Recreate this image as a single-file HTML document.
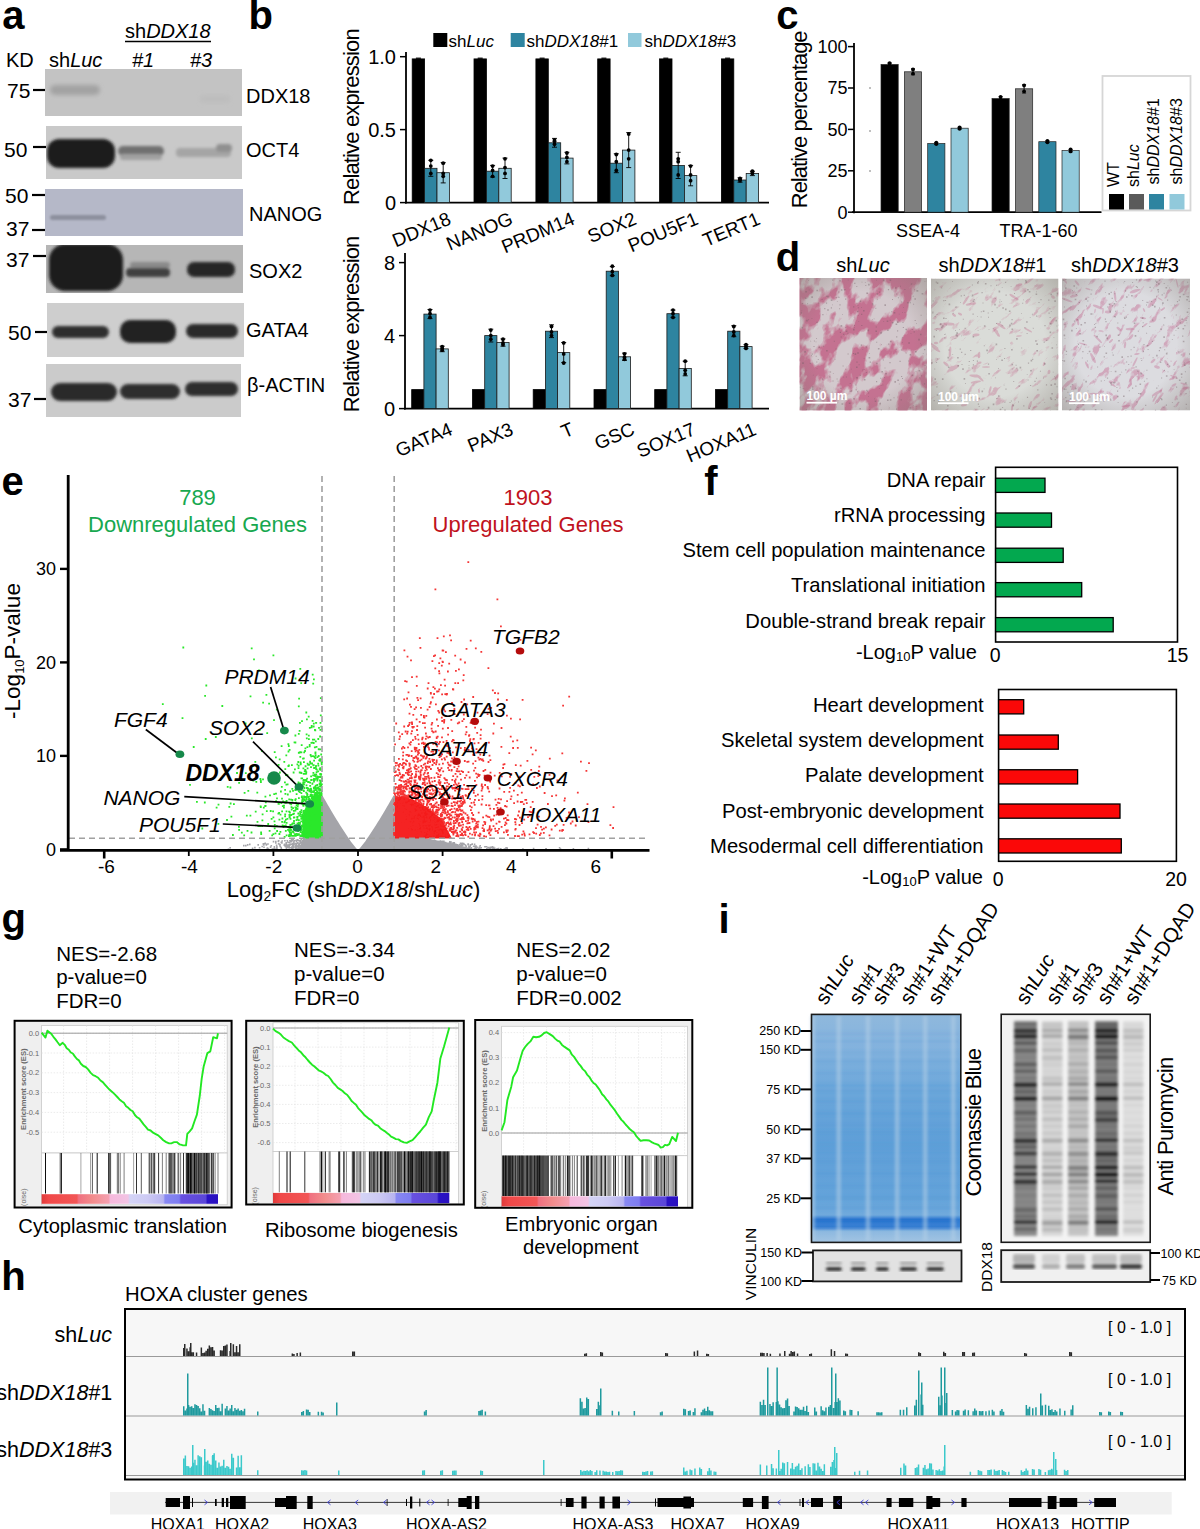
<!DOCTYPE html>
<html><head><meta charset="utf-8"><title>Figure</title>
<style>
html,body{margin:0;padding:0;background:#fff;}
body{width:1200px;height:1529px;overflow:hidden;}
svg{display:block;font-family:"Liberation Sans", sans-serif;}
</style></head><body>
<svg width="1200" height="1529" viewBox="0 0 1200 1529">
<defs>
<clipPath id="clip_a1"><rect x="45" y="69" width="197" height="47"/></clipPath>
<filter id="blura1" x="-20%" y="-50%" width="140%" height="200%"><feGaussianBlur stdDeviation="2.2"/></filter>
<clipPath id="clip_a2"><rect x="46" y="126" width="196" height="53"/></clipPath>
<filter id="blura2" x="-20%" y="-50%" width="140%" height="200%"><feGaussianBlur stdDeviation="1.8"/></filter>
<clipPath id="clip_a3"><rect x="45" y="189" width="198" height="47"/></clipPath>
<filter id="blura3" x="-20%" y="-50%" width="140%" height="200%"><feGaussianBlur stdDeviation="1.2"/></filter>
<clipPath id="clip_a4"><rect x="46" y="245" width="197" height="48"/></clipPath>
<filter id="blura4" x="-20%" y="-50%" width="140%" height="200%"><feGaussianBlur stdDeviation="1.6"/></filter>
<clipPath id="clip_a5"><rect x="47" y="303" width="197" height="54"/></clipPath>
<filter id="blura5" x="-20%" y="-50%" width="140%" height="200%"><feGaussianBlur stdDeviation="1.5"/></filter>
<clipPath id="clip_a6"><rect x="46" y="364" width="195" height="53"/></clipPath>
<filter id="blura6" x="-20%" y="-50%" width="140%" height="200%"><feGaussianBlur stdDeviation="1.5"/></filter>
<radialGradient id="vig" cx="0.5" cy="0.5" r="0.72"><stop offset="0.55" stop-color="#807870" stop-opacity="0"/><stop offset="1" stop-color="#807870" stop-opacity="0.45"/></radialGradient>
<clipPath id="mcd1"><rect x="799.5" y="278" width="127.5" height="132.5"/></clipPath>
<filter id="tbd1" x="0" y="0" width="1" height="1" color-interpolation-filters="sRGB"><feTurbulence type="fractalNoise" baseFrequency="0.04 0.065" numOctaves="4" seed="11"/><feColorMatrix type="matrix" values="0 0 0 0 0.753  0 0 0 0 0.353  0 0 0 0 0.502  1 0 0 0 0"/><feComponentTransfer><feFuncA type="linear" slope="7" intercept="-3.080"/></feComponentTransfer></filter>
<clipPath id="mcd2"><rect x="931" y="278.5" width="127.5" height="132"/></clipPath>
<filter id="tbd2" x="0" y="0" width="1" height="1" color-interpolation-filters="sRGB"><feTurbulence type="fractalNoise" baseFrequency="0.07 0.18" numOctaves="4" seed="22"/><feColorMatrix type="matrix" values="0 0 0 0 0.761  0 0 0 0 0.400  0 0 0 0 0.541  1 0 0 0 0"/><feComponentTransfer><feFuncA type="linear" slope="7" intercept="-4.200"/></feComponentTransfer></filter>
<clipPath id="mcd3"><rect x="1062" y="278.5" width="128" height="132"/></clipPath>
<filter id="tbd3" x="0" y="0" width="1" height="1" color-interpolation-filters="sRGB"><feTurbulence type="fractalNoise" baseFrequency="0.07 0.18" numOctaves="4" seed="33"/><feColorMatrix type="matrix" values="0 0 0 0 0.753  0 0 0 0 0.376  0 0 0 0 0.541  1 0 0 0 0"/><feComponentTransfer><feFuncA type="linear" slope="7" intercept="-4.060"/></feComponentTransfer></filter>
<linearGradient id="cbg1" x1="0" x2="1" y1="0" y2="0"><stop offset="0" stop-color="#e03a3a"/><stop offset="0.04" stop-color="#f04848"/><stop offset="0.2" stop-color="#f25656"/><stop offset="0.21" stop-color="#f07080"/><stop offset="0.29" stop-color="#f28c8c"/><stop offset="0.38" stop-color="#f4a0b0"/><stop offset="0.39" stop-color="#f6b8dc"/><stop offset="0.49" stop-color="#f2c4e4"/><stop offset="0.5" stop-color="#d4d4f6"/><stop offset="0.6" stop-color="#cdcaf4"/><stop offset="0.69" stop-color="#b8b4f0"/><stop offset="0.7" stop-color="#8888f2"/><stop offset="0.78" stop-color="#7d7cf0"/><stop offset="0.79" stop-color="#6850e0"/><stop offset="0.93" stop-color="#5a46d8"/><stop offset="0.94" stop-color="#2a12c4"/><stop offset="1" stop-color="#2a10c0"/></linearGradient>
<linearGradient id="cbg2" x1="0" x2="1" y1="0" y2="0"><stop offset="0" stop-color="#e03a3a"/><stop offset="0.04" stop-color="#f04848"/><stop offset="0.2" stop-color="#f25656"/><stop offset="0.21" stop-color="#f07080"/><stop offset="0.29" stop-color="#f28c8c"/><stop offset="0.38" stop-color="#f4a0b0"/><stop offset="0.39" stop-color="#f6b8dc"/><stop offset="0.49" stop-color="#f2c4e4"/><stop offset="0.5" stop-color="#d4d4f6"/><stop offset="0.6" stop-color="#cdcaf4"/><stop offset="0.69" stop-color="#b8b4f0"/><stop offset="0.7" stop-color="#8888f2"/><stop offset="0.78" stop-color="#7d7cf0"/><stop offset="0.79" stop-color="#6850e0"/><stop offset="0.93" stop-color="#5a46d8"/><stop offset="0.94" stop-color="#2a12c4"/><stop offset="1" stop-color="#2a10c0"/></linearGradient>
<linearGradient id="cbg3" x1="0" x2="1" y1="0" y2="0"><stop offset="0" stop-color="#e03a3a"/><stop offset="0.04" stop-color="#f04848"/><stop offset="0.2" stop-color="#f25656"/><stop offset="0.21" stop-color="#f07080"/><stop offset="0.29" stop-color="#f28c8c"/><stop offset="0.38" stop-color="#f4a0b0"/><stop offset="0.39" stop-color="#f6b8dc"/><stop offset="0.49" stop-color="#f2c4e4"/><stop offset="0.5" stop-color="#d4d4f6"/><stop offset="0.6" stop-color="#cdcaf4"/><stop offset="0.69" stop-color="#b8b4f0"/><stop offset="0.7" stop-color="#8888f2"/><stop offset="0.78" stop-color="#7d7cf0"/><stop offset="0.79" stop-color="#6850e0"/><stop offset="0.93" stop-color="#5a46d8"/><stop offset="0.94" stop-color="#2a12c4"/><stop offset="1" stop-color="#2a10c0"/></linearGradient>
<linearGradient id="cg" x1="0" x2="0" y1="0" y2="1"><stop offset="0" stop-color="#8fb8dc"/><stop offset="0.12" stop-color="#86b4de"/><stop offset="0.35" stop-color="#6aa6da"/><stop offset="0.55" stop-color="#5f9fd8"/><stop offset="0.8" stop-color="#64a3da"/><stop offset="0.88" stop-color="#70aadc"/><stop offset="0.9" stop-color="#2f7ad2"/><stop offset="0.93" stop-color="#3c84d6"/><stop offset="0.95" stop-color="#8cb8e0"/><stop offset="1" stop-color="#a2c4e2"/></linearGradient>
<filter id="gblur" x="-10%" y="-10%" width="120%" height="120%"><feGaussianBlur stdDeviation="1.6"/></filter>
<filter id="pblur" x="-10%" y="-5%" width="120%" height="110%"><feGaussianBlur stdDeviation="1.4"/></filter>
</defs>
<text x="2.3" y="28.6" font-size="40" font-weight="bold">a</text>
<text x="248.6" y="28.6" font-size="40" font-weight="bold">b</text>
<text x="776.2" y="28.6" font-size="40" font-weight="bold">c</text>
<text x="775.8" y="271.4" font-size="40" font-weight="bold">d</text>
<text x="1.4" y="495.3" font-size="40" font-weight="bold">e</text>
<text x="704.3" y="495.1" font-size="40" font-weight="bold">f</text>
<text x="1.4" y="932.3" font-size="40" font-weight="bold">g</text>
<text x="1.2" y="1290.0" font-size="40" font-weight="bold">h</text>
<text x="718.4" y="932.8" font-size="40" font-weight="bold">i</text>
<text x="125.0" y="38.0" font-size="20">sh<tspan font-style="italic">DDX18</tspan></text>
<line x1="125.0" y1="41.5" x2="211.0" y2="41.5" stroke="#000" stroke-width="1.6"/>
<text x="6.0" y="67.0" font-size="20">KD</text>
<text x="49.0" y="67.0" font-size="20">sh<tspan font-style="italic">Luc</tspan></text>
<text x="132.0" y="67.0" font-size="20" font-style="italic">#1</text>
<text x="190.0" y="67.0" font-size="20" font-style="italic">#3</text>
<g><rect x="45" y="69" width="197" height="47" fill="#c3c3c3"/>
<g clip-path="url(#clip_a1)"><g filter="url(#blura1)">
<rect x="50" y="85" width="50" height="10" rx="5" fill="#9a9a9a" opacity="0.8"/>
<rect x="200" y="95" width="30" height="8" rx="4" fill="#b8b8b8" opacity="0.5"/>
</g></g></g>
<g><rect x="46" y="126" width="196" height="53" fill="#c9c9c9"/>
<g clip-path="url(#clip_a2)"><g filter="url(#blura2)">
<rect x="47" y="139" width="68" height="29" rx="12" fill="#1e1e1e" opacity="1"/>
<rect x="118" y="146" width="46" height="10" rx="5" fill="#707070" opacity="1"/>
<rect x="120" y="154" width="42" height="6" rx="3" fill="#a0a0a0" opacity="1"/>
<rect x="176" y="148" width="55" height="9" rx="4" fill="#a5a5a5" opacity="1"/>
<rect x="216" y="144" width="16" height="8" rx="4" fill="#909090" opacity="1"/>
</g></g></g>
<g><rect x="45" y="189" width="198" height="47" fill="#b5b8c8"/>
<g clip-path="url(#clip_a3)"><g filter="url(#blura3)">
<rect x="50" y="215" width="56" height="5" rx="2.5" fill="#8d909e" opacity="1"/>
</g></g></g>
<g><rect x="46" y="245" width="197" height="48" fill="#b6b6b6"/>
<g clip-path="url(#clip_a4)"><g filter="url(#blura4)">
<rect x="49" y="244" width="74" height="47" rx="16" fill="#1c1c1c" opacity="1"/>
<rect x="126" y="268" width="44" height="9" rx="4" fill="#404040" opacity="1"/>
<rect x="130" y="262" width="40" height="6" rx="3" fill="#8a8a8a" opacity="1"/>
<rect x="187" y="262" width="48" height="15" rx="7" fill="#262626" opacity="1"/>
</g></g></g>
<g><rect x="47" y="303" width="197" height="54" fill="#cecece"/>
<g clip-path="url(#clip_a5)"><g filter="url(#blura5)">
<rect x="52" y="326" width="57" height="12" rx="6" fill="#2e2e2e" opacity="1"/>
<rect x="120" y="320" width="56" height="23" rx="10" fill="#222222" opacity="1"/>
<rect x="186" y="324" width="52" height="14" rx="7" fill="#2a2a2a" opacity="1"/>
</g></g></g>
<g><rect x="46" y="364" width="195" height="53" fill="#cbcbcb"/>
<g clip-path="url(#clip_a6)"><g filter="url(#blura6)">
<rect x="51" y="383" width="66" height="18" rx="9" fill="#2c2c2c" opacity="1"/>
<rect x="120" y="384" width="60" height="15" rx="8" fill="#2e2e2e" opacity="1"/>
<rect x="185" y="382" width="53" height="14" rx="7" fill="#2e2e2e" opacity="1"/>
</g></g></g>
<text x="7.0" y="98.0" font-size="21">75</text>
<line x1="33.0" y1="90.0" x2="45.0" y2="90.0" stroke="#000" stroke-width="2.2"/>
<text x="4.0" y="157.0" font-size="21">50</text>
<line x1="33.0" y1="147.0" x2="46.0" y2="147.0" stroke="#000" stroke-width="2.2"/>
<text x="5.0" y="203.0" font-size="21">50</text>
<line x1="32.0" y1="195.0" x2="45.0" y2="195.0" stroke="#000" stroke-width="2.2"/>
<text x="6.0" y="236.0" font-size="21">37</text>
<line x1="32.0" y1="230.0" x2="45.0" y2="230.0" stroke="#000" stroke-width="2.2"/>
<text x="6.0" y="267.0" font-size="21">37</text>
<line x1="33.0" y1="256.0" x2="46.0" y2="256.0" stroke="#000" stroke-width="2.2"/>
<text x="8.0" y="340.0" font-size="21">50</text>
<line x1="35.0" y1="332.0" x2="47.0" y2="332.0" stroke="#000" stroke-width="2.2"/>
<text x="8.0" y="407.0" font-size="21">37</text>
<line x1="34.0" y1="399.0" x2="46.0" y2="399.0" stroke="#000" stroke-width="2.2"/>
<text x="246.0" y="103.0" font-size="20">DDX18</text>
<text x="246.0" y="157.0" font-size="20">OCT4</text>
<text x="249.0" y="220.5" font-size="20">NANOG</text>
<text x="249.0" y="278.0" font-size="20">SOX2</text>
<text x="246.0" y="337.0" font-size="20">GATA4</text>
<text x="247.0" y="392.0" font-size="20">&#946;-ACTIN</text>
<rect x="433.3" y="33.0" width="14.0" height="14.0" fill="#000"/>
<text x="448.5" y="46.8" font-size="17">sh<tspan font-style="italic">Luc</tspan></text>
<rect x="510.7" y="33.0" width="14.0" height="14.0" fill="#2e84a0"/>
<text x="526.5" y="46.8" font-size="17">sh<tspan font-style="italic">DDX18</tspan>#1</text>
<rect x="628.0" y="33.0" width="13.5" height="14.0" fill="#91c9db"/>
<text x="644.5" y="46.8" font-size="17">sh<tspan font-style="italic">DDX18</tspan>#3</text>
<text x="358.9" y="117.1" font-size="22" text-anchor="middle" transform="rotate(-90 358.9 117.1)" letter-spacing="-0.85">Relative expression</text>
<line x1="406.0" y1="52.0" x2="406.0" y2="203.4" stroke="#000" stroke-width="1.8"/>
<line x1="405.0" y1="202.6" x2="769.0" y2="202.6" stroke="#000" stroke-width="1.8"/>
<line x1="400.0" y1="56.7" x2="406.0" y2="56.7" stroke="#000" stroke-width="1.5"/>
<text x="396.0" y="63.7" font-size="20" text-anchor="end">1.0</text>
<line x1="400.0" y1="129.6" x2="406.0" y2="129.6" stroke="#000" stroke-width="1.5"/>
<text x="396.0" y="136.6" font-size="20" text-anchor="end">0.5</text>
<line x1="400.0" y1="202.6" x2="406.0" y2="202.6" stroke="#000" stroke-width="1.5"/>
<text x="396.0" y="209.6" font-size="20" text-anchor="end">0</text>
<rect x="412.2" y="58.9" width="12.4" height="143.7" fill="#000" stroke="#000" stroke-width="0.8"/>
<line x1="415.9" y1="58.2" x2="420.9" y2="58.2" stroke="#000" stroke-width="1.2"/>
<rect x="424.6" y="168.3" width="12.4" height="34.3" fill="#2e84a0" stroke="#1a1a1a" stroke-width="0.8"/>
<rect x="437.0" y="172.7" width="12.4" height="29.9" fill="#91c9db" stroke="#1a1a1a" stroke-width="0.8"/>
<path d="M430.8 160.3V176.3M428.3 160.3h5.0M428.3 176.3h5.0" stroke="#000" stroke-width="0.9" fill="none"/>
<circle cx="430.8" cy="173.4" r="1.9" fill="#000"/>
<circle cx="430.8" cy="166.1" r="1.9" fill="#000"/>
<circle cx="430.8" cy="160.3" r="1.9" fill="#000"/>
<path d="M443.2 162.5V182.9M440.7 162.5h5.0M440.7 182.9h5.0" stroke="#000" stroke-width="0.9" fill="none"/>
<circle cx="443.2" cy="176.3" r="1.9" fill="#000"/>
<circle cx="443.2" cy="173.4" r="1.9" fill="#000"/>
<circle cx="443.2" cy="163.2" r="1.9" fill="#000"/>
<text x="452.2" y="223.5" font-size="19" text-anchor="end" transform="rotate(-23 452.2 223.5)">DDX18</text>
<rect x="474.0" y="58.9" width="12.4" height="143.7" fill="#000" stroke="#000" stroke-width="0.8"/>
<line x1="477.7" y1="58.2" x2="482.7" y2="58.2" stroke="#000" stroke-width="1.2"/>
<rect x="486.4" y="171.2" width="12.4" height="31.4" fill="#2e84a0" stroke="#1a1a1a" stroke-width="0.8"/>
<rect x="498.8" y="168.3" width="12.4" height="34.3" fill="#91c9db" stroke="#1a1a1a" stroke-width="0.8"/>
<path d="M492.6 165.4V177.1M490.1 165.4h5.0M490.1 177.1h5.0" stroke="#000" stroke-width="0.9" fill="none"/>
<circle cx="492.6" cy="176.3" r="1.9" fill="#000"/>
<circle cx="492.6" cy="170.5" r="1.9" fill="#000"/>
<circle cx="492.6" cy="166.1" r="1.9" fill="#000"/>
<path d="M505.0 158.1V178.5M502.5 158.1h5.0M502.5 178.5h5.0" stroke="#000" stroke-width="0.9" fill="none"/>
<circle cx="505.0" cy="173.4" r="1.9" fill="#000"/>
<circle cx="505.0" cy="167.6" r="1.9" fill="#000"/>
<circle cx="505.0" cy="158.8" r="1.9" fill="#000"/>
<text x="514.0" y="223.5" font-size="19" text-anchor="end" transform="rotate(-23 514.0 223.5)">NANOG</text>
<rect x="535.9" y="58.9" width="12.4" height="143.7" fill="#000" stroke="#000" stroke-width="0.8"/>
<line x1="539.6" y1="58.2" x2="544.6" y2="58.2" stroke="#000" stroke-width="1.2"/>
<rect x="548.3" y="142.8" width="12.4" height="59.8" fill="#2e84a0" stroke="#1a1a1a" stroke-width="0.8"/>
<rect x="560.7" y="158.1" width="12.4" height="44.5" fill="#91c9db" stroke="#1a1a1a" stroke-width="0.8"/>
<path d="M554.5 138.4V147.2M552.0 138.4h5.0M552.0 147.2h5.0" stroke="#000" stroke-width="0.9" fill="none"/>
<circle cx="554.5" cy="144.2" r="1.9" fill="#000"/>
<circle cx="554.5" cy="141.3" r="1.9" fill="#000"/>
<circle cx="554.5" cy="139.9" r="1.9" fill="#000"/>
<path d="M566.9 152.3V163.9M564.4 152.3h5.0M564.4 163.9h5.0" stroke="#000" stroke-width="0.9" fill="none"/>
<circle cx="566.9" cy="161.7" r="1.9" fill="#000"/>
<circle cx="566.9" cy="157.4" r="1.9" fill="#000"/>
<circle cx="566.9" cy="153.0" r="1.9" fill="#000"/>
<text x="575.9" y="223.5" font-size="19" text-anchor="end" transform="rotate(-23 575.9 223.5)">PRDM14</text>
<rect x="597.7" y="58.9" width="12.4" height="143.7" fill="#000" stroke="#000" stroke-width="0.8"/>
<line x1="601.4" y1="58.2" x2="606.4" y2="58.2" stroke="#000" stroke-width="1.2"/>
<rect x="610.1" y="163.2" width="12.4" height="39.4" fill="#2e84a0" stroke="#1a1a1a" stroke-width="0.8"/>
<rect x="622.5" y="150.1" width="12.4" height="52.5" fill="#91c9db" stroke="#1a1a1a" stroke-width="0.8"/>
<path d="M616.3 153.7V172.7M613.8 153.7h5.0M613.8 172.7h5.0" stroke="#000" stroke-width="0.9" fill="none"/>
<circle cx="616.3" cy="170.5" r="1.9" fill="#000"/>
<circle cx="616.3" cy="161.7" r="1.9" fill="#000"/>
<circle cx="616.3" cy="154.5" r="1.9" fill="#000"/>
<path d="M628.7 132.6V167.6M626.2 132.6h5.0M626.2 167.6h5.0" stroke="#000" stroke-width="0.9" fill="none"/>
<circle cx="628.7" cy="158.8" r="1.9" fill="#000"/>
<circle cx="628.7" cy="150.1" r="1.9" fill="#000"/>
<circle cx="628.7" cy="134.0" r="1.9" fill="#000"/>
<text x="637.7" y="223.5" font-size="19" text-anchor="end" transform="rotate(-23 637.7 223.5)">SOX2</text>
<rect x="659.6" y="58.9" width="12.4" height="143.7" fill="#000" stroke="#000" stroke-width="0.8"/>
<line x1="663.3" y1="58.2" x2="668.3" y2="58.2" stroke="#000" stroke-width="1.2"/>
<rect x="672.0" y="165.4" width="12.4" height="37.2" fill="#2e84a0" stroke="#1a1a1a" stroke-width="0.8"/>
<rect x="684.4" y="175.6" width="12.4" height="27.0" fill="#91c9db" stroke="#1a1a1a" stroke-width="0.8"/>
<path d="M678.2 152.3V178.5M675.7 152.3h5.0M675.7 178.5h5.0" stroke="#000" stroke-width="0.9" fill="none"/>
<circle cx="678.2" cy="174.9" r="1.9" fill="#000"/>
<circle cx="678.2" cy="161.7" r="1.9" fill="#000"/>
<circle cx="678.2" cy="158.8" r="1.9" fill="#000"/>
<path d="M690.6 165.4V185.8M688.1 165.4h5.0M688.1 185.8h5.0" stroke="#000" stroke-width="0.9" fill="none"/>
<circle cx="690.6" cy="180.7" r="1.9" fill="#000"/>
<circle cx="690.6" cy="174.9" r="1.9" fill="#000"/>
<circle cx="690.6" cy="166.1" r="1.9" fill="#000"/>
<text x="699.6" y="223.5" font-size="19" text-anchor="end" transform="rotate(-23 699.6 223.5)">POU5F1</text>
<rect x="721.4" y="58.9" width="12.4" height="143.7" fill="#000" stroke="#000" stroke-width="0.8"/>
<line x1="725.1" y1="58.2" x2="730.1" y2="58.2" stroke="#000" stroke-width="1.2"/>
<rect x="733.8" y="180.0" width="12.4" height="22.6" fill="#2e84a0" stroke="#1a1a1a" stroke-width="0.8"/>
<rect x="746.2" y="173.4" width="12.4" height="29.2" fill="#91c9db" stroke="#1a1a1a" stroke-width="0.8"/>
<path d="M740.0 177.8V182.2M737.5 177.8h5.0M737.5 182.2h5.0" stroke="#000" stroke-width="0.9" fill="none"/>
<circle cx="740.0" cy="180.7" r="1.9" fill="#000"/>
<circle cx="740.0" cy="179.3" r="1.9" fill="#000"/>
<circle cx="740.0" cy="178.5" r="1.9" fill="#000"/>
<path d="M752.4 171.2V175.6M749.9 171.2h5.0M749.9 175.6h5.0" stroke="#000" stroke-width="0.9" fill="none"/>
<circle cx="752.4" cy="173.4" r="1.9" fill="#000"/>
<circle cx="752.4" cy="172.0" r="1.9" fill="#000"/>
<circle cx="752.4" cy="171.2" r="1.9" fill="#000"/>
<text x="761.4" y="223.5" font-size="19" text-anchor="end" transform="rotate(-23 761.4 223.5)">TERT1</text>
<text x="359.2" y="324.4" font-size="22" text-anchor="middle" transform="rotate(-90 359.2 324.4)" letter-spacing="-0.85">Relative expression</text>
<line x1="405.0" y1="253.0" x2="405.0" y2="409.4" stroke="#000" stroke-width="1.8"/>
<line x1="404.0" y1="408.6" x2="769.0" y2="408.6" stroke="#000" stroke-width="1.8"/>
<line x1="399.0" y1="262.6" x2="405.0" y2="262.6" stroke="#000" stroke-width="1.5"/>
<text x="395.0" y="269.6" font-size="20" text-anchor="end">8</text>
<line x1="399.0" y1="335.6" x2="405.0" y2="335.6" stroke="#000" stroke-width="1.5"/>
<text x="395.0" y="342.6" font-size="20" text-anchor="end">4</text>
<line x1="399.0" y1="408.6" x2="405.0" y2="408.6" stroke="#000" stroke-width="1.5"/>
<text x="395.0" y="415.6" font-size="20" text-anchor="end">0</text>
<rect x="411.7" y="389.6" width="12.2" height="19.0" fill="#000" stroke="#000" stroke-width="0.8"/>
<rect x="423.9" y="314.1" width="12.2" height="94.5" fill="#2e84a0" stroke="#1a1a1a" stroke-width="0.8"/>
<rect x="436.1" y="348.9" width="12.2" height="59.7" fill="#91c9db" stroke="#1a1a1a" stroke-width="0.8"/>
<path d="M430.0 309.5V318.6M427.5 309.5h5.0M427.5 318.6h5.0" stroke="#000" stroke-width="0.9" fill="none"/>
<circle cx="430.0" cy="317.4" r="1.9" fill="#000"/>
<circle cx="430.0" cy="313.7" r="1.9" fill="#000"/>
<circle cx="430.0" cy="310.1" r="1.9" fill="#000"/>
<path d="M442.2 346.2V351.7M439.7 346.2h5.0M439.7 351.7h5.0" stroke="#000" stroke-width="0.9" fill="none"/>
<circle cx="442.2" cy="350.2" r="1.9" fill="#000"/>
<circle cx="442.2" cy="348.4" r="1.9" fill="#000"/>
<circle cx="442.2" cy="346.6" r="1.9" fill="#000"/>
<text x="453.7" y="434.0" font-size="19" text-anchor="end" transform="rotate(-23 453.7 434.0)">GATA4</text>
<rect x="472.5" y="389.6" width="12.2" height="19.0" fill="#000" stroke="#000" stroke-width="0.8"/>
<rect x="484.7" y="335.6" width="12.2" height="73.0" fill="#2e84a0" stroke="#1a1a1a" stroke-width="0.8"/>
<rect x="496.9" y="342.5" width="12.2" height="66.1" fill="#91c9db" stroke="#1a1a1a" stroke-width="0.8"/>
<path d="M490.8 329.2V342.0M488.3 329.2h5.0M488.3 342.0h5.0" stroke="#000" stroke-width="0.9" fill="none"/>
<circle cx="490.8" cy="339.2" r="1.9" fill="#000"/>
<circle cx="490.8" cy="335.6" r="1.9" fill="#000"/>
<circle cx="490.8" cy="330.1" r="1.9" fill="#000"/>
<path d="M503.0 338.9V346.2M500.5 338.9h5.0M500.5 346.2h5.0" stroke="#000" stroke-width="0.9" fill="none"/>
<circle cx="503.0" cy="344.7" r="1.9" fill="#000"/>
<circle cx="503.0" cy="342.9" r="1.9" fill="#000"/>
<circle cx="503.0" cy="339.2" r="1.9" fill="#000"/>
<text x="514.5" y="434.0" font-size="19" text-anchor="end" transform="rotate(-23 514.5 434.0)">PAX3</text>
<rect x="533.2" y="389.6" width="12.2" height="19.0" fill="#000" stroke="#000" stroke-width="0.8"/>
<rect x="545.4" y="331.2" width="12.2" height="77.4" fill="#2e84a0" stroke="#1a1a1a" stroke-width="0.8"/>
<rect x="557.6" y="352.6" width="12.2" height="56.0" fill="#91c9db" stroke="#1a1a1a" stroke-width="0.8"/>
<path d="M551.5 324.8V337.6M549.0 324.8h5.0M549.0 337.6h5.0" stroke="#000" stroke-width="0.9" fill="none"/>
<circle cx="551.5" cy="335.6" r="1.9" fill="#000"/>
<circle cx="551.5" cy="332.0" r="1.9" fill="#000"/>
<circle cx="551.5" cy="326.5" r="1.9" fill="#000"/>
<path d="M563.7 342.5V362.6M561.2 342.5h5.0M561.2 362.6h5.0" stroke="#000" stroke-width="0.9" fill="none"/>
<circle cx="563.7" cy="363.0" r="1.9" fill="#000"/>
<circle cx="563.7" cy="353.9" r="1.9" fill="#000"/>
<circle cx="563.7" cy="342.9" r="1.9" fill="#000"/>
<text x="575.2" y="434.0" font-size="19" text-anchor="end" transform="rotate(-23 575.2 434.0)">T</text>
<rect x="594.0" y="389.6" width="12.2" height="19.0" fill="#000" stroke="#000" stroke-width="0.8"/>
<rect x="606.2" y="271.2" width="12.2" height="137.4" fill="#2e84a0" stroke="#1a1a1a" stroke-width="0.8"/>
<rect x="618.4" y="356.8" width="12.2" height="51.8" fill="#91c9db" stroke="#1a1a1a" stroke-width="0.8"/>
<path d="M612.3 266.6V275.7M609.8 266.6h5.0M609.8 275.7h5.0" stroke="#000" stroke-width="0.9" fill="none"/>
<circle cx="612.3" cy="275.4" r="1.9" fill="#000"/>
<circle cx="612.3" cy="271.7" r="1.9" fill="#000"/>
<circle cx="612.3" cy="266.2" r="1.9" fill="#000"/>
<path d="M624.5 353.1V360.4M622.0 353.1h5.0M622.0 360.4h5.0" stroke="#000" stroke-width="0.9" fill="none"/>
<circle cx="624.5" cy="359.3" r="1.9" fill="#000"/>
<circle cx="624.5" cy="357.5" r="1.9" fill="#000"/>
<circle cx="624.5" cy="353.9" r="1.9" fill="#000"/>
<text x="636.0" y="434.0" font-size="19" text-anchor="end" transform="rotate(-23 636.0 434.0)">GSC</text>
<rect x="654.7" y="389.6" width="12.2" height="19.0" fill="#000" stroke="#000" stroke-width="0.8"/>
<rect x="666.9" y="313.7" width="12.2" height="94.9" fill="#2e84a0" stroke="#1a1a1a" stroke-width="0.8"/>
<rect x="679.1" y="368.5" width="12.2" height="40.2" fill="#91c9db" stroke="#1a1a1a" stroke-width="0.8"/>
<path d="M673.0 310.1V317.4M670.5 310.1h5.0M670.5 317.4h5.0" stroke="#000" stroke-width="0.9" fill="none"/>
<circle cx="673.0" cy="317.4" r="1.9" fill="#000"/>
<circle cx="673.0" cy="313.7" r="1.9" fill="#000"/>
<circle cx="673.0" cy="310.1" r="1.9" fill="#000"/>
<path d="M685.2 361.2V375.8M682.7 361.2h5.0M682.7 375.8h5.0" stroke="#000" stroke-width="0.9" fill="none"/>
<circle cx="685.2" cy="373.9" r="1.9" fill="#000"/>
<circle cx="685.2" cy="370.3" r="1.9" fill="#000"/>
<circle cx="685.2" cy="361.2" r="1.9" fill="#000"/>
<text x="696.7" y="434.0" font-size="19" text-anchor="end" transform="rotate(-23 696.7 434.0)">SOX17</text>
<rect x="715.5" y="389.6" width="12.2" height="19.0" fill="#000" stroke="#000" stroke-width="0.8"/>
<rect x="727.7" y="331.2" width="12.2" height="77.4" fill="#2e84a0" stroke="#1a1a1a" stroke-width="0.8"/>
<rect x="739.9" y="346.6" width="12.2" height="62.0" fill="#91c9db" stroke="#1a1a1a" stroke-width="0.8"/>
<path d="M733.8 325.7V336.7M731.3 325.7h5.0M731.3 336.7h5.0" stroke="#000" stroke-width="0.9" fill="none"/>
<circle cx="733.8" cy="335.6" r="1.9" fill="#000"/>
<circle cx="733.8" cy="332.0" r="1.9" fill="#000"/>
<circle cx="733.8" cy="326.5" r="1.9" fill="#000"/>
<path d="M746.0 344.7V348.4M743.5 344.7h5.0M743.5 348.4h5.0" stroke="#000" stroke-width="0.9" fill="none"/>
<circle cx="746.0" cy="348.4" r="1.9" fill="#000"/>
<circle cx="746.0" cy="346.6" r="1.9" fill="#000"/>
<circle cx="746.0" cy="344.7" r="1.9" fill="#000"/>
<text x="757.5" y="434.0" font-size="19" text-anchor="end" transform="rotate(-23 757.5 434.0)">HOXA11</text>
<text x="807.2" y="119.8" font-size="21.8" text-anchor="middle" transform="rotate(-90 807.2 119.8)" letter-spacing="-0.9">Relative percentage</text>
<line x1="854.0" y1="43.0" x2="854.0" y2="213.2" stroke="#000" stroke-width="1.8"/>
<line x1="852.0" y1="212.2" x2="1101.5" y2="212.2" stroke="#000" stroke-width="1.8"/>
<line x1="848.0" y1="46.6" x2="854.0" y2="46.6" stroke="#000" stroke-width="1.5"/>
<text x="847.5" y="52.9" font-size="18" text-anchor="end">100</text>
<line x1="848.0" y1="88.0" x2="854.0" y2="88.0" stroke="#000" stroke-width="1.5"/>
<text x="847.5" y="94.3" font-size="18" text-anchor="end">75</text>
<line x1="848.0" y1="129.4" x2="854.0" y2="129.4" stroke="#000" stroke-width="1.5"/>
<text x="847.5" y="135.7" font-size="18" text-anchor="end">50</text>
<line x1="848.0" y1="170.8" x2="854.0" y2="170.8" stroke="#000" stroke-width="1.5"/>
<text x="847.5" y="177.1" font-size="18" text-anchor="end">25</text>
<line x1="848.0" y1="212.2" x2="854.0" y2="212.2" stroke="#000" stroke-width="1.5"/>
<text x="847.5" y="218.5" font-size="18" text-anchor="end">0</text>
<rect x="869.0" y="87.2" width="2.0" height="1.6" fill="#b0b0b0"/>
<rect x="869.0" y="130.2" width="2.0" height="1.6" fill="#b0b0b0"/>
<rect x="869.0" y="170.2" width="2.0" height="1.6" fill="#b0b0b0"/>
<rect x="881" y="64.5" width="17.2" height="147.7" fill="#000" stroke="#222" stroke-width="0.7"/>
<path d="M889.6 62.8V66.1M887.6 62.8h4M887.6 66.1h4" stroke="#000" stroke-width="0.9" fill="none"/>
<circle cx="889.6" cy="65.5" r="1.9" fill="#000"/>
<circle cx="889.6" cy="63.2" r="1.9" fill="#000"/>
<rect x="904.4" y="71.8" width="17.2" height="140.4" fill="#7f7f7f" stroke="#222" stroke-width="0.7"/>
<path d="M913.0 68.8V74.8M911.0 68.8h4M911.0 74.8h4" stroke="#000" stroke-width="0.9" fill="none"/>
<circle cx="913.0" cy="73.6" r="1.9" fill="#000"/>
<circle cx="913.0" cy="69.4" r="1.9" fill="#000"/>
<rect x="927.7" y="143.5" width="17.2" height="68.7" fill="#2e84a0" stroke="#222" stroke-width="0.7"/>
<path d="M936.3 142.5V144.5M934.3 142.5h4M934.3 144.5h4" stroke="#000" stroke-width="0.9" fill="none"/>
<circle cx="936.3" cy="144.1" r="1.9" fill="#000"/>
<circle cx="936.3" cy="142.7" r="1.9" fill="#000"/>
<rect x="951" y="128.2" width="17.2" height="84.0" fill="#91c9db" stroke="#222" stroke-width="0.7"/>
<path d="M959.6 127.2V129.2M957.6 127.2h4M957.6 129.2h4" stroke="#000" stroke-width="0.9" fill="none"/>
<circle cx="959.6" cy="128.8" r="1.9" fill="#000"/>
<circle cx="959.6" cy="127.4" r="1.9" fill="#000"/>
<rect x="992" y="98.6" width="17.2" height="113.6" fill="#000" stroke="#222" stroke-width="0.7"/>
<path d="M1000.6 96.6V100.6M998.6 96.6h4M998.6 100.6h4" stroke="#000" stroke-width="0.9" fill="none"/>
<circle cx="1000.6" cy="99.8" r="1.9" fill="#000"/>
<circle cx="1000.6" cy="97.0" r="1.9" fill="#000"/>
<rect x="1015.5" y="88.8" width="17.2" height="123.4" fill="#7f7f7f" stroke="#222" stroke-width="0.7"/>
<path d="M1024.1 84.7V93.0M1022.1 84.7h4M1022.1 93.0h4" stroke="#000" stroke-width="0.9" fill="none"/>
<circle cx="1024.1" cy="91.3" r="1.9" fill="#000"/>
<circle cx="1024.1" cy="85.5" r="1.9" fill="#000"/>
<rect x="1038.8" y="141.7" width="17.2" height="70.5" fill="#2e84a0" stroke="#222" stroke-width="0.7"/>
<path d="M1047.4 140.7V142.6M1045.4 140.7h4M1045.4 142.6h4" stroke="#000" stroke-width="0.9" fill="none"/>
<circle cx="1047.4" cy="142.3" r="1.9" fill="#000"/>
<circle cx="1047.4" cy="140.9" r="1.9" fill="#000"/>
<rect x="1062" y="150.6" width="17.2" height="61.6" fill="#91c9db" stroke="#222" stroke-width="0.7"/>
<path d="M1070.6 149.3V151.9M1068.6 149.3h4M1068.6 151.9h4" stroke="#000" stroke-width="0.9" fill="none"/>
<circle cx="1070.6" cy="151.4" r="1.9" fill="#000"/>
<circle cx="1070.6" cy="149.5" r="1.9" fill="#000"/>
<text x="928.0" y="236.5" font-size="18" text-anchor="middle">SSEA-4</text>
<text x="1038.5" y="236.5" font-size="18" text-anchor="middle">TRA-1-60</text>
<rect x="1102.5" y="76" width="88" height="134.5" fill="#fff" stroke="#d6d6d6" stroke-width="1.8"/>
<rect x="1109.0" y="194.0" width="15.0" height="15.5" fill="#000"/>
<rect x="1129.0" y="194.0" width="15.0" height="15.5" fill="#5a5a5a"/>
<rect x="1149.0" y="194.0" width="15.0" height="15.5" fill="#2e84a0"/>
<rect x="1169.5" y="194.0" width="15.0" height="15.5" fill="#91c9db"/>
<text x="1118.5" y="187.0" font-size="16" transform="rotate(-90 1118.5 187.0)">WT</text>
<text x="1138.5" y="187.0" font-size="16" transform="rotate(-90 1138.5 187.0)">sh<tspan font-style="italic">Luc</tspan></text>
<text x="1159.0" y="184.5" font-size="16" transform="rotate(-90 1159.0 184.5)">sh<tspan font-style="italic">DDX18</tspan>#1</text>
<text x="1181.5" y="184.5" font-size="16" transform="rotate(-90 1181.5 184.5)">sh<tspan font-style="italic">DDX18</tspan>#3</text>
<text x="863.0" y="271.5" font-size="20" text-anchor="middle">sh<tspan font-style="italic">Luc</tspan></text>
<text x="992.5" y="271.5" font-size="20" text-anchor="middle">sh<tspan font-style="italic">DDX18</tspan>#1</text>
<text x="1125.0" y="271.5" font-size="20" text-anchor="middle">sh<tspan font-style="italic">DDX18</tspan>#3</text>
<g clip-path="url(#mcd1)"><rect x="799.5" y="278" width="127.5" height="132.5" fill="#d3c9cd"/>
<g transform="rotate(-65 863.2 344.2)" opacity="0.78"><rect x="753.2" y="234.2" width="220" height="220" filter="url(#tbd1)"/></g>
<path d="M857.2 352.2h1.6v1.6h-1.6zM857.1 391.3h1.0v1.0h-1.0zM823.0 345.8h1.0v1.0h-1.0zM811.5 318.2h0.8v0.8h-0.8zM868.2 396.0h0.8v0.8h-0.8zM875.4 330.5h1.6v1.6h-1.6zM882.9 359.6h1.0v1.0h-1.0zM878.9 388.2h0.8v0.8h-0.8zM807.1 303.2h1.0v1.0h-1.0zM876.0 381.1h1.2v1.2h-1.2zM855.7 389.6h1.0v1.0h-1.0zM881.1 344.2h0.8v0.8h-0.8zM857.8 314.9h0.8v0.8h-0.8zM889.7 319.8h1.0v1.0h-1.0zM864.9 281.9h0.8v0.8h-0.8zM850.6 390.2h1.6v1.6h-1.6zM808.0 280.2h0.8v0.8h-0.8zM826.7 400.8h0.8v0.8h-0.8zM859.4 407.9h1.6v1.6h-1.6zM853.0 353.0h1.0v1.0h-1.0zM898.8 313.7h0.8v0.8h-0.8zM839.2 280.0h1.6v1.6h-1.6zM896.2 293.6h1.0v1.0h-1.0zM889.6 279.5h1.6v1.6h-1.6zM901.1 301.5h1.0v1.0h-1.0zM856.5 303.3h1.0v1.0h-1.0zM853.0 328.8h1.6v1.6h-1.6zM853.1 306.2h1.2v1.2h-1.2zM909.7 407.2h1.2v1.2h-1.2zM926.7 280.6h1.0v1.0h-1.0zM849.8 391.2h0.8v0.8h-0.8zM804.9 297.4h1.6v1.6h-1.6zM832.4 380.4h1.2v1.2h-1.2zM905.4 329.2h0.8v0.8h-0.8zM811.0 355.2h1.0v1.0h-1.0zM801.5 326.8h1.6v1.6h-1.6zM815.7 355.8h1.0v1.0h-1.0zM910.0 302.2h1.0v1.0h-1.0zM839.1 308.3h1.0v1.0h-1.0zM892.0 299.0h1.0v1.0h-1.0zM887.1 329.4h1.6v1.6h-1.6zM876.5 333.8h0.8v0.8h-0.8zM813.4 345.9h1.2v1.2h-1.2zM829.9 371.4h1.2v1.2h-1.2zM853.2 397.9h1.6v1.6h-1.6zM836.9 301.2h0.8v0.8h-0.8zM815.6 341.5h0.8v0.8h-0.8zM835.2 399.6h1.0v1.0h-1.0zM895.0 287.2h1.6v1.6h-1.6zM856.3 286.0h1.0v1.0h-1.0zM835.5 348.4h1.0v1.0h-1.0zM811.3 296.3h1.6v1.6h-1.6zM924.5 365.0h1.0v1.0h-1.0zM874.7 400.4h1.6v1.6h-1.6zM915.6 370.9h0.8v0.8h-0.8zM802.2 362.3h1.6v1.6h-1.6zM808.1 319.2h1.0v1.0h-1.0zM926.9 288.0h1.2v1.2h-1.2zM893.5 397.3h1.0v1.0h-1.0zM900.6 399.2h1.2v1.2h-1.2zM810.3 340.7h0.8v0.8h-0.8zM910.6 333.3h0.8v0.8h-0.8zM909.6 353.9h1.6v1.6h-1.6zM847.8 279.6h0.8v0.8h-0.8zM809.7 362.7h1.2v1.2h-1.2zM911.7 374.5h1.6v1.6h-1.6zM918.6 370.0h1.6v1.6h-1.6zM855.7 389.1h0.8v0.8h-0.8zM865.6 346.2h1.2v1.2h-1.2zM876.2 341.7h1.0v1.0h-1.0zM921.6 293.0h1.6v1.6h-1.6zM832.1 279.5h1.2v1.2h-1.2zM817.8 359.1h1.0v1.0h-1.0zM895.6 323.4h1.6v1.6h-1.6zM863.0 310.0h1.6v1.6h-1.6zM884.4 304.3h1.6v1.6h-1.6zM902.0 378.0h1.0v1.0h-1.0zM911.7 328.9h1.2v1.2h-1.2zM826.3 295.8h1.2v1.2h-1.2zM906.2 390.5h0.8v0.8h-0.8zM920.6 314.7h1.0v1.0h-1.0zM813.9 340.5h1.0v1.0h-1.0zM905.4 328.7h1.6v1.6h-1.6zM885.2 372.9h1.6v1.6h-1.6zM840.3 387.8h1.2v1.2h-1.2zM910.8 283.5h1.2v1.2h-1.2zM872.2 318.9h0.8v0.8h-0.8zM881.2 331.7h1.0v1.0h-1.0zM802.7 387.9h1.0v1.0h-1.0zM898.9 383.6h0.8v0.8h-0.8zM856.4 361.5h1.2v1.2h-1.2zM921.7 368.7h1.0v1.0h-1.0zM904.5 311.9h0.8v0.8h-0.8zM895.8 348.9h0.8v0.8h-0.8zM822.3 314.1h1.2v1.2h-1.2zM868.3 403.5h1.0v1.0h-1.0zM849.7 382.9h1.0v1.0h-1.0zM810.6 401.6h1.6v1.6h-1.6zM816.1 338.1h0.8v0.8h-0.8zM847.5 353.4h1.2v1.2h-1.2zM858.6 364.3h1.0v1.0h-1.0zM812.1 392.8h0.8v0.8h-0.8zM826.7 397.2h0.8v0.8h-0.8zM924.1 349.1h1.2v1.2h-1.2zM832.9 373.2h0.8v0.8h-0.8zM843.9 289.0h1.6v1.6h-1.6zM843.1 333.8h1.2v1.2h-1.2zM861.6 281.8h0.8v0.8h-0.8zM854.2 282.7h1.2v1.2h-1.2zM887.0 399.4h1.6v1.6h-1.6zM818.5 346.4h1.6v1.6h-1.6zM920.1 343.3h0.8v0.8h-0.8zM896.1 336.2h1.2v1.2h-1.2zM905.5 352.4h1.0v1.0h-1.0zM866.2 389.8h1.2v1.2h-1.2zM839.2 328.5h1.0v1.0h-1.0zM838.3 296.7h1.2v1.2h-1.2zM872.6 304.6h0.8v0.8h-0.8zM863.7 358.2h0.8v0.8h-0.8zM868.1 283.8h1.6v1.6h-1.6zM868.9 409.1h0.8v0.8h-0.8zM862.1 369.6h0.8v0.8h-0.8zM918.2 338.8h1.6v1.6h-1.6zM833.8 340.7h1.0v1.0h-1.0zM842.8 397.4h1.6v1.6h-1.6zM866.4 292.4h1.6v1.6h-1.6zM878.3 400.6h1.0v1.0h-1.0zM889.0 407.5h0.8v0.8h-0.8zM824.2 308.1h1.2v1.2h-1.2zM840.6 325.1h1.6v1.6h-1.6zM812.9 374.8h0.8v0.8h-0.8zM908.1 360.6h1.0v1.0h-1.0zM888.9 394.4h0.8v0.8h-0.8zM847.4 332.8h1.0v1.0h-1.0zM868.1 392.5h1.0v1.0h-1.0zM867.0 390.8h1.0v1.0h-1.0zM829.2 376.2h1.2v1.2h-1.2zM914.6 319.9h1.2v1.2h-1.2zM913.1 303.8h1.0v1.0h-1.0zM912.7 295.7h1.0v1.0h-1.0zM816.4 289.7h1.6v1.6h-1.6zM811.9 388.3h1.6v1.6h-1.6zM868.8 371.4h1.0v1.0h-1.0zM850.9 368.8h0.8v0.8h-0.8zM811.7 353.5h1.2v1.2h-1.2zM915.7 406.3h0.8v0.8h-0.8zM889.4 362.1h1.2v1.2h-1.2zM863.6 368.9h1.0v1.0h-1.0zM901.9 341.9h0.8v0.8h-0.8zM804.3 351.1h1.6v1.6h-1.6zM818.2 302.5h1.0v1.0h-1.0zM821.5 298.9h1.2v1.2h-1.2zM917.7 290.6h0.8v0.8h-0.8zM816.6 368.2h0.8v0.8h-0.8zM897.0 321.3h1.6v1.6h-1.6zM853.9 325.0h1.0v1.0h-1.0zM876.1 279.8h0.8v0.8h-0.8zM907.1 302.0h1.6v1.6h-1.6zM845.3 327.1h1.0v1.0h-1.0zM876.6 290.6h0.8v0.8h-0.8zM840.8 289.2h1.6v1.6h-1.6zM872.1 303.3h1.2v1.2h-1.2zM902.1 312.2h0.8v0.8h-0.8zM894.4 381.1h1.6v1.6h-1.6zM816.5 321.7h1.2v1.2h-1.2zM897.3 379.4h1.6v1.6h-1.6zM825.9 302.5h1.2v1.2h-1.2zM838.0 291.4h1.2v1.2h-1.2zM925.8 397.6h0.8v0.8h-0.8zM829.1 403.2h1.2v1.2h-1.2zM842.6 365.4h1.0v1.0h-1.0zM867.5 329.6h1.6v1.6h-1.6zM881.4 370.9h1.6v1.6h-1.6zM924.5 281.0h0.8v0.8h-0.8zM893.7 312.0h1.6v1.6h-1.6zM863.9 378.9h1.6v1.6h-1.6zM800.9 312.3h1.2v1.2h-1.2zM915.0 350.9h1.6v1.6h-1.6zM922.8 353.3h0.8v0.8h-0.8zM880.8 385.3h0.8v0.8h-0.8zM869.6 366.6h0.8v0.8h-0.8zM848.8 402.4h1.6v1.6h-1.6zM859.6 300.4h1.6v1.6h-1.6zM868.6 357.0h1.6v1.6h-1.6zM920.0 333.7h1.6v1.6h-1.6zM875.7 326.4h1.2v1.2h-1.2zM861.1 313.7h1.2v1.2h-1.2zM884.1 377.1h0.8v0.8h-0.8zM801.3 310.5h0.8v0.8h-0.8zM880.2 332.2h1.6v1.6h-1.6zM806.2 319.8h1.6v1.6h-1.6zM805.9 409.0h1.2v1.2h-1.2zM808.9 398.0h1.6v1.6h-1.6zM891.2 311.2h1.0v1.0h-1.0zM805.3 291.0h1.6v1.6h-1.6zM817.9 405.2h1.0v1.0h-1.0zM876.5 293.2h1.6v1.6h-1.6zM857.6 305.0h0.8v0.8h-0.8zM845.0 298.5h1.2v1.2h-1.2zM856.0 366.5h1.6v1.6h-1.6zM876.1 362.7h1.6v1.6h-1.6zM845.9 376.6h1.0v1.0h-1.0zM921.0 375.3h1.0v1.0h-1.0zM860.8 344.6h1.2v1.2h-1.2zM899.5 360.8h1.2v1.2h-1.2zM834.5 358.8h1.0v1.0h-1.0zM880.2 377.8h1.0v1.0h-1.0zM920.9 344.5h1.0v1.0h-1.0zM911.5 283.2h0.8v0.8h-0.8zM800.7 312.4h0.8v0.8h-0.8zM879.0 291.6h1.2v1.2h-1.2zM808.7 289.5h1.0v1.0h-1.0zM869.7 361.6h1.2v1.2h-1.2zM861.2 324.9h1.2v1.2h-1.2zM843.3 376.7h0.8v0.8h-0.8zM901.8 337.3h1.0v1.0h-1.0zM856.2 377.0h1.6v1.6h-1.6zM902.8 326.9h1.2v1.2h-1.2zM836.6 378.6h1.0v1.0h-1.0zM854.0 326.9h0.8v0.8h-0.8zM858.4 321.0h0.8v0.8h-0.8zM854.6 353.3h1.6v1.6h-1.6zM837.6 380.8h0.8v0.8h-0.8zM839.0 398.7h0.8v0.8h-0.8zM888.1 343.6h1.2v1.2h-1.2zM835.6 296.9h1.2v1.2h-1.2zM883.3 321.3h0.8v0.8h-0.8zM840.6 336.4h1.2v1.2h-1.2zM855.3 384.4h1.2v1.2h-1.2zM857.9 307.3h1.0v1.0h-1.0zM810.2 387.8h0.8v0.8h-0.8zM845.8 330.4h1.6v1.6h-1.6zM901.0 375.9h1.2v1.2h-1.2zM901.1 349.6h1.0v1.0h-1.0zM822.0 378.6h1.2v1.2h-1.2zM903.0 307.3h0.8v0.8h-0.8zM868.9 353.2h0.8v0.8h-0.8zM882.5 384.6h0.8v0.8h-0.8zM873.7 318.5h0.8v0.8h-0.8zM842.2 314.3h0.8v0.8h-0.8zM914.1 289.2h1.0v1.0h-1.0zM811.9 386.2h1.6v1.6h-1.6zM830.8 307.2h1.2v1.2h-1.2zM897.0 330.3h1.2v1.2h-1.2zM902.4 322.1h1.0v1.0h-1.0zM862.4 349.2h0.8v0.8h-0.8zM889.8 399.2h1.6v1.6h-1.6zM896.0 408.6h1.2v1.2h-1.2zM908.3 384.8h0.8v0.8h-0.8zM912.8 404.9h0.8v0.8h-0.8zM866.3 372.1h0.8v0.8h-0.8zM853.3 333.7h1.0v1.0h-1.0zM830.8 299.5h1.6v1.6h-1.6zM886.7 320.5h1.6v1.6h-1.6zM853.7 316.7h0.8v0.8h-0.8zM859.6 374.8h1.2v1.2h-1.2zM882.1 380.8h1.0v1.0h-1.0zM915.8 377.8h0.8v0.8h-0.8zM874.0 398.5h0.8v0.8h-0.8zM839.4 304.2h1.2v1.2h-1.2zM827.2 309.2h1.6v1.6h-1.6zM875.3 307.7h1.0v1.0h-1.0zM913.6 331.3h1.2v1.2h-1.2zM879.4 402.8h1.6v1.6h-1.6zM908.3 342.2h1.6v1.6h-1.6zM916.1 323.3h0.8v0.8h-0.8zM861.0 307.3h0.8v0.8h-0.8zM827.2 295.8h1.6v1.6h-1.6zM923.9 383.3h1.2v1.2h-1.2zM899.9 285.7h1.0v1.0h-1.0zM913.3 393.8h1.2v1.2h-1.2zM856.9 310.7h1.6v1.6h-1.6zM876.8 298.8h1.0v1.0h-1.0zM897.9 297.2h1.0v1.0h-1.0zM880.7 409.6h1.2v1.2h-1.2zM865.3 285.0h1.0v1.0h-1.0zM799.7 386.8h1.0v1.0h-1.0zM904.3 288.9h1.2v1.2h-1.2zM877.9 348.0h1.6v1.6h-1.6zM887.9 289.0h1.2v1.2h-1.2zM801.9 302.9h1.0v1.0h-1.0zM916.4 290.1h1.6v1.6h-1.6zM826.1 350.0h1.6v1.6h-1.6zM819.6 388.2h1.2v1.2h-1.2zM839.8 331.7h1.2v1.2h-1.2zM926.7 366.4h0.8v0.8h-0.8zM845.4 369.0h0.8v0.8h-0.8zM884.6 367.6h0.8v0.8h-0.8zM882.9 279.6h1.6v1.6h-1.6zM890.2 341.0h1.2v1.2h-1.2zM871.4 338.7h0.8v0.8h-0.8zM908.6 389.9h1.0v1.0h-1.0zM914.4 298.2h1.6v1.6h-1.6zM919.0 377.3h1.2v1.2h-1.2zM895.8 351.6h0.8v0.8h-0.8zM832.2 304.5h0.8v0.8h-0.8zM841.5 403.2h1.6v1.6h-1.6zM891.8 321.9h1.6v1.6h-1.6zM811.3 296.7h0.8v0.8h-0.8zM816.3 361.5h1.0v1.0h-1.0z" fill="#6f5a62" opacity="0.4"/>
<rect x="799.5" y="278" width="127.5" height="132.5" fill="url(#vig)"/>
</g>
<text x="806.5" y="400.3" font-size="12" font-weight="bold" fill="#fff">100 &#181;m</text>
<rect x="806.5" y="401.8" width="30.5" height="1.8" fill="#fff"/>
<g clip-path="url(#mcd2)"><rect x="931" y="278.5" width="127.5" height="132" fill="#dadcd8"/>
<g transform="rotate(-40 994.8 344.5)" opacity="0.36"><rect x="884.8" y="234.5" width="220" height="220" filter="url(#tbd2)"/></g>
<g fill="#c2668a" opacity="0.35"><ellipse cx="1053" cy="297" rx="2.1" ry="1.5" transform="rotate(33 1053 297)"/><ellipse cx="946" cy="364" rx="3.4" ry="1.4" transform="rotate(42 946 364)"/><ellipse cx="1053" cy="321" rx="4.4" ry="1.4" transform="rotate(123 1053 321)"/><ellipse cx="1049" cy="372" rx="2.2" ry="1.4" transform="rotate(106 1049 372)"/><ellipse cx="971" cy="304" rx="5.4" ry="1.2" transform="rotate(169 971 304)"/><ellipse cx="1030" cy="405" rx="4.3" ry="1.3" transform="rotate(110 1030 405)"/><ellipse cx="964" cy="405" rx="3.2" ry="1.3" transform="rotate(172 964 405)"/><ellipse cx="1014" cy="297" rx="5.3" ry="1.2" transform="rotate(33 1014 297)"/><ellipse cx="937" cy="349" rx="2.1" ry="1.4" transform="rotate(91 937 349)"/><ellipse cx="997" cy="333" rx="4.6" ry="1.4" transform="rotate(55 997 333)"/><ellipse cx="979" cy="355" rx="3.2" ry="1.2" transform="rotate(98 979 355)"/><ellipse cx="986" cy="367" rx="4.1" ry="0.8" transform="rotate(179 986 367)"/><ellipse cx="976" cy="335" rx="3.6" ry="1.4" transform="rotate(171 976 335)"/><ellipse cx="996" cy="331" rx="2.4" ry="1.4" transform="rotate(31 996 331)"/><ellipse cx="1001" cy="325" rx="3.3" ry="1.0" transform="rotate(34 1001 325)"/><ellipse cx="936" cy="349" rx="5.2" ry="1.2" transform="rotate(36 936 349)"/><ellipse cx="1019" cy="285" rx="3.6" ry="1.4" transform="rotate(166 1019 285)"/><ellipse cx="990" cy="390" rx="4.0" ry="1.1" transform="rotate(105 990 390)"/><ellipse cx="1057" cy="377" rx="3.9" ry="1.3" transform="rotate(116 1057 377)"/><ellipse cx="976" cy="382" rx="5.3" ry="1.2" transform="rotate(170 976 382)"/><ellipse cx="933" cy="345" rx="4.5" ry="1.0" transform="rotate(31 933 345)"/><ellipse cx="1019" cy="336" rx="3.1" ry="0.7" transform="rotate(174 1019 336)"/><ellipse cx="976" cy="294" rx="2.9" ry="0.9" transform="rotate(156 976 294)"/><ellipse cx="954" cy="315" rx="2.4" ry="1.1" transform="rotate(37 954 315)"/><ellipse cx="975" cy="376" rx="5.7" ry="1.4" transform="rotate(7 975 376)"/><ellipse cx="979" cy="391" rx="2.1" ry="0.9" transform="rotate(88 979 391)"/><ellipse cx="980" cy="378" rx="4.9" ry="1.1" transform="rotate(45 980 378)"/><ellipse cx="960" cy="314" rx="2.3" ry="1.2" transform="rotate(28 960 314)"/><ellipse cx="1044" cy="364" rx="2.2" ry="1.1" transform="rotate(109 1044 364)"/><ellipse cx="936" cy="343" rx="2.1" ry="1.3" transform="rotate(1 936 343)"/><ellipse cx="1012" cy="409" rx="5.4" ry="0.9" transform="rotate(96 1012 409)"/><ellipse cx="949" cy="324" rx="5.5" ry="1.4" transform="rotate(2 949 324)"/><ellipse cx="979" cy="363" rx="2.7" ry="1.3" transform="rotate(161 979 363)"/><ellipse cx="1001" cy="326" rx="5.4" ry="1.1" transform="rotate(34 1001 326)"/><ellipse cx="966" cy="300" rx="5.4" ry="1.1" transform="rotate(125 966 300)"/><ellipse cx="1035" cy="407" rx="2.8" ry="1.0" transform="rotate(157 1035 407)"/><ellipse cx="1028" cy="330" rx="4.6" ry="0.9" transform="rotate(29 1028 330)"/><ellipse cx="937" cy="329" rx="2.9" ry="1.1" transform="rotate(175 937 329)"/><ellipse cx="950" cy="352" rx="5.5" ry="1.2" transform="rotate(95 950 352)"/><ellipse cx="1029" cy="281" rx="5.8" ry="1.2" transform="rotate(145 1029 281)"/></g>
<path d="M1036.2 291.5h0.8v0.8h-0.8zM1048.5 312.5h1.2v1.2h-1.2zM1050.6 398.5h1.6v1.6h-1.6zM1004.3 347.9h1.2v1.2h-1.2zM972.1 367.7h0.8v0.8h-0.8zM1045.9 384.2h1.2v1.2h-1.2zM1017.6 278.9h1.0v1.0h-1.0zM938.3 400.7h1.2v1.2h-1.2zM1044.3 402.2h0.8v0.8h-0.8zM944.2 337.3h1.2v1.2h-1.2zM1048.2 299.6h1.2v1.2h-1.2zM983.9 325.2h1.6v1.6h-1.6zM970.1 349.9h1.2v1.2h-1.2zM1046.2 339.8h1.2v1.2h-1.2zM996.6 307.2h1.0v1.0h-1.0zM1035.9 377.7h1.0v1.0h-1.0zM987.7 312.4h1.0v1.0h-1.0zM1035.6 293.5h1.6v1.6h-1.6zM972.6 300.5h1.6v1.6h-1.6zM939.8 323.3h1.6v1.6h-1.6zM947.9 366.5h1.6v1.6h-1.6zM986.3 349.6h1.6v1.6h-1.6zM1018.5 385.2h1.6v1.6h-1.6zM977.0 316.2h0.8v0.8h-0.8zM1050.4 293.7h1.6v1.6h-1.6zM1027.1 289.0h1.6v1.6h-1.6zM1031.9 313.8h1.0v1.0h-1.0zM933.6 400.0h1.2v1.2h-1.2zM999.5 355.9h1.0v1.0h-1.0zM1049.9 323.0h1.6v1.6h-1.6zM988.3 373.0h1.6v1.6h-1.6zM1016.1 338.1h1.6v1.6h-1.6zM964.4 393.2h1.0v1.0h-1.0zM959.7 348.5h1.2v1.2h-1.2zM1004.0 358.0h1.0v1.0h-1.0zM1008.9 310.4h1.6v1.6h-1.6zM1032.7 327.7h0.8v0.8h-0.8zM1005.0 308.6h1.6v1.6h-1.6zM978.7 405.9h1.0v1.0h-1.0zM936.9 358.4h1.2v1.2h-1.2zM1014.0 292.9h1.0v1.0h-1.0zM981.5 292.0h1.2v1.2h-1.2zM932.6 300.4h1.2v1.2h-1.2zM951.1 402.7h1.0v1.0h-1.0zM1021.0 313.0h0.8v0.8h-0.8zM991.7 301.7h0.8v0.8h-0.8zM1019.6 366.8h1.6v1.6h-1.6zM999.6 321.5h1.2v1.2h-1.2zM960.1 302.2h0.8v0.8h-0.8zM1009.3 326.4h0.8v0.8h-0.8zM1036.4 349.9h1.6v1.6h-1.6zM1010.8 322.8h1.6v1.6h-1.6zM1028.8 291.0h1.6v1.6h-1.6zM964.6 353.7h1.2v1.2h-1.2zM949.7 398.0h1.6v1.6h-1.6zM996.2 397.9h1.2v1.2h-1.2zM999.6 299.4h0.8v0.8h-0.8zM988.6 329.3h0.8v0.8h-0.8zM977.0 282.1h1.6v1.6h-1.6zM980.6 316.6h1.0v1.0h-1.0zM1050.1 410.4h0.8v0.8h-0.8zM936.3 386.3h1.2v1.2h-1.2zM982.5 302.5h1.0v1.0h-1.0zM952.1 281.1h0.8v0.8h-0.8zM955.6 334.2h1.6v1.6h-1.6zM1011.5 319.0h1.2v1.2h-1.2zM1024.4 327.0h0.8v0.8h-0.8zM1002.1 407.1h1.0v1.0h-1.0zM955.1 330.1h0.8v0.8h-0.8zM1034.4 380.7h1.2v1.2h-1.2zM1025.0 279.9h1.6v1.6h-1.6zM998.0 395.2h1.6v1.6h-1.6zM955.2 306.5h1.2v1.2h-1.2zM936.7 282.3h1.6v1.6h-1.6zM946.0 324.7h0.8v0.8h-0.8zM1012.4 404.6h1.6v1.6h-1.6zM952.7 312.7h1.0v1.0h-1.0zM1030.6 359.8h1.6v1.6h-1.6zM945.7 392.9h1.0v1.0h-1.0zM963.7 294.7h1.2v1.2h-1.2zM1054.7 399.1h1.2v1.2h-1.2zM975.4 409.6h0.8v0.8h-0.8zM1016.3 367.7h1.0v1.0h-1.0zM956.4 306.4h1.0v1.0h-1.0zM971.7 296.0h0.8v0.8h-0.8zM1049.8 308.5h0.8v0.8h-0.8zM1005.4 388.6h1.2v1.2h-1.2zM945.2 333.7h0.8v0.8h-0.8zM1025.5 281.3h1.6v1.6h-1.6zM1026.6 332.9h1.0v1.0h-1.0zM1027.6 379.5h1.0v1.0h-1.0zM971.9 284.4h1.0v1.0h-1.0zM941.9 378.3h1.6v1.6h-1.6zM961.1 351.8h1.2v1.2h-1.2zM960.7 295.3h1.2v1.2h-1.2zM1017.3 369.6h0.8v0.8h-0.8zM1005.0 281.7h1.2v1.2h-1.2zM1051.5 347.2h1.6v1.6h-1.6zM944.3 334.1h0.8v0.8h-0.8zM977.8 403.6h1.2v1.2h-1.2zM980.8 311.2h1.0v1.0h-1.0zM943.0 317.5h1.6v1.6h-1.6zM972.5 313.6h1.2v1.2h-1.2zM1023.2 405.2h1.2v1.2h-1.2zM1028.7 407.7h1.2v1.2h-1.2zM1036.1 315.6h1.2v1.2h-1.2zM1054.2 383.3h1.6v1.6h-1.6zM1001.1 301.2h0.8v0.8h-0.8zM993.8 410.4h1.0v1.0h-1.0zM961.0 335.4h0.8v0.8h-0.8zM1035.1 340.2h1.6v1.6h-1.6zM987.8 406.8h1.6v1.6h-1.6zM942.1 325.2h1.6v1.6h-1.6zM945.4 317.9h1.2v1.2h-1.2zM1050.5 384.3h1.6v1.6h-1.6zM999.7 408.7h1.6v1.6h-1.6zM982.8 310.5h1.6v1.6h-1.6zM978.5 397.8h1.6v1.6h-1.6zM1052.8 371.8h0.8v0.8h-0.8zM977.8 280.9h1.2v1.2h-1.2zM1026.8 374.0h0.8v0.8h-0.8zM992.7 403.6h1.6v1.6h-1.6zM932.3 311.4h1.2v1.2h-1.2zM990.5 285.2h1.0v1.0h-1.0zM1056.5 325.6h0.8v0.8h-0.8zM997.6 284.8h0.8v0.8h-0.8zM934.4 378.3h1.6v1.6h-1.6zM1054.7 377.5h1.0v1.0h-1.0zM1003.7 384.7h0.8v0.8h-0.8zM1005.5 294.5h1.2v1.2h-1.2zM935.9 330.1h1.0v1.0h-1.0zM1054.2 376.0h0.8v0.8h-0.8zM1056.5 386.3h1.0v1.0h-1.0zM999.3 301.5h1.0v1.0h-1.0zM943.2 300.1h1.2v1.2h-1.2zM954.5 337.9h0.8v0.8h-0.8zM1001.6 325.3h1.0v1.0h-1.0zM968.7 360.9h1.2v1.2h-1.2zM962.8 400.5h0.8v0.8h-0.8zM968.5 367.4h1.0v1.0h-1.0zM1010.9 400.5h1.0v1.0h-1.0zM1058.5 324.5h1.2v1.2h-1.2zM998.6 290.8h1.6v1.6h-1.6zM947.0 404.9h1.6v1.6h-1.6zM1049.6 317.1h1.0v1.0h-1.0zM995.1 377.5h0.8v0.8h-0.8zM1004.4 401.7h1.0v1.0h-1.0zM963.6 378.1h1.6v1.6h-1.6zM969.9 396.9h1.6v1.6h-1.6zM944.9 299.9h1.2v1.2h-1.2zM987.1 352.7h0.8v0.8h-0.8zM973.6 299.1h1.2v1.2h-1.2zM1011.5 328.4h1.6v1.6h-1.6zM936.7 394.2h1.6v1.6h-1.6zM1024.6 290.5h1.2v1.2h-1.2zM1027.9 362.6h1.2v1.2h-1.2zM1022.2 302.7h1.0v1.0h-1.0zM1013.2 380.9h1.0v1.0h-1.0zM1049.9 397.2h1.6v1.6h-1.6zM1056.7 292.6h1.6v1.6h-1.6zM1039.9 370.7h1.0v1.0h-1.0zM971.8 294.6h1.6v1.6h-1.6zM1049.6 331.6h1.6v1.6h-1.6zM962.8 318.8h1.0v1.0h-1.0zM1054.3 300.3h1.6v1.6h-1.6zM1030.2 369.9h1.6v1.6h-1.6zM981.5 390.6h1.6v1.6h-1.6zM1032.1 358.7h1.2v1.2h-1.2zM983.7 388.4h0.8v0.8h-0.8zM961.5 363.9h1.0v1.0h-1.0zM972.6 335.9h1.6v1.6h-1.6zM949.9 390.8h1.6v1.6h-1.6zM1037.2 389.3h1.2v1.2h-1.2zM988.0 316.8h1.0v1.0h-1.0zM1043.6 341.6h1.2v1.2h-1.2zM936.1 362.1h1.0v1.0h-1.0zM936.6 328.3h0.8v0.8h-0.8zM998.6 290.4h1.2v1.2h-1.2zM933.4 335.8h1.6v1.6h-1.6zM977.7 330.3h0.8v0.8h-0.8zM983.8 345.2h1.0v1.0h-1.0zM1038.4 301.9h1.2v1.2h-1.2zM1026.9 396.8h1.2v1.2h-1.2zM1011.5 363.7h1.6v1.6h-1.6zM1056.7 409.4h0.8v0.8h-0.8zM987.9 363.5h1.2v1.2h-1.2zM994.2 303.8h1.6v1.6h-1.6zM996.0 284.8h1.0v1.0h-1.0zM952.3 354.3h0.8v0.8h-0.8zM964.6 327.8h1.2v1.2h-1.2zM934.4 368.6h0.8v0.8h-0.8zM962.2 368.3h1.6v1.6h-1.6zM957.1 357.0h1.6v1.6h-1.6zM1040.4 299.0h1.2v1.2h-1.2zM1029.8 317.0h0.8v0.8h-0.8zM1018.0 401.6h0.8v0.8h-0.8zM961.3 400.1h0.8v0.8h-0.8zM1015.6 364.7h1.0v1.0h-1.0zM1009.5 402.1h1.0v1.0h-1.0zM1026.1 321.2h1.6v1.6h-1.6zM1043.1 377.6h0.8v0.8h-0.8zM999.2 279.6h0.8v0.8h-0.8zM994.7 298.1h1.0v1.0h-1.0zM965.0 383.1h0.8v0.8h-0.8zM976.8 360.6h1.2v1.2h-1.2zM968.2 393.3h1.6v1.6h-1.6zM1057.2 354.5h0.8v0.8h-0.8zM956.4 335.2h1.6v1.6h-1.6zM1009.2 324.6h1.6v1.6h-1.6zM1011.7 368.5h1.0v1.0h-1.0zM1027.3 396.9h0.8v0.8h-0.8zM1056.4 397.4h1.0v1.0h-1.0zM1051.3 393.0h1.6v1.6h-1.6zM1044.0 363.1h1.6v1.6h-1.6zM996.0 323.1h1.0v1.0h-1.0zM959.0 329.2h0.8v0.8h-0.8zM936.6 314.0h1.0v1.0h-1.0zM948.6 303.6h1.6v1.6h-1.6zM996.2 358.9h0.8v0.8h-0.8zM992.8 328.2h0.8v0.8h-0.8zM1030.0 384.9h1.2v1.2h-1.2zM932.2 312.4h1.2v1.2h-1.2zM1053.5 336.9h0.8v0.8h-0.8zM1029.9 405.7h0.8v0.8h-0.8zM972.8 364.2h1.2v1.2h-1.2zM1050.8 311.1h0.8v0.8h-0.8zM1023.0 299.4h0.8v0.8h-0.8zM1044.4 325.0h1.2v1.2h-1.2zM972.9 360.1h1.0v1.0h-1.0zM1021.3 347.6h0.8v0.8h-0.8zM935.7 281.5h1.2v1.2h-1.2zM998.1 368.1h0.8v0.8h-0.8zM941.3 287.6h0.8v0.8h-0.8zM995.6 343.6h1.6v1.6h-1.6zM948.3 349.4h1.2v1.2h-1.2zM991.7 311.0h1.0v1.0h-1.0zM1036.3 343.3h1.6v1.6h-1.6zM1033.0 327.9h0.8v0.8h-0.8zM1029.4 298.9h0.8v0.8h-0.8zM968.6 365.0h0.8v0.8h-0.8zM957.5 410.4h1.0v1.0h-1.0zM1055.4 319.8h1.6v1.6h-1.6zM1056.0 344.4h0.8v0.8h-0.8zM984.9 282.9h1.6v1.6h-1.6zM931.0 362.1h1.6v1.6h-1.6zM1025.4 327.4h0.8v0.8h-0.8zM1004.2 409.6h1.6v1.6h-1.6zM1002.3 307.2h1.6v1.6h-1.6zM1010.7 285.9h0.8v0.8h-0.8zM934.6 315.9h1.0v1.0h-1.0zM1001.8 286.9h0.8v0.8h-0.8zM956.3 332.3h1.6v1.6h-1.6zM1001.3 359.5h1.6v1.6h-1.6zM1049.2 308.3h1.0v1.0h-1.0zM941.1 326.6h1.6v1.6h-1.6zM1011.1 348.9h1.6v1.6h-1.6zM957.4 365.0h1.6v1.6h-1.6zM1051.0 294.1h0.8v0.8h-0.8zM947.4 356.8h1.6v1.6h-1.6zM955.7 403.3h1.0v1.0h-1.0z" fill="#6f5a62" opacity="0.4"/>
<rect x="931" y="278.5" width="127.5" height="132" fill="url(#vig)"/>
</g>
<text x="938.0" y="400.8" font-size="12" font-weight="bold" fill="#fff">100 &#181;m</text>
<rect x="938.0" y="402.3" width="30.5" height="1.8" fill="#fff"/>
<g clip-path="url(#mcd3)"><rect x="1062" y="278.5" width="128" height="132" fill="#dcdce0"/>
<g transform="rotate(-55 1126.0 344.5)" opacity="0.42"><rect x="1016.0" y="234.5" width="220" height="220" filter="url(#tbd3)"/></g>
<g fill="#c0608a" opacity="0.35"><ellipse cx="1135" cy="362" rx="5.3" ry="0.9" transform="rotate(117 1135 362)"/><ellipse cx="1176" cy="398" rx="2.7" ry="1.2" transform="rotate(111 1176 398)"/><ellipse cx="1126" cy="406" rx="4.1" ry="1.1" transform="rotate(170 1126 406)"/><ellipse cx="1143" cy="318" rx="3.2" ry="1.1" transform="rotate(9 1143 318)"/><ellipse cx="1140" cy="376" rx="3.7" ry="1.4" transform="rotate(167 1140 376)"/><ellipse cx="1133" cy="368" rx="2.5" ry="0.7" transform="rotate(176 1133 368)"/><ellipse cx="1098" cy="307" rx="5.6" ry="1.3" transform="rotate(22 1098 307)"/><ellipse cx="1103" cy="311" rx="3.1" ry="0.7" transform="rotate(94 1103 311)"/><ellipse cx="1101" cy="331" rx="2.7" ry="0.8" transform="rotate(6 1101 331)"/><ellipse cx="1174" cy="377" rx="4.2" ry="0.8" transform="rotate(27 1174 377)"/><ellipse cx="1077" cy="320" rx="2.2" ry="0.9" transform="rotate(37 1077 320)"/><ellipse cx="1087" cy="365" rx="3.8" ry="1.1" transform="rotate(64 1087 365)"/><ellipse cx="1131" cy="382" rx="3.2" ry="0.8" transform="rotate(87 1131 382)"/><ellipse cx="1111" cy="382" rx="2.4" ry="1.4" transform="rotate(3 1111 382)"/><ellipse cx="1131" cy="337" rx="3.3" ry="1.4" transform="rotate(126 1131 337)"/><ellipse cx="1083" cy="344" rx="4.4" ry="0.7" transform="rotate(16 1083 344)"/><ellipse cx="1139" cy="375" rx="3.9" ry="1.0" transform="rotate(91 1139 375)"/><ellipse cx="1095" cy="394" rx="5.8" ry="1.1" transform="rotate(4 1095 394)"/><ellipse cx="1113" cy="385" rx="3.3" ry="0.8" transform="rotate(33 1113 385)"/><ellipse cx="1153" cy="361" rx="3.1" ry="1.2" transform="rotate(137 1153 361)"/><ellipse cx="1186" cy="388" rx="3.7" ry="1.3" transform="rotate(167 1186 388)"/><ellipse cx="1173" cy="378" rx="4.3" ry="1.1" transform="rotate(153 1173 378)"/><ellipse cx="1142" cy="374" rx="2.9" ry="0.8" transform="rotate(49 1142 374)"/><ellipse cx="1137" cy="354" rx="2.8" ry="0.9" transform="rotate(171 1137 354)"/><ellipse cx="1071" cy="401" rx="5.1" ry="1.2" transform="rotate(179 1071 401)"/><ellipse cx="1149" cy="279" rx="5.8" ry="1.0" transform="rotate(165 1149 279)"/><ellipse cx="1166" cy="297" rx="2.2" ry="0.7" transform="rotate(141 1166 297)"/><ellipse cx="1163" cy="309" rx="2.5" ry="1.0" transform="rotate(144 1163 309)"/><ellipse cx="1157" cy="393" rx="5.9" ry="1.3" transform="rotate(150 1157 393)"/><ellipse cx="1064" cy="279" rx="5.4" ry="1.2" transform="rotate(59 1064 279)"/><ellipse cx="1078" cy="322" rx="3.4" ry="1.1" transform="rotate(81 1078 322)"/><ellipse cx="1088" cy="289" rx="2.8" ry="0.8" transform="rotate(18 1088 289)"/><ellipse cx="1115" cy="296" rx="5.2" ry="1.1" transform="rotate(83 1115 296)"/><ellipse cx="1144" cy="310" rx="2.1" ry="0.8" transform="rotate(61 1144 310)"/><ellipse cx="1108" cy="312" rx="3.2" ry="1.4" transform="rotate(2 1108 312)"/><ellipse cx="1119" cy="329" rx="3.1" ry="1.3" transform="rotate(40 1119 329)"/><ellipse cx="1067" cy="300" rx="5.9" ry="1.0" transform="rotate(21 1067 300)"/><ellipse cx="1186" cy="364" rx="5.8" ry="1.0" transform="rotate(146 1186 364)"/><ellipse cx="1067" cy="310" rx="5.2" ry="1.1" transform="rotate(142 1067 310)"/><ellipse cx="1111" cy="394" rx="2.3" ry="1.2" transform="rotate(34 1111 394)"/><ellipse cx="1088" cy="395" rx="3.7" ry="1.4" transform="rotate(51 1088 395)"/><ellipse cx="1155" cy="398" rx="4.5" ry="0.9" transform="rotate(120 1155 398)"/><ellipse cx="1184" cy="384" rx="3.8" ry="1.0" transform="rotate(18 1184 384)"/><ellipse cx="1160" cy="299" rx="2.9" ry="0.7" transform="rotate(30 1160 299)"/><ellipse cx="1111" cy="341" rx="2.7" ry="1.0" transform="rotate(136 1111 341)"/><ellipse cx="1074" cy="296" rx="4.1" ry="1.4" transform="rotate(165 1074 296)"/><ellipse cx="1135" cy="291" rx="5.5" ry="1.5" transform="rotate(162 1135 291)"/><ellipse cx="1130" cy="329" rx="4.3" ry="1.3" transform="rotate(179 1130 329)"/><ellipse cx="1125" cy="345" rx="3.2" ry="1.1" transform="rotate(98 1125 345)"/><ellipse cx="1098" cy="339" rx="5.7" ry="0.9" transform="rotate(46 1098 339)"/><ellipse cx="1101" cy="392" rx="3.2" ry="1.4" transform="rotate(167 1101 392)"/><ellipse cx="1174" cy="385" rx="2.8" ry="1.1" transform="rotate(148 1174 385)"/><ellipse cx="1093" cy="358" rx="5.5" ry="1.4" transform="rotate(63 1093 358)"/><ellipse cx="1077" cy="283" rx="3.3" ry="1.1" transform="rotate(50 1077 283)"/><ellipse cx="1167" cy="364" rx="4.5" ry="1.4" transform="rotate(59 1167 364)"/><ellipse cx="1145" cy="325" rx="3.2" ry="0.8" transform="rotate(142 1145 325)"/><ellipse cx="1177" cy="283" rx="4.9" ry="0.7" transform="rotate(75 1177 283)"/><ellipse cx="1103" cy="398" rx="3.7" ry="1.1" transform="rotate(64 1103 398)"/><ellipse cx="1095" cy="311" rx="2.2" ry="0.7" transform="rotate(99 1095 311)"/><ellipse cx="1157" cy="367" rx="3.0" ry="1.5" transform="rotate(14 1157 367)"/></g>
<path d="M1117.3 322.5h1.0v1.0h-1.0zM1111.6 297.7h1.2v1.2h-1.2zM1078.8 301.9h1.2v1.2h-1.2zM1106.9 377.5h1.2v1.2h-1.2zM1103.7 356.2h1.2v1.2h-1.2zM1082.3 403.4h1.6v1.6h-1.6zM1130.5 355.6h1.2v1.2h-1.2zM1085.4 298.3h1.6v1.6h-1.6zM1146.1 332.8h1.0v1.0h-1.0zM1185.6 393.1h1.0v1.0h-1.0zM1117.0 395.7h1.6v1.6h-1.6zM1159.2 280.0h1.0v1.0h-1.0zM1082.3 351.0h1.2v1.2h-1.2zM1185.6 319.9h1.2v1.2h-1.2zM1084.0 314.8h0.8v0.8h-0.8zM1076.4 287.6h0.8v0.8h-0.8zM1178.9 379.5h1.6v1.6h-1.6zM1131.1 294.9h1.6v1.6h-1.6zM1140.2 372.8h1.6v1.6h-1.6zM1110.7 384.4h1.2v1.2h-1.2zM1064.6 337.9h0.8v0.8h-0.8zM1176.8 398.6h1.0v1.0h-1.0zM1125.8 316.6h1.2v1.2h-1.2zM1176.3 325.8h1.0v1.0h-1.0zM1128.2 364.1h1.0v1.0h-1.0zM1088.4 296.9h0.8v0.8h-0.8zM1103.2 400.4h1.0v1.0h-1.0zM1186.3 296.0h0.8v0.8h-0.8zM1088.8 350.7h1.6v1.6h-1.6zM1125.2 369.3h1.2v1.2h-1.2zM1095.4 323.1h0.8v0.8h-0.8zM1070.1 386.3h1.0v1.0h-1.0zM1146.0 304.5h1.0v1.0h-1.0zM1075.8 294.1h1.2v1.2h-1.2zM1114.6 381.9h0.8v0.8h-0.8zM1166.6 352.3h0.8v0.8h-0.8zM1065.9 350.9h1.2v1.2h-1.2zM1094.8 326.7h1.2v1.2h-1.2zM1090.5 293.5h1.2v1.2h-1.2zM1110.6 291.8h1.2v1.2h-1.2zM1132.1 282.0h1.0v1.0h-1.0zM1134.7 335.1h1.6v1.6h-1.6zM1112.9 381.8h1.6v1.6h-1.6zM1151.9 304.5h1.6v1.6h-1.6zM1110.7 371.2h0.8v0.8h-0.8zM1180.3 393.4h1.2v1.2h-1.2zM1105.4 321.1h1.2v1.2h-1.2zM1077.3 319.2h1.2v1.2h-1.2zM1160.5 397.9h1.2v1.2h-1.2zM1137.8 330.8h1.0v1.0h-1.0zM1090.6 368.9h0.8v0.8h-0.8zM1158.8 350.0h1.2v1.2h-1.2zM1146.4 378.2h1.0v1.0h-1.0zM1163.4 406.9h0.8v0.8h-0.8zM1167.0 363.7h1.2v1.2h-1.2zM1113.6 303.0h1.6v1.6h-1.6zM1176.0 386.6h1.2v1.2h-1.2zM1062.8 279.5h1.6v1.6h-1.6zM1180.8 354.5h1.0v1.0h-1.0zM1169.1 287.6h1.0v1.0h-1.0zM1146.5 301.7h1.2v1.2h-1.2zM1063.5 360.2h1.6v1.6h-1.6zM1179.7 322.3h1.2v1.2h-1.2zM1175.7 314.4h1.2v1.2h-1.2zM1187.3 296.0h1.6v1.6h-1.6zM1173.7 369.3h0.8v0.8h-0.8zM1161.0 377.4h1.2v1.2h-1.2zM1152.2 396.5h1.0v1.0h-1.0zM1163.6 324.7h0.8v0.8h-0.8zM1123.4 282.4h0.8v0.8h-0.8zM1157.3 289.0h1.6v1.6h-1.6zM1157.8 291.2h1.2v1.2h-1.2zM1084.2 322.0h1.6v1.6h-1.6zM1081.9 357.6h0.8v0.8h-0.8zM1062.2 360.1h1.0v1.0h-1.0zM1165.9 375.2h1.6v1.6h-1.6zM1178.4 401.8h1.0v1.0h-1.0zM1141.8 317.3h1.6v1.6h-1.6zM1082.5 339.9h1.6v1.6h-1.6zM1185.1 382.2h1.6v1.6h-1.6zM1173.7 406.0h0.8v0.8h-0.8zM1156.0 295.8h1.0v1.0h-1.0zM1177.5 327.5h1.6v1.6h-1.6zM1087.2 300.4h1.2v1.2h-1.2zM1065.2 397.0h1.2v1.2h-1.2zM1138.9 279.5h1.2v1.2h-1.2zM1074.7 298.7h1.6v1.6h-1.6zM1110.2 399.5h1.2v1.2h-1.2zM1162.2 304.4h0.8v0.8h-0.8zM1171.9 402.1h0.8v0.8h-0.8zM1108.7 303.4h1.6v1.6h-1.6zM1105.2 292.3h0.8v0.8h-0.8zM1108.4 293.1h1.6v1.6h-1.6zM1188.6 300.8h1.2v1.2h-1.2zM1138.1 392.9h1.2v1.2h-1.2zM1179.3 295.9h1.6v1.6h-1.6zM1161.1 328.7h0.8v0.8h-0.8zM1186.3 298.9h1.6v1.6h-1.6zM1156.1 284.2h1.0v1.0h-1.0zM1184.3 325.0h1.2v1.2h-1.2zM1182.1 335.5h1.2v1.2h-1.2zM1147.8 302.4h0.8v0.8h-0.8zM1114.8 370.7h1.6v1.6h-1.6zM1109.9 398.6h1.0v1.0h-1.0zM1147.6 348.9h1.0v1.0h-1.0zM1113.8 315.9h1.2v1.2h-1.2zM1095.1 378.8h0.8v0.8h-0.8zM1115.0 310.7h1.0v1.0h-1.0zM1090.4 313.2h1.6v1.6h-1.6zM1073.8 404.3h0.8v0.8h-0.8zM1085.3 380.8h1.6v1.6h-1.6zM1077.4 406.9h1.0v1.0h-1.0zM1176.1 377.2h1.2v1.2h-1.2zM1071.8 384.1h1.0v1.0h-1.0zM1152.1 319.5h1.2v1.2h-1.2zM1071.1 329.8h1.6v1.6h-1.6zM1153.4 287.6h0.8v0.8h-0.8zM1083.9 401.2h1.0v1.0h-1.0zM1135.7 285.9h1.2v1.2h-1.2zM1184.2 362.6h0.8v0.8h-0.8zM1171.9 339.1h0.8v0.8h-0.8zM1067.4 391.8h1.0v1.0h-1.0zM1116.4 387.0h1.0v1.0h-1.0zM1118.2 339.9h1.6v1.6h-1.6zM1077.9 310.1h1.2v1.2h-1.2zM1178.7 299.6h1.2v1.2h-1.2zM1086.0 305.6h1.0v1.0h-1.0zM1171.2 290.0h0.8v0.8h-0.8zM1124.2 281.1h1.0v1.0h-1.0zM1188.4 308.1h1.0v1.0h-1.0zM1063.6 298.7h1.0v1.0h-1.0zM1125.2 410.2h1.2v1.2h-1.2zM1158.1 283.1h1.6v1.6h-1.6zM1180.8 373.3h1.6v1.6h-1.6zM1184.9 371.3h1.0v1.0h-1.0zM1100.7 380.4h1.2v1.2h-1.2zM1073.9 320.5h1.2v1.2h-1.2zM1119.5 374.1h1.2v1.2h-1.2zM1157.9 385.4h0.8v0.8h-0.8zM1156.2 387.5h1.2v1.2h-1.2zM1160.3 328.4h1.6v1.6h-1.6zM1065.8 354.1h0.8v0.8h-0.8zM1084.0 397.5h1.2v1.2h-1.2zM1130.6 349.3h1.0v1.0h-1.0zM1069.3 394.2h1.2v1.2h-1.2zM1146.4 369.8h1.0v1.0h-1.0zM1074.9 387.6h1.6v1.6h-1.6zM1139.5 383.4h1.6v1.6h-1.6zM1163.6 292.8h1.0v1.0h-1.0zM1160.9 398.7h1.6v1.6h-1.6zM1142.0 326.1h1.2v1.2h-1.2zM1121.4 356.3h1.6v1.6h-1.6zM1111.9 352.4h0.8v0.8h-0.8zM1178.2 351.3h1.2v1.2h-1.2zM1083.7 344.0h1.2v1.2h-1.2zM1125.0 290.2h1.2v1.2h-1.2zM1062.7 318.6h1.6v1.6h-1.6zM1161.8 359.7h0.8v0.8h-0.8zM1094.8 400.5h1.6v1.6h-1.6zM1065.6 388.7h1.0v1.0h-1.0zM1124.0 317.3h1.6v1.6h-1.6zM1176.9 301.1h1.2v1.2h-1.2zM1181.6 318.5h1.6v1.6h-1.6zM1121.3 371.8h0.8v0.8h-0.8zM1078.0 344.0h1.0v1.0h-1.0zM1165.8 404.6h1.2v1.2h-1.2zM1135.9 279.3h1.2v1.2h-1.2zM1164.2 349.2h1.0v1.0h-1.0zM1187.9 316.3h0.8v0.8h-0.8zM1065.3 278.8h1.2v1.2h-1.2zM1063.6 334.6h1.6v1.6h-1.6zM1163.9 370.1h1.0v1.0h-1.0zM1154.0 305.8h1.6v1.6h-1.6zM1165.9 352.9h1.6v1.6h-1.6zM1169.1 365.6h1.2v1.2h-1.2zM1154.9 409.8h1.2v1.2h-1.2zM1086.9 360.6h1.0v1.0h-1.0zM1185.7 403.8h1.2v1.2h-1.2zM1064.4 324.1h1.2v1.2h-1.2zM1072.0 290.3h1.0v1.0h-1.0zM1091.3 289.5h1.0v1.0h-1.0zM1123.0 395.4h1.6v1.6h-1.6zM1104.8 318.6h1.2v1.2h-1.2zM1149.3 325.9h1.0v1.0h-1.0zM1087.4 353.3h0.8v0.8h-0.8zM1070.1 408.8h1.2v1.2h-1.2zM1068.9 409.4h1.6v1.6h-1.6zM1133.5 346.8h1.2v1.2h-1.2zM1112.6 354.6h1.2v1.2h-1.2zM1185.8 407.7h0.8v0.8h-0.8zM1092.3 313.6h1.0v1.0h-1.0zM1141.2 359.9h1.0v1.0h-1.0zM1127.4 356.0h1.2v1.2h-1.2zM1109.4 309.8h1.2v1.2h-1.2zM1154.8 298.8h1.0v1.0h-1.0zM1098.6 396.8h1.2v1.2h-1.2zM1149.5 286.8h1.2v1.2h-1.2zM1126.0 361.4h1.2v1.2h-1.2zM1140.7 358.1h0.8v0.8h-0.8zM1159.0 307.5h1.0v1.0h-1.0zM1172.2 323.5h1.0v1.0h-1.0zM1132.0 387.5h1.2v1.2h-1.2zM1159.6 346.9h1.6v1.6h-1.6zM1114.3 293.3h1.0v1.0h-1.0zM1101.2 409.3h1.2v1.2h-1.2zM1085.4 346.8h0.8v0.8h-0.8zM1167.0 299.5h1.2v1.2h-1.2zM1063.7 388.3h1.6v1.6h-1.6zM1065.6 350.0h0.8v0.8h-0.8zM1187.1 281.7h1.0v1.0h-1.0zM1084.2 403.3h0.8v0.8h-0.8zM1082.7 402.1h0.8v0.8h-0.8zM1162.1 302.3h1.6v1.6h-1.6zM1078.0 392.3h0.8v0.8h-0.8zM1108.9 322.7h0.8v0.8h-0.8zM1075.9 328.1h0.8v0.8h-0.8zM1137.2 370.6h1.2v1.2h-1.2zM1097.1 366.6h1.0v1.0h-1.0zM1184.0 364.4h1.6v1.6h-1.6zM1128.4 294.6h0.8v0.8h-0.8zM1063.9 306.5h1.0v1.0h-1.0zM1128.8 390.2h1.0v1.0h-1.0zM1182.5 328.0h1.6v1.6h-1.6zM1117.0 390.6h1.2v1.2h-1.2zM1099.4 346.5h1.2v1.2h-1.2zM1080.9 396.6h1.6v1.6h-1.6zM1077.7 343.2h0.8v0.8h-0.8zM1065.7 401.6h0.8v0.8h-0.8zM1152.6 357.3h1.0v1.0h-1.0zM1109.4 310.9h1.6v1.6h-1.6zM1106.5 337.6h1.6v1.6h-1.6zM1155.1 280.6h1.0v1.0h-1.0zM1117.7 402.1h0.8v0.8h-0.8zM1145.1 404.8h1.2v1.2h-1.2zM1073.4 285.2h1.6v1.6h-1.6zM1142.8 350.7h1.2v1.2h-1.2zM1151.9 340.9h1.0v1.0h-1.0zM1104.2 346.3h0.8v0.8h-0.8zM1083.4 379.5h1.0v1.0h-1.0zM1173.8 280.5h0.8v0.8h-0.8zM1165.5 287.0h1.6v1.6h-1.6zM1065.0 287.3h1.6v1.6h-1.6zM1139.7 393.0h1.6v1.6h-1.6zM1078.1 347.0h0.8v0.8h-0.8zM1174.2 304.5h1.2v1.2h-1.2zM1143.9 380.7h1.0v1.0h-1.0zM1161.6 294.2h1.2v1.2h-1.2zM1135.5 366.3h1.2v1.2h-1.2zM1070.6 306.3h1.0v1.0h-1.0zM1115.7 300.9h1.0v1.0h-1.0zM1097.1 395.5h1.6v1.6h-1.6zM1117.7 334.5h1.6v1.6h-1.6zM1163.8 316.9h1.6v1.6h-1.6zM1105.4 334.6h1.6v1.6h-1.6zM1186.5 322.4h0.8v0.8h-0.8zM1096.3 335.7h1.6v1.6h-1.6zM1096.2 400.8h0.8v0.8h-0.8zM1143.4 344.1h1.2v1.2h-1.2zM1156.1 354.8h1.6v1.6h-1.6zM1163.7 282.9h1.0v1.0h-1.0zM1160.1 361.8h1.2v1.2h-1.2zM1167.5 285.5h0.8v0.8h-0.8zM1065.8 400.6h1.2v1.2h-1.2zM1146.8 344.9h1.6v1.6h-1.6zM1110.2 382.1h1.6v1.6h-1.6zM1189.0 353.2h1.6v1.6h-1.6zM1094.8 409.0h1.6v1.6h-1.6zM1104.4 280.5h1.2v1.2h-1.2zM1080.5 324.0h1.6v1.6h-1.6zM1142.7 322.2h1.0v1.0h-1.0zM1167.6 371.4h0.8v0.8h-0.8zM1079.3 333.0h1.6v1.6h-1.6zM1135.3 385.6h1.2v1.2h-1.2zM1181.2 376.7h1.0v1.0h-1.0zM1069.8 398.3h1.6v1.6h-1.6zM1094.1 323.9h1.0v1.0h-1.0zM1124.9 304.6h1.2v1.2h-1.2zM1105.5 352.5h1.6v1.6h-1.6zM1186.7 311.5h1.6v1.6h-1.6zM1182.8 293.7h1.6v1.6h-1.6zM1136.3 401.2h1.2v1.2h-1.2zM1114.6 316.2h1.2v1.2h-1.2zM1175.5 329.9h0.8v0.8h-0.8zM1142.2 299.9h1.0v1.0h-1.0zM1156.0 281.3h1.6v1.6h-1.6zM1104.1 380.3h0.8v0.8h-0.8zM1122.9 306.9h0.8v0.8h-0.8zM1064.3 377.7h1.6v1.6h-1.6zM1136.7 286.7h1.2v1.2h-1.2zM1110.7 365.7h0.8v0.8h-0.8zM1150.9 300.9h1.2v1.2h-1.2zM1173.6 334.7h1.0v1.0h-1.0zM1087.6 390.5h0.8v0.8h-0.8zM1163.3 336.3h1.6v1.6h-1.6zM1107.1 306.6h1.0v1.0h-1.0zM1133.8 322.4h1.6v1.6h-1.6zM1182.8 340.7h1.6v1.6h-1.6zM1126.0 296.2h1.6v1.6h-1.6zM1112.0 305.3h1.2v1.2h-1.2zM1163.0 324.4h1.0v1.0h-1.0z" fill="#6f5a62" opacity="0.4"/>
<rect x="1062" y="278.5" width="128" height="132" fill="url(#vig)"/>
</g>
<text x="1069.0" y="400.8" font-size="12" font-weight="bold" fill="#fff">100 &#181;m</text>
<rect x="1069.0" y="402.3" width="30.5" height="1.8" fill="#fff"/>
<polygon points="322,850 322.2,795.0 324.0,798.2 325.8,801.3 327.6,804.4 329.4,807.4 331.1,810.5 332.9,813.5 334.7,816.5 336.5,819.4 338.3,822.3 340.1,825.2 341.9,828.0 343.7,830.8 345.5,833.6 347.3,836.2 349.1,838.8 350.8,841.4 352.6,843.8 354.4,846.1 356.2,848.2 358.0,850.0 359.8,848.2 361.6,846.1 363.4,843.8 365.2,841.4 366.9,838.8 368.7,836.2 370.5,833.6 372.3,830.8 374.1,828.0 375.9,825.2 377.7,822.3 379.5,819.4 381.3,816.5 383.1,813.5 384.9,810.5 386.6,807.4 388.4,804.4 390.2,801.3 392.0,798.2 393.8,795.0 394,850" fill="#a4a4a9"/>
<path d="M420.0 840.6h1.6v1.6h-1.6zM319.0 838.0h1.6v1.6h-1.6zM280.5 841.5h1.6v1.6h-1.6zM407.7 845.3h1.6v1.6h-1.6zM306.1 842.9h1.6v1.6h-1.6zM473.8 843.5h1.6v1.6h-1.6zM316.9 841.2h1.6v1.6h-1.6zM321.2 842.2h1.6v1.6h-1.6zM449.7 843.7h1.6v1.6h-1.6zM423.9 846.0h1.6v1.6h-1.6zM317.7 840.2h1.6v1.6h-1.6zM301.4 848.4h1.6v1.6h-1.6zM400.3 845.3h1.6v1.6h-1.6zM429.6 840.6h1.6v1.6h-1.6zM450.9 847.7h1.6v1.6h-1.6zM400.0 838.2h1.6v1.6h-1.6zM320.2 847.7h1.6v1.6h-1.6zM321.0 846.6h1.6v1.6h-1.6zM441.5 840.4h1.6v1.6h-1.6zM427.1 842.4h1.6v1.6h-1.6zM397.6 843.2h1.6v1.6h-1.6zM309.1 847.3h1.6v1.6h-1.6zM420.9 841.7h1.6v1.6h-1.6zM301.9 841.4h1.6v1.6h-1.6zM316.8 837.3h1.6v1.6h-1.6zM413.0 846.9h1.6v1.6h-1.6zM291.7 843.0h1.6v1.6h-1.6zM302.4 841.6h1.6v1.6h-1.6zM415.3 844.1h1.6v1.6h-1.6zM321.8 837.8h1.6v1.6h-1.6zM446.5 845.9h1.6v1.6h-1.6zM394.3 843.9h1.6v1.6h-1.6zM319.3 836.9h1.6v1.6h-1.6zM411.2 842.7h1.6v1.6h-1.6zM406.1 841.8h1.6v1.6h-1.6zM402.6 842.4h1.6v1.6h-1.6zM423.1 846.9h1.6v1.6h-1.6zM394.1 839.3h1.6v1.6h-1.6zM401.2 843.5h1.6v1.6h-1.6zM394.4 840.8h1.6v1.6h-1.6zM423.1 841.3h1.6v1.6h-1.6zM319.2 844.1h1.6v1.6h-1.6zM313.9 837.5h1.6v1.6h-1.6zM409.1 845.4h1.6v1.6h-1.6zM407.8 837.6h1.6v1.6h-1.6zM425.6 839.8h1.6v1.6h-1.6zM400.3 843.4h1.6v1.6h-1.6zM411.1 838.4h1.6v1.6h-1.6zM313.9 842.4h1.6v1.6h-1.6zM406.1 839.4h1.6v1.6h-1.6zM461.9 844.5h1.6v1.6h-1.6zM424.8 844.6h1.6v1.6h-1.6zM318.2 845.9h1.6v1.6h-1.6zM410.1 847.2h1.6v1.6h-1.6zM407.9 841.8h1.6v1.6h-1.6zM399.7 837.1h1.6v1.6h-1.6zM404.4 841.2h1.6v1.6h-1.6zM321.9 843.4h1.6v1.6h-1.6zM426.7 841.5h1.6v1.6h-1.6zM289.4 840.8h1.6v1.6h-1.6zM405.9 838.1h1.6v1.6h-1.6zM321.4 848.2h1.6v1.6h-1.6zM315.5 846.2h1.6v1.6h-1.6zM394.8 841.3h1.6v1.6h-1.6zM309.6 848.2h1.6v1.6h-1.6zM279.3 843.8h1.6v1.6h-1.6zM434.5 843.0h1.6v1.6h-1.6zM296.3 848.0h1.6v1.6h-1.6zM444.7 841.7h1.6v1.6h-1.6zM292.6 845.3h1.6v1.6h-1.6zM301.7 840.0h1.6v1.6h-1.6zM246.9 844.1h1.6v1.6h-1.6zM312.6 838.3h1.6v1.6h-1.6zM299.7 841.8h1.6v1.6h-1.6zM396.1 840.5h1.6v1.6h-1.6zM412.4 840.7h1.6v1.6h-1.6zM418.4 846.8h1.6v1.6h-1.6zM318.0 845.9h1.6v1.6h-1.6zM403.6 844.1h1.6v1.6h-1.6zM304.7 841.3h1.6v1.6h-1.6zM308.1 846.9h1.6v1.6h-1.6zM434.7 845.1h1.6v1.6h-1.6zM301.6 846.1h1.6v1.6h-1.6zM315.3 843.1h1.6v1.6h-1.6zM308.5 842.0h1.6v1.6h-1.6zM321.5 839.2h1.6v1.6h-1.6zM320.8 846.8h1.6v1.6h-1.6zM315.0 845.3h1.6v1.6h-1.6zM301.0 841.9h1.6v1.6h-1.6zM311.5 838.4h1.6v1.6h-1.6zM313.2 847.3h1.6v1.6h-1.6zM505.6 847.2h1.6v1.6h-1.6zM459.3 848.0h1.6v1.6h-1.6zM451.6 847.0h1.6v1.6h-1.6zM293.1 841.1h1.6v1.6h-1.6zM396.0 846.2h1.6v1.6h-1.6zM436.6 842.2h1.6v1.6h-1.6zM422.0 840.1h1.6v1.6h-1.6zM395.0 840.7h1.6v1.6h-1.6zM311.7 839.8h1.6v1.6h-1.6zM413.7 844.4h1.6v1.6h-1.6zM394.7 838.2h1.6v1.6h-1.6zM403.5 842.1h1.6v1.6h-1.6zM407.7 839.2h1.6v1.6h-1.6zM409.8 846.9h1.6v1.6h-1.6zM431.8 842.0h1.6v1.6h-1.6zM522.1 848.2h1.6v1.6h-1.6zM276.2 847.4h1.6v1.6h-1.6zM289.1 844.2h1.6v1.6h-1.6zM406.0 838.2h1.6v1.6h-1.6zM294.6 847.7h1.6v1.6h-1.6zM394.8 844.6h1.6v1.6h-1.6zM288.6 844.1h1.6v1.6h-1.6zM296.2 845.9h1.6v1.6h-1.6zM314.8 847.0h1.6v1.6h-1.6zM299.1 847.1h1.6v1.6h-1.6zM304.5 843.2h1.6v1.6h-1.6zM294.7 845.8h1.6v1.6h-1.6zM401.4 842.4h1.6v1.6h-1.6zM431.1 844.8h1.6v1.6h-1.6zM420.2 846.6h1.6v1.6h-1.6zM319.5 836.7h1.6v1.6h-1.6zM408.1 837.7h1.6v1.6h-1.6zM309.7 842.8h1.6v1.6h-1.6zM394.8 844.6h1.6v1.6h-1.6zM398.5 845.6h1.6v1.6h-1.6zM425.2 841.1h1.6v1.6h-1.6zM450.9 843.2h1.6v1.6h-1.6zM403.2 840.0h1.6v1.6h-1.6zM321.1 839.3h1.6v1.6h-1.6zM313.1 841.6h1.6v1.6h-1.6zM295.8 846.8h1.6v1.6h-1.6zM398.2 837.0h1.6v1.6h-1.6zM448.8 846.3h1.6v1.6h-1.6zM428.0 842.4h1.6v1.6h-1.6zM421.5 844.3h1.6v1.6h-1.6zM428.8 845.3h1.6v1.6h-1.6zM404.4 842.1h1.6v1.6h-1.6zM403.0 840.1h1.6v1.6h-1.6zM293.2 843.8h1.6v1.6h-1.6zM410.1 842.7h1.6v1.6h-1.6zM404.6 842.0h1.6v1.6h-1.6zM455.1 848.1h1.6v1.6h-1.6zM415.8 842.7h1.6v1.6h-1.6zM316.8 845.8h1.6v1.6h-1.6zM290.9 846.5h1.6v1.6h-1.6zM452.1 843.3h1.6v1.6h-1.6zM460.0 845.4h1.6v1.6h-1.6zM442.3 842.9h1.6v1.6h-1.6zM421.5 842.9h1.6v1.6h-1.6zM303.4 844.3h1.6v1.6h-1.6zM443.5 844.4h1.6v1.6h-1.6zM304.2 844.3h1.6v1.6h-1.6zM418.7 843.9h1.6v1.6h-1.6zM395.1 843.7h1.6v1.6h-1.6zM407.3 842.2h1.6v1.6h-1.6zM409.7 842.0h1.6v1.6h-1.6zM397.6 844.9h1.6v1.6h-1.6zM315.6 836.8h1.6v1.6h-1.6zM305.3 844.4h1.6v1.6h-1.6zM425.4 839.9h1.6v1.6h-1.6zM315.0 838.1h1.6v1.6h-1.6zM489.4 848.2h1.6v1.6h-1.6zM401.2 842.7h1.6v1.6h-1.6zM314.5 838.8h1.6v1.6h-1.6zM403.8 839.7h1.6v1.6h-1.6zM459.7 844.9h1.6v1.6h-1.6zM312.8 840.3h1.6v1.6h-1.6zM397.8 839.7h1.6v1.6h-1.6zM414.9 847.7h1.6v1.6h-1.6zM409.6 841.4h1.6v1.6h-1.6zM309.4 845.5h1.6v1.6h-1.6zM442.0 843.3h1.6v1.6h-1.6zM292.6 845.6h1.6v1.6h-1.6zM316.7 847.6h1.6v1.6h-1.6zM464.6 844.2h1.6v1.6h-1.6zM320.7 844.5h1.6v1.6h-1.6zM440.2 840.7h1.6v1.6h-1.6zM403.5 839.6h1.6v1.6h-1.6zM407.3 845.5h1.6v1.6h-1.6zM439.8 847.2h1.6v1.6h-1.6zM396.2 846.8h1.6v1.6h-1.6zM318.5 845.0h1.6v1.6h-1.6zM395.5 846.2h1.6v1.6h-1.6zM305.5 848.2h1.6v1.6h-1.6zM406.3 845.4h1.6v1.6h-1.6zM398.8 841.1h1.6v1.6h-1.6zM422.9 840.4h1.6v1.6h-1.6zM289.1 839.9h1.6v1.6h-1.6zM394.2 840.4h1.6v1.6h-1.6zM419.1 846.2h1.6v1.6h-1.6zM406.5 847.1h1.6v1.6h-1.6zM321.8 838.3h1.6v1.6h-1.6zM408.2 840.9h1.6v1.6h-1.6zM434.3 843.0h1.6v1.6h-1.6zM305.3 848.2h1.6v1.6h-1.6zM406.5 843.7h1.6v1.6h-1.6zM418.0 845.0h1.6v1.6h-1.6zM319.4 846.2h1.6v1.6h-1.6zM319.0 837.3h1.6v1.6h-1.6zM306.3 841.0h1.6v1.6h-1.6zM399.7 848.4h1.6v1.6h-1.6zM424.1 847.0h1.6v1.6h-1.6zM478.1 847.5h1.6v1.6h-1.6zM306.0 845.5h1.6v1.6h-1.6zM400.9 838.9h1.6v1.6h-1.6zM317.0 848.0h1.6v1.6h-1.6zM405.2 847.4h1.6v1.6h-1.6zM315.7 841.3h1.6v1.6h-1.6zM283.5 844.3h1.6v1.6h-1.6zM409.7 840.1h1.6v1.6h-1.6zM450.8 845.6h1.6v1.6h-1.6zM476.3 846.6h1.6v1.6h-1.6zM281.1 842.1h1.6v1.6h-1.6zM279.6 846.0h1.6v1.6h-1.6zM411.6 843.6h1.6v1.6h-1.6zM320.9 847.5h1.6v1.6h-1.6zM312.7 846.4h1.6v1.6h-1.6zM294.3 846.3h1.6v1.6h-1.6zM468.7 846.9h1.6v1.6h-1.6zM407.8 847.6h1.6v1.6h-1.6zM275.8 844.5h1.6v1.6h-1.6zM400.3 841.5h1.6v1.6h-1.6zM420.8 848.3h1.6v1.6h-1.6zM404.6 839.8h1.6v1.6h-1.6zM311.0 839.2h1.6v1.6h-1.6zM404.5 837.4h1.6v1.6h-1.6zM318.5 843.7h1.6v1.6h-1.6zM319.9 841.6h1.6v1.6h-1.6zM415.2 841.6h1.6v1.6h-1.6zM305.3 840.3h1.6v1.6h-1.6zM407.0 842.3h1.6v1.6h-1.6zM314.2 842.7h1.6v1.6h-1.6zM303.1 839.7h1.6v1.6h-1.6zM312.4 840.0h1.6v1.6h-1.6zM405.0 844.2h1.6v1.6h-1.6zM445.7 844.0h1.6v1.6h-1.6zM296.7 839.1h1.6v1.6h-1.6zM316.2 846.4h1.6v1.6h-1.6zM424.4 848.0h1.6v1.6h-1.6zM315.9 842.9h1.6v1.6h-1.6zM398.1 846.4h1.6v1.6h-1.6zM404.9 840.0h1.6v1.6h-1.6zM398.2 844.2h1.6v1.6h-1.6zM559.7 848.2h1.6v1.6h-1.6zM414.5 840.2h1.6v1.6h-1.6zM289.5 846.9h1.6v1.6h-1.6zM411.0 842.9h1.6v1.6h-1.6zM320.8 845.0h1.6v1.6h-1.6zM303.2 847.0h1.6v1.6h-1.6zM412.4 842.1h1.6v1.6h-1.6zM320.7 844.4h1.6v1.6h-1.6zM398.9 843.6h1.6v1.6h-1.6zM409.6 838.7h1.6v1.6h-1.6zM398.9 839.7h1.6v1.6h-1.6zM316.8 843.3h1.6v1.6h-1.6zM455.3 847.4h1.6v1.6h-1.6zM405.4 846.9h1.6v1.6h-1.6zM433.8 847.3h1.6v1.6h-1.6zM395.1 847.3h1.6v1.6h-1.6zM267.6 848.2h1.6v1.6h-1.6zM423.1 847.7h1.6v1.6h-1.6zM409.0 842.2h1.6v1.6h-1.6zM421.2 838.5h1.6v1.6h-1.6zM229.4 847.0h1.6v1.6h-1.6zM471.4 843.3h1.6v1.6h-1.6zM311.2 837.7h1.6v1.6h-1.6zM432.6 840.0h1.6v1.6h-1.6zM438.1 842.0h1.6v1.6h-1.6zM414.3 844.3h1.6v1.6h-1.6zM400.1 847.7h1.6v1.6h-1.6zM411.9 841.2h1.6v1.6h-1.6zM409.8 845.9h1.6v1.6h-1.6zM305.6 840.1h1.6v1.6h-1.6zM316.0 841.0h1.6v1.6h-1.6zM320.7 840.0h1.6v1.6h-1.6zM405.6 841.3h1.6v1.6h-1.6zM309.9 841.9h1.6v1.6h-1.6zM320.5 841.1h1.6v1.6h-1.6zM397.3 840.0h1.6v1.6h-1.6zM258.8 847.0h1.6v1.6h-1.6zM319.7 836.5h1.6v1.6h-1.6zM313.9 837.0h1.6v1.6h-1.6zM396.8 842.2h1.6v1.6h-1.6zM405.2 844.6h1.6v1.6h-1.6zM322.0 848.0h1.6v1.6h-1.6zM395.2 846.0h1.6v1.6h-1.6zM319.9 848.0h1.6v1.6h-1.6zM436.7 846.6h1.6v1.6h-1.6zM395.2 845.4h1.6v1.6h-1.6zM415.1 841.7h1.6v1.6h-1.6zM316.3 848.1h1.6v1.6h-1.6zM321.8 846.9h1.6v1.6h-1.6zM395.0 846.5h1.6v1.6h-1.6zM414.3 844.9h1.6v1.6h-1.6zM316.0 840.5h1.6v1.6h-1.6zM445.0 847.6h1.6v1.6h-1.6zM313.7 837.5h1.6v1.6h-1.6zM450.2 844.6h1.6v1.6h-1.6zM303.9 847.7h1.6v1.6h-1.6zM290.2 840.6h1.6v1.6h-1.6zM396.6 846.3h1.6v1.6h-1.6zM312.9 837.2h1.6v1.6h-1.6zM279.1 844.9h1.6v1.6h-1.6zM306.5 848.3h1.6v1.6h-1.6zM406.9 840.5h1.6v1.6h-1.6zM461.2 842.8h1.6v1.6h-1.6zM314.7 837.5h1.6v1.6h-1.6zM394.2 847.8h1.6v1.6h-1.6zM438.0 847.9h1.6v1.6h-1.6zM400.3 843.3h1.6v1.6h-1.6zM427.6 847.2h1.6v1.6h-1.6zM309.1 839.1h1.6v1.6h-1.6zM449.5 844.1h1.6v1.6h-1.6zM280.6 848.3h1.6v1.6h-1.6zM404.5 843.1h1.6v1.6h-1.6zM451.5 848.0h1.6v1.6h-1.6zM420.9 847.8h1.6v1.6h-1.6zM320.0 841.9h1.6v1.6h-1.6zM320.5 844.8h1.6v1.6h-1.6zM409.5 838.5h1.6v1.6h-1.6zM416.6 843.6h1.6v1.6h-1.6zM413.3 839.9h1.6v1.6h-1.6zM285.2 845.3h1.6v1.6h-1.6zM454.7 848.0h1.6v1.6h-1.6zM421.8 844.6h1.6v1.6h-1.6zM321.8 845.3h1.6v1.6h-1.6zM411.1 841.2h1.6v1.6h-1.6zM419.7 839.4h1.6v1.6h-1.6zM406.5 837.6h1.6v1.6h-1.6zM291.0 839.9h1.6v1.6h-1.6zM422.9 846.4h1.6v1.6h-1.6zM409.4 847.0h1.6v1.6h-1.6zM286.5 839.9h1.6v1.6h-1.6zM320.9 845.2h1.6v1.6h-1.6zM308.5 841.9h1.6v1.6h-1.6zM425.0 846.4h1.6v1.6h-1.6zM415.4 844.2h1.6v1.6h-1.6zM437.1 846.3h1.6v1.6h-1.6zM405.3 838.3h1.6v1.6h-1.6zM308.1 838.7h1.6v1.6h-1.6zM408.7 846.9h1.6v1.6h-1.6zM396.2 844.8h1.6v1.6h-1.6zM394.3 846.4h1.6v1.6h-1.6zM320.0 842.7h1.6v1.6h-1.6zM406.3 847.2h1.6v1.6h-1.6zM456.2 844.6h1.6v1.6h-1.6zM311.2 841.3h1.6v1.6h-1.6zM437.0 845.1h1.6v1.6h-1.6zM405.3 842.1h1.6v1.6h-1.6zM426.4 846.0h1.6v1.6h-1.6zM423.8 844.3h1.6v1.6h-1.6zM409.1 846.5h1.6v1.6h-1.6zM439.0 844.1h1.6v1.6h-1.6zM416.1 843.6h1.6v1.6h-1.6zM303.2 845.0h1.6v1.6h-1.6zM403.4 837.7h1.6v1.6h-1.6zM395.8 836.5h1.6v1.6h-1.6zM396.6 842.5h1.6v1.6h-1.6zM315.6 846.2h1.6v1.6h-1.6zM306.3 841.8h1.6v1.6h-1.6zM423.4 845.2h1.6v1.6h-1.6zM394.2 843.9h1.6v1.6h-1.6zM396.7 838.0h1.6v1.6h-1.6zM409.9 839.9h1.6v1.6h-1.6zM266.4 847.8h1.6v1.6h-1.6zM270.5 844.9h1.6v1.6h-1.6zM296.8 845.4h1.6v1.6h-1.6zM426.4 840.2h1.6v1.6h-1.6zM291.1 838.9h1.6v1.6h-1.6zM417.1 847.4h1.6v1.6h-1.6zM416.5 839.2h1.6v1.6h-1.6zM474.5 848.1h1.6v1.6h-1.6zM403.0 845.4h1.6v1.6h-1.6zM315.0 841.1h1.6v1.6h-1.6zM394.7 846.1h1.6v1.6h-1.6zM309.9 842.2h1.6v1.6h-1.6zM439.8 842.9h1.6v1.6h-1.6zM319.0 842.9h1.6v1.6h-1.6zM452.0 848.0h1.6v1.6h-1.6zM426.4 842.9h1.6v1.6h-1.6zM494.0 847.6h1.6v1.6h-1.6zM407.7 838.6h1.6v1.6h-1.6zM414.5 839.8h1.6v1.6h-1.6zM424.6 845.7h1.6v1.6h-1.6zM276.1 845.9h1.6v1.6h-1.6zM399.7 842.4h1.6v1.6h-1.6zM316.1 847.6h1.6v1.6h-1.6zM406.9 845.0h1.6v1.6h-1.6zM308.5 843.1h1.6v1.6h-1.6zM316.4 845.5h1.6v1.6h-1.6zM417.2 839.0h1.6v1.6h-1.6zM397.3 842.7h1.6v1.6h-1.6zM449.4 847.8h1.6v1.6h-1.6zM572.6 848.0h1.6v1.6h-1.6zM399.5 837.5h1.6v1.6h-1.6zM307.3 847.5h1.6v1.6h-1.6zM398.9 837.8h1.6v1.6h-1.6zM451.3 846.5h1.6v1.6h-1.6zM314.4 837.3h1.6v1.6h-1.6zM395.2 839.9h1.6v1.6h-1.6zM436.2 842.2h1.6v1.6h-1.6zM416.5 844.7h1.6v1.6h-1.6zM288.3 847.1h1.6v1.6h-1.6zM319.9 837.0h1.6v1.6h-1.6zM317.5 844.5h1.6v1.6h-1.6zM304.8 846.4h1.6v1.6h-1.6zM263.0 844.2h1.6v1.6h-1.6zM405.0 847.9h1.6v1.6h-1.6zM313.5 847.8h1.6v1.6h-1.6zM439.0 842.9h1.6v1.6h-1.6zM395.1 845.5h1.6v1.6h-1.6zM408.0 842.5h1.6v1.6h-1.6zM313.4 846.4h1.6v1.6h-1.6zM407.6 840.4h1.6v1.6h-1.6zM428.1 845.1h1.6v1.6h-1.6zM292.5 838.9h1.6v1.6h-1.6zM309.1 846.4h1.6v1.6h-1.6zM405.3 841.5h1.6v1.6h-1.6zM445.8 845.3h1.6v1.6h-1.6zM429.8 844.6h1.6v1.6h-1.6zM312.4 845.2h1.6v1.6h-1.6zM319.8 843.1h1.6v1.6h-1.6zM303.6 839.3h1.6v1.6h-1.6zM315.4 837.9h1.6v1.6h-1.6zM302.4 843.7h1.6v1.6h-1.6zM428.8 847.1h1.6v1.6h-1.6zM479.4 845.0h1.6v1.6h-1.6zM422.1 845.2h1.6v1.6h-1.6zM418.1 843.2h1.6v1.6h-1.6zM409.4 847.7h1.6v1.6h-1.6zM408.8 841.1h1.6v1.6h-1.6zM310.1 847.5h1.6v1.6h-1.6zM440.2 843.3h1.6v1.6h-1.6zM398.7 839.8h1.6v1.6h-1.6zM415.6 844.6h1.6v1.6h-1.6zM296.6 842.1h1.6v1.6h-1.6zM443.7 847.9h1.6v1.6h-1.6zM401.8 840.4h1.6v1.6h-1.6zM319.3 842.6h1.6v1.6h-1.6zM474.3 845.3h1.6v1.6h-1.6zM430.4 842.2h1.6v1.6h-1.6zM295.5 843.8h1.6v1.6h-1.6zM394.1 842.3h1.6v1.6h-1.6zM314.8 847.5h1.6v1.6h-1.6zM437.5 845.4h1.6v1.6h-1.6zM292.4 847.2h1.6v1.6h-1.6zM396.4 844.1h1.6v1.6h-1.6zM402.2 844.7h1.6v1.6h-1.6zM306.8 837.6h1.6v1.6h-1.6zM306.6 846.9h1.6v1.6h-1.6zM424.7 845.6h1.6v1.6h-1.6zM473.6 847.7h1.6v1.6h-1.6zM290.7 838.9h1.6v1.6h-1.6zM449.0 841.0h1.6v1.6h-1.6zM411.1 846.0h1.6v1.6h-1.6zM281.4 840.2h1.6v1.6h-1.6zM317.8 848.1h1.6v1.6h-1.6zM417.9 840.2h1.6v1.6h-1.6zM319.2 840.4h1.6v1.6h-1.6zM398.0 843.6h1.6v1.6h-1.6zM400.7 847.4h1.6v1.6h-1.6zM409.0 839.6h1.6v1.6h-1.6zM409.9 839.3h1.6v1.6h-1.6zM402.8 839.0h1.6v1.6h-1.6zM433.1 842.2h1.6v1.6h-1.6zM420.9 841.7h1.6v1.6h-1.6zM406.8 844.8h1.6v1.6h-1.6zM310.1 844.3h1.6v1.6h-1.6zM437.7 842.6h1.6v1.6h-1.6zM474.5 847.3h1.6v1.6h-1.6zM397.5 843.7h1.6v1.6h-1.6zM399.6 839.5h1.6v1.6h-1.6zM469.9 844.1h1.6v1.6h-1.6zM410.8 842.9h1.6v1.6h-1.6zM311.1 845.0h1.6v1.6h-1.6zM407.0 845.9h1.6v1.6h-1.6zM404.0 837.4h1.6v1.6h-1.6zM423.7 844.2h1.6v1.6h-1.6zM315.2 847.2h1.6v1.6h-1.6zM302.6 838.6h1.6v1.6h-1.6zM399.7 841.9h1.6v1.6h-1.6zM321.9 836.9h1.6v1.6h-1.6zM316.0 847.2h1.6v1.6h-1.6zM456.3 848.3h1.6v1.6h-1.6zM397.0 839.1h1.6v1.6h-1.6zM416.3 843.7h1.6v1.6h-1.6zM423.5 840.6h1.6v1.6h-1.6zM308.4 845.8h1.6v1.6h-1.6zM320.0 845.4h1.6v1.6h-1.6zM453.2 842.4h1.6v1.6h-1.6zM410.9 844.2h1.6v1.6h-1.6zM412.6 843.9h1.6v1.6h-1.6zM394.9 845.1h1.6v1.6h-1.6zM475.2 845.3h1.6v1.6h-1.6zM405.7 846.4h1.6v1.6h-1.6zM317.0 839.5h1.6v1.6h-1.6zM417.0 848.1h1.6v1.6h-1.6zM284.1 840.0h1.6v1.6h-1.6zM400.0 844.3h1.6v1.6h-1.6zM399.5 844.4h1.6v1.6h-1.6zM321.9 846.7h1.6v1.6h-1.6zM419.1 838.4h1.6v1.6h-1.6zM318.4 839.0h1.6v1.6h-1.6zM399.0 843.7h1.6v1.6h-1.6zM439.4 844.6h1.6v1.6h-1.6zM292.7 843.8h1.6v1.6h-1.6zM402.7 847.5h1.6v1.6h-1.6zM321.2 846.1h1.6v1.6h-1.6zM310.8 844.8h1.6v1.6h-1.6zM272.7 848.2h1.6v1.6h-1.6zM304.5 842.7h1.6v1.6h-1.6zM413.3 842.6h1.6v1.6h-1.6zM315.3 838.8h1.6v1.6h-1.6zM320.3 837.7h1.6v1.6h-1.6zM303.5 839.2h1.6v1.6h-1.6zM406.7 842.9h1.6v1.6h-1.6zM425.7 845.9h1.6v1.6h-1.6zM400.9 839.5h1.6v1.6h-1.6zM410.0 846.6h1.6v1.6h-1.6zM317.8 837.1h1.6v1.6h-1.6zM413.6 845.5h1.6v1.6h-1.6zM322.0 838.3h1.6v1.6h-1.6zM319.6 844.6h1.6v1.6h-1.6zM317.1 848.3h1.6v1.6h-1.6zM315.8 838.4h1.6v1.6h-1.6zM443.5 846.6h1.6v1.6h-1.6zM404.3 846.0h1.6v1.6h-1.6zM304.7 847.7h1.6v1.6h-1.6zM427.5 845.7h1.6v1.6h-1.6zM318.7 843.9h1.6v1.6h-1.6zM403.2 846.1h1.6v1.6h-1.6zM401.6 843.1h1.6v1.6h-1.6zM428.3 840.5h1.6v1.6h-1.6zM431.7 841.9h1.6v1.6h-1.6zM297.6 845.8h1.6v1.6h-1.6zM317.5 843.7h1.6v1.6h-1.6zM275.0 842.2h1.6v1.6h-1.6zM398.6 840.8h1.6v1.6h-1.6zM397.0 846.1h1.6v1.6h-1.6zM318.8 846.4h1.6v1.6h-1.6zM403.6 840.9h1.6v1.6h-1.6zM545.4 848.0h1.6v1.6h-1.6zM406.4 840.3h1.6v1.6h-1.6zM311.2 841.9h1.6v1.6h-1.6zM312.1 842.5h1.6v1.6h-1.6zM417.5 845.7h1.6v1.6h-1.6zM309.6 843.5h1.6v1.6h-1.6zM306.3 846.2h1.6v1.6h-1.6zM307.2 845.2h1.6v1.6h-1.6zM403.7 847.8h1.6v1.6h-1.6zM431.6 846.7h1.6v1.6h-1.6zM398.9 846.4h1.6v1.6h-1.6zM506.4 847.3h1.6v1.6h-1.6zM394.1 845.6h1.6v1.6h-1.6zM403.5 844.0h1.6v1.6h-1.6zM504.5 848.4h1.6v1.6h-1.6zM316.3 836.8h1.6v1.6h-1.6zM319.3 843.4h1.6v1.6h-1.6zM402.5 838.8h1.6v1.6h-1.6zM314.2 846.5h1.6v1.6h-1.6zM400.6 839.9h1.6v1.6h-1.6zM398.8 847.3h1.6v1.6h-1.6zM408.2 843.1h1.6v1.6h-1.6zM414.8 843.2h1.6v1.6h-1.6zM455.4 845.6h1.6v1.6h-1.6zM315.7 845.3h1.6v1.6h-1.6zM299.3 847.2h1.6v1.6h-1.6zM315.4 844.8h1.6v1.6h-1.6zM318.4 842.4h1.6v1.6h-1.6zM410.6 843.5h1.6v1.6h-1.6zM409.5 838.0h1.6v1.6h-1.6zM309.7 841.0h1.6v1.6h-1.6zM407.2 838.0h1.6v1.6h-1.6zM441.0 847.7h1.6v1.6h-1.6zM395.1 843.6h1.6v1.6h-1.6zM505.3 847.1h1.6v1.6h-1.6zM402.6 848.0h1.6v1.6h-1.6zM394.9 844.5h1.6v1.6h-1.6zM321.8 842.3h1.6v1.6h-1.6zM309.5 840.7h1.6v1.6h-1.6zM319.7 838.9h1.6v1.6h-1.6zM313.3 837.7h1.6v1.6h-1.6zM406.1 838.3h1.6v1.6h-1.6zM400.3 847.4h1.6v1.6h-1.6zM489.6 847.7h1.6v1.6h-1.6zM420.7 839.2h1.6v1.6h-1.6zM315.2 847.9h1.6v1.6h-1.6zM287.2 846.4h1.6v1.6h-1.6zM445.3 848.3h1.6v1.6h-1.6zM285.6 847.5h1.6v1.6h-1.6zM496.3 848.1h1.6v1.6h-1.6zM450.0 843.3h1.6v1.6h-1.6zM303.5 845.8h1.6v1.6h-1.6zM319.9 837.6h1.6v1.6h-1.6zM403.7 840.5h1.6v1.6h-1.6zM416.3 844.8h1.6v1.6h-1.6zM419.9 842.6h1.6v1.6h-1.6zM403.4 839.2h1.6v1.6h-1.6zM290.6 840.7h1.6v1.6h-1.6zM454.1 843.4h1.6v1.6h-1.6zM399.5 842.3h1.6v1.6h-1.6zM320.8 843.1h1.6v1.6h-1.6zM405.5 848.2h1.6v1.6h-1.6zM396.9 844.9h1.6v1.6h-1.6zM435.1 842.0h1.6v1.6h-1.6zM309.4 839.1h1.6v1.6h-1.6zM312.4 839.5h1.6v1.6h-1.6zM420.7 844.6h1.6v1.6h-1.6zM408.3 844.7h1.6v1.6h-1.6zM404.0 842.3h1.6v1.6h-1.6zM321.6 837.0h1.6v1.6h-1.6zM395.7 838.5h1.6v1.6h-1.6zM410.8 839.4h1.6v1.6h-1.6zM396.7 838.6h1.6v1.6h-1.6zM470.6 847.0h1.6v1.6h-1.6zM488.5 847.3h1.6v1.6h-1.6zM400.4 848.3h1.6v1.6h-1.6zM316.5 847.1h1.6v1.6h-1.6zM422.4 842.8h1.6v1.6h-1.6zM316.4 839.6h1.6v1.6h-1.6zM420.8 844.2h1.6v1.6h-1.6zM440.0 846.2h1.6v1.6h-1.6zM402.4 847.4h1.6v1.6h-1.6zM428.0 846.1h1.6v1.6h-1.6zM460.7 844.4h1.6v1.6h-1.6zM398.7 842.2h1.6v1.6h-1.6zM430.8 842.5h1.6v1.6h-1.6zM413.4 842.3h1.6v1.6h-1.6zM463.4 843.4h1.6v1.6h-1.6zM451.4 847.9h1.6v1.6h-1.6zM411.1 840.3h1.6v1.6h-1.6zM310.6 839.1h1.6v1.6h-1.6zM318.9 842.6h1.6v1.6h-1.6zM407.0 839.2h1.6v1.6h-1.6zM315.7 841.9h1.6v1.6h-1.6zM411.3 838.9h1.6v1.6h-1.6zM310.5 841.3h1.6v1.6h-1.6zM295.5 839.4h1.6v1.6h-1.6zM428.0 847.2h1.6v1.6h-1.6zM296.9 845.3h1.6v1.6h-1.6zM431.4 847.1h1.6v1.6h-1.6zM458.3 847.4h1.6v1.6h-1.6zM310.4 838.1h1.6v1.6h-1.6zM423.1 844.8h1.6v1.6h-1.6zM408.0 842.9h1.6v1.6h-1.6zM320.4 843.8h1.6v1.6h-1.6zM300.2 841.2h1.6v1.6h-1.6zM431.4 840.4h1.6v1.6h-1.6zM450.6 845.1h1.6v1.6h-1.6zM444.1 844.2h1.6v1.6h-1.6zM487.3 846.8h1.6v1.6h-1.6zM395.6 838.4h1.6v1.6h-1.6zM308.0 846.4h1.6v1.6h-1.6zM303.9 848.1h1.6v1.6h-1.6zM299.7 841.1h1.6v1.6h-1.6zM402.7 845.9h1.6v1.6h-1.6zM400.9 847.6h1.6v1.6h-1.6zM319.3 837.1h1.6v1.6h-1.6zM404.1 842.5h1.6v1.6h-1.6zM402.8 844.5h1.6v1.6h-1.6zM318.7 839.1h1.6v1.6h-1.6zM417.1 847.9h1.6v1.6h-1.6zM410.5 838.4h1.6v1.6h-1.6zM399.9 838.8h1.6v1.6h-1.6zM427.1 846.9h1.6v1.6h-1.6zM411.1 847.6h1.6v1.6h-1.6zM305.3 845.6h1.6v1.6h-1.6zM395.7 848.2h1.6v1.6h-1.6zM412.3 842.9h1.6v1.6h-1.6zM317.7 843.6h1.6v1.6h-1.6zM395.2 838.3h1.6v1.6h-1.6zM403.7 844.3h1.6v1.6h-1.6zM309.5 844.8h1.6v1.6h-1.6zM394.2 838.9h1.6v1.6h-1.6zM394.1 847.6h1.6v1.6h-1.6zM429.5 845.5h1.6v1.6h-1.6zM417.9 844.0h1.6v1.6h-1.6zM291.5 847.6h1.6v1.6h-1.6zM305.5 843.0h1.6v1.6h-1.6zM422.1 842.4h1.6v1.6h-1.6zM305.9 847.1h1.6v1.6h-1.6zM317.5 847.0h1.6v1.6h-1.6zM321.0 843.9h1.6v1.6h-1.6zM317.8 842.2h1.6v1.6h-1.6zM412.6 848.0h1.6v1.6h-1.6zM485.7 845.9h1.6v1.6h-1.6zM403.2 845.1h1.6v1.6h-1.6zM486.1 848.0h1.6v1.6h-1.6zM394.8 838.2h1.6v1.6h-1.6zM394.4 839.4h1.6v1.6h-1.6zM394.2 840.0h1.6v1.6h-1.6zM307.4 837.7h1.6v1.6h-1.6zM417.0 847.7h1.6v1.6h-1.6zM262.4 843.2h1.6v1.6h-1.6zM412.3 842.2h1.6v1.6h-1.6zM436.7 845.6h1.6v1.6h-1.6zM402.4 840.8h1.6v1.6h-1.6zM321.9 847.3h1.6v1.6h-1.6zM303.6 843.7h1.6v1.6h-1.6zM317.5 838.2h1.6v1.6h-1.6zM497.8 847.8h1.6v1.6h-1.6zM309.4 843.0h1.6v1.6h-1.6zM316.9 840.2h1.6v1.6h-1.6zM310.9 845.5h1.6v1.6h-1.6zM404.5 843.0h1.6v1.6h-1.6zM414.6 840.7h1.6v1.6h-1.6zM285.1 844.9h1.6v1.6h-1.6zM489.5 846.5h1.6v1.6h-1.6zM417.5 840.9h1.6v1.6h-1.6zM266.7 847.3h1.6v1.6h-1.6zM306.6 840.1h1.6v1.6h-1.6zM294.9 845.0h1.6v1.6h-1.6zM402.9 842.8h1.6v1.6h-1.6zM319.1 847.4h1.6v1.6h-1.6zM439.2 840.8h1.6v1.6h-1.6zM273.6 846.0h1.6v1.6h-1.6zM545.0 848.2h1.6v1.6h-1.6zM445.2 842.9h1.6v1.6h-1.6zM455.0 844.9h1.6v1.6h-1.6zM303.6 838.8h1.6v1.6h-1.6zM307.4 845.4h1.6v1.6h-1.6zM313.9 841.8h1.6v1.6h-1.6zM320.4 847.2h1.6v1.6h-1.6zM273.9 848.2h1.6v1.6h-1.6zM407.5 847.8h1.6v1.6h-1.6zM277.9 840.0h1.6v1.6h-1.6zM398.2 839.4h1.6v1.6h-1.6zM400.8 842.8h1.6v1.6h-1.6zM587.6 847.8h1.6v1.6h-1.6zM291.5 838.9h1.6v1.6h-1.6zM397.0 841.9h1.6v1.6h-1.6zM412.9 844.6h1.6v1.6h-1.6zM313.4 847.8h1.6v1.6h-1.6zM267.4 848.3h1.6v1.6h-1.6zM445.3 845.2h1.6v1.6h-1.6zM410.1 841.1h1.6v1.6h-1.6zM408.4 843.0h1.6v1.6h-1.6zM439.7 843.6h1.6v1.6h-1.6zM414.5 838.5h1.6v1.6h-1.6zM492.4 847.7h1.6v1.6h-1.6zM396.3 842.1h1.6v1.6h-1.6zM315.8 839.5h1.6v1.6h-1.6zM310.4 846.2h1.6v1.6h-1.6zM397.4 844.4h1.6v1.6h-1.6zM402.4 840.3h1.6v1.6h-1.6zM395.2 840.4h1.6v1.6h-1.6zM428.9 841.8h1.6v1.6h-1.6zM319.2 839.2h1.6v1.6h-1.6zM423.8 848.3h1.6v1.6h-1.6zM402.8 839.8h1.6v1.6h-1.6zM291.1 847.5h1.6v1.6h-1.6zM397.2 839.1h1.6v1.6h-1.6zM397.6 837.0h1.6v1.6h-1.6zM422.6 840.0h1.6v1.6h-1.6zM318.2 836.7h1.6v1.6h-1.6zM318.5 844.9h1.6v1.6h-1.6zM398.1 847.9h1.6v1.6h-1.6zM318.2 839.6h1.6v1.6h-1.6zM313.2 844.6h1.6v1.6h-1.6zM291.3 843.5h1.6v1.6h-1.6zM421.0 840.2h1.6v1.6h-1.6zM317.8 842.9h1.6v1.6h-1.6zM321.8 837.2h1.6v1.6h-1.6zM417.0 847.0h1.6v1.6h-1.6zM416.0 846.6h1.6v1.6h-1.6zM462.7 842.7h1.6v1.6h-1.6zM413.9 845.2h1.6v1.6h-1.6zM400.0 841.2h1.6v1.6h-1.6zM322.0 839.7h1.6v1.6h-1.6zM289.4 841.0h1.6v1.6h-1.6zM452.3 842.3h1.6v1.6h-1.6zM452.5 842.0h1.6v1.6h-1.6zM320.8 843.7h1.6v1.6h-1.6zM316.0 838.2h1.6v1.6h-1.6zM317.5 839.4h1.6v1.6h-1.6zM314.0 837.2h1.6v1.6h-1.6zM401.0 846.8h1.6v1.6h-1.6zM290.9 840.8h1.6v1.6h-1.6zM317.4 844.0h1.6v1.6h-1.6zM410.0 847.0h1.6v1.6h-1.6zM320.7 838.0h1.6v1.6h-1.6zM407.0 840.1h1.6v1.6h-1.6zM315.2 837.9h1.6v1.6h-1.6zM407.4 839.8h1.6v1.6h-1.6zM450.7 845.5h1.6v1.6h-1.6zM403.8 845.2h1.6v1.6h-1.6zM267.2 843.2h1.6v1.6h-1.6zM410.8 845.8h1.6v1.6h-1.6zM406.7 843.1h1.6v1.6h-1.6zM310.3 837.6h1.6v1.6h-1.6zM429.5 844.6h1.6v1.6h-1.6zM309.0 839.6h1.6v1.6h-1.6zM425.1 845.6h1.6v1.6h-1.6zM304.2 838.5h1.6v1.6h-1.6zM297.5 844.5h1.6v1.6h-1.6zM409.6 846.0h1.6v1.6h-1.6zM318.8 845.3h1.6v1.6h-1.6zM400.9 839.3h1.6v1.6h-1.6zM315.8 840.9h1.6v1.6h-1.6zM294.4 842.8h1.6v1.6h-1.6zM439.4 841.8h1.6v1.6h-1.6zM285.4 843.4h1.6v1.6h-1.6zM398.5 842.8h1.6v1.6h-1.6zM422.9 840.5h1.6v1.6h-1.6zM300.2 842.5h1.6v1.6h-1.6zM422.2 844.4h1.6v1.6h-1.6zM441.5 841.8h1.6v1.6h-1.6zM280.4 846.9h1.6v1.6h-1.6zM406.9 846.6h1.6v1.6h-1.6zM444.1 848.1h1.6v1.6h-1.6zM419.4 845.7h1.6v1.6h-1.6zM309.2 844.6h1.6v1.6h-1.6zM414.4 842.0h1.6v1.6h-1.6zM265.5 843.5h1.6v1.6h-1.6zM396.0 847.6h1.6v1.6h-1.6zM558.8 847.0h1.6v1.6h-1.6zM436.7 844.8h1.6v1.6h-1.6zM320.2 845.7h1.6v1.6h-1.6zM404.8 848.0h1.6v1.6h-1.6zM321.0 840.7h1.6v1.6h-1.6zM407.9 841.1h1.6v1.6h-1.6zM396.1 843.9h1.6v1.6h-1.6zM419.3 846.6h1.6v1.6h-1.6zM314.3 838.5h1.6v1.6h-1.6zM418.5 842.3h1.6v1.6h-1.6zM400.2 843.2h1.6v1.6h-1.6zM406.2 840.4h1.6v1.6h-1.6zM264.4 842.6h1.6v1.6h-1.6zM426.5 842.4h1.6v1.6h-1.6zM395.7 847.0h1.6v1.6h-1.6zM409.9 841.6h1.6v1.6h-1.6zM395.8 837.7h1.6v1.6h-1.6zM532.8 847.8h1.6v1.6h-1.6zM399.8 840.6h1.6v1.6h-1.6zM398.8 845.3h1.6v1.6h-1.6zM319.1 838.5h1.6v1.6h-1.6zM321.9 845.4h1.6v1.6h-1.6zM411.3 838.9h1.6v1.6h-1.6zM404.9 838.4h1.6v1.6h-1.6zM396.7 837.0h1.6v1.6h-1.6zM297.1 845.7h1.6v1.6h-1.6zM399.1 843.5h1.6v1.6h-1.6zM304.3 841.7h1.6v1.6h-1.6zM411.1 846.5h1.6v1.6h-1.6zM418.9 840.9h1.6v1.6h-1.6zM423.1 846.7h1.6v1.6h-1.6zM416.0 843.1h1.6v1.6h-1.6zM408.6 838.3h1.6v1.6h-1.6zM419.2 840.1h1.6v1.6h-1.6zM491.0 846.9h1.6v1.6h-1.6zM451.9 847.6h1.6v1.6h-1.6zM313.7 844.0h1.6v1.6h-1.6zM410.1 846.3h1.6v1.6h-1.6zM320.1 840.3h1.6v1.6h-1.6zM319.3 837.2h1.6v1.6h-1.6zM448.4 842.7h1.6v1.6h-1.6zM395.8 843.8h1.6v1.6h-1.6zM406.5 837.8h1.6v1.6h-1.6zM320.9 837.6h1.6v1.6h-1.6zM409.1 838.1h1.6v1.6h-1.6zM291.8 844.6h1.6v1.6h-1.6zM318.1 842.3h1.6v1.6h-1.6zM407.6 847.8h1.6v1.6h-1.6zM321.3 841.1h1.6v1.6h-1.6zM422.5 842.4h1.6v1.6h-1.6zM394.4 845.4h1.6v1.6h-1.6zM396.5 837.1h1.6v1.6h-1.6zM400.8 848.4h1.6v1.6h-1.6zM315.3 843.3h1.6v1.6h-1.6zM433.3 844.2h1.6v1.6h-1.6zM316.4 837.1h1.6v1.6h-1.6zM315.6 842.9h1.6v1.6h-1.6zM423.4 844.8h1.6v1.6h-1.6zM440.6 845.7h1.6v1.6h-1.6zM321.3 837.7h1.6v1.6h-1.6zM319.7 841.3h1.6v1.6h-1.6zM421.9 846.9h1.6v1.6h-1.6zM397.9 848.2h1.6v1.6h-1.6zM422.7 847.1h1.6v1.6h-1.6zM411.7 845.7h1.6v1.6h-1.6zM296.5 842.5h1.6v1.6h-1.6zM410.0 842.0h1.6v1.6h-1.6zM313.4 847.6h1.6v1.6h-1.6zM319.0 844.8h1.6v1.6h-1.6zM298.0 847.6h1.6v1.6h-1.6zM311.7 840.8h1.6v1.6h-1.6zM456.5 843.9h1.6v1.6h-1.6zM406.9 847.5h1.6v1.6h-1.6zM317.8 846.1h1.6v1.6h-1.6zM407.0 843.6h1.6v1.6h-1.6zM402.9 843.3h1.6v1.6h-1.6zM315.7 840.7h1.6v1.6h-1.6zM484.1 845.9h1.6v1.6h-1.6zM407.4 838.4h1.6v1.6h-1.6zM413.6 839.5h1.6v1.6h-1.6zM302.9 842.0h1.6v1.6h-1.6zM317.0 840.0h1.6v1.6h-1.6zM413.8 843.4h1.6v1.6h-1.6zM399.7 838.6h1.6v1.6h-1.6zM414.2 845.5h1.6v1.6h-1.6zM312.8 846.6h1.6v1.6h-1.6zM431.7 847.5h1.6v1.6h-1.6zM321.9 837.1h1.6v1.6h-1.6zM284.4 845.6h1.6v1.6h-1.6zM320.1 840.1h1.6v1.6h-1.6zM292.7 842.8h1.6v1.6h-1.6zM319.9 840.6h1.6v1.6h-1.6zM411.6 844.8h1.6v1.6h-1.6zM417.4 842.9h1.6v1.6h-1.6zM428.1 843.1h1.6v1.6h-1.6zM465.5 845.5h1.6v1.6h-1.6zM395.5 844.5h1.6v1.6h-1.6zM396.1 838.3h1.6v1.6h-1.6zM422.8 847.4h1.6v1.6h-1.6zM424.1 845.6h1.6v1.6h-1.6zM399.6 847.7h1.6v1.6h-1.6zM308.2 841.7h1.6v1.6h-1.6zM394.2 848.1h1.6v1.6h-1.6zM419.8 843.9h1.6v1.6h-1.6zM450.2 841.3h1.6v1.6h-1.6zM394.2 846.6h1.6v1.6h-1.6zM431.2 847.7h1.6v1.6h-1.6zM398.9 843.6h1.6v1.6h-1.6zM310.1 845.7h1.6v1.6h-1.6zM289.0 844.2h1.6v1.6h-1.6zM408.5 837.9h1.6v1.6h-1.6zM261.4 845.7h1.6v1.6h-1.6zM430.2 844.8h1.6v1.6h-1.6zM396.2 847.1h1.6v1.6h-1.6zM396.7 845.7h1.6v1.6h-1.6zM427.9 839.0h1.6v1.6h-1.6zM316.9 842.3h1.6v1.6h-1.6zM411.8 840.1h1.6v1.6h-1.6zM427.3 842.5h1.6v1.6h-1.6zM401.1 837.6h1.6v1.6h-1.6zM467.2 843.5h1.6v1.6h-1.6zM305.2 839.9h1.6v1.6h-1.6zM308.2 847.8h1.6v1.6h-1.6zM312.5 847.6h1.6v1.6h-1.6zM404.4 838.6h1.6v1.6h-1.6zM298.7 840.2h1.6v1.6h-1.6zM400.2 845.9h1.6v1.6h-1.6zM398.2 845.5h1.6v1.6h-1.6zM443.2 846.2h1.6v1.6h-1.6zM419.2 848.0h1.6v1.6h-1.6zM314.9 838.2h1.6v1.6h-1.6zM319.0 846.1h1.6v1.6h-1.6zM503.6 848.3h1.6v1.6h-1.6zM434.4 846.5h1.6v1.6h-1.6zM410.9 839.9h1.6v1.6h-1.6zM316.5 842.5h1.6v1.6h-1.6zM402.5 842.1h1.6v1.6h-1.6zM321.6 836.3h1.6v1.6h-1.6zM407.2 844.3h1.6v1.6h-1.6zM398.2 838.7h1.6v1.6h-1.6zM441.1 842.6h1.6v1.6h-1.6zM320.4 843.4h1.6v1.6h-1.6zM318.6 843.2h1.6v1.6h-1.6zM438.9 844.2h1.6v1.6h-1.6zM459.8 842.6h1.6v1.6h-1.6zM429.2 843.0h1.6v1.6h-1.6zM431.0 845.1h1.6v1.6h-1.6zM319.7 844.0h1.6v1.6h-1.6zM417.7 846.7h1.6v1.6h-1.6zM395.0 837.2h1.6v1.6h-1.6zM420.7 844.3h1.6v1.6h-1.6zM394.2 848.2h1.6v1.6h-1.6zM401.7 843.8h1.6v1.6h-1.6zM395.3 836.6h1.6v1.6h-1.6zM398.9 839.7h1.6v1.6h-1.6zM399.9 839.8h1.6v1.6h-1.6zM398.9 836.7h1.6v1.6h-1.6zM399.6 844.0h1.6v1.6h-1.6zM303.1 842.8h1.6v1.6h-1.6zM303.3 843.1h1.6v1.6h-1.6zM395.4 838.0h1.6v1.6h-1.6zM394.4 842.6h1.6v1.6h-1.6zM313.4 847.4h1.6v1.6h-1.6zM397.7 840.5h1.6v1.6h-1.6zM399.7 845.9h1.6v1.6h-1.6zM394.5 845.3h1.6v1.6h-1.6zM316.6 844.1h1.6v1.6h-1.6zM320.2 839.7h1.6v1.6h-1.6zM398.2 844.8h1.6v1.6h-1.6zM313.3 841.2h1.6v1.6h-1.6zM438.7 846.7h1.6v1.6h-1.6zM415.4 839.0h1.6v1.6h-1.6zM411.8 838.5h1.6v1.6h-1.6zM461.6 842.5h1.6v1.6h-1.6zM406.3 847.6h1.6v1.6h-1.6zM394.8 843.7h1.6v1.6h-1.6zM243.0 844.8h1.6v1.6h-1.6zM314.3 838.3h1.6v1.6h-1.6zM297.8 844.0h1.6v1.6h-1.6zM286.7 844.3h1.6v1.6h-1.6zM422.7 841.5h1.6v1.6h-1.6zM313.3 843.4h1.6v1.6h-1.6zM305.3 843.0h1.6v1.6h-1.6zM396.1 843.6h1.6v1.6h-1.6zM449.6 842.2h1.6v1.6h-1.6zM395.8 843.8h1.6v1.6h-1.6zM408.4 841.0h1.6v1.6h-1.6zM416.7 842.8h1.6v1.6h-1.6zM409.3 848.3h1.6v1.6h-1.6zM277.5 840.4h1.6v1.6h-1.6zM409.2 837.5h1.6v1.6h-1.6zM409.8 842.4h1.6v1.6h-1.6zM319.1 839.9h1.6v1.6h-1.6zM447.2 847.4h1.6v1.6h-1.6zM432.5 846.1h1.6v1.6h-1.6zM446.5 846.0h1.6v1.6h-1.6zM251.8 847.4h1.6v1.6h-1.6zM434.5 840.4h1.6v1.6h-1.6zM401.4 837.1h1.6v1.6h-1.6zM291.4 846.1h1.6v1.6h-1.6zM423.5 840.3h1.6v1.6h-1.6zM418.8 842.0h1.6v1.6h-1.6zM396.1 848.2h1.6v1.6h-1.6zM313.0 848.3h1.6v1.6h-1.6zM318.9 837.8h1.6v1.6h-1.6zM313.0 840.3h1.6v1.6h-1.6zM478.7 846.4h1.6v1.6h-1.6zM395.9 848.4h1.6v1.6h-1.6zM396.1 845.1h1.6v1.6h-1.6zM398.7 847.2h1.6v1.6h-1.6zM408.8 847.8h1.6v1.6h-1.6zM317.1 845.1h1.6v1.6h-1.6zM415.8 843.2h1.6v1.6h-1.6zM395.8 845.7h1.6v1.6h-1.6zM400.4 846.4h1.6v1.6h-1.6zM397.9 841.3h1.6v1.6h-1.6zM321.1 843.5h1.6v1.6h-1.6zM321.1 840.6h1.6v1.6h-1.6zM394.7 837.8h1.6v1.6h-1.6zM312.9 841.4h1.6v1.6h-1.6zM413.5 841.3h1.6v1.6h-1.6zM318.5 838.0h1.6v1.6h-1.6zM303.3 840.5h1.6v1.6h-1.6zM315.5 837.8h1.6v1.6h-1.6zM297.3 839.4h1.6v1.6h-1.6zM313.4 838.3h1.6v1.6h-1.6zM320.3 845.8h1.6v1.6h-1.6zM412.5 846.0h1.6v1.6h-1.6zM315.9 846.8h1.6v1.6h-1.6zM398.1 841.0h1.6v1.6h-1.6zM315.5 847.0h1.6v1.6h-1.6zM320.1 837.2h1.6v1.6h-1.6zM316.7 840.6h1.6v1.6h-1.6zM461.5 844.4h1.6v1.6h-1.6zM317.7 844.8h1.6v1.6h-1.6zM414.2 843.2h1.6v1.6h-1.6zM455.1 843.7h1.6v1.6h-1.6zM316.8 845.7h1.6v1.6h-1.6zM397.3 837.7h1.6v1.6h-1.6zM419.1 844.0h1.6v1.6h-1.6zM397.0 840.6h1.6v1.6h-1.6zM306.8 838.8h1.6v1.6h-1.6zM304.0 839.6h1.6v1.6h-1.6zM306.5 843.8h1.6v1.6h-1.6zM454.9 843.4h1.6v1.6h-1.6zM311.9 842.0h1.6v1.6h-1.6zM315.4 844.2h1.6v1.6h-1.6zM321.2 840.2h1.6v1.6h-1.6zM409.0 841.3h1.6v1.6h-1.6zM436.1 842.7h1.6v1.6h-1.6zM307.2 846.6h1.6v1.6h-1.6zM309.6 841.8h1.6v1.6h-1.6zM406.0 837.8h1.6v1.6h-1.6zM405.1 843.0h1.6v1.6h-1.6zM321.9 840.6h1.6v1.6h-1.6zM407.0 844.8h1.6v1.6h-1.6zM297.0 845.8h1.6v1.6h-1.6zM404.8 837.5h1.6v1.6h-1.6zM395.6 839.1h1.6v1.6h-1.6zM409.1 839.5h1.6v1.6h-1.6zM395.0 837.5h1.6v1.6h-1.6zM321.7 842.5h1.6v1.6h-1.6zM304.5 843.2h1.6v1.6h-1.6zM467.5 843.3h1.6v1.6h-1.6zM308.6 841.1h1.6v1.6h-1.6zM313.1 840.2h1.6v1.6h-1.6zM287.2 841.6h1.6v1.6h-1.6zM313.4 842.2h1.6v1.6h-1.6zM265.6 844.1h1.6v1.6h-1.6zM302.5 842.0h1.6v1.6h-1.6zM305.0 843.1h1.6v1.6h-1.6zM401.7 843.2h1.6v1.6h-1.6zM411.2 839.5h1.6v1.6h-1.6zM316.3 846.2h1.6v1.6h-1.6zM397.5 845.8h1.6v1.6h-1.6zM317.0 847.3h1.6v1.6h-1.6zM405.2 844.9h1.6v1.6h-1.6zM311.8 846.5h1.6v1.6h-1.6zM396.5 839.5h1.6v1.6h-1.6zM295.8 840.7h1.6v1.6h-1.6zM272.7 840.8h1.6v1.6h-1.6zM500.0 847.9h1.6v1.6h-1.6zM317.9 838.7h1.6v1.6h-1.6zM319.8 844.2h1.6v1.6h-1.6zM397.8 837.0h1.6v1.6h-1.6zM451.8 844.1h1.6v1.6h-1.6zM404.0 848.0h1.6v1.6h-1.6zM398.2 839.0h1.6v1.6h-1.6zM302.1 844.9h1.6v1.6h-1.6zM438.8 840.7h1.6v1.6h-1.6zM408.1 840.8h1.6v1.6h-1.6zM321.2 839.8h1.6v1.6h-1.6zM469.3 845.6h1.6v1.6h-1.6zM464.8 845.0h1.6v1.6h-1.6zM313.2 844.2h1.6v1.6h-1.6zM410.6 839.8h1.6v1.6h-1.6zM443.1 840.5h1.6v1.6h-1.6zM413.3 840.6h1.6v1.6h-1.6zM479.1 848.3h1.6v1.6h-1.6zM314.6 839.3h1.6v1.6h-1.6zM441.0 844.1h1.6v1.6h-1.6zM396.5 848.4h1.6v1.6h-1.6zM424.1 840.0h1.6v1.6h-1.6zM269.8 846.3h1.6v1.6h-1.6zM475.8 847.7h1.6v1.6h-1.6zM394.1 840.6h1.6v1.6h-1.6zM420.0 846.4h1.6v1.6h-1.6zM254.1 846.8h1.6v1.6h-1.6zM316.1 840.9h1.6v1.6h-1.6zM459.6 843.2h1.6v1.6h-1.6zM317.3 838.0h1.6v1.6h-1.6zM405.1 844.1h1.6v1.6h-1.6zM298.6 844.1h1.6v1.6h-1.6zM414.4 841.2h1.6v1.6h-1.6zM456.9 845.0h1.6v1.6h-1.6zM420.1 845.8h1.6v1.6h-1.6zM436.4 842.2h1.6v1.6h-1.6zM321.9 837.2h1.6v1.6h-1.6zM397.7 840.9h1.6v1.6h-1.6zM321.1 839.9h1.6v1.6h-1.6zM312.8 838.0h1.6v1.6h-1.6zM287.9 844.9h1.6v1.6h-1.6zM310.4 843.0h1.6v1.6h-1.6zM401.5 848.3h1.6v1.6h-1.6zM314.8 844.3h1.6v1.6h-1.6zM406.5 841.8h1.6v1.6h-1.6zM302.1 846.1h1.6v1.6h-1.6zM303.1 839.5h1.6v1.6h-1.6zM317.0 846.6h1.6v1.6h-1.6zM411.1 847.0h1.6v1.6h-1.6zM418.1 847.3h1.6v1.6h-1.6zM413.8 846.3h1.6v1.6h-1.6zM401.6 844.4h1.6v1.6h-1.6zM407.3 848.2h1.6v1.6h-1.6zM403.9 843.7h1.6v1.6h-1.6zM430.0 840.0h1.6v1.6h-1.6zM430.2 840.6h1.6v1.6h-1.6zM296.0 847.4h1.6v1.6h-1.6zM403.8 846.0h1.6v1.6h-1.6zM275.8 847.3h1.6v1.6h-1.6zM400.0 844.6h1.6v1.6h-1.6zM298.5 847.4h1.6v1.6h-1.6zM404.3 837.6h1.6v1.6h-1.6zM403.1 842.6h1.6v1.6h-1.6zM308.4 848.1h1.6v1.6h-1.6zM414.6 845.5h1.6v1.6h-1.6zM273.5 847.4h1.6v1.6h-1.6zM321.6 843.8h1.6v1.6h-1.6zM435.3 845.6h1.6v1.6h-1.6zM263.2 846.4h1.6v1.6h-1.6zM314.1 845.2h1.6v1.6h-1.6zM395.2 844.5h1.6v1.6h-1.6zM409.3 839.2h1.6v1.6h-1.6zM311.2 843.1h1.6v1.6h-1.6zM402.4 838.9h1.6v1.6h-1.6zM397.9 846.4h1.6v1.6h-1.6zM425.9 846.2h1.6v1.6h-1.6zM275.0 840.7h1.6v1.6h-1.6zM409.9 843.6h1.6v1.6h-1.6zM411.7 838.1h1.6v1.6h-1.6zM410.9 840.8h1.6v1.6h-1.6zM320.0 847.6h1.6v1.6h-1.6zM399.7 846.9h1.6v1.6h-1.6zM407.5 846.2h1.6v1.6h-1.6zM318.2 839.0h1.6v1.6h-1.6zM312.2 845.0h1.6v1.6h-1.6zM468.1 846.1h1.6v1.6h-1.6zM403.4 844.9h1.6v1.6h-1.6zM491.4 846.1h1.6v1.6h-1.6zM319.7 842.9h1.6v1.6h-1.6zM397.9 841.0h1.6v1.6h-1.6zM286.4 846.7h1.6v1.6h-1.6zM448.7 842.3h1.6v1.6h-1.6zM403.7 845.3h1.6v1.6h-1.6zM407.3 845.3h1.6v1.6h-1.6zM249.0 843.6h1.6v1.6h-1.6zM427.3 842.2h1.6v1.6h-1.6zM414.3 840.1h1.6v1.6h-1.6zM417.6 843.4h1.6v1.6h-1.6zM304.8 839.4h1.6v1.6h-1.6zM411.0 847.2h1.6v1.6h-1.6zM405.2 847.5h1.6v1.6h-1.6zM433.7 839.5h1.6v1.6h-1.6zM321.4 838.9h1.6v1.6h-1.6zM319.0 846.8h1.6v1.6h-1.6zM320.2 845.3h1.6v1.6h-1.6zM415.9 841.5h1.6v1.6h-1.6zM404.4 848.1h1.6v1.6h-1.6zM403.6 844.5h1.6v1.6h-1.6zM402.5 844.5h1.6v1.6h-1.6zM405.3 843.2h1.6v1.6h-1.6zM318.9 843.8h1.6v1.6h-1.6zM307.2 842.8h1.6v1.6h-1.6zM417.7 840.1h1.6v1.6h-1.6zM402.8 837.7h1.6v1.6h-1.6zM287.5 844.5h1.6v1.6h-1.6zM257.4 844.1h1.6v1.6h-1.6zM492.1 848.1h1.6v1.6h-1.6zM397.2 847.4h1.6v1.6h-1.6zM449.1 847.5h1.6v1.6h-1.6zM313.9 845.1h1.6v1.6h-1.6zM407.8 842.7h1.6v1.6h-1.6zM395.4 847.6h1.6v1.6h-1.6zM401.1 837.4h1.6v1.6h-1.6zM307.8 841.1h1.6v1.6h-1.6zM316.1 843.2h1.6v1.6h-1.6zM320.7 846.0h1.6v1.6h-1.6zM295.6 845.3h1.6v1.6h-1.6zM314.7 840.5h1.6v1.6h-1.6zM271.6 848.3h1.6v1.6h-1.6zM320.9 837.4h1.6v1.6h-1.6zM403.8 840.5h1.6v1.6h-1.6zM311.9 844.6h1.6v1.6h-1.6zM415.8 847.5h1.6v1.6h-1.6zM434.1 845.2h1.6v1.6h-1.6zM404.0 840.3h1.6v1.6h-1.6zM412.7 846.4h1.6v1.6h-1.6zM278.4 843.5h1.6v1.6h-1.6zM438.3 840.7h1.6v1.6h-1.6zM312.6 841.4h1.6v1.6h-1.6zM316.4 842.6h1.6v1.6h-1.6zM401.3 840.1h1.6v1.6h-1.6zM397.4 845.6h1.6v1.6h-1.6zM414.9 845.1h1.6v1.6h-1.6zM449.4 841.6h1.6v1.6h-1.6zM443.4 845.6h1.6v1.6h-1.6zM413.4 846.5h1.6v1.6h-1.6zM400.5 840.5h1.6v1.6h-1.6zM458.5 844.0h1.6v1.6h-1.6zM396.8 848.0h1.6v1.6h-1.6zM310.2 843.6h1.6v1.6h-1.6zM320.5 841.4h1.6v1.6h-1.6zM403.1 843.1h1.6v1.6h-1.6zM419.8 843.4h1.6v1.6h-1.6zM317.4 845.0h1.6v1.6h-1.6zM320.5 846.2h1.6v1.6h-1.6zM398.3 838.1h1.6v1.6h-1.6zM401.4 844.6h1.6v1.6h-1.6zM310.4 843.0h1.6v1.6h-1.6zM320.9 839.9h1.6v1.6h-1.6zM487.5 846.9h1.6v1.6h-1.6zM426.6 844.4h1.6v1.6h-1.6zM441.6 841.7h1.6v1.6h-1.6zM313.5 844.4h1.6v1.6h-1.6zM407.0 842.1h1.6v1.6h-1.6zM313.8 838.9h1.6v1.6h-1.6zM305.4 840.7h1.6v1.6h-1.6zM315.6 841.3h1.6v1.6h-1.6zM306.4 842.5h1.6v1.6h-1.6zM403.6 847.6h1.6v1.6h-1.6zM414.6 847.9h1.6v1.6h-1.6zM394.2 841.7h1.6v1.6h-1.6zM305.5 844.5h1.6v1.6h-1.6zM398.2 847.5h1.6v1.6h-1.6zM312.8 846.5h1.6v1.6h-1.6zM288.7 844.3h1.6v1.6h-1.6zM405.3 838.8h1.6v1.6h-1.6zM396.4 842.9h1.6v1.6h-1.6zM295.0 847.8h1.6v1.6h-1.6zM399.1 838.3h1.6v1.6h-1.6zM318.1 840.1h1.6v1.6h-1.6zM307.6 844.8h1.6v1.6h-1.6zM317.6 848.2h1.6v1.6h-1.6zM394.3 846.0h1.6v1.6h-1.6zM295.0 843.1h1.6v1.6h-1.6zM399.0 838.9h1.6v1.6h-1.6zM433.7 845.6h1.6v1.6h-1.6zM452.2 844.3h1.6v1.6h-1.6zM468.8 848.1h1.6v1.6h-1.6zM291.8 839.3h1.6v1.6h-1.6zM321.7 848.3h1.6v1.6h-1.6zM405.4 842.1h1.6v1.6h-1.6zM397.4 838.1h1.6v1.6h-1.6zM305.0 844.6h1.6v1.6h-1.6zM314.4 848.4h1.6v1.6h-1.6zM403.6 844.3h1.6v1.6h-1.6zM320.4 840.0h1.6v1.6h-1.6zM417.6 839.5h1.6v1.6h-1.6zM394.8 848.2h1.6v1.6h-1.6zM400.4 847.2h1.6v1.6h-1.6zM453.5 842.1h1.6v1.6h-1.6zM401.8 844.7h1.6v1.6h-1.6zM300.4 838.6h1.6v1.6h-1.6zM313.9 844.3h1.6v1.6h-1.6zM320.2 836.6h1.6v1.6h-1.6zM308.1 838.4h1.6v1.6h-1.6zM263.1 843.1h1.6v1.6h-1.6zM417.3 845.5h1.6v1.6h-1.6zM299.7 840.0h1.6v1.6h-1.6zM309.8 846.0h1.6v1.6h-1.6zM402.6 837.5h1.6v1.6h-1.6zM397.7 844.0h1.6v1.6h-1.6zM480.4 846.9h1.6v1.6h-1.6zM321.1 845.4h1.6v1.6h-1.6zM314.8 845.5h1.6v1.6h-1.6zM417.9 838.6h1.6v1.6h-1.6zM308.5 840.9h1.6v1.6h-1.6zM312.4 846.1h1.6v1.6h-1.6zM316.2 838.9h1.6v1.6h-1.6zM298.5 842.4h1.6v1.6h-1.6zM315.2 844.5h1.6v1.6h-1.6zM307.6 843.0h1.6v1.6h-1.6zM415.2 846.9h1.6v1.6h-1.6zM425.7 840.2h1.6v1.6h-1.6zM318.4 838.1h1.6v1.6h-1.6zM320.6 845.7h1.6v1.6h-1.6zM397.2 841.8h1.6v1.6h-1.6zM418.9 840.8h1.6v1.6h-1.6zM399.0 838.1h1.6v1.6h-1.6zM397.7 846.8h1.6v1.6h-1.6zM319.6 839.2h1.6v1.6h-1.6zM397.1 837.9h1.6v1.6h-1.6zM397.6 846.7h1.6v1.6h-1.6zM405.8 841.8h1.6v1.6h-1.6zM433.8 843.5h1.6v1.6h-1.6zM406.3 846.7h1.6v1.6h-1.6zM298.0 848.4h1.6v1.6h-1.6zM289.7 843.6h1.6v1.6h-1.6zM412.5 847.2h1.6v1.6h-1.6zM311.4 845.1h1.6v1.6h-1.6zM419.3 845.1h1.6v1.6h-1.6zM395.6 841.8h1.6v1.6h-1.6zM430.1 843.1h1.6v1.6h-1.6zM402.5 845.0h1.6v1.6h-1.6zM405.4 839.2h1.6v1.6h-1.6zM394.4 839.9h1.6v1.6h-1.6zM285.5 846.5h1.6v1.6h-1.6zM319.7 844.8h1.6v1.6h-1.6zM408.8 847.9h1.6v1.6h-1.6zM468.1 847.8h1.6v1.6h-1.6zM398.2 848.2h1.6v1.6h-1.6zM311.3 838.5h1.6v1.6h-1.6zM308.7 840.3h1.6v1.6h-1.6zM428.7 846.1h1.6v1.6h-1.6zM320.8 837.5h1.6v1.6h-1.6zM321.1 839.7h1.6v1.6h-1.6zM406.2 845.1h1.6v1.6h-1.6zM298.1 847.1h1.6v1.6h-1.6zM313.9 845.0h1.6v1.6h-1.6zM400.2 842.2h1.6v1.6h-1.6zM416.3 840.4h1.6v1.6h-1.6zM314.3 839.3h1.6v1.6h-1.6zM310.3 843.5h1.6v1.6h-1.6zM398.6 841.0h1.6v1.6h-1.6zM425.8 842.1h1.6v1.6h-1.6zM409.1 845.5h1.6v1.6h-1.6zM316.5 845.3h1.6v1.6h-1.6zM288.8 841.9h1.6v1.6h-1.6zM405.3 843.2h1.6v1.6h-1.6zM312.4 848.2h1.6v1.6h-1.6zM313.9 846.3h1.6v1.6h-1.6zM430.5 845.0h1.6v1.6h-1.6zM316.1 841.5h1.6v1.6h-1.6zM320.3 841.4h1.6v1.6h-1.6zM285.4 842.1h1.6v1.6h-1.6zM440.3 841.7h1.6v1.6h-1.6zM310.4 845.5h1.6v1.6h-1.6zM319.3 847.1h1.6v1.6h-1.6zM318.8 840.4h1.6v1.6h-1.6zM316.7 843.5h1.6v1.6h-1.6zM291.5 846.3h1.6v1.6h-1.6zM401.8 842.8h1.6v1.6h-1.6zM443.8 844.2h1.6v1.6h-1.6zM399.1 848.2h1.6v1.6h-1.6zM422.9 841.7h1.6v1.6h-1.6zM430.6 846.6h1.6v1.6h-1.6zM432.9 841.3h1.6v1.6h-1.6zM319.7 842.7h1.6v1.6h-1.6zM394.6 841.8h1.6v1.6h-1.6zM435.0 846.4h1.6v1.6h-1.6zM420.4 844.5h1.6v1.6h-1.6zM313.9 848.2h1.6v1.6h-1.6zM394.9 847.5h1.6v1.6h-1.6zM317.6 838.3h1.6v1.6h-1.6zM421.8 844.5h1.6v1.6h-1.6zM312.1 838.2h1.6v1.6h-1.6zM227.7 848.4h1.6v1.6h-1.6zM397.6 837.6h1.6v1.6h-1.6zM396.3 842.4h1.6v1.6h-1.6zM308.0 847.7h1.6v1.6h-1.6zM295.4 848.4h1.6v1.6h-1.6zM420.9 847.8h1.6v1.6h-1.6zM430.2 846.5h1.6v1.6h-1.6zM452.0 845.3h1.6v1.6h-1.6zM311.9 846.9h1.6v1.6h-1.6zM315.7 847.7h1.6v1.6h-1.6zM436.4 843.2h1.6v1.6h-1.6zM432.3 845.9h1.6v1.6h-1.6zM397.2 844.8h1.6v1.6h-1.6zM310.3 840.1h1.6v1.6h-1.6zM279.7 846.0h1.6v1.6h-1.6zM318.7 844.0h1.6v1.6h-1.6zM401.3 845.5h1.6v1.6h-1.6zM403.2 843.8h1.6v1.6h-1.6zM309.2 844.2h1.6v1.6h-1.6zM395.7 840.0h1.6v1.6h-1.6zM313.2 840.7h1.6v1.6h-1.6zM310.3 839.0h1.6v1.6h-1.6zM315.2 846.3h1.6v1.6h-1.6zM288.4 844.1h1.6v1.6h-1.6zM416.5 841.1h1.6v1.6h-1.6zM277.8 842.7h1.6v1.6h-1.6zM444.6 844.4h1.6v1.6h-1.6zM286.6 845.8h1.6v1.6h-1.6zM404.2 846.0h1.6v1.6h-1.6zM405.0 847.4h1.6v1.6h-1.6zM442.6 845.2h1.6v1.6h-1.6zM417.9 840.1h1.6v1.6h-1.6zM318.4 846.9h1.6v1.6h-1.6zM427.9 842.2h1.6v1.6h-1.6zM303.0 837.8h1.6v1.6h-1.6zM313.4 838.4h1.6v1.6h-1.6zM426.1 846.2h1.6v1.6h-1.6zM397.3 843.3h1.6v1.6h-1.6zM397.7 843.4h1.6v1.6h-1.6zM319.3 847.6h1.6v1.6h-1.6zM394.1 836.4h1.6v1.6h-1.6zM394.0 847.0h1.6v1.6h-1.6zM308.5 847.7h1.6v1.6h-1.6zM467.7 844.1h1.6v1.6h-1.6zM298.3 840.0h1.6v1.6h-1.6zM314.0 846.8h1.6v1.6h-1.6zM470.2 848.0h1.6v1.6h-1.6zM416.9 839.2h1.6v1.6h-1.6zM303.3 845.0h1.6v1.6h-1.6zM492.8 846.4h1.6v1.6h-1.6zM399.6 845.2h1.6v1.6h-1.6zM315.0 847.0h1.6v1.6h-1.6zM395.7 846.1h1.6v1.6h-1.6zM439.6 840.3h1.6v1.6h-1.6zM321.3 838.6h1.6v1.6h-1.6zM304.6 848.2h1.6v1.6h-1.6zM245.0 844.8h1.6v1.6h-1.6zM414.2 842.1h1.6v1.6h-1.6zM318.6 844.2h1.6v1.6h-1.6zM404.5 846.4h1.6v1.6h-1.6zM409.3 845.5h1.6v1.6h-1.6zM409.6 847.9h1.6v1.6h-1.6zM405.4 844.6h1.6v1.6h-1.6zM320.3 848.0h1.6v1.6h-1.6zM312.5 847.5h1.6v1.6h-1.6zM420.6 845.7h1.6v1.6h-1.6zM406.4 843.2h1.6v1.6h-1.6zM320.3 847.4h1.6v1.6h-1.6zM407.4 843.7h1.6v1.6h-1.6zM437.6 845.7h1.6v1.6h-1.6zM472.8 845.5h1.6v1.6h-1.6zM298.8 844.5h1.6v1.6h-1.6zM407.0 847.5h1.6v1.6h-1.6zM414.4 838.3h1.6v1.6h-1.6zM317.7 846.8h1.6v1.6h-1.6zM314.6 846.3h1.6v1.6h-1.6zM293.8 839.9h1.6v1.6h-1.6zM425.2 847.9h1.6v1.6h-1.6zM311.7 847.8h1.6v1.6h-1.6zM311.2 845.1h1.6v1.6h-1.6zM297.0 842.2h1.6v1.6h-1.6zM315.7 843.1h1.6v1.6h-1.6zM401.0 845.7h1.6v1.6h-1.6zM394.0 836.6h1.6v1.6h-1.6zM314.8 845.5h1.6v1.6h-1.6zM398.4 848.3h1.6v1.6h-1.6zM318.9 847.9h1.6v1.6h-1.6zM431.7 843.3h1.6v1.6h-1.6zM405.5 838.4h1.6v1.6h-1.6zM408.6 845.3h1.6v1.6h-1.6zM316.4 844.3h1.6v1.6h-1.6zM288.5 846.0h1.6v1.6h-1.6zM397.0 841.8h1.6v1.6h-1.6zM399.0 836.9h1.6v1.6h-1.6zM319.4 839.6h1.6v1.6h-1.6zM310.0 845.7h1.6v1.6h-1.6zM318.6 838.2h1.6v1.6h-1.6zM415.9 842.9h1.6v1.6h-1.6zM416.6 846.0h1.6v1.6h-1.6zM404.7 846.4h1.6v1.6h-1.6zM315.7 837.6h1.6v1.6h-1.6zM412.7 838.5h1.6v1.6h-1.6zM313.4 845.0h1.6v1.6h-1.6zM320.2 840.1h1.6v1.6h-1.6zM283.7 843.6h1.6v1.6h-1.6zM405.3 841.8h1.6v1.6h-1.6zM407.0 842.9h1.6v1.6h-1.6zM474.6 846.7h1.6v1.6h-1.6z" fill="#a4a4a9"/>
<polygon points="306,838 322,838 322,850 296,850" fill="#a4a4a9"/>
<polygon points="394,838 425,838 450,843 470,848 478,850 394,850" fill="#a4a4a9"/>
<polygon points="303,838.5 302,818 306,806 312,800 318,796 322,794 322,838.5" fill="#2ae82a"/>
<path d="M320.8 808.7h1.8v1.8h-1.8zM295.1 806.7h1.8v1.8h-1.8zM311.9 799.8h1.8v1.8h-1.8zM301.8 797.2h1.8v1.8h-1.8zM319.8 813.0h1.8v1.8h-1.8zM314.8 812.1h1.8v1.8h-1.8zM301.2 815.7h1.8v1.8h-1.8zM315.7 808.6h1.8v1.8h-1.8zM305.7 833.9h1.8v1.8h-1.8zM316.1 831.0h1.8v1.8h-1.8zM313.5 815.6h1.8v1.8h-1.8zM306.7 767.4h1.8v1.8h-1.8zM306.0 803.5h1.8v1.8h-1.8zM316.9 829.3h1.8v1.8h-1.8zM317.3 814.2h1.8v1.8h-1.8zM315.6 746.0h1.8v1.8h-1.8zM311.4 819.5h1.8v1.8h-1.8zM318.9 797.3h1.8v1.8h-1.8zM293.0 809.9h1.8v1.8h-1.8zM315.1 815.0h1.8v1.8h-1.8zM310.9 794.1h1.8v1.8h-1.8zM308.6 800.8h1.8v1.8h-1.8zM302.9 830.9h1.8v1.8h-1.8zM308.3 831.1h1.8v1.8h-1.8zM321.0 761.1h1.8v1.8h-1.8zM321.1 777.8h1.8v1.8h-1.8zM314.2 830.5h1.8v1.8h-1.8zM316.1 831.6h1.8v1.8h-1.8zM302.8 810.1h1.8v1.8h-1.8zM319.4 827.6h1.8v1.8h-1.8zM316.9 777.8h1.8v1.8h-1.8zM312.4 829.1h1.8v1.8h-1.8zM297.7 764.9h1.8v1.8h-1.8zM314.5 775.3h1.8v1.8h-1.8zM301.4 814.3h1.8v1.8h-1.8zM320.4 825.5h1.8v1.8h-1.8zM310.4 827.6h1.8v1.8h-1.8zM315.3 809.8h1.8v1.8h-1.8zM317.5 816.9h1.8v1.8h-1.8zM314.0 831.8h1.8v1.8h-1.8zM311.5 832.8h1.8v1.8h-1.8zM319.3 815.7h1.8v1.8h-1.8zM316.8 795.8h1.8v1.8h-1.8zM285.6 810.4h1.8v1.8h-1.8zM312.8 834.4h1.8v1.8h-1.8zM320.5 789.6h1.8v1.8h-1.8zM316.4 822.5h1.8v1.8h-1.8zM295.7 793.2h1.8v1.8h-1.8zM306.1 826.1h1.8v1.8h-1.8zM320.0 773.4h1.8v1.8h-1.8zM303.8 834.2h1.8v1.8h-1.8zM317.4 829.2h1.8v1.8h-1.8zM312.4 819.7h1.8v1.8h-1.8zM318.5 831.6h1.8v1.8h-1.8zM318.0 829.5h1.8v1.8h-1.8zM296.3 834.2h1.8v1.8h-1.8zM304.8 817.9h1.8v1.8h-1.8zM300.5 777.4h1.8v1.8h-1.8zM315.5 829.3h1.8v1.8h-1.8zM320.6 829.4h1.8v1.8h-1.8zM320.7 809.5h1.8v1.8h-1.8zM318.0 814.2h1.8v1.8h-1.8zM317.4 818.8h1.8v1.8h-1.8zM315.5 833.1h1.8v1.8h-1.8zM316.3 828.5h1.8v1.8h-1.8zM309.4 813.4h1.8v1.8h-1.8zM309.5 828.5h1.8v1.8h-1.8zM319.1 821.0h1.8v1.8h-1.8zM315.2 799.8h1.8v1.8h-1.8zM319.9 805.5h1.8v1.8h-1.8zM318.1 828.5h1.8v1.8h-1.8zM318.9 795.7h1.8v1.8h-1.8zM315.0 806.5h1.8v1.8h-1.8zM306.0 814.9h1.8v1.8h-1.8zM311.3 801.0h1.8v1.8h-1.8zM319.3 796.3h1.8v1.8h-1.8zM319.5 729.0h1.8v1.8h-1.8zM312.7 816.4h1.8v1.8h-1.8zM309.7 820.9h1.8v1.8h-1.8zM318.8 785.8h1.8v1.8h-1.8zM320.7 832.5h1.8v1.8h-1.8zM320.8 827.3h1.8v1.8h-1.8zM315.8 832.2h1.8v1.8h-1.8zM319.2 831.4h1.8v1.8h-1.8zM316.4 822.4h1.8v1.8h-1.8zM319.8 804.4h1.8v1.8h-1.8zM312.7 834.6h1.8v1.8h-1.8zM315.9 824.7h1.8v1.8h-1.8zM320.2 827.4h1.8v1.8h-1.8zM317.4 820.3h1.8v1.8h-1.8zM317.1 786.5h1.8v1.8h-1.8zM309.9 795.1h1.8v1.8h-1.8zM314.8 824.2h1.8v1.8h-1.8zM316.9 830.7h1.8v1.8h-1.8zM316.5 811.0h1.8v1.8h-1.8zM320.7 833.2h1.8v1.8h-1.8zM312.6 827.4h1.8v1.8h-1.8zM316.2 830.7h1.8v1.8h-1.8zM315.9 835.6h1.8v1.8h-1.8zM318.3 823.9h1.8v1.8h-1.8zM313.6 816.2h1.8v1.8h-1.8zM284.4 802.0h1.8v1.8h-1.8zM320.3 753.6h1.8v1.8h-1.8zM316.5 815.8h1.8v1.8h-1.8zM320.2 811.8h1.8v1.8h-1.8zM316.8 819.6h1.8v1.8h-1.8zM303.2 818.3h1.8v1.8h-1.8zM315.2 777.3h1.8v1.8h-1.8zM320.7 831.0h1.8v1.8h-1.8zM310.8 826.3h1.8v1.8h-1.8zM320.0 810.6h1.8v1.8h-1.8zM314.2 815.3h1.8v1.8h-1.8zM306.4 803.0h1.8v1.8h-1.8zM313.5 817.8h1.8v1.8h-1.8zM314.5 792.1h1.8v1.8h-1.8zM308.8 828.2h1.8v1.8h-1.8zM314.1 819.0h1.8v1.8h-1.8zM318.2 804.9h1.8v1.8h-1.8zM318.9 830.4h1.8v1.8h-1.8zM318.6 797.5h1.8v1.8h-1.8zM297.9 705.5h1.8v1.8h-1.8zM314.5 827.9h1.8v1.8h-1.8zM319.4 793.8h1.8v1.8h-1.8zM311.1 796.0h1.8v1.8h-1.8zM299.4 667.9h1.8v1.8h-1.8zM313.8 802.5h1.8v1.8h-1.8zM311.8 797.9h1.8v1.8h-1.8zM316.6 793.6h1.8v1.8h-1.8zM313.7 812.1h1.8v1.8h-1.8zM316.3 791.1h1.8v1.8h-1.8zM317.5 764.7h1.8v1.8h-1.8zM318.6 822.7h1.8v1.8h-1.8zM315.0 831.3h1.8v1.8h-1.8zM309.2 831.3h1.8v1.8h-1.8zM318.0 807.4h1.8v1.8h-1.8zM315.6 826.8h1.8v1.8h-1.8zM320.7 835.8h1.8v1.8h-1.8zM283.0 806.8h1.8v1.8h-1.8zM315.3 822.3h1.8v1.8h-1.8zM320.1 819.5h1.8v1.8h-1.8zM297.4 812.6h1.8v1.8h-1.8zM311.2 804.5h1.8v1.8h-1.8zM316.5 827.7h1.8v1.8h-1.8zM317.9 825.7h1.8v1.8h-1.8zM299.2 811.0h1.8v1.8h-1.8zM318.0 817.9h1.8v1.8h-1.8zM312.7 823.0h1.8v1.8h-1.8zM315.6 807.6h1.8v1.8h-1.8zM308.8 801.1h1.8v1.8h-1.8zM314.3 824.3h1.8v1.8h-1.8zM319.1 832.8h1.8v1.8h-1.8zM314.5 834.8h1.8v1.8h-1.8zM309.8 831.4h1.8v1.8h-1.8zM318.9 823.2h1.8v1.8h-1.8zM319.6 721.9h1.8v1.8h-1.8zM297.4 830.3h1.8v1.8h-1.8zM315.9 831.9h1.8v1.8h-1.8zM311.0 816.4h1.8v1.8h-1.8zM311.5 828.7h1.8v1.8h-1.8zM307.9 830.7h1.8v1.8h-1.8zM304.8 796.0h1.8v1.8h-1.8zM315.7 822.3h1.8v1.8h-1.8zM314.0 832.1h1.8v1.8h-1.8zM319.9 802.5h1.8v1.8h-1.8zM321.0 820.2h1.8v1.8h-1.8zM320.0 803.3h1.8v1.8h-1.8zM320.7 806.9h1.8v1.8h-1.8zM318.9 834.5h1.8v1.8h-1.8zM314.6 823.6h1.8v1.8h-1.8zM320.2 820.2h1.8v1.8h-1.8zM314.5 757.2h1.8v1.8h-1.8zM319.7 824.2h1.8v1.8h-1.8zM320.9 835.4h1.8v1.8h-1.8zM304.4 825.0h1.8v1.8h-1.8zM319.3 830.3h1.8v1.8h-1.8zM318.7 805.0h1.8v1.8h-1.8zM300.8 828.2h1.8v1.8h-1.8zM318.5 815.6h1.8v1.8h-1.8zM311.2 815.0h1.8v1.8h-1.8zM313.9 779.0h1.8v1.8h-1.8zM315.1 825.0h1.8v1.8h-1.8zM317.4 831.7h1.8v1.8h-1.8zM312.9 786.8h1.8v1.8h-1.8zM317.7 823.5h1.8v1.8h-1.8zM319.9 697.2h1.8v1.8h-1.8zM316.8 829.8h1.8v1.8h-1.8zM294.7 677.6h1.8v1.8h-1.8zM309.6 824.0h1.8v1.8h-1.8zM318.3 816.3h1.8v1.8h-1.8zM315.2 793.1h1.8v1.8h-1.8zM312.9 832.2h1.8v1.8h-1.8zM318.7 832.1h1.8v1.8h-1.8zM320.6 831.4h1.8v1.8h-1.8zM300.9 802.6h1.8v1.8h-1.8zM314.6 754.6h1.8v1.8h-1.8zM317.4 824.3h1.8v1.8h-1.8zM312.0 835.1h1.8v1.8h-1.8zM315.0 835.7h1.8v1.8h-1.8zM319.5 834.8h1.8v1.8h-1.8zM321.1 821.1h1.8v1.8h-1.8zM315.3 768.2h1.8v1.8h-1.8zM311.5 828.8h1.8v1.8h-1.8zM311.1 794.2h1.8v1.8h-1.8zM317.7 805.4h1.8v1.8h-1.8zM299.4 826.1h1.8v1.8h-1.8zM290.0 831.4h1.8v1.8h-1.8zM301.7 817.0h1.8v1.8h-1.8zM319.4 799.4h1.8v1.8h-1.8zM315.9 789.7h1.8v1.8h-1.8zM319.7 816.5h1.8v1.8h-1.8zM318.2 827.2h1.8v1.8h-1.8zM313.1 778.0h1.8v1.8h-1.8zM318.3 825.9h1.8v1.8h-1.8zM300.1 815.7h1.8v1.8h-1.8zM317.1 821.8h1.8v1.8h-1.8zM308.2 829.7h1.8v1.8h-1.8zM317.0 824.0h1.8v1.8h-1.8zM317.5 818.3h1.8v1.8h-1.8zM305.5 823.4h1.8v1.8h-1.8zM318.4 831.8h1.8v1.8h-1.8zM313.3 833.0h1.8v1.8h-1.8zM318.1 829.5h1.8v1.8h-1.8zM315.5 807.6h1.8v1.8h-1.8zM315.1 832.9h1.8v1.8h-1.8zM313.0 819.0h1.8v1.8h-1.8zM312.5 816.0h1.8v1.8h-1.8zM318.7 805.0h1.8v1.8h-1.8zM313.5 830.9h1.8v1.8h-1.8zM305.9 796.1h1.8v1.8h-1.8zM310.6 834.9h1.8v1.8h-1.8zM313.7 810.2h1.8v1.8h-1.8zM312.0 800.0h1.8v1.8h-1.8zM319.9 830.0h1.8v1.8h-1.8zM314.2 832.1h1.8v1.8h-1.8zM315.5 834.4h1.8v1.8h-1.8zM304.0 799.5h1.8v1.8h-1.8zM321.1 834.3h1.8v1.8h-1.8zM310.4 810.6h1.8v1.8h-1.8zM315.1 800.3h1.8v1.8h-1.8zM320.1 828.3h1.8v1.8h-1.8zM303.7 834.7h1.8v1.8h-1.8zM314.1 825.9h1.8v1.8h-1.8zM303.8 779.2h1.8v1.8h-1.8zM311.5 782.5h1.8v1.8h-1.8zM301.0 825.1h1.8v1.8h-1.8zM315.1 803.9h1.8v1.8h-1.8zM314.8 784.8h1.8v1.8h-1.8zM310.1 805.6h1.8v1.8h-1.8zM308.8 809.9h1.8v1.8h-1.8zM307.3 787.8h1.8v1.8h-1.8zM316.2 798.1h1.8v1.8h-1.8zM310.6 812.6h1.8v1.8h-1.8zM285.7 800.1h1.8v1.8h-1.8zM313.9 827.4h1.8v1.8h-1.8zM312.8 832.9h1.8v1.8h-1.8zM312.9 823.6h1.8v1.8h-1.8zM318.0 834.3h1.8v1.8h-1.8zM314.5 794.6h1.8v1.8h-1.8zM318.4 814.7h1.8v1.8h-1.8zM316.3 787.0h1.8v1.8h-1.8zM304.0 820.7h1.8v1.8h-1.8zM316.0 831.7h1.8v1.8h-1.8zM302.3 782.1h1.8v1.8h-1.8zM320.6 790.9h1.8v1.8h-1.8zM320.7 793.0h1.8v1.8h-1.8zM320.4 793.5h1.8v1.8h-1.8zM316.5 779.6h1.8v1.8h-1.8zM318.1 807.5h1.8v1.8h-1.8zM312.5 809.9h1.8v1.8h-1.8zM320.6 802.5h1.8v1.8h-1.8zM309.9 830.4h1.8v1.8h-1.8zM294.4 789.1h1.8v1.8h-1.8zM317.3 802.7h1.8v1.8h-1.8zM312.6 813.2h1.8v1.8h-1.8zM312.3 814.5h1.8v1.8h-1.8zM317.9 809.8h1.8v1.8h-1.8zM301.3 777.5h1.8v1.8h-1.8zM318.4 791.5h1.8v1.8h-1.8zM319.6 820.7h1.8v1.8h-1.8zM315.2 806.6h1.8v1.8h-1.8zM309.2 834.5h1.8v1.8h-1.8zM319.9 828.6h1.8v1.8h-1.8zM315.8 829.6h1.8v1.8h-1.8zM310.2 822.6h1.8v1.8h-1.8zM320.6 806.7h1.8v1.8h-1.8zM310.2 775.4h1.8v1.8h-1.8zM315.3 827.2h1.8v1.8h-1.8zM314.3 822.0h1.8v1.8h-1.8zM297.7 788.2h1.8v1.8h-1.8zM312.1 833.8h1.8v1.8h-1.8zM320.8 829.6h1.8v1.8h-1.8zM306.2 815.3h1.8v1.8h-1.8zM309.5 828.8h1.8v1.8h-1.8zM319.0 810.7h1.8v1.8h-1.8zM317.8 748.2h1.8v1.8h-1.8zM305.3 828.7h1.8v1.8h-1.8zM320.9 835.5h1.8v1.8h-1.8zM311.1 832.8h1.8v1.8h-1.8zM318.5 826.7h1.8v1.8h-1.8zM311.1 796.7h1.8v1.8h-1.8zM311.4 835.0h1.8v1.8h-1.8zM320.0 830.6h1.8v1.8h-1.8zM315.9 821.4h1.8v1.8h-1.8zM315.7 771.2h1.8v1.8h-1.8zM316.8 787.8h1.8v1.8h-1.8zM313.9 831.6h1.8v1.8h-1.8zM307.0 830.3h1.8v1.8h-1.8zM310.9 817.9h1.8v1.8h-1.8zM302.9 779.0h1.8v1.8h-1.8zM321.1 814.1h1.8v1.8h-1.8zM314.5 752.1h1.8v1.8h-1.8zM319.5 768.9h1.8v1.8h-1.8zM318.5 823.6h1.8v1.8h-1.8zM318.0 806.9h1.8v1.8h-1.8zM321.0 801.0h1.8v1.8h-1.8zM317.2 798.0h1.8v1.8h-1.8zM315.6 792.8h1.8v1.8h-1.8zM307.9 734.8h1.8v1.8h-1.8zM315.8 830.5h1.8v1.8h-1.8zM319.4 818.7h1.8v1.8h-1.8zM311.2 831.2h1.8v1.8h-1.8zM311.9 825.4h1.8v1.8h-1.8zM319.2 806.4h1.8v1.8h-1.8zM317.4 826.6h1.8v1.8h-1.8zM312.3 798.8h1.8v1.8h-1.8zM308.7 832.7h1.8v1.8h-1.8zM320.5 804.6h1.8v1.8h-1.8zM320.5 834.9h1.8v1.8h-1.8zM298.5 786.4h1.8v1.8h-1.8zM312.6 816.9h1.8v1.8h-1.8zM315.1 822.6h1.8v1.8h-1.8zM318.5 833.8h1.8v1.8h-1.8zM320.1 792.3h1.8v1.8h-1.8zM283.1 804.7h1.8v1.8h-1.8zM320.4 830.1h1.8v1.8h-1.8zM309.4 823.2h1.8v1.8h-1.8zM316.8 826.3h1.8v1.8h-1.8zM317.5 828.2h1.8v1.8h-1.8zM318.7 820.3h1.8v1.8h-1.8zM315.4 787.8h1.8v1.8h-1.8zM306.3 794.4h1.8v1.8h-1.8zM316.6 833.4h1.8v1.8h-1.8zM315.7 810.8h1.8v1.8h-1.8zM318.3 813.5h1.8v1.8h-1.8zM318.8 822.5h1.8v1.8h-1.8zM311.3 826.3h1.8v1.8h-1.8zM295.5 826.8h1.8v1.8h-1.8zM321.1 835.2h1.8v1.8h-1.8zM314.6 826.3h1.8v1.8h-1.8zM320.0 827.6h1.8v1.8h-1.8zM312.8 826.1h1.8v1.8h-1.8zM318.9 805.3h1.8v1.8h-1.8zM320.8 829.1h1.8v1.8h-1.8zM315.2 833.5h1.8v1.8h-1.8zM318.6 826.8h1.8v1.8h-1.8zM306.4 834.6h1.8v1.8h-1.8zM319.4 776.3h1.8v1.8h-1.8zM296.6 825.8h1.8v1.8h-1.8zM309.3 830.8h1.8v1.8h-1.8zM320.4 830.6h1.8v1.8h-1.8zM316.4 815.1h1.8v1.8h-1.8zM315.0 825.6h1.8v1.8h-1.8zM318.9 829.1h1.8v1.8h-1.8zM317.5 829.8h1.8v1.8h-1.8zM314.6 825.5h1.8v1.8h-1.8zM295.2 808.1h1.8v1.8h-1.8zM314.5 818.0h1.8v1.8h-1.8zM299.8 834.4h1.8v1.8h-1.8zM316.7 802.4h1.8v1.8h-1.8zM320.1 832.2h1.8v1.8h-1.8zM316.4 798.2h1.8v1.8h-1.8zM313.8 828.0h1.8v1.8h-1.8zM278.8 758.5h1.8v1.8h-1.8zM312.1 834.4h1.8v1.8h-1.8zM310.9 804.3h1.8v1.8h-1.8zM312.3 682.7h1.8v1.8h-1.8zM318.9 834.4h1.8v1.8h-1.8zM317.3 833.3h1.8v1.8h-1.8zM319.1 834.9h1.8v1.8h-1.8zM313.1 821.3h1.8v1.8h-1.8zM298.0 833.3h1.8v1.8h-1.8zM312.5 772.0h1.8v1.8h-1.8zM318.4 826.8h1.8v1.8h-1.8zM302.7 779.6h1.8v1.8h-1.8zM309.1 799.1h1.8v1.8h-1.8zM288.3 798.5h1.8v1.8h-1.8zM314.7 827.1h1.8v1.8h-1.8zM311.7 800.6h1.8v1.8h-1.8zM317.9 834.7h1.8v1.8h-1.8zM314.1 778.6h1.8v1.8h-1.8zM320.2 811.4h1.8v1.8h-1.8zM319.4 825.4h1.8v1.8h-1.8zM320.5 825.1h1.8v1.8h-1.8zM321.1 829.1h1.8v1.8h-1.8zM320.7 827.6h1.8v1.8h-1.8zM313.4 831.9h1.8v1.8h-1.8zM317.8 813.4h1.8v1.8h-1.8zM316.0 830.9h1.8v1.8h-1.8zM318.9 810.9h1.8v1.8h-1.8zM313.7 832.3h1.8v1.8h-1.8zM307.4 801.8h1.8v1.8h-1.8zM315.8 830.4h1.8v1.8h-1.8zM320.2 796.8h1.8v1.8h-1.8zM312.2 774.5h1.8v1.8h-1.8zM313.0 790.8h1.8v1.8h-1.8zM319.4 833.0h1.8v1.8h-1.8zM305.3 772.7h1.8v1.8h-1.8zM304.5 747.5h1.8v1.8h-1.8zM319.6 816.3h1.8v1.8h-1.8zM295.9 825.9h1.8v1.8h-1.8zM319.1 810.9h1.8v1.8h-1.8zM313.8 807.5h1.8v1.8h-1.8zM311.6 809.1h1.8v1.8h-1.8zM304.9 830.5h1.8v1.8h-1.8zM320.0 818.6h1.8v1.8h-1.8zM316.8 831.5h1.8v1.8h-1.8zM310.5 831.6h1.8v1.8h-1.8zM311.7 828.8h1.8v1.8h-1.8zM315.9 768.7h1.8v1.8h-1.8zM317.1 822.1h1.8v1.8h-1.8zM318.3 831.8h1.8v1.8h-1.8zM319.9 826.3h1.8v1.8h-1.8zM320.7 827.0h1.8v1.8h-1.8zM310.1 766.2h1.8v1.8h-1.8zM313.3 833.5h1.8v1.8h-1.8zM311.7 826.4h1.8v1.8h-1.8zM305.8 823.4h1.8v1.8h-1.8zM319.5 815.6h1.8v1.8h-1.8zM319.0 827.3h1.8v1.8h-1.8zM313.5 815.9h1.8v1.8h-1.8zM316.4 816.8h1.8v1.8h-1.8zM311.3 799.9h1.8v1.8h-1.8zM320.2 785.8h1.8v1.8h-1.8zM317.7 812.2h1.8v1.8h-1.8zM319.2 758.2h1.8v1.8h-1.8zM320.2 823.6h1.8v1.8h-1.8zM312.1 817.4h1.8v1.8h-1.8zM320.1 814.4h1.8v1.8h-1.8zM313.9 820.6h1.8v1.8h-1.8zM305.7 780.3h1.8v1.8h-1.8zM297.8 823.2h1.8v1.8h-1.8zM316.6 834.4h1.8v1.8h-1.8zM312.0 816.1h1.8v1.8h-1.8zM310.6 816.1h1.8v1.8h-1.8zM320.2 799.3h1.8v1.8h-1.8zM318.3 828.7h1.8v1.8h-1.8zM318.8 806.6h1.8v1.8h-1.8zM297.7 826.6h1.8v1.8h-1.8zM317.4 830.9h1.8v1.8h-1.8zM320.8 820.4h1.8v1.8h-1.8zM313.3 790.0h1.8v1.8h-1.8zM302.5 805.0h1.8v1.8h-1.8zM250.8 647.5h1.8v1.8h-1.8zM288.7 749.0h1.8v1.8h-1.8zM300.2 811.3h1.8v1.8h-1.8zM307.7 823.8h1.8v1.8h-1.8zM310.3 779.1h1.8v1.8h-1.8zM313.2 759.7h1.8v1.8h-1.8zM318.8 830.7h1.8v1.8h-1.8zM319.0 776.1h1.8v1.8h-1.8zM320.2 811.8h1.8v1.8h-1.8zM308.5 826.4h1.8v1.8h-1.8zM296.4 784.6h1.8v1.8h-1.8zM318.1 828.8h1.8v1.8h-1.8zM316.8 833.9h1.8v1.8h-1.8zM310.2 814.7h1.8v1.8h-1.8zM320.5 830.6h1.8v1.8h-1.8zM317.8 832.3h1.8v1.8h-1.8zM314.4 729.5h1.8v1.8h-1.8zM297.8 782.5h1.8v1.8h-1.8zM321.0 780.1h1.8v1.8h-1.8zM318.9 783.2h1.8v1.8h-1.8zM319.8 833.9h1.8v1.8h-1.8zM306.4 807.2h1.8v1.8h-1.8zM309.9 807.8h1.8v1.8h-1.8zM305.4 711.6h1.8v1.8h-1.8zM309.3 788.3h1.8v1.8h-1.8zM307.8 826.0h1.8v1.8h-1.8zM304.6 812.9h1.8v1.8h-1.8zM320.1 833.6h1.8v1.8h-1.8zM317.5 833.3h1.8v1.8h-1.8zM294.0 768.5h1.8v1.8h-1.8zM320.2 835.8h1.8v1.8h-1.8zM312.3 830.9h1.8v1.8h-1.8zM320.0 829.9h1.8v1.8h-1.8zM319.5 805.4h1.8v1.8h-1.8zM317.4 814.8h1.8v1.8h-1.8zM308.6 819.5h1.8v1.8h-1.8zM307.2 810.6h1.8v1.8h-1.8zM317.7 794.7h1.8v1.8h-1.8zM301.5 813.7h1.8v1.8h-1.8zM308.0 831.9h1.8v1.8h-1.8zM297.9 751.9h1.8v1.8h-1.8zM307.6 823.8h1.8v1.8h-1.8zM316.4 784.1h1.8v1.8h-1.8zM298.1 822.3h1.8v1.8h-1.8zM315.9 834.4h1.8v1.8h-1.8zM306.8 819.4h1.8v1.8h-1.8zM313.6 801.0h1.8v1.8h-1.8zM304.6 817.1h1.8v1.8h-1.8zM315.3 835.0h1.8v1.8h-1.8zM320.4 793.1h1.8v1.8h-1.8zM296.8 805.8h1.8v1.8h-1.8zM311.3 809.0h1.8v1.8h-1.8zM314.4 830.2h1.8v1.8h-1.8zM320.9 832.1h1.8v1.8h-1.8zM287.9 828.4h1.8v1.8h-1.8zM310.1 827.9h1.8v1.8h-1.8zM298.0 822.9h1.8v1.8h-1.8zM318.8 808.6h1.8v1.8h-1.8zM301.1 795.6h1.8v1.8h-1.8zM307.8 835.3h1.8v1.8h-1.8zM291.7 830.9h1.8v1.8h-1.8zM320.1 825.1h1.8v1.8h-1.8zM310.3 817.8h1.8v1.8h-1.8zM298.1 827.6h1.8v1.8h-1.8zM314.3 814.3h1.8v1.8h-1.8zM307.8 781.1h1.8v1.8h-1.8zM319.4 824.9h1.8v1.8h-1.8zM321.1 827.4h1.8v1.8h-1.8zM318.3 828.1h1.8v1.8h-1.8zM319.9 809.6h1.8v1.8h-1.8zM316.0 830.1h1.8v1.8h-1.8zM305.9 824.0h1.8v1.8h-1.8zM303.1 821.8h1.8v1.8h-1.8zM318.0 805.4h1.8v1.8h-1.8zM314.4 809.3h1.8v1.8h-1.8zM320.4 813.4h1.8v1.8h-1.8zM303.3 826.4h1.8v1.8h-1.8zM293.6 827.9h1.8v1.8h-1.8zM315.5 816.1h1.8v1.8h-1.8zM303.2 829.8h1.8v1.8h-1.8zM321.0 804.1h1.8v1.8h-1.8zM292.7 771.6h1.8v1.8h-1.8zM318.5 823.3h1.8v1.8h-1.8zM311.5 803.2h1.8v1.8h-1.8zM305.7 826.2h1.8v1.8h-1.8zM319.7 819.0h1.8v1.8h-1.8zM311.5 805.2h1.8v1.8h-1.8zM318.0 830.7h1.8v1.8h-1.8zM320.7 832.4h1.8v1.8h-1.8zM311.8 834.4h1.8v1.8h-1.8zM310.4 799.7h1.8v1.8h-1.8zM317.0 815.7h1.8v1.8h-1.8zM316.9 816.4h1.8v1.8h-1.8zM318.3 759.4h1.8v1.8h-1.8zM320.7 795.2h1.8v1.8h-1.8zM312.2 791.1h1.8v1.8h-1.8zM317.0 820.3h1.8v1.8h-1.8zM321.1 813.4h1.8v1.8h-1.8zM316.9 835.2h1.8v1.8h-1.8zM320.5 819.4h1.8v1.8h-1.8zM313.9 833.0h1.8v1.8h-1.8zM317.5 833.4h1.8v1.8h-1.8zM314.0 786.2h1.8v1.8h-1.8zM317.7 821.7h1.8v1.8h-1.8zM318.2 788.0h1.8v1.8h-1.8zM321.0 829.7h1.8v1.8h-1.8zM317.4 813.0h1.8v1.8h-1.8zM313.0 678.4h1.8v1.8h-1.8zM320.9 827.9h1.8v1.8h-1.8zM313.2 811.9h1.8v1.8h-1.8zM308.4 798.1h1.8v1.8h-1.8zM315.5 812.0h1.8v1.8h-1.8zM316.3 832.6h1.8v1.8h-1.8zM316.0 813.7h1.8v1.8h-1.8zM311.8 819.8h1.8v1.8h-1.8zM311.4 822.1h1.8v1.8h-1.8zM312.3 801.7h1.8v1.8h-1.8zM307.3 764.0h1.8v1.8h-1.8zM318.6 815.5h1.8v1.8h-1.8zM316.4 809.0h1.8v1.8h-1.8zM314.9 766.6h1.8v1.8h-1.8zM302.9 830.0h1.8v1.8h-1.8zM318.4 830.3h1.8v1.8h-1.8zM306.6 793.8h1.8v1.8h-1.8zM320.8 834.3h1.8v1.8h-1.8zM319.2 735.6h1.8v1.8h-1.8zM301.0 835.1h1.8v1.8h-1.8zM300.3 682.3h1.8v1.8h-1.8zM320.3 773.3h1.8v1.8h-1.8zM312.9 795.6h1.8v1.8h-1.8zM310.7 821.8h1.8v1.8h-1.8zM320.0 758.7h1.8v1.8h-1.8zM319.5 806.2h1.8v1.8h-1.8zM310.7 789.8h1.8v1.8h-1.8zM320.4 725.8h1.8v1.8h-1.8zM313.3 816.9h1.8v1.8h-1.8zM321.0 826.0h1.8v1.8h-1.8zM315.1 821.1h1.8v1.8h-1.8zM317.7 811.8h1.8v1.8h-1.8zM320.7 829.4h1.8v1.8h-1.8zM289.6 818.0h1.8v1.8h-1.8zM315.3 721.9h1.8v1.8h-1.8zM313.8 822.8h1.8v1.8h-1.8zM317.7 835.4h1.8v1.8h-1.8zM308.8 745.4h1.8v1.8h-1.8zM308.8 743.9h1.8v1.8h-1.8zM311.9 818.4h1.8v1.8h-1.8zM309.6 812.1h1.8v1.8h-1.8zM318.4 807.3h1.8v1.8h-1.8zM321.1 818.9h1.8v1.8h-1.8zM307.8 801.5h1.8v1.8h-1.8zM304.7 800.5h1.8v1.8h-1.8zM307.5 825.0h1.8v1.8h-1.8zM311.1 816.5h1.8v1.8h-1.8zM319.8 817.5h1.8v1.8h-1.8zM312.1 755.2h1.8v1.8h-1.8zM317.5 831.5h1.8v1.8h-1.8zM320.7 824.4h1.8v1.8h-1.8zM320.8 834.5h1.8v1.8h-1.8zM312.0 738.8h1.8v1.8h-1.8zM313.8 830.9h1.8v1.8h-1.8zM317.6 831.5h1.8v1.8h-1.8zM311.5 741.8h1.8v1.8h-1.8zM305.4 830.4h1.8v1.8h-1.8zM308.0 826.7h1.8v1.8h-1.8zM318.7 834.0h1.8v1.8h-1.8zM304.5 833.3h1.8v1.8h-1.8zM312.4 812.1h1.8v1.8h-1.8zM310.8 823.0h1.8v1.8h-1.8zM320.4 803.2h1.8v1.8h-1.8zM317.5 834.8h1.8v1.8h-1.8zM318.5 805.8h1.8v1.8h-1.8zM315.9 826.3h1.8v1.8h-1.8zM307.6 829.1h1.8v1.8h-1.8zM312.3 826.3h1.8v1.8h-1.8zM288.7 830.2h1.8v1.8h-1.8zM279.5 831.0h1.8v1.8h-1.8zM312.0 832.4h1.8v1.8h-1.8zM315.2 817.5h1.8v1.8h-1.8zM311.4 820.8h1.8v1.8h-1.8zM289.7 831.5h1.8v1.8h-1.8zM318.1 788.8h1.8v1.8h-1.8zM318.9 828.6h1.8v1.8h-1.8zM316.4 808.9h1.8v1.8h-1.8zM294.2 833.3h1.8v1.8h-1.8zM309.0 800.7h1.8v1.8h-1.8zM306.3 814.2h1.8v1.8h-1.8zM319.9 781.4h1.8v1.8h-1.8zM311.8 828.8h1.8v1.8h-1.8zM320.4 825.0h1.8v1.8h-1.8zM302.4 811.1h1.8v1.8h-1.8zM320.6 816.0h1.8v1.8h-1.8zM301.1 720.3h1.8v1.8h-1.8zM320.6 812.1h1.8v1.8h-1.8zM321.1 825.2h1.8v1.8h-1.8zM311.3 798.0h1.8v1.8h-1.8zM320.6 804.0h1.8v1.8h-1.8zM309.2 781.8h1.8v1.8h-1.8zM321.0 813.7h1.8v1.8h-1.8zM304.7 830.3h1.8v1.8h-1.8zM315.1 826.6h1.8v1.8h-1.8zM312.2 827.2h1.8v1.8h-1.8zM321.1 825.8h1.8v1.8h-1.8zM320.6 819.2h1.8v1.8h-1.8zM319.9 782.1h1.8v1.8h-1.8zM317.6 830.0h1.8v1.8h-1.8zM316.3 799.8h1.8v1.8h-1.8zM284.5 793.0h1.8v1.8h-1.8zM310.9 831.2h1.8v1.8h-1.8zM307.8 826.7h1.8v1.8h-1.8zM315.4 811.0h1.8v1.8h-1.8zM318.4 821.5h1.8v1.8h-1.8zM299.4 782.4h1.8v1.8h-1.8zM302.1 757.7h1.8v1.8h-1.8zM315.6 826.8h1.8v1.8h-1.8zM313.6 774.8h1.8v1.8h-1.8zM296.6 818.7h1.8v1.8h-1.8zM318.6 811.0h1.8v1.8h-1.8zM319.8 829.8h1.8v1.8h-1.8zM299.7 828.2h1.8v1.8h-1.8zM319.0 779.6h1.8v1.8h-1.8zM320.1 824.3h1.8v1.8h-1.8zM319.0 829.3h1.8v1.8h-1.8zM319.5 784.9h1.8v1.8h-1.8zM306.9 821.9h1.8v1.8h-1.8zM316.8 827.6h1.8v1.8h-1.8zM315.7 809.0h1.8v1.8h-1.8zM318.2 832.2h1.8v1.8h-1.8zM275.1 792.7h1.8v1.8h-1.8zM315.6 796.1h1.8v1.8h-1.8zM291.0 823.6h1.8v1.8h-1.8zM313.4 830.4h1.8v1.8h-1.8zM310.0 817.4h1.8v1.8h-1.8zM320.1 828.9h1.8v1.8h-1.8zM320.5 806.7h1.8v1.8h-1.8zM317.2 835.5h1.8v1.8h-1.8zM300.0 771.7h1.8v1.8h-1.8zM316.3 835.8h1.8v1.8h-1.8zM307.9 830.1h1.8v1.8h-1.8zM320.0 818.3h1.8v1.8h-1.8zM320.6 821.3h1.8v1.8h-1.8zM318.0 835.8h1.8v1.8h-1.8zM309.2 832.6h1.8v1.8h-1.8zM318.5 816.9h1.8v1.8h-1.8zM312.3 823.0h1.8v1.8h-1.8zM320.0 832.4h1.8v1.8h-1.8zM302.2 800.2h1.8v1.8h-1.8zM309.4 804.9h1.8v1.8h-1.8zM304.7 833.2h1.8v1.8h-1.8zM319.6 783.6h1.8v1.8h-1.8zM312.8 815.4h1.8v1.8h-1.8zM306.3 821.5h1.8v1.8h-1.8zM318.4 823.7h1.8v1.8h-1.8zM317.6 809.0h1.8v1.8h-1.8zM304.5 812.0h1.8v1.8h-1.8zM319.8 824.9h1.8v1.8h-1.8zM318.6 811.6h1.8v1.8h-1.8zM309.5 795.0h1.8v1.8h-1.8zM314.7 785.4h1.8v1.8h-1.8zM311.5 822.4h1.8v1.8h-1.8zM317.3 762.7h1.8v1.8h-1.8zM314.8 825.8h1.8v1.8h-1.8zM318.3 831.7h1.8v1.8h-1.8zM319.0 820.8h1.8v1.8h-1.8zM312.8 826.3h1.8v1.8h-1.8zM317.9 824.1h1.8v1.8h-1.8zM319.7 825.3h1.8v1.8h-1.8zM315.6 796.6h1.8v1.8h-1.8zM317.3 835.5h1.8v1.8h-1.8zM318.8 830.6h1.8v1.8h-1.8zM320.3 831.1h1.8v1.8h-1.8zM310.7 797.3h1.8v1.8h-1.8zM294.4 799.1h1.8v1.8h-1.8zM293.0 816.6h1.8v1.8h-1.8zM320.2 835.5h1.8v1.8h-1.8zM312.7 827.2h1.8v1.8h-1.8zM298.7 730.0h1.8v1.8h-1.8zM310.5 820.7h1.8v1.8h-1.8zM312.9 818.6h1.8v1.8h-1.8zM318.1 726.9h1.8v1.8h-1.8zM318.4 830.8h1.8v1.8h-1.8zM314.2 792.1h1.8v1.8h-1.8zM316.8 822.1h1.8v1.8h-1.8zM302.5 780.0h1.8v1.8h-1.8zM318.6 822.5h1.8v1.8h-1.8zM313.6 822.6h1.8v1.8h-1.8zM313.4 793.8h1.8v1.8h-1.8zM309.9 790.5h1.8v1.8h-1.8zM313.2 818.3h1.8v1.8h-1.8zM313.8 826.9h1.8v1.8h-1.8zM303.7 796.2h1.8v1.8h-1.8zM312.5 813.4h1.8v1.8h-1.8zM316.6 756.3h1.8v1.8h-1.8zM306.5 815.1h1.8v1.8h-1.8zM299.4 756.0h1.8v1.8h-1.8zM317.6 826.8h1.8v1.8h-1.8zM316.0 818.4h1.8v1.8h-1.8zM316.6 814.3h1.8v1.8h-1.8zM281.7 824.6h1.8v1.8h-1.8zM311.0 835.5h1.8v1.8h-1.8zM308.1 764.0h1.8v1.8h-1.8zM314.7 811.9h1.8v1.8h-1.8zM316.9 830.6h1.8v1.8h-1.8zM310.0 787.7h1.8v1.8h-1.8zM314.1 827.9h1.8v1.8h-1.8zM313.4 831.8h1.8v1.8h-1.8zM309.5 809.8h1.8v1.8h-1.8zM309.0 820.4h1.8v1.8h-1.8zM313.8 773.7h1.8v1.8h-1.8zM303.0 790.3h1.8v1.8h-1.8zM312.4 834.3h1.8v1.8h-1.8zM320.0 810.4h1.8v1.8h-1.8zM309.1 835.3h1.8v1.8h-1.8zM296.5 763.4h1.8v1.8h-1.8zM317.3 814.2h1.8v1.8h-1.8zM304.1 803.4h1.8v1.8h-1.8zM317.9 808.8h1.8v1.8h-1.8zM315.9 819.6h1.8v1.8h-1.8zM319.5 803.9h1.8v1.8h-1.8zM321.1 813.0h1.8v1.8h-1.8zM319.0 832.5h1.8v1.8h-1.8zM309.6 762.8h1.8v1.8h-1.8zM297.2 786.2h1.8v1.8h-1.8zM313.4 833.1h1.8v1.8h-1.8zM308.2 805.6h1.8v1.8h-1.8zM316.1 806.4h1.8v1.8h-1.8zM316.5 818.3h1.8v1.8h-1.8zM312.8 742.1h1.8v1.8h-1.8zM318.6 829.7h1.8v1.8h-1.8zM302.5 812.7h1.8v1.8h-1.8zM321.0 806.4h1.8v1.8h-1.8zM314.7 835.0h1.8v1.8h-1.8zM313.2 834.3h1.8v1.8h-1.8zM314.0 835.6h1.8v1.8h-1.8zM317.6 804.3h1.8v1.8h-1.8zM315.6 818.7h1.8v1.8h-1.8zM306.2 792.7h1.8v1.8h-1.8zM314.2 827.6h1.8v1.8h-1.8zM305.5 803.7h1.8v1.8h-1.8zM290.3 803.4h1.8v1.8h-1.8zM291.5 799.7h1.8v1.8h-1.8zM313.4 738.8h1.8v1.8h-1.8zM319.5 832.4h1.8v1.8h-1.8zM309.3 829.2h1.8v1.8h-1.8zM317.3 827.6h1.8v1.8h-1.8zM313.9 816.1h1.8v1.8h-1.8zM314.0 729.0h1.8v1.8h-1.8zM319.9 714.5h1.8v1.8h-1.8zM302.5 767.4h1.8v1.8h-1.8zM320.9 822.7h1.8v1.8h-1.8zM316.1 825.3h1.8v1.8h-1.8zM316.3 795.1h1.8v1.8h-1.8zM321.0 811.5h1.8v1.8h-1.8zM318.8 832.7h1.8v1.8h-1.8zM304.2 830.4h1.8v1.8h-1.8zM310.3 832.0h1.8v1.8h-1.8zM321.0 803.7h1.8v1.8h-1.8zM316.0 821.3h1.8v1.8h-1.8zM312.4 779.0h1.8v1.8h-1.8zM318.8 822.3h1.8v1.8h-1.8zM317.8 796.1h1.8v1.8h-1.8zM320.0 813.6h1.8v1.8h-1.8zM319.2 829.4h1.8v1.8h-1.8zM307.7 829.0h1.8v1.8h-1.8zM315.2 829.2h1.8v1.8h-1.8zM315.7 822.4h1.8v1.8h-1.8zM318.9 782.4h1.8v1.8h-1.8zM314.6 751.6h1.8v1.8h-1.8zM319.7 835.1h1.8v1.8h-1.8zM316.6 816.7h1.8v1.8h-1.8zM307.8 796.1h1.8v1.8h-1.8zM319.5 830.6h1.8v1.8h-1.8zM314.5 811.0h1.8v1.8h-1.8zM321.0 804.9h1.8v1.8h-1.8zM309.7 754.1h1.8v1.8h-1.8zM317.4 809.5h1.8v1.8h-1.8zM310.4 822.7h1.8v1.8h-1.8zM319.9 832.0h1.8v1.8h-1.8zM320.4 825.2h1.8v1.8h-1.8zM291.4 834.9h1.8v1.8h-1.8zM305.4 771.3h1.8v1.8h-1.8zM317.6 833.5h1.8v1.8h-1.8zM313.8 786.3h1.8v1.8h-1.8zM319.2 828.4h1.8v1.8h-1.8zM315.3 773.5h1.8v1.8h-1.8zM308.0 805.6h1.8v1.8h-1.8zM312.9 814.7h1.8v1.8h-1.8zM314.1 801.5h1.8v1.8h-1.8zM296.6 815.9h1.8v1.8h-1.8zM316.9 816.7h1.8v1.8h-1.8zM319.3 812.6h1.8v1.8h-1.8zM320.6 800.0h1.8v1.8h-1.8zM312.3 814.2h1.8v1.8h-1.8zM317.2 833.5h1.8v1.8h-1.8zM306.1 817.9h1.8v1.8h-1.8zM320.0 823.9h1.8v1.8h-1.8zM297.6 767.3h1.8v1.8h-1.8zM317.0 835.6h1.8v1.8h-1.8zM306.5 812.1h1.8v1.8h-1.8zM319.9 818.6h1.8v1.8h-1.8zM318.1 791.9h1.8v1.8h-1.8zM319.4 829.7h1.8v1.8h-1.8zM314.3 787.1h1.8v1.8h-1.8zM309.6 821.8h1.8v1.8h-1.8zM318.3 814.3h1.8v1.8h-1.8zM314.9 833.1h1.8v1.8h-1.8zM319.5 803.4h1.8v1.8h-1.8zM304.4 825.5h1.8v1.8h-1.8zM317.5 799.4h1.8v1.8h-1.8zM315.0 811.5h1.8v1.8h-1.8zM318.8 826.6h1.8v1.8h-1.8zM315.6 817.1h1.8v1.8h-1.8zM311.4 814.0h1.8v1.8h-1.8zM316.7 835.7h1.8v1.8h-1.8zM306.6 786.9h1.8v1.8h-1.8zM316.8 817.3h1.8v1.8h-1.8zM317.8 755.1h1.8v1.8h-1.8zM313.0 810.2h1.8v1.8h-1.8zM299.5 835.3h1.8v1.8h-1.8zM309.1 807.6h1.8v1.8h-1.8zM302.1 783.8h1.8v1.8h-1.8zM316.9 829.5h1.8v1.8h-1.8zM313.6 834.7h1.8v1.8h-1.8zM316.3 819.3h1.8v1.8h-1.8zM278.0 802.9h1.8v1.8h-1.8zM294.0 827.7h1.8v1.8h-1.8zM316.9 835.0h1.8v1.8h-1.8zM312.4 825.0h1.8v1.8h-1.8zM313.9 803.2h1.8v1.8h-1.8zM317.4 819.6h1.8v1.8h-1.8zM319.8 815.1h1.8v1.8h-1.8zM309.7 816.8h1.8v1.8h-1.8zM321.0 812.9h1.8v1.8h-1.8zM298.2 697.8h1.8v1.8h-1.8zM319.9 835.0h1.8v1.8h-1.8zM311.5 829.7h1.8v1.8h-1.8zM320.8 821.8h1.8v1.8h-1.8zM307.8 820.4h1.8v1.8h-1.8zM300.4 818.0h1.8v1.8h-1.8zM318.5 812.4h1.8v1.8h-1.8zM306.5 826.7h1.8v1.8h-1.8zM317.7 835.1h1.8v1.8h-1.8zM318.4 819.7h1.8v1.8h-1.8zM303.3 818.3h1.8v1.8h-1.8zM319.9 828.5h1.8v1.8h-1.8zM301.2 800.8h1.8v1.8h-1.8zM317.0 824.4h1.8v1.8h-1.8zM306.2 777.7h1.8v1.8h-1.8zM314.1 818.8h1.8v1.8h-1.8zM319.7 819.4h1.8v1.8h-1.8zM318.7 830.1h1.8v1.8h-1.8zM319.3 801.4h1.8v1.8h-1.8zM311.7 720.0h1.8v1.8h-1.8zM302.5 785.7h1.8v1.8h-1.8zM319.5 779.9h1.8v1.8h-1.8zM320.7 800.5h1.8v1.8h-1.8zM318.2 830.2h1.8v1.8h-1.8zM320.9 826.1h1.8v1.8h-1.8zM312.4 820.9h1.8v1.8h-1.8zM319.5 827.4h1.8v1.8h-1.8zM307.8 715.8h1.8v1.8h-1.8zM318.0 826.9h1.8v1.8h-1.8zM310.8 725.1h1.8v1.8h-1.8zM314.3 826.8h1.8v1.8h-1.8zM306.4 828.1h1.8v1.8h-1.8zM288.7 815.1h1.8v1.8h-1.8zM305.5 797.6h1.8v1.8h-1.8zM311.7 808.3h1.8v1.8h-1.8zM318.1 788.0h1.8v1.8h-1.8zM304.9 804.5h1.8v1.8h-1.8zM317.0 820.9h1.8v1.8h-1.8zM312.3 832.5h1.8v1.8h-1.8zM317.0 816.2h1.8v1.8h-1.8zM287.5 765.1h1.8v1.8h-1.8zM315.0 797.9h1.8v1.8h-1.8zM308.0 832.1h1.8v1.8h-1.8zM320.7 793.1h1.8v1.8h-1.8zM320.2 830.6h1.8v1.8h-1.8zM297.8 834.0h1.8v1.8h-1.8zM316.7 823.5h1.8v1.8h-1.8zM320.0 820.4h1.8v1.8h-1.8zM321.0 808.8h1.8v1.8h-1.8zM319.3 767.3h1.8v1.8h-1.8zM320.6 832.2h1.8v1.8h-1.8zM320.7 829.1h1.8v1.8h-1.8zM316.1 812.3h1.8v1.8h-1.8zM316.1 819.9h1.8v1.8h-1.8zM320.8 833.5h1.8v1.8h-1.8zM318.0 819.4h1.8v1.8h-1.8zM320.6 821.4h1.8v1.8h-1.8zM317.5 832.7h1.8v1.8h-1.8zM307.8 826.2h1.8v1.8h-1.8zM309.3 785.0h1.8v1.8h-1.8zM318.8 768.2h1.8v1.8h-1.8zM313.0 831.1h1.8v1.8h-1.8zM311.8 816.2h1.8v1.8h-1.8zM319.2 760.0h1.8v1.8h-1.8zM320.4 818.5h1.8v1.8h-1.8zM278.5 833.1h1.8v1.8h-1.8zM311.2 762.6h1.8v1.8h-1.8zM284.0 801.3h1.8v1.8h-1.8zM318.6 811.9h1.8v1.8h-1.8zM298.4 814.7h1.8v1.8h-1.8zM299.5 751.3h1.8v1.8h-1.8zM319.0 823.2h1.8v1.8h-1.8zM314.1 833.7h1.8v1.8h-1.8zM305.3 814.3h1.8v1.8h-1.8zM309.5 822.6h1.8v1.8h-1.8zM310.9 827.8h1.8v1.8h-1.8zM318.4 828.5h1.8v1.8h-1.8zM314.0 786.5h1.8v1.8h-1.8zM317.9 827.5h1.8v1.8h-1.8zM318.8 814.6h1.8v1.8h-1.8zM320.8 728.4h1.8v1.8h-1.8zM319.7 798.2h1.8v1.8h-1.8zM320.5 821.2h1.8v1.8h-1.8zM320.0 830.6h1.8v1.8h-1.8zM311.0 834.3h1.8v1.8h-1.8zM316.5 821.3h1.8v1.8h-1.8zM313.3 823.2h1.8v1.8h-1.8zM319.8 825.1h1.8v1.8h-1.8zM280.9 786.0h1.8v1.8h-1.8zM320.5 833.8h1.8v1.8h-1.8zM299.7 763.5h1.8v1.8h-1.8zM314.6 835.5h1.8v1.8h-1.8zM317.9 819.9h1.8v1.8h-1.8zM312.5 825.7h1.8v1.8h-1.8zM317.9 835.2h1.8v1.8h-1.8zM317.6 835.2h1.8v1.8h-1.8zM314.8 828.6h1.8v1.8h-1.8zM318.0 823.9h1.8v1.8h-1.8zM318.8 831.5h1.8v1.8h-1.8zM318.2 748.4h1.8v1.8h-1.8zM316.8 804.8h1.8v1.8h-1.8zM319.6 832.4h1.8v1.8h-1.8zM318.3 835.2h1.8v1.8h-1.8zM306.0 718.5h1.8v1.8h-1.8zM318.0 831.6h1.8v1.8h-1.8zM316.5 817.5h1.8v1.8h-1.8zM316.2 778.5h1.8v1.8h-1.8zM314.5 804.8h1.8v1.8h-1.8zM315.0 830.2h1.8v1.8h-1.8zM319.5 814.4h1.8v1.8h-1.8zM316.4 834.9h1.8v1.8h-1.8zM310.9 813.1h1.8v1.8h-1.8zM304.0 819.1h1.8v1.8h-1.8zM320.0 826.4h1.8v1.8h-1.8zM321.0 821.4h1.8v1.8h-1.8zM311.9 814.9h1.8v1.8h-1.8zM317.3 770.4h1.8v1.8h-1.8zM320.3 832.0h1.8v1.8h-1.8zM276.0 825.2h1.8v1.8h-1.8zM318.5 824.6h1.8v1.8h-1.8zM313.6 801.7h1.8v1.8h-1.8zM303.4 827.7h1.8v1.8h-1.8zM298.0 821.8h1.8v1.8h-1.8zM320.4 829.4h1.8v1.8h-1.8zM318.9 821.6h1.8v1.8h-1.8zM318.2 825.7h1.8v1.8h-1.8zM319.4 810.0h1.8v1.8h-1.8zM300.2 829.5h1.8v1.8h-1.8zM314.0 803.6h1.8v1.8h-1.8zM319.2 792.2h1.8v1.8h-1.8zM318.0 835.3h1.8v1.8h-1.8zM312.9 722.7h1.8v1.8h-1.8zM309.7 794.0h1.8v1.8h-1.8zM321.1 833.8h1.8v1.8h-1.8zM299.9 828.6h1.8v1.8h-1.8zM319.3 834.8h1.8v1.8h-1.8zM318.1 813.6h1.8v1.8h-1.8zM319.6 818.9h1.8v1.8h-1.8zM311.2 814.1h1.8v1.8h-1.8zM311.9 833.6h1.8v1.8h-1.8zM315.6 831.2h1.8v1.8h-1.8zM317.7 831.9h1.8v1.8h-1.8zM304.7 765.3h1.8v1.8h-1.8zM272.5 654.4h1.8v1.8h-1.8zM314.3 810.4h1.8v1.8h-1.8zM317.1 776.1h1.8v1.8h-1.8zM316.1 800.4h1.8v1.8h-1.8zM318.1 812.4h1.8v1.8h-1.8zM316.8 829.3h1.8v1.8h-1.8zM319.5 832.5h1.8v1.8h-1.8zM315.2 811.6h1.8v1.8h-1.8zM305.9 787.1h1.8v1.8h-1.8zM307.0 824.4h1.8v1.8h-1.8zM319.2 815.7h1.8v1.8h-1.8zM307.5 820.1h1.8v1.8h-1.8zM321.0 811.3h1.8v1.8h-1.8zM313.6 821.1h1.8v1.8h-1.8zM320.8 835.7h1.8v1.8h-1.8zM320.4 834.1h1.8v1.8h-1.8zM317.6 831.2h1.8v1.8h-1.8zM307.7 834.4h1.8v1.8h-1.8zM315.8 794.7h1.8v1.8h-1.8zM318.7 814.5h1.8v1.8h-1.8zM312.6 831.5h1.8v1.8h-1.8zM319.0 834.0h1.8v1.8h-1.8zM319.0 821.6h1.8v1.8h-1.8zM318.8 775.8h1.8v1.8h-1.8zM316.1 832.5h1.8v1.8h-1.8zM304.2 824.5h1.8v1.8h-1.8zM317.7 808.7h1.8v1.8h-1.8zM317.2 803.1h1.8v1.8h-1.8zM321.0 823.3h1.8v1.8h-1.8zM306.6 824.6h1.8v1.8h-1.8zM320.3 835.2h1.8v1.8h-1.8zM314.7 834.2h1.8v1.8h-1.8zM305.5 798.8h1.8v1.8h-1.8zM319.1 823.3h1.8v1.8h-1.8zM306.4 819.8h1.8v1.8h-1.8zM314.4 789.1h1.8v1.8h-1.8zM321.1 830.2h1.8v1.8h-1.8zM319.3 832.6h1.8v1.8h-1.8zM309.2 828.3h1.8v1.8h-1.8zM320.2 828.4h1.8v1.8h-1.8zM320.2 798.0h1.8v1.8h-1.8zM318.8 759.5h1.8v1.8h-1.8zM281.2 810.4h1.8v1.8h-1.8zM317.3 786.8h1.8v1.8h-1.8zM317.4 828.6h1.8v1.8h-1.8zM310.2 817.7h1.8v1.8h-1.8zM313.9 834.5h1.8v1.8h-1.8zM313.2 767.1h1.8v1.8h-1.8zM319.3 773.1h1.8v1.8h-1.8zM309.9 810.4h1.8v1.8h-1.8zM302.7 789.5h1.8v1.8h-1.8zM315.5 818.4h1.8v1.8h-1.8zM313.9 807.6h1.8v1.8h-1.8zM311.1 834.0h1.8v1.8h-1.8zM315.1 765.1h1.8v1.8h-1.8zM321.1 818.4h1.8v1.8h-1.8zM319.6 832.9h1.8v1.8h-1.8zM300.5 751.5h1.8v1.8h-1.8zM309.7 833.6h1.8v1.8h-1.8zM303.5 816.6h1.8v1.8h-1.8zM303.7 824.3h1.8v1.8h-1.8zM312.8 725.6h1.8v1.8h-1.8zM301.9 798.9h1.8v1.8h-1.8zM318.2 832.5h1.8v1.8h-1.8zM314.8 832.1h1.8v1.8h-1.8zM315.0 835.2h1.8v1.8h-1.8zM311.6 831.2h1.8v1.8h-1.8zM309.7 817.0h1.8v1.8h-1.8zM320.2 824.2h1.8v1.8h-1.8zM311.7 810.2h1.8v1.8h-1.8zM295.7 804.2h1.8v1.8h-1.8zM305.6 784.5h1.8v1.8h-1.8zM316.1 816.5h1.8v1.8h-1.8zM303.5 787.1h1.8v1.8h-1.8zM317.4 835.8h1.8v1.8h-1.8zM313.7 815.1h1.8v1.8h-1.8zM318.1 792.7h1.8v1.8h-1.8zM297.5 827.1h1.8v1.8h-1.8zM315.7 817.7h1.8v1.8h-1.8zM314.2 834.4h1.8v1.8h-1.8zM315.9 811.4h1.8v1.8h-1.8zM314.2 822.9h1.8v1.8h-1.8zM304.5 828.3h1.8v1.8h-1.8zM309.6 822.3h1.8v1.8h-1.8zM308.3 818.8h1.8v1.8h-1.8zM301.3 799.2h1.8v1.8h-1.8zM309.1 819.6h1.8v1.8h-1.8zM305.9 737.5h1.8v1.8h-1.8zM315.7 812.9h1.8v1.8h-1.8zM319.3 793.4h1.8v1.8h-1.8zM319.1 821.0h1.8v1.8h-1.8zM300.5 772.1h1.8v1.8h-1.8zM318.2 835.2h1.8v1.8h-1.8zM313.6 819.7h1.8v1.8h-1.8zM319.2 808.0h1.8v1.8h-1.8zM303.4 832.9h1.8v1.8h-1.8zM297.3 803.6h1.8v1.8h-1.8zM306.7 762.7h1.8v1.8h-1.8zM320.4 826.8h1.8v1.8h-1.8zM315.6 827.4h1.8v1.8h-1.8zM316.1 834.9h1.8v1.8h-1.8zM313.7 756.1h1.8v1.8h-1.8zM318.8 833.4h1.8v1.8h-1.8zM316.8 816.4h1.8v1.8h-1.8zM309.8 829.0h1.8v1.8h-1.8zM290.4 814.1h1.8v1.8h-1.8zM310.3 755.4h1.8v1.8h-1.8zM316.7 803.0h1.8v1.8h-1.8zM313.7 829.1h1.8v1.8h-1.8zM299.0 721.9h1.8v1.8h-1.8zM321.0 831.2h1.8v1.8h-1.8zM319.1 823.5h1.8v1.8h-1.8zM321.1 808.2h1.8v1.8h-1.8zM320.3 811.3h1.8v1.8h-1.8zM320.3 792.9h1.8v1.8h-1.8zM318.6 825.7h1.8v1.8h-1.8zM317.4 738.1h1.8v1.8h-1.8zM315.0 788.4h1.8v1.8h-1.8zM314.7 754.3h1.8v1.8h-1.8zM311.7 834.5h1.8v1.8h-1.8zM296.6 808.1h1.8v1.8h-1.8zM315.6 833.6h1.8v1.8h-1.8zM307.0 808.5h1.8v1.8h-1.8zM321.0 834.7h1.8v1.8h-1.8zM294.5 741.6h1.8v1.8h-1.8zM312.8 764.2h1.8v1.8h-1.8zM302.9 757.4h1.8v1.8h-1.8zM319.4 834.2h1.8v1.8h-1.8zM289.3 802.2h1.8v1.8h-1.8zM317.8 827.7h1.8v1.8h-1.8zM320.0 823.2h1.8v1.8h-1.8zM315.7 835.3h1.8v1.8h-1.8zM315.0 829.4h1.8v1.8h-1.8zM319.2 832.2h1.8v1.8h-1.8zM308.0 835.4h1.8v1.8h-1.8zM318.0 797.1h1.8v1.8h-1.8zM316.8 824.8h1.8v1.8h-1.8zM320.5 821.2h1.8v1.8h-1.8zM318.9 793.2h1.8v1.8h-1.8zM296.6 822.4h1.8v1.8h-1.8zM315.1 811.1h1.8v1.8h-1.8zM314.5 798.2h1.8v1.8h-1.8zM309.6 807.0h1.8v1.8h-1.8zM317.7 826.4h1.8v1.8h-1.8zM321.1 835.4h1.8v1.8h-1.8zM319.9 831.6h1.8v1.8h-1.8zM319.7 802.1h1.8v1.8h-1.8zM314.8 834.5h1.8v1.8h-1.8zM318.7 789.3h1.8v1.8h-1.8zM315.9 808.6h1.8v1.8h-1.8zM320.9 802.9h1.8v1.8h-1.8zM318.9 824.0h1.8v1.8h-1.8zM320.3 827.2h1.8v1.8h-1.8zM312.4 764.5h1.8v1.8h-1.8zM312.7 810.9h1.8v1.8h-1.8zM307.2 781.3h1.8v1.8h-1.8zM320.6 833.9h1.8v1.8h-1.8zM309.0 828.8h1.8v1.8h-1.8zM308.5 799.2h1.8v1.8h-1.8zM290.6 778.4h1.8v1.8h-1.8zM319.3 811.2h1.8v1.8h-1.8zM315.5 827.4h1.8v1.8h-1.8zM319.4 809.5h1.8v1.8h-1.8zM310.5 742.0h1.8v1.8h-1.8zM314.9 740.5h1.8v1.8h-1.8zM317.5 819.3h1.8v1.8h-1.8zM306.8 789.4h1.8v1.8h-1.8zM320.0 818.5h1.8v1.8h-1.8zM319.6 785.7h1.8v1.8h-1.8zM318.0 826.7h1.8v1.8h-1.8zM309.9 808.0h1.8v1.8h-1.8zM318.6 811.4h1.8v1.8h-1.8zM318.3 789.4h1.8v1.8h-1.8zM319.0 814.3h1.8v1.8h-1.8zM320.2 814.6h1.8v1.8h-1.8zM312.7 825.5h1.8v1.8h-1.8zM321.0 835.3h1.8v1.8h-1.8zM319.8 821.1h1.8v1.8h-1.8zM317.9 775.9h1.8v1.8h-1.8zM312.0 827.4h1.8v1.8h-1.8zM316.3 803.0h1.8v1.8h-1.8zM318.5 833.1h1.8v1.8h-1.8zM317.3 804.9h1.8v1.8h-1.8zM294.8 798.2h1.8v1.8h-1.8zM310.6 789.7h1.8v1.8h-1.8zM299.4 813.1h1.8v1.8h-1.8zM320.0 832.4h1.8v1.8h-1.8zM316.5 801.0h1.8v1.8h-1.8zM316.8 810.9h1.8v1.8h-1.8zM314.3 806.8h1.8v1.8h-1.8zM313.2 804.7h1.8v1.8h-1.8zM306.5 746.2h1.8v1.8h-1.8zM311.5 820.7h1.8v1.8h-1.8zM298.6 751.6h1.8v1.8h-1.8zM319.9 799.3h1.8v1.8h-1.8zM304.9 831.0h1.8v1.8h-1.8zM299.5 825.7h1.8v1.8h-1.8zM319.0 793.9h1.8v1.8h-1.8zM319.3 788.3h1.8v1.8h-1.8zM313.8 829.4h1.8v1.8h-1.8zM320.8 819.9h1.8v1.8h-1.8zM305.5 780.3h1.8v1.8h-1.8zM319.4 825.2h1.8v1.8h-1.8zM314.2 817.5h1.8v1.8h-1.8zM318.3 796.6h1.8v1.8h-1.8zM305.6 821.0h1.8v1.8h-1.8zM302.8 772.9h1.8v1.8h-1.8zM313.2 797.2h1.8v1.8h-1.8zM318.3 825.1h1.8v1.8h-1.8zM315.5 813.8h1.8v1.8h-1.8zM312.1 821.9h1.8v1.8h-1.8zM288.5 814.0h1.8v1.8h-1.8zM313.0 826.8h1.8v1.8h-1.8zM306.0 833.8h1.8v1.8h-1.8zM311.8 673.8h1.8v1.8h-1.8zM303.3 751.5h1.8v1.8h-1.8zM321.0 783.4h1.8v1.8h-1.8zM316.7 835.2h1.8v1.8h-1.8zM309.3 833.1h1.8v1.8h-1.8zM320.2 834.2h1.8v1.8h-1.8zM320.1 784.9h1.8v1.8h-1.8zM299.6 831.3h1.8v1.8h-1.8zM303.3 829.3h1.8v1.8h-1.8zM317.8 814.8h1.8v1.8h-1.8zM318.8 801.1h1.8v1.8h-1.8zM308.9 726.9h1.8v1.8h-1.8zM314.0 796.3h1.8v1.8h-1.8zM316.1 818.9h1.8v1.8h-1.8zM300.7 826.9h1.8v1.8h-1.8zM315.3 793.6h1.8v1.8h-1.8zM298.0 819.3h1.8v1.8h-1.8zM287.5 743.3h1.8v1.8h-1.8zM313.1 819.0h1.8v1.8h-1.8zM318.7 782.7h1.8v1.8h-1.8zM309.5 806.8h1.8v1.8h-1.8zM320.9 825.4h1.8v1.8h-1.8zM320.7 761.9h1.8v1.8h-1.8zM318.9 826.5h1.8v1.8h-1.8zM303.1 795.5h1.8v1.8h-1.8zM296.0 827.7h1.8v1.8h-1.8zM317.5 835.2h1.8v1.8h-1.8zM318.6 807.6h1.8v1.8h-1.8zM307.8 834.3h1.8v1.8h-1.8zM315.0 812.3h1.8v1.8h-1.8zM311.8 796.7h1.8v1.8h-1.8zM313.0 787.8h1.8v1.8h-1.8zM314.0 773.8h1.8v1.8h-1.8zM316.0 830.4h1.8v1.8h-1.8zM320.3 775.6h1.8v1.8h-1.8zM320.3 794.6h1.8v1.8h-1.8zM315.8 808.9h1.8v1.8h-1.8zM316.4 792.7h1.8v1.8h-1.8zM312.1 821.0h1.8v1.8h-1.8zM311.6 831.1h1.8v1.8h-1.8zM315.9 831.9h1.8v1.8h-1.8zM313.0 820.5h1.8v1.8h-1.8zM319.0 822.6h1.8v1.8h-1.8zM319.2 830.8h1.8v1.8h-1.8zM319.7 789.3h1.8v1.8h-1.8zM317.7 831.4h1.8v1.8h-1.8zM315.5 818.8h1.8v1.8h-1.8zM314.4 835.3h1.8v1.8h-1.8zM317.5 822.9h1.8v1.8h-1.8zM306.7 825.4h1.8v1.8h-1.8zM304.6 773.0h1.8v1.8h-1.8zM310.3 816.5h1.8v1.8h-1.8zM313.5 816.2h1.8v1.8h-1.8zM311.6 826.1h1.8v1.8h-1.8zM318.5 831.7h1.8v1.8h-1.8zM311.9 797.9h1.8v1.8h-1.8zM318.4 824.0h1.8v1.8h-1.8zM287.2 826.0h1.8v1.8h-1.8zM308.6 790.5h1.8v1.8h-1.8zM318.8 835.4h1.8v1.8h-1.8zM320.2 785.2h1.8v1.8h-1.8zM319.8 829.0h1.8v1.8h-1.8zM238.2 781.9h1.8v1.8h-1.8zM264.7 804.9h1.8v1.8h-1.8zM277.6 802.9h1.8v1.8h-1.8zM281.1 797.7h1.8v1.8h-1.8zM316.9 819.8h1.8v1.8h-1.8zM181.6 717.3h1.8v1.8h-1.8zM297.1 829.8h1.8v1.8h-1.8zM292.8 822.3h1.8v1.8h-1.8zM305.3 791.7h1.8v1.8h-1.8zM317.6 821.0h1.8v1.8h-1.8zM288.2 810.7h1.8v1.8h-1.8zM259.2 825.1h1.8v1.8h-1.8zM281.9 805.2h1.8v1.8h-1.8zM316.9 776.1h1.8v1.8h-1.8zM228.4 805.9h1.8v1.8h-1.8zM255.4 780.9h1.8v1.8h-1.8zM317.3 832.6h1.8v1.8h-1.8zM304.9 804.8h1.8v1.8h-1.8zM205.4 684.6h1.8v1.8h-1.8zM304.1 750.1h1.8v1.8h-1.8zM303.9 817.3h1.8v1.8h-1.8zM293.6 741.4h1.8v1.8h-1.8zM284.9 829.9h1.8v1.8h-1.8zM298.8 771.6h1.8v1.8h-1.8zM264.9 801.4h1.8v1.8h-1.8zM302.3 821.5h1.8v1.8h-1.8zM308.0 738.2h1.8v1.8h-1.8zM319.5 834.2h1.8v1.8h-1.8zM288.8 835.3h1.8v1.8h-1.8zM196.0 801.0h1.8v1.8h-1.8zM279.0 771.6h1.8v1.8h-1.8zM288.0 835.3h1.8v1.8h-1.8zM320.4 825.2h1.8v1.8h-1.8zM307.5 827.8h1.8v1.8h-1.8zM302.7 820.1h1.8v1.8h-1.8zM272.2 810.4h1.8v1.8h-1.8zM301.2 816.2h1.8v1.8h-1.8zM319.0 835.8h1.8v1.8h-1.8zM303.0 823.7h1.8v1.8h-1.8zM294.3 825.4h1.8v1.8h-1.8zM192.8 746.1h1.8v1.8h-1.8zM315.9 817.9h1.8v1.8h-1.8zM309.1 826.9h1.8v1.8h-1.8zM308.3 832.2h1.8v1.8h-1.8zM226.1 819.1h1.8v1.8h-1.8zM303.4 798.3h1.8v1.8h-1.8zM300.9 796.4h1.8v1.8h-1.8zM281.5 817.6h1.8v1.8h-1.8zM286.5 774.2h1.8v1.8h-1.8zM304.1 819.3h1.8v1.8h-1.8zM277.5 812.8h1.8v1.8h-1.8zM319.5 835.7h1.8v1.8h-1.8zM258.1 669.6h1.8v1.8h-1.8zM272.5 833.3h1.8v1.8h-1.8zM161.9 703.3h1.8v1.8h-1.8zM297.6 833.6h1.8v1.8h-1.8zM244.9 772.2h1.8v1.8h-1.8zM265.5 694.0h1.8v1.8h-1.8zM297.4 761.1h1.8v1.8h-1.8zM319.9 831.0h1.8v1.8h-1.8zM264.3 805.1h1.8v1.8h-1.8zM295.9 833.0h1.8v1.8h-1.8zM230.5 815.7h1.8v1.8h-1.8zM294.5 734.6h1.8v1.8h-1.8zM318.0 814.9h1.8v1.8h-1.8zM293.7 834.4h1.8v1.8h-1.8zM293.5 816.5h1.8v1.8h-1.8zM282.6 826.1h1.8v1.8h-1.8zM274.6 832.4h1.8v1.8h-1.8zM296.3 816.3h1.8v1.8h-1.8zM316.4 775.4h1.8v1.8h-1.8zM295.1 801.8h1.8v1.8h-1.8zM294.5 809.6h1.8v1.8h-1.8zM256.6 820.9h1.8v1.8h-1.8zM292.2 813.3h1.8v1.8h-1.8zM259.9 779.7h1.8v1.8h-1.8zM288.9 831.6h1.8v1.8h-1.8zM304.4 809.6h1.8v1.8h-1.8zM215.7 806.7h1.8v1.8h-1.8zM297.6 781.4h1.8v1.8h-1.8zM298.0 797.3h1.8v1.8h-1.8zM291.0 764.3h1.8v1.8h-1.8zM261.7 813.4h1.8v1.8h-1.8zM301.9 835.1h1.8v1.8h-1.8zM289.3 833.7h1.8v1.8h-1.8zM308.5 827.5h1.8v1.8h-1.8zM282.7 825.2h1.8v1.8h-1.8zM309.3 761.9h1.8v1.8h-1.8zM307.0 832.8h1.8v1.8h-1.8zM300.5 792.3h1.8v1.8h-1.8zM305.3 778.9h1.8v1.8h-1.8zM261.5 819.4h1.8v1.8h-1.8zM272.5 816.5h1.8v1.8h-1.8zM313.4 824.7h1.8v1.8h-1.8zM289.4 824.1h1.8v1.8h-1.8zM238.0 825.9h1.8v1.8h-1.8zM308.1 830.3h1.8v1.8h-1.8zM303.1 783.5h1.8v1.8h-1.8zM279.6 813.7h1.8v1.8h-1.8zM317.2 809.0h1.8v1.8h-1.8zM297.9 733.0h1.8v1.8h-1.8zM246.6 830.0h1.8v1.8h-1.8zM217.5 823.0h1.8v1.8h-1.8zM312.7 832.0h1.8v1.8h-1.8zM250.6 831.6h1.8v1.8h-1.8zM315.4 833.9h1.8v1.8h-1.8zM201.4 827.6h1.8v1.8h-1.8zM277.7 763.9h1.8v1.8h-1.8zM297.9 828.3h1.8v1.8h-1.8zM302.4 835.6h1.8v1.8h-1.8zM276.1 797.5h1.8v1.8h-1.8zM229.5 786.6h1.8v1.8h-1.8zM273.5 776.6h1.8v1.8h-1.8zM249.5 814.8h1.8v1.8h-1.8zM256.4 791.8h1.8v1.8h-1.8zM260.3 833.3h1.8v1.8h-1.8zM189.1 783.9h1.8v1.8h-1.8zM249.6 695.4h1.8v1.8h-1.8zM289.9 829.1h1.8v1.8h-1.8zM281.2 821.0h1.8v1.8h-1.8zM316.8 834.9h1.8v1.8h-1.8zM318.1 814.2h1.8v1.8h-1.8zM301.3 832.1h1.8v1.8h-1.8zM292.7 831.7h1.8v1.8h-1.8zM301.4 833.1h1.8v1.8h-1.8zM297.9 786.3h1.8v1.8h-1.8zM252.4 779.6h1.8v1.8h-1.8zM283.9 820.6h1.8v1.8h-1.8zM318.8 831.4h1.8v1.8h-1.8zM265.9 810.3h1.8v1.8h-1.8zM267.3 823.1h1.8v1.8h-1.8zM292.1 822.4h1.8v1.8h-1.8zM285.7 821.9h1.8v1.8h-1.8zM305.2 834.5h1.8v1.8h-1.8zM278.2 812.0h1.8v1.8h-1.8zM304.6 765.4h1.8v1.8h-1.8zM295.6 819.2h1.8v1.8h-1.8zM259.9 806.1h1.8v1.8h-1.8zM290.1 834.8h1.8v1.8h-1.8zM291.7 830.6h1.8v1.8h-1.8zM229.7 802.6h1.8v1.8h-1.8zM299.0 791.2h1.8v1.8h-1.8zM252.5 765.2h1.8v1.8h-1.8zM284.4 768.3h1.8v1.8h-1.8zM304.7 769.6h1.8v1.8h-1.8zM303.0 761.2h1.8v1.8h-1.8zM273.6 820.5h1.8v1.8h-1.8zM214.9 736.1h1.8v1.8h-1.8zM310.7 816.2h1.8v1.8h-1.8zM314.2 805.8h1.8v1.8h-1.8zM233.0 803.2h1.8v1.8h-1.8zM262.2 701.7h1.8v1.8h-1.8zM285.7 834.4h1.8v1.8h-1.8zM317.1 812.5h1.8v1.8h-1.8zM250.3 767.4h1.8v1.8h-1.8zM317.3 810.7h1.8v1.8h-1.8zM260.2 831.4h1.8v1.8h-1.8zM298.8 823.4h1.8v1.8h-1.8zM291.4 787.9h1.8v1.8h-1.8zM302.2 803.6h1.8v1.8h-1.8zM310.3 791.7h1.8v1.8h-1.8zM302.6 829.5h1.8v1.8h-1.8zM273.8 751.2h1.8v1.8h-1.8zM320.1 816.2h1.8v1.8h-1.8zM316.7 826.6h1.8v1.8h-1.8zM268.2 702.7h1.8v1.8h-1.8zM284.3 813.5h1.8v1.8h-1.8zM204.8 738.1h1.8v1.8h-1.8zM315.1 721.9h1.8v1.8h-1.8zM312.1 817.9h1.8v1.8h-1.8zM294.9 835.0h1.8v1.8h-1.8zM290.2 798.8h1.8v1.8h-1.8zM285.5 783.8h1.8v1.8h-1.8zM286.5 818.0h1.8v1.8h-1.8zM268.7 829.9h1.8v1.8h-1.8zM319.3 783.5h1.8v1.8h-1.8zM286.9 793.6h1.8v1.8h-1.8zM305.5 823.2h1.8v1.8h-1.8zM307.1 827.5h1.8v1.8h-1.8zM217.6 803.7h1.8v1.8h-1.8zM301.2 802.0h1.8v1.8h-1.8zM244.7 722.6h1.8v1.8h-1.8zM301.4 824.4h1.8v1.8h-1.8zM293.1 812.8h1.8v1.8h-1.8zM295.3 829.3h1.8v1.8h-1.8zM289.2 802.8h1.8v1.8h-1.8zM261.2 825.3h1.8v1.8h-1.8zM289.3 790.6h1.8v1.8h-1.8zM291.8 822.6h1.8v1.8h-1.8zM310.7 818.2h1.8v1.8h-1.8zM282.2 800.6h1.8v1.8h-1.8zM315.2 824.0h1.8v1.8h-1.8zM309.4 822.6h1.8v1.8h-1.8zM290.6 806.3h1.8v1.8h-1.8zM308.9 789.3h1.8v1.8h-1.8zM317.1 825.2h1.8v1.8h-1.8zM296.9 803.8h1.8v1.8h-1.8zM313.0 827.3h1.8v1.8h-1.8zM275.9 708.8h1.8v1.8h-1.8zM288.0 764.6h1.8v1.8h-1.8zM316.1 833.1h1.8v1.8h-1.8zM282.2 728.4h1.8v1.8h-1.8zM270.7 818.0h1.8v1.8h-1.8zM288.4 834.1h1.8v1.8h-1.8zM299.0 784.8h1.8v1.8h-1.8zM303.9 832.6h1.8v1.8h-1.8zM204.2 695.0h1.8v1.8h-1.8zM289.2 827.8h1.8v1.8h-1.8zM292.2 830.7h1.8v1.8h-1.8zM300.8 744.2h1.8v1.8h-1.8zM314.7 829.0h1.8v1.8h-1.8zM305.3 831.7h1.8v1.8h-1.8zM275.0 756.5h1.8v1.8h-1.8zM283.7 835.9h1.8v1.8h-1.8zM284.2 788.9h1.8v1.8h-1.8zM290.1 828.4h1.8v1.8h-1.8zM311.3 827.2h1.8v1.8h-1.8zM292.1 790.0h1.8v1.8h-1.8zM258.8 729.2h1.8v1.8h-1.8zM294.5 806.5h1.8v1.8h-1.8zM320.8 763.4h1.8v1.8h-1.8zM309.8 835.2h1.8v1.8h-1.8zM311.8 824.3h1.8v1.8h-1.8zM182.4 646.6h1.8v1.8h-1.8zM304.0 827.6h1.8v1.8h-1.8zM311.3 834.9h1.8v1.8h-1.8zM318.5 831.1h1.8v1.8h-1.8zM300.3 820.5h1.8v1.8h-1.8zM243.3 834.4h1.8v1.8h-1.8zM311.0 833.4h1.8v1.8h-1.8zM280.7 745.3h1.8v1.8h-1.8zM287.9 745.1h1.8v1.8h-1.8zM307.1 830.7h1.8v1.8h-1.8zM269.8 810.1h1.8v1.8h-1.8zM303.8 781.5h1.8v1.8h-1.8zM309.9 832.6h1.8v1.8h-1.8zM308.6 803.5h1.8v1.8h-1.8zM287.1 829.0h1.8v1.8h-1.8zM203.9 801.6h1.8v1.8h-1.8zM259.5 778.1h1.8v1.8h-1.8zM309.2 760.7h1.8v1.8h-1.8zM293.0 835.0h1.8v1.8h-1.8zM311.1 820.3h1.8v1.8h-1.8zM312.2 824.8h1.8v1.8h-1.8zM319.6 833.4h1.8v1.8h-1.8zM283.5 821.4h1.8v1.8h-1.8zM307.0 818.1h1.8v1.8h-1.8zM299.5 813.8h1.8v1.8h-1.8zM283.4 760.9h1.8v1.8h-1.8zM317.2 818.7h1.8v1.8h-1.8zM315.2 814.6h1.8v1.8h-1.8zM280.4 802.3h1.8v1.8h-1.8zM313.9 746.5h1.8v1.8h-1.8zM313.1 780.7h1.8v1.8h-1.8zM261.1 750.1h1.8v1.8h-1.8zM296.5 818.2h1.8v1.8h-1.8zM236.1 772.1h1.8v1.8h-1.8zM317.4 833.2h1.8v1.8h-1.8zM289.0 811.6h1.8v1.8h-1.8zM262.1 778.4h1.8v1.8h-1.8zM284.0 781.5h1.8v1.8h-1.8zM303.9 835.3h1.8v1.8h-1.8zM314.1 831.3h1.8v1.8h-1.8zM273.1 719.2h1.8v1.8h-1.8zM317.5 833.7h1.8v1.8h-1.8zM318.8 826.9h1.8v1.8h-1.8zM312.4 804.1h1.8v1.8h-1.8zM294.9 789.2h1.8v1.8h-1.8zM243.7 791.9h1.8v1.8h-1.8zM302.2 835.4h1.8v1.8h-1.8zM262.9 806.7h1.8v1.8h-1.8zM313.1 818.4h1.8v1.8h-1.8zM305.7 733.5h1.8v1.8h-1.8zM304.3 769.1h1.8v1.8h-1.8zM309.6 817.3h1.8v1.8h-1.8zM253.1 658.4h1.8v1.8h-1.8zM317.8 800.7h1.8v1.8h-1.8zM254.4 760.9h1.8v1.8h-1.8zM287.8 826.2h1.8v1.8h-1.8zM273.9 824.0h1.8v1.8h-1.8zM310.9 832.5h1.8v1.8h-1.8zM275.2 800.2h1.8v1.8h-1.8zM319.3 748.5h1.8v1.8h-1.8zM299.1 821.9h1.8v1.8h-1.8zM286.7 783.5h1.8v1.8h-1.8zM310.3 815.0h1.8v1.8h-1.8zM317.5 824.8h1.8v1.8h-1.8zM312.4 835.7h1.8v1.8h-1.8zM303.8 770.5h1.8v1.8h-1.8zM306.0 821.0h1.8v1.8h-1.8zM320.4 830.5h1.8v1.8h-1.8zM276.2 830.1h1.8v1.8h-1.8zM316.9 824.1h1.8v1.8h-1.8zM288.9 816.2h1.8v1.8h-1.8zM310.7 726.4h1.8v1.8h-1.8zM319.1 809.7h1.8v1.8h-1.8zM269.1 794.5h1.8v1.8h-1.8zM301.7 830.6h1.8v1.8h-1.8zM285.4 754.4h1.8v1.8h-1.8zM284.2 815.5h1.8v1.8h-1.8zM288.3 829.9h1.8v1.8h-1.8zM311.2 825.1h1.8v1.8h-1.8zM283.5 825.1h1.8v1.8h-1.8zM266.3 732.3h1.8v1.8h-1.8zM310.2 788.5h1.8v1.8h-1.8zM314.9 835.7h1.8v1.8h-1.8zM308.9 830.9h1.8v1.8h-1.8zM259.7 805.5h1.8v1.8h-1.8zM299.0 822.9h1.8v1.8h-1.8zM240.9 831.8h1.8v1.8h-1.8zM305.7 830.6h1.8v1.8h-1.8zM296.2 826.4h1.8v1.8h-1.8zM238.2 828.9h1.8v1.8h-1.8zM226.8 785.9h1.8v1.8h-1.8zM273.8 827.4h1.8v1.8h-1.8zM315.3 830.3h1.8v1.8h-1.8zM296.0 827.6h1.8v1.8h-1.8zM297.9 790.5h1.8v1.8h-1.8zM314.5 830.0h1.8v1.8h-1.8zM250.9 737.4h1.8v1.8h-1.8zM285.0 774.1h1.8v1.8h-1.8zM312.6 824.9h1.8v1.8h-1.8zM315.6 818.2h1.8v1.8h-1.8zM290.8 808.6h1.8v1.8h-1.8zM319.2 830.2h1.8v1.8h-1.8zM264.5 795.7h1.8v1.8h-1.8zM306.4 835.7h1.8v1.8h-1.8zM316.6 829.3h1.8v1.8h-1.8zM280.0 790.6h1.8v1.8h-1.8zM312.5 829.7h1.8v1.8h-1.8zM299.9 762.9h1.8v1.8h-1.8zM292.2 807.3h1.8v1.8h-1.8zM313.6 834.7h1.8v1.8h-1.8zM285.0 818.8h1.8v1.8h-1.8zM247.4 790.0h1.8v1.8h-1.8zM260.0 781.2h1.8v1.8h-1.8zM298.2 823.6h1.8v1.8h-1.8zM271.3 834.4h1.8v1.8h-1.8zM314.9 833.4h1.8v1.8h-1.8zM300.7 789.1h1.8v1.8h-1.8zM257.5 825.1h1.8v1.8h-1.8zM314.5 832.0h1.8v1.8h-1.8zM291.5 799.1h1.8v1.8h-1.8zM269.8 776.2h1.8v1.8h-1.8zM293.3 822.5h1.8v1.8h-1.8zM221.4 705.1h1.8v1.8h-1.8zM305.0 820.6h1.8v1.8h-1.8zM307.6 798.3h1.8v1.8h-1.8zM317.6 830.9h1.8v1.8h-1.8zM290.2 833.1h1.8v1.8h-1.8zM293.1 820.1h1.8v1.8h-1.8zM311.7 813.3h1.8v1.8h-1.8zM285.3 801.7h1.8v1.8h-1.8zM232.0 834.1h1.8v1.8h-1.8zM307.3 833.5h1.8v1.8h-1.8zM245.9 814.7h1.8v1.8h-1.8zM273.3 793.2h1.8v1.8h-1.8zM300.5 809.3h1.8v1.8h-1.8zM320.6 832.1h1.8v1.8h-1.8zM299.7 761.5h1.8v1.8h-1.8zM311.5 783.0h1.8v1.8h-1.8zM287.6 750.6h1.8v1.8h-1.8zM307.7 823.2h1.8v1.8h-1.8zM301.5 825.4h1.8v1.8h-1.8zM310.7 810.2h1.8v1.8h-1.8zM308.2 835.2h1.8v1.8h-1.8zM284.9 824.4h1.8v1.8h-1.8zM319.6 819.8h1.8v1.8h-1.8zM254.8 810.7h1.8v1.8h-1.8zM278.5 818.7h1.8v1.8h-1.8zM288.6 816.4h1.8v1.8h-1.8z" fill="#2ae82a"/>
<polygon points="394.5,838.5 394.5,798 402,796 414,800 428,808 442,820 452,838.5" fill="#f41a1a"/>
<path d="M406.2 821.2h1.8v1.8h-1.8zM454.0 801.6h1.8v1.8h-1.8zM402.1 831.2h1.8v1.8h-1.8zM405.0 803.6h1.8v1.8h-1.8zM397.6 833.8h1.8v1.8h-1.8zM401.6 776.7h1.8v1.8h-1.8zM465.6 731.3h1.8v1.8h-1.8zM416.5 819.7h1.8v1.8h-1.8zM394.5 819.4h1.8v1.8h-1.8zM412.7 834.1h1.8v1.8h-1.8zM425.9 823.3h1.8v1.8h-1.8zM395.1 805.9h1.8v1.8h-1.8zM406.5 825.2h1.8v1.8h-1.8zM415.8 787.1h1.8v1.8h-1.8zM401.7 794.0h1.8v1.8h-1.8zM431.1 818.5h1.8v1.8h-1.8zM418.2 775.8h1.8v1.8h-1.8zM420.9 828.5h1.8v1.8h-1.8zM427.0 834.7h1.8v1.8h-1.8zM402.8 765.8h1.8v1.8h-1.8zM459.9 813.2h1.8v1.8h-1.8zM431.4 816.1h1.8v1.8h-1.8zM400.0 819.3h1.8v1.8h-1.8zM441.8 805.2h1.8v1.8h-1.8zM518.6 824.1h1.8v1.8h-1.8zM449.7 827.0h1.8v1.8h-1.8zM405.6 833.7h1.8v1.8h-1.8zM442.4 820.6h1.8v1.8h-1.8zM408.4 824.8h1.8v1.8h-1.8zM404.9 829.1h1.8v1.8h-1.8zM415.1 819.3h1.8v1.8h-1.8zM408.8 817.1h1.8v1.8h-1.8zM443.6 833.6h1.8v1.8h-1.8zM465.6 648.0h1.8v1.8h-1.8zM411.9 834.6h1.8v1.8h-1.8zM397.4 797.7h1.8v1.8h-1.8zM412.7 805.3h1.8v1.8h-1.8zM426.8 687.6h1.8v1.8h-1.8zM443.0 800.3h1.8v1.8h-1.8zM393.4 818.1h1.8v1.8h-1.8zM399.3 806.6h1.8v1.8h-1.8zM413.3 760.8h1.8v1.8h-1.8zM395.8 828.3h1.8v1.8h-1.8zM407.6 810.4h1.8v1.8h-1.8zM394.1 829.8h1.8v1.8h-1.8zM414.0 806.1h1.8v1.8h-1.8zM396.3 832.7h1.8v1.8h-1.8zM413.3 819.7h1.8v1.8h-1.8zM418.2 835.6h1.8v1.8h-1.8zM442.9 809.5h1.8v1.8h-1.8zM415.0 794.5h1.8v1.8h-1.8zM423.3 807.7h1.8v1.8h-1.8zM397.2 792.3h1.8v1.8h-1.8zM475.4 826.1h1.8v1.8h-1.8zM411.7 810.7h1.8v1.8h-1.8zM395.5 832.7h1.8v1.8h-1.8zM441.3 813.9h1.8v1.8h-1.8zM415.7 829.8h1.8v1.8h-1.8zM420.3 769.3h1.8v1.8h-1.8zM411.2 832.6h1.8v1.8h-1.8zM519.2 718.4h1.8v1.8h-1.8zM407.0 818.2h1.8v1.8h-1.8zM394.7 829.1h1.8v1.8h-1.8zM395.1 824.2h1.8v1.8h-1.8zM408.5 807.1h1.8v1.8h-1.8zM406.2 831.8h1.8v1.8h-1.8zM452.4 688.6h1.8v1.8h-1.8zM455.3 783.5h1.8v1.8h-1.8zM393.5 834.3h1.8v1.8h-1.8zM407.5 832.3h1.8v1.8h-1.8zM396.7 814.8h1.8v1.8h-1.8zM461.2 829.4h1.8v1.8h-1.8zM432.2 819.0h1.8v1.8h-1.8zM406.8 730.8h1.8v1.8h-1.8zM413.1 833.1h1.8v1.8h-1.8zM395.0 795.8h1.8v1.8h-1.8zM397.9 731.4h1.8v1.8h-1.8zM412.1 826.0h1.8v1.8h-1.8zM407.7 768.5h1.8v1.8h-1.8zM438.4 688.5h1.8v1.8h-1.8zM402.6 780.4h1.8v1.8h-1.8zM453.2 797.6h1.8v1.8h-1.8zM394.9 816.9h1.8v1.8h-1.8zM396.5 823.2h1.8v1.8h-1.8zM416.7 823.8h1.8v1.8h-1.8zM397.5 829.7h1.8v1.8h-1.8zM574.8 824.6h1.8v1.8h-1.8zM463.5 799.6h1.8v1.8h-1.8zM401.6 822.7h1.8v1.8h-1.8zM413.1 822.3h1.8v1.8h-1.8zM428.6 822.4h1.8v1.8h-1.8zM455.4 835.2h1.8v1.8h-1.8zM450.7 802.4h1.8v1.8h-1.8zM404.5 829.4h1.8v1.8h-1.8zM417.7 751.5h1.8v1.8h-1.8zM407.9 820.1h1.8v1.8h-1.8zM456.3 820.4h1.8v1.8h-1.8zM428.4 777.7h1.8v1.8h-1.8zM394.8 818.9h1.8v1.8h-1.8zM412.7 835.0h1.8v1.8h-1.8zM413.0 829.7h1.8v1.8h-1.8zM398.8 822.2h1.8v1.8h-1.8zM409.6 783.1h1.8v1.8h-1.8zM424.8 757.7h1.8v1.8h-1.8zM438.8 825.4h1.8v1.8h-1.8zM430.6 817.5h1.8v1.8h-1.8zM445.6 834.5h1.8v1.8h-1.8zM409.5 828.8h1.8v1.8h-1.8zM397.8 786.0h1.8v1.8h-1.8zM410.0 784.2h1.8v1.8h-1.8zM406.9 773.4h1.8v1.8h-1.8zM396.2 815.8h1.8v1.8h-1.8zM402.7 813.0h1.8v1.8h-1.8zM423.8 833.9h1.8v1.8h-1.8zM463.2 698.6h1.8v1.8h-1.8zM457.9 806.4h1.8v1.8h-1.8zM403.1 831.2h1.8v1.8h-1.8zM414.5 764.2h1.8v1.8h-1.8zM402.1 797.7h1.8v1.8h-1.8zM427.8 831.0h1.8v1.8h-1.8zM398.4 788.1h1.8v1.8h-1.8zM415.2 747.0h1.8v1.8h-1.8zM400.0 824.8h1.8v1.8h-1.8zM396.5 831.9h1.8v1.8h-1.8zM424.2 776.0h1.8v1.8h-1.8zM398.6 826.7h1.8v1.8h-1.8zM416.5 811.7h1.8v1.8h-1.8zM403.2 830.5h1.8v1.8h-1.8zM393.1 833.4h1.8v1.8h-1.8zM431.3 721.9h1.8v1.8h-1.8zM462.7 811.6h1.8v1.8h-1.8zM406.8 808.3h1.8v1.8h-1.8zM415.6 749.2h1.8v1.8h-1.8zM425.1 806.3h1.8v1.8h-1.8zM449.2 809.1h1.8v1.8h-1.8zM398.5 834.6h1.8v1.8h-1.8zM441.0 793.2h1.8v1.8h-1.8zM441.2 753.4h1.8v1.8h-1.8zM400.6 807.8h1.8v1.8h-1.8zM406.2 697.6h1.8v1.8h-1.8zM393.2 819.4h1.8v1.8h-1.8zM400.7 815.2h1.8v1.8h-1.8zM403.1 817.8h1.8v1.8h-1.8zM448.4 795.4h1.8v1.8h-1.8zM435.9 801.8h1.8v1.8h-1.8zM399.2 820.4h1.8v1.8h-1.8zM408.8 823.2h1.8v1.8h-1.8zM492.2 818.6h1.8v1.8h-1.8zM409.8 814.7h1.8v1.8h-1.8zM423.0 743.3h1.8v1.8h-1.8zM427.3 736.6h1.8v1.8h-1.8zM400.0 831.6h1.8v1.8h-1.8zM394.3 831.2h1.8v1.8h-1.8zM446.2 813.8h1.8v1.8h-1.8zM400.6 805.5h1.8v1.8h-1.8zM394.1 831.6h1.8v1.8h-1.8zM456.0 801.8h1.8v1.8h-1.8zM394.8 820.6h1.8v1.8h-1.8zM393.4 819.0h1.8v1.8h-1.8zM405.4 834.4h1.8v1.8h-1.8zM441.0 758.4h1.8v1.8h-1.8zM415.9 684.9h1.8v1.8h-1.8zM420.6 817.4h1.8v1.8h-1.8zM395.7 807.4h1.8v1.8h-1.8zM416.3 818.9h1.8v1.8h-1.8zM407.1 746.5h1.8v1.8h-1.8zM402.9 828.0h1.8v1.8h-1.8zM407.0 819.3h1.8v1.8h-1.8zM403.4 795.1h1.8v1.8h-1.8zM396.6 815.6h1.8v1.8h-1.8zM407.0 785.1h1.8v1.8h-1.8zM409.5 796.1h1.8v1.8h-1.8zM417.9 811.8h1.8v1.8h-1.8zM421.8 736.7h1.8v1.8h-1.8zM434.9 797.9h1.8v1.8h-1.8zM411.3 830.8h1.8v1.8h-1.8zM417.5 820.1h1.8v1.8h-1.8zM405.1 829.5h1.8v1.8h-1.8zM412.2 809.3h1.8v1.8h-1.8zM403.5 649.4h1.8v1.8h-1.8zM413.8 833.5h1.8v1.8h-1.8zM463.2 783.9h1.8v1.8h-1.8zM423.8 783.8h1.8v1.8h-1.8zM405.1 804.6h1.8v1.8h-1.8zM428.3 818.8h1.8v1.8h-1.8zM408.2 829.6h1.8v1.8h-1.8zM394.4 794.9h1.8v1.8h-1.8zM400.0 835.3h1.8v1.8h-1.8zM452.0 811.1h1.8v1.8h-1.8zM484.4 769.0h1.8v1.8h-1.8zM465.4 725.9h1.8v1.8h-1.8zM397.7 811.6h1.8v1.8h-1.8zM500.5 745.9h1.8v1.8h-1.8zM396.1 834.1h1.8v1.8h-1.8zM397.3 813.4h1.8v1.8h-1.8zM425.6 735.5h1.8v1.8h-1.8zM397.7 830.4h1.8v1.8h-1.8zM395.8 812.8h1.8v1.8h-1.8zM396.7 808.6h1.8v1.8h-1.8zM397.0 803.5h1.8v1.8h-1.8zM412.3 835.2h1.8v1.8h-1.8zM441.3 720.1h1.8v1.8h-1.8zM415.4 784.2h1.8v1.8h-1.8zM405.0 820.2h1.8v1.8h-1.8zM402.3 792.1h1.8v1.8h-1.8zM401.6 818.3h1.8v1.8h-1.8zM412.7 828.9h1.8v1.8h-1.8zM434.6 834.4h1.8v1.8h-1.8zM405.8 831.9h1.8v1.8h-1.8zM396.5 817.8h1.8v1.8h-1.8zM410.1 806.0h1.8v1.8h-1.8zM393.7 834.4h1.8v1.8h-1.8zM460.0 824.4h1.8v1.8h-1.8zM417.1 821.6h1.8v1.8h-1.8zM415.6 797.0h1.8v1.8h-1.8zM467.4 835.8h1.8v1.8h-1.8zM395.8 819.1h1.8v1.8h-1.8zM407.1 797.5h1.8v1.8h-1.8zM394.8 771.0h1.8v1.8h-1.8zM468.4 734.3h1.8v1.8h-1.8zM396.2 809.1h1.8v1.8h-1.8zM434.5 832.0h1.8v1.8h-1.8zM453.5 708.1h1.8v1.8h-1.8zM431.8 809.1h1.8v1.8h-1.8zM399.5 804.1h1.8v1.8h-1.8zM433.4 762.1h1.8v1.8h-1.8zM464.4 830.9h1.8v1.8h-1.8zM412.6 811.9h1.8v1.8h-1.8zM400.3 814.6h1.8v1.8h-1.8zM407.5 802.6h1.8v1.8h-1.8zM426.3 753.8h1.8v1.8h-1.8zM404.5 834.2h1.8v1.8h-1.8zM404.7 762.8h1.8v1.8h-1.8zM394.0 827.5h1.8v1.8h-1.8zM407.3 833.2h1.8v1.8h-1.8zM399.2 809.4h1.8v1.8h-1.8zM397.0 788.8h1.8v1.8h-1.8zM411.7 835.0h1.8v1.8h-1.8zM474.6 827.9h1.8v1.8h-1.8zM399.8 816.2h1.8v1.8h-1.8zM437.0 767.2h1.8v1.8h-1.8zM398.5 804.5h1.8v1.8h-1.8zM409.2 795.9h1.8v1.8h-1.8zM396.1 827.3h1.8v1.8h-1.8zM413.1 791.6h1.8v1.8h-1.8zM393.5 834.1h1.8v1.8h-1.8zM434.8 818.2h1.8v1.8h-1.8zM405.6 829.1h1.8v1.8h-1.8zM550.7 828.6h1.8v1.8h-1.8zM399.6 804.4h1.8v1.8h-1.8zM449.1 795.6h1.8v1.8h-1.8zM393.5 822.7h1.8v1.8h-1.8zM404.4 796.5h1.8v1.8h-1.8zM398.8 812.0h1.8v1.8h-1.8zM397.3 774.7h1.8v1.8h-1.8zM397.8 821.1h1.8v1.8h-1.8zM422.1 817.6h1.8v1.8h-1.8zM418.5 834.3h1.8v1.8h-1.8zM436.0 830.3h1.8v1.8h-1.8zM420.9 810.8h1.8v1.8h-1.8zM420.4 805.5h1.8v1.8h-1.8zM393.4 818.1h1.8v1.8h-1.8zM414.5 813.5h1.8v1.8h-1.8zM403.5 814.0h1.8v1.8h-1.8zM425.8 822.6h1.8v1.8h-1.8zM414.2 820.1h1.8v1.8h-1.8zM447.8 763.8h1.8v1.8h-1.8zM410.7 755.1h1.8v1.8h-1.8zM393.2 833.1h1.8v1.8h-1.8zM434.5 805.5h1.8v1.8h-1.8zM419.6 776.1h1.8v1.8h-1.8zM416.2 834.5h1.8v1.8h-1.8zM410.7 814.3h1.8v1.8h-1.8zM429.4 826.1h1.8v1.8h-1.8zM404.4 830.8h1.8v1.8h-1.8zM398.5 738.3h1.8v1.8h-1.8zM396.1 795.9h1.8v1.8h-1.8zM429.8 833.1h1.8v1.8h-1.8zM395.3 806.9h1.8v1.8h-1.8zM402.6 809.4h1.8v1.8h-1.8zM418.4 809.8h1.8v1.8h-1.8zM445.9 814.5h1.8v1.8h-1.8zM397.7 827.9h1.8v1.8h-1.8zM393.3 829.2h1.8v1.8h-1.8zM414.8 813.5h1.8v1.8h-1.8zM422.0 786.8h1.8v1.8h-1.8zM426.0 829.2h1.8v1.8h-1.8zM410.8 833.3h1.8v1.8h-1.8zM425.5 757.0h1.8v1.8h-1.8zM412.0 739.2h1.8v1.8h-1.8zM398.8 835.7h1.8v1.8h-1.8zM399.6 788.8h1.8v1.8h-1.8zM450.8 768.9h1.8v1.8h-1.8zM401.9 834.9h1.8v1.8h-1.8zM420.6 813.9h1.8v1.8h-1.8zM402.0 825.8h1.8v1.8h-1.8zM444.4 799.7h1.8v1.8h-1.8zM409.9 831.6h1.8v1.8h-1.8zM452.7 822.2h1.8v1.8h-1.8zM426.1 794.8h1.8v1.8h-1.8zM397.7 807.6h1.8v1.8h-1.8zM395.0 796.0h1.8v1.8h-1.8zM414.3 831.8h1.8v1.8h-1.8zM443.2 827.3h1.8v1.8h-1.8zM400.8 823.7h1.8v1.8h-1.8zM401.7 817.5h1.8v1.8h-1.8zM393.1 828.3h1.8v1.8h-1.8zM418.1 832.6h1.8v1.8h-1.8zM408.7 765.0h1.8v1.8h-1.8zM429.6 813.2h1.8v1.8h-1.8zM430.5 833.2h1.8v1.8h-1.8zM422.5 800.2h1.8v1.8h-1.8zM423.0 828.4h1.8v1.8h-1.8zM428.9 795.9h1.8v1.8h-1.8zM418.5 819.3h1.8v1.8h-1.8zM414.0 801.3h1.8v1.8h-1.8zM399.9 792.6h1.8v1.8h-1.8zM400.1 826.4h1.8v1.8h-1.8zM401.4 806.9h1.8v1.8h-1.8zM445.3 779.1h1.8v1.8h-1.8zM408.9 763.1h1.8v1.8h-1.8zM456.9 800.5h1.8v1.8h-1.8zM405.0 820.5h1.8v1.8h-1.8zM399.5 791.1h1.8v1.8h-1.8zM401.9 766.8h1.8v1.8h-1.8zM407.4 770.2h1.8v1.8h-1.8zM413.6 796.1h1.8v1.8h-1.8zM412.6 814.1h1.8v1.8h-1.8zM395.0 823.8h1.8v1.8h-1.8zM436.2 690.6h1.8v1.8h-1.8zM396.3 797.9h1.8v1.8h-1.8zM404.9 822.5h1.8v1.8h-1.8zM437.3 773.4h1.8v1.8h-1.8zM394.5 830.3h1.8v1.8h-1.8zM403.3 698.5h1.8v1.8h-1.8zM415.6 757.0h1.8v1.8h-1.8zM404.5 811.7h1.8v1.8h-1.8zM428.7 781.5h1.8v1.8h-1.8zM399.1 834.3h1.8v1.8h-1.8zM442.3 770.4h1.8v1.8h-1.8zM448.1 783.2h1.8v1.8h-1.8zM405.0 826.8h1.8v1.8h-1.8zM408.6 833.4h1.8v1.8h-1.8zM443.2 821.2h1.8v1.8h-1.8zM394.9 797.0h1.8v1.8h-1.8zM399.0 788.7h1.8v1.8h-1.8zM425.6 745.0h1.8v1.8h-1.8zM429.3 808.3h1.8v1.8h-1.8zM393.3 822.1h1.8v1.8h-1.8zM417.9 787.0h1.8v1.8h-1.8zM394.3 831.1h1.8v1.8h-1.8zM397.7 825.2h1.8v1.8h-1.8zM402.2 754.8h1.8v1.8h-1.8zM399.6 814.1h1.8v1.8h-1.8zM470.8 817.6h1.8v1.8h-1.8zM402.8 825.8h1.8v1.8h-1.8zM418.9 833.3h1.8v1.8h-1.8zM425.6 789.1h1.8v1.8h-1.8zM412.0 805.6h1.8v1.8h-1.8zM396.1 808.2h1.8v1.8h-1.8zM439.3 782.3h1.8v1.8h-1.8zM445.5 822.0h1.8v1.8h-1.8zM500.0 625.5h1.8v1.8h-1.8zM483.2 835.2h1.8v1.8h-1.8zM395.7 835.3h1.8v1.8h-1.8zM421.4 833.7h1.8v1.8h-1.8zM433.9 780.1h1.8v1.8h-1.8zM393.4 819.3h1.8v1.8h-1.8zM443.7 678.7h1.8v1.8h-1.8zM395.3 827.5h1.8v1.8h-1.8zM408.4 791.8h1.8v1.8h-1.8zM416.7 821.2h1.8v1.8h-1.8zM417.2 792.0h1.8v1.8h-1.8zM403.6 810.4h1.8v1.8h-1.8zM438.3 817.1h1.8v1.8h-1.8zM402.0 785.4h1.8v1.8h-1.8zM401.5 832.7h1.8v1.8h-1.8zM410.2 780.7h1.8v1.8h-1.8zM503.6 763.2h1.8v1.8h-1.8zM430.2 829.6h1.8v1.8h-1.8zM452.8 739.5h1.8v1.8h-1.8zM524.4 799.0h1.8v1.8h-1.8zM428.2 823.0h1.8v1.8h-1.8zM432.0 824.8h1.8v1.8h-1.8zM407.0 818.6h1.8v1.8h-1.8zM427.5 820.6h1.8v1.8h-1.8zM406.2 829.2h1.8v1.8h-1.8zM487.5 667.3h1.8v1.8h-1.8zM399.3 817.5h1.8v1.8h-1.8zM408.3 724.0h1.8v1.8h-1.8zM423.2 825.6h1.8v1.8h-1.8zM405.1 794.8h1.8v1.8h-1.8zM440.0 803.0h1.8v1.8h-1.8zM440.9 664.7h1.8v1.8h-1.8zM464.1 661.6h1.8v1.8h-1.8zM394.7 830.1h1.8v1.8h-1.8zM399.5 835.8h1.8v1.8h-1.8zM393.9 832.8h1.8v1.8h-1.8zM400.5 802.0h1.8v1.8h-1.8zM404.7 730.6h1.8v1.8h-1.8zM448.3 662.7h1.8v1.8h-1.8zM398.3 802.4h1.8v1.8h-1.8zM419.3 834.8h1.8v1.8h-1.8zM424.2 726.8h1.8v1.8h-1.8zM450.5 818.3h1.8v1.8h-1.8zM440.8 822.7h1.8v1.8h-1.8zM432.1 810.4h1.8v1.8h-1.8zM420.6 758.7h1.8v1.8h-1.8zM514.4 821.3h1.8v1.8h-1.8zM411.3 819.9h1.8v1.8h-1.8zM460.9 834.1h1.8v1.8h-1.8zM395.9 815.0h1.8v1.8h-1.8zM419.9 835.8h1.8v1.8h-1.8zM400.7 790.7h1.8v1.8h-1.8zM397.8 835.8h1.8v1.8h-1.8zM450.6 769.6h1.8v1.8h-1.8zM397.5 826.2h1.8v1.8h-1.8zM408.8 825.1h1.8v1.8h-1.8zM399.2 762.9h1.8v1.8h-1.8zM410.7 814.9h1.8v1.8h-1.8zM423.4 810.6h1.8v1.8h-1.8zM404.1 803.5h1.8v1.8h-1.8zM481.7 786.0h1.8v1.8h-1.8zM417.9 788.1h1.8v1.8h-1.8zM445.3 832.6h1.8v1.8h-1.8zM415.8 811.1h1.8v1.8h-1.8zM394.2 818.8h1.8v1.8h-1.8zM421.5 737.3h1.8v1.8h-1.8zM466.8 817.0h1.8v1.8h-1.8zM456.2 832.1h1.8v1.8h-1.8zM535.3 832.7h1.8v1.8h-1.8zM399.8 807.7h1.8v1.8h-1.8zM419.7 817.0h1.8v1.8h-1.8zM405.3 834.8h1.8v1.8h-1.8zM444.9 811.8h1.8v1.8h-1.8zM413.9 748.4h1.8v1.8h-1.8zM397.0 830.4h1.8v1.8h-1.8zM413.1 827.4h1.8v1.8h-1.8zM403.8 814.3h1.8v1.8h-1.8zM439.1 834.0h1.8v1.8h-1.8zM408.6 806.7h1.8v1.8h-1.8zM397.8 788.3h1.8v1.8h-1.8zM419.8 807.8h1.8v1.8h-1.8zM393.7 801.4h1.8v1.8h-1.8zM399.1 835.3h1.8v1.8h-1.8zM425.3 829.1h1.8v1.8h-1.8zM411.5 835.6h1.8v1.8h-1.8zM395.6 801.8h1.8v1.8h-1.8zM404.0 802.8h1.8v1.8h-1.8zM451.0 831.1h1.8v1.8h-1.8zM410.3 819.7h1.8v1.8h-1.8zM411.3 792.6h1.8v1.8h-1.8zM395.3 822.8h1.8v1.8h-1.8zM393.3 824.6h1.8v1.8h-1.8zM398.6 827.1h1.8v1.8h-1.8zM417.4 827.5h1.8v1.8h-1.8zM419.3 812.1h1.8v1.8h-1.8zM411.9 797.4h1.8v1.8h-1.8zM393.8 832.7h1.8v1.8h-1.8zM407.7 778.8h1.8v1.8h-1.8zM417.6 799.6h1.8v1.8h-1.8zM457.7 823.4h1.8v1.8h-1.8zM443.1 830.2h1.8v1.8h-1.8zM399.1 787.0h1.8v1.8h-1.8zM406.5 753.9h1.8v1.8h-1.8zM409.6 833.6h1.8v1.8h-1.8zM396.8 821.2h1.8v1.8h-1.8zM443.1 708.6h1.8v1.8h-1.8zM411.1 676.2h1.8v1.8h-1.8zM455.7 808.8h1.8v1.8h-1.8zM420.7 804.9h1.8v1.8h-1.8zM412.8 810.2h1.8v1.8h-1.8zM395.9 830.7h1.8v1.8h-1.8zM410.0 829.8h1.8v1.8h-1.8zM419.2 759.7h1.8v1.8h-1.8zM404.0 790.7h1.8v1.8h-1.8zM404.6 834.5h1.8v1.8h-1.8zM403.3 725.6h1.8v1.8h-1.8zM424.4 815.9h1.8v1.8h-1.8zM406.9 772.1h1.8v1.8h-1.8zM409.6 822.6h1.8v1.8h-1.8zM415.6 815.9h1.8v1.8h-1.8zM408.1 794.4h1.8v1.8h-1.8zM404.9 826.5h1.8v1.8h-1.8zM422.8 800.8h1.8v1.8h-1.8zM394.6 820.3h1.8v1.8h-1.8zM417.2 751.3h1.8v1.8h-1.8zM402.9 821.3h1.8v1.8h-1.8zM435.0 703.4h1.8v1.8h-1.8zM410.0 812.4h1.8v1.8h-1.8zM396.6 814.1h1.8v1.8h-1.8zM398.3 823.9h1.8v1.8h-1.8zM449.3 752.8h1.8v1.8h-1.8zM438.9 791.6h1.8v1.8h-1.8zM457.0 834.5h1.8v1.8h-1.8zM404.8 780.1h1.8v1.8h-1.8zM409.0 802.4h1.8v1.8h-1.8zM414.7 750.4h1.8v1.8h-1.8zM504.0 824.3h1.8v1.8h-1.8zM430.2 821.4h1.8v1.8h-1.8zM395.7 828.4h1.8v1.8h-1.8zM395.3 816.6h1.8v1.8h-1.8zM397.8 835.5h1.8v1.8h-1.8zM431.4 833.9h1.8v1.8h-1.8zM411.1 800.9h1.8v1.8h-1.8zM430.2 803.0h1.8v1.8h-1.8zM408.3 819.2h1.8v1.8h-1.8zM431.3 810.8h1.8v1.8h-1.8zM399.8 825.1h1.8v1.8h-1.8zM413.7 831.4h1.8v1.8h-1.8zM450.8 811.4h1.8v1.8h-1.8zM406.2 760.2h1.8v1.8h-1.8zM402.6 829.1h1.8v1.8h-1.8zM410.6 796.5h1.8v1.8h-1.8zM398.5 824.9h1.8v1.8h-1.8zM401.3 794.0h1.8v1.8h-1.8zM396.4 797.8h1.8v1.8h-1.8zM415.8 828.5h1.8v1.8h-1.8zM398.3 830.2h1.8v1.8h-1.8zM422.5 833.7h1.8v1.8h-1.8zM407.4 823.0h1.8v1.8h-1.8zM465.1 795.0h1.8v1.8h-1.8zM394.3 806.8h1.8v1.8h-1.8zM400.4 835.3h1.8v1.8h-1.8zM421.2 832.7h1.8v1.8h-1.8zM402.1 789.8h1.8v1.8h-1.8zM440.2 819.0h1.8v1.8h-1.8zM397.8 835.4h1.8v1.8h-1.8zM395.0 800.0h1.8v1.8h-1.8zM404.6 831.8h1.8v1.8h-1.8zM426.5 814.7h1.8v1.8h-1.8zM406.3 821.2h1.8v1.8h-1.8zM408.6 787.6h1.8v1.8h-1.8zM398.7 828.1h1.8v1.8h-1.8zM461.7 795.0h1.8v1.8h-1.8zM431.2 818.3h1.8v1.8h-1.8zM454.8 778.6h1.8v1.8h-1.8zM435.8 825.2h1.8v1.8h-1.8zM399.5 791.9h1.8v1.8h-1.8zM476.1 820.9h1.8v1.8h-1.8zM414.2 819.2h1.8v1.8h-1.8zM394.6 833.4h1.8v1.8h-1.8zM413.5 835.7h1.8v1.8h-1.8zM395.4 831.9h1.8v1.8h-1.8zM430.0 701.2h1.8v1.8h-1.8zM434.8 730.6h1.8v1.8h-1.8zM400.6 832.7h1.8v1.8h-1.8zM393.5 814.9h1.8v1.8h-1.8zM398.0 784.8h1.8v1.8h-1.8zM394.3 801.6h1.8v1.8h-1.8zM406.8 831.9h1.8v1.8h-1.8zM439.0 826.2h1.8v1.8h-1.8zM400.2 784.0h1.8v1.8h-1.8zM443.6 831.9h1.8v1.8h-1.8zM405.2 759.4h1.8v1.8h-1.8zM426.7 708.7h1.8v1.8h-1.8zM426.0 822.3h1.8v1.8h-1.8zM411.2 723.2h1.8v1.8h-1.8zM409.1 790.7h1.8v1.8h-1.8zM428.7 833.3h1.8v1.8h-1.8zM393.3 799.8h1.8v1.8h-1.8zM393.5 820.3h1.8v1.8h-1.8zM474.2 833.5h1.8v1.8h-1.8zM399.5 821.3h1.8v1.8h-1.8zM478.7 773.9h1.8v1.8h-1.8zM409.3 822.8h1.8v1.8h-1.8zM397.2 830.6h1.8v1.8h-1.8zM440.0 819.8h1.8v1.8h-1.8zM434.4 667.5h1.8v1.8h-1.8zM407.9 774.1h1.8v1.8h-1.8zM403.8 834.6h1.8v1.8h-1.8zM409.7 818.6h1.8v1.8h-1.8zM394.2 832.2h1.8v1.8h-1.8zM406.7 822.3h1.8v1.8h-1.8zM442.7 824.4h1.8v1.8h-1.8zM434.8 749.8h1.8v1.8h-1.8zM403.9 821.0h1.8v1.8h-1.8zM395.7 831.8h1.8v1.8h-1.8zM407.4 806.5h1.8v1.8h-1.8zM406.9 827.6h1.8v1.8h-1.8zM531.7 753.4h1.8v1.8h-1.8zM441.6 660.8h1.8v1.8h-1.8zM395.4 815.3h1.8v1.8h-1.8zM415.2 770.7h1.8v1.8h-1.8zM426.0 804.1h1.8v1.8h-1.8zM417.5 770.5h1.8v1.8h-1.8zM448.4 817.5h1.8v1.8h-1.8zM407.5 794.3h1.8v1.8h-1.8zM400.7 827.3h1.8v1.8h-1.8zM419.5 819.2h1.8v1.8h-1.8zM407.7 818.6h1.8v1.8h-1.8zM529.8 806.3h1.8v1.8h-1.8zM424.1 822.4h1.8v1.8h-1.8zM471.4 833.7h1.8v1.8h-1.8zM393.5 823.4h1.8v1.8h-1.8zM398.1 802.3h1.8v1.8h-1.8zM440.9 716.8h1.8v1.8h-1.8zM401.0 824.9h1.8v1.8h-1.8zM403.1 774.5h1.8v1.8h-1.8zM451.6 795.6h1.8v1.8h-1.8zM398.8 805.9h1.8v1.8h-1.8zM411.3 813.4h1.8v1.8h-1.8zM416.9 806.4h1.8v1.8h-1.8zM402.8 806.3h1.8v1.8h-1.8zM397.7 817.2h1.8v1.8h-1.8zM394.2 827.1h1.8v1.8h-1.8zM428.7 706.1h1.8v1.8h-1.8zM401.0 798.8h1.8v1.8h-1.8zM415.4 826.6h1.8v1.8h-1.8zM403.7 833.7h1.8v1.8h-1.8zM461.2 829.3h1.8v1.8h-1.8zM443.1 786.8h1.8v1.8h-1.8zM457.1 713.7h1.8v1.8h-1.8zM439.8 826.7h1.8v1.8h-1.8zM408.7 722.0h1.8v1.8h-1.8zM393.3 798.8h1.8v1.8h-1.8zM519.0 775.7h1.8v1.8h-1.8zM406.8 814.2h1.8v1.8h-1.8zM406.7 805.5h1.8v1.8h-1.8zM439.5 657.5h1.8v1.8h-1.8zM402.0 808.6h1.8v1.8h-1.8zM411.4 726.0h1.8v1.8h-1.8zM398.0 802.1h1.8v1.8h-1.8zM414.7 738.0h1.8v1.8h-1.8zM421.6 828.7h1.8v1.8h-1.8zM397.2 827.2h1.8v1.8h-1.8zM405.0 806.0h1.8v1.8h-1.8zM415.0 831.0h1.8v1.8h-1.8zM420.5 803.3h1.8v1.8h-1.8zM413.3 833.4h1.8v1.8h-1.8zM407.8 769.5h1.8v1.8h-1.8zM398.5 797.0h1.8v1.8h-1.8zM400.1 832.4h1.8v1.8h-1.8zM395.4 829.1h1.8v1.8h-1.8zM432.8 828.8h1.8v1.8h-1.8zM400.3 810.0h1.8v1.8h-1.8zM418.7 811.3h1.8v1.8h-1.8zM413.0 814.2h1.8v1.8h-1.8zM488.6 754.8h1.8v1.8h-1.8zM415.6 747.1h1.8v1.8h-1.8zM399.5 816.2h1.8v1.8h-1.8zM483.2 830.1h1.8v1.8h-1.8zM416.9 833.9h1.8v1.8h-1.8zM462.8 674.2h1.8v1.8h-1.8zM429.7 793.3h1.8v1.8h-1.8zM494.2 827.8h1.8v1.8h-1.8zM436.8 811.3h1.8v1.8h-1.8zM403.3 799.9h1.8v1.8h-1.8zM403.9 809.1h1.8v1.8h-1.8zM405.6 834.4h1.8v1.8h-1.8zM405.3 826.4h1.8v1.8h-1.8zM433.6 776.7h1.8v1.8h-1.8zM396.8 826.1h1.8v1.8h-1.8zM395.3 814.3h1.8v1.8h-1.8zM400.2 829.9h1.8v1.8h-1.8zM401.8 773.9h1.8v1.8h-1.8zM413.4 818.4h1.8v1.8h-1.8zM499.7 807.3h1.8v1.8h-1.8zM440.8 803.6h1.8v1.8h-1.8zM461.2 832.9h1.8v1.8h-1.8zM429.9 834.5h1.8v1.8h-1.8zM414.0 803.9h1.8v1.8h-1.8zM398.5 826.2h1.8v1.8h-1.8zM448.4 818.7h1.8v1.8h-1.8zM399.3 828.6h1.8v1.8h-1.8zM399.8 832.9h1.8v1.8h-1.8zM397.0 807.7h1.8v1.8h-1.8zM407.5 781.6h1.8v1.8h-1.8zM393.4 817.5h1.8v1.8h-1.8zM402.5 825.4h1.8v1.8h-1.8zM405.8 803.6h1.8v1.8h-1.8zM477.0 826.5h1.8v1.8h-1.8zM448.9 749.9h1.8v1.8h-1.8zM408.3 833.1h1.8v1.8h-1.8zM494.1 692.1h1.8v1.8h-1.8zM410.4 794.1h1.8v1.8h-1.8zM407.0 814.7h1.8v1.8h-1.8zM420.0 707.0h1.8v1.8h-1.8zM399.3 824.9h1.8v1.8h-1.8zM441.0 753.2h1.8v1.8h-1.8zM399.1 735.6h1.8v1.8h-1.8zM418.7 821.7h1.8v1.8h-1.8zM461.3 821.1h1.8v1.8h-1.8zM394.7 827.9h1.8v1.8h-1.8zM393.4 821.3h1.8v1.8h-1.8zM417.1 803.1h1.8v1.8h-1.8zM482.6 770.1h1.8v1.8h-1.8zM444.4 778.4h1.8v1.8h-1.8zM427.3 835.8h1.8v1.8h-1.8zM403.9 833.0h1.8v1.8h-1.8zM398.4 819.8h1.8v1.8h-1.8zM396.5 818.7h1.8v1.8h-1.8zM394.6 825.7h1.8v1.8h-1.8zM425.9 756.0h1.8v1.8h-1.8zM401.1 820.2h1.8v1.8h-1.8zM421.0 742.5h1.8v1.8h-1.8zM425.4 715.0h1.8v1.8h-1.8zM403.2 816.1h1.8v1.8h-1.8zM423.8 771.9h1.8v1.8h-1.8zM431.8 796.6h1.8v1.8h-1.8zM396.5 834.7h1.8v1.8h-1.8zM407.8 755.3h1.8v1.8h-1.8zM507.5 819.2h1.8v1.8h-1.8zM494.6 798.8h1.8v1.8h-1.8zM433.8 815.5h1.8v1.8h-1.8zM407.6 832.8h1.8v1.8h-1.8zM433.3 834.0h1.8v1.8h-1.8zM395.6 828.5h1.8v1.8h-1.8zM417.0 753.6h1.8v1.8h-1.8zM451.1 702.1h1.8v1.8h-1.8zM496.5 598.5h1.8v1.8h-1.8zM522.9 803.2h1.8v1.8h-1.8zM400.5 775.7h1.8v1.8h-1.8zM402.3 817.1h1.8v1.8h-1.8zM427.5 827.0h1.8v1.8h-1.8zM417.8 824.5h1.8v1.8h-1.8zM432.3 792.8h1.8v1.8h-1.8zM396.0 831.9h1.8v1.8h-1.8zM447.2 821.4h1.8v1.8h-1.8zM426.7 772.7h1.8v1.8h-1.8zM428.2 779.7h1.8v1.8h-1.8zM433.1 822.0h1.8v1.8h-1.8zM405.1 796.6h1.8v1.8h-1.8zM454.1 789.5h1.8v1.8h-1.8zM437.6 806.7h1.8v1.8h-1.8zM394.3 824.3h1.8v1.8h-1.8zM399.5 805.6h1.8v1.8h-1.8zM422.0 810.5h1.8v1.8h-1.8zM396.4 823.5h1.8v1.8h-1.8zM394.8 833.7h1.8v1.8h-1.8zM459.4 800.5h1.8v1.8h-1.8zM469.8 828.0h1.8v1.8h-1.8zM450.6 805.0h1.8v1.8h-1.8zM394.2 818.3h1.8v1.8h-1.8zM402.5 787.1h1.8v1.8h-1.8zM442.5 797.2h1.8v1.8h-1.8zM432.1 818.1h1.8v1.8h-1.8zM489.3 807.7h1.8v1.8h-1.8zM414.1 827.4h1.8v1.8h-1.8zM417.7 800.8h1.8v1.8h-1.8zM430.4 822.7h1.8v1.8h-1.8zM394.7 804.6h1.8v1.8h-1.8zM413.6 830.5h1.8v1.8h-1.8zM437.7 804.1h1.8v1.8h-1.8zM406.9 834.6h1.8v1.8h-1.8zM444.1 810.3h1.8v1.8h-1.8zM397.5 818.0h1.8v1.8h-1.8zM417.5 795.1h1.8v1.8h-1.8zM395.7 821.2h1.8v1.8h-1.8zM400.6 806.0h1.8v1.8h-1.8zM449.6 764.4h1.8v1.8h-1.8zM413.9 785.9h1.8v1.8h-1.8zM412.9 835.5h1.8v1.8h-1.8zM399.9 833.3h1.8v1.8h-1.8zM405.4 783.3h1.8v1.8h-1.8zM403.3 814.7h1.8v1.8h-1.8zM421.6 826.9h1.8v1.8h-1.8zM402.4 809.8h1.8v1.8h-1.8zM407.7 811.8h1.8v1.8h-1.8zM401.4 830.1h1.8v1.8h-1.8zM411.2 820.2h1.8v1.8h-1.8zM398.8 832.9h1.8v1.8h-1.8zM408.4 821.7h1.8v1.8h-1.8zM394.8 835.1h1.8v1.8h-1.8zM403.6 817.0h1.8v1.8h-1.8zM437.2 724.9h1.8v1.8h-1.8zM428.4 820.2h1.8v1.8h-1.8zM406.6 803.0h1.8v1.8h-1.8zM399.1 822.7h1.8v1.8h-1.8zM418.9 637.3h1.8v1.8h-1.8zM406.7 778.7h1.8v1.8h-1.8zM431.7 696.6h1.8v1.8h-1.8zM410.9 791.3h1.8v1.8h-1.8zM402.4 787.4h1.8v1.8h-1.8zM395.2 829.1h1.8v1.8h-1.8zM456.3 802.4h1.8v1.8h-1.8zM419.7 812.8h1.8v1.8h-1.8zM410.2 824.1h1.8v1.8h-1.8zM401.4 817.7h1.8v1.8h-1.8zM472.9 792.0h1.8v1.8h-1.8zM427.5 774.9h1.8v1.8h-1.8zM421.3 809.7h1.8v1.8h-1.8zM399.0 815.7h1.8v1.8h-1.8zM403.2 801.7h1.8v1.8h-1.8zM407.7 795.0h1.8v1.8h-1.8zM400.7 835.4h1.8v1.8h-1.8zM401.1 820.2h1.8v1.8h-1.8zM408.6 712.7h1.8v1.8h-1.8zM438.3 769.0h1.8v1.8h-1.8zM440.5 815.0h1.8v1.8h-1.8zM430.5 824.0h1.8v1.8h-1.8zM410.9 777.1h1.8v1.8h-1.8zM417.5 738.8h1.8v1.8h-1.8zM403.4 804.0h1.8v1.8h-1.8zM402.0 813.9h1.8v1.8h-1.8zM455.1 746.4h1.8v1.8h-1.8zM461.5 809.6h1.8v1.8h-1.8zM444.4 693.3h1.8v1.8h-1.8zM403.0 762.1h1.8v1.8h-1.8zM406.6 806.7h1.8v1.8h-1.8zM393.2 803.3h1.8v1.8h-1.8zM451.3 730.2h1.8v1.8h-1.8zM398.1 824.3h1.8v1.8h-1.8zM408.5 742.5h1.8v1.8h-1.8zM405.0 786.8h1.8v1.8h-1.8zM394.9 770.6h1.8v1.8h-1.8zM426.7 825.2h1.8v1.8h-1.8zM418.4 821.5h1.8v1.8h-1.8zM393.3 792.2h1.8v1.8h-1.8zM410.0 783.9h1.8v1.8h-1.8zM443.7 830.0h1.8v1.8h-1.8zM407.4 824.3h1.8v1.8h-1.8zM393.8 822.2h1.8v1.8h-1.8zM435.5 794.4h1.8v1.8h-1.8zM424.8 818.9h1.8v1.8h-1.8zM412.1 806.6h1.8v1.8h-1.8zM430.2 803.8h1.8v1.8h-1.8zM467.7 748.9h1.8v1.8h-1.8zM405.7 825.9h1.8v1.8h-1.8zM500.9 775.5h1.8v1.8h-1.8zM431.5 780.7h1.8v1.8h-1.8zM396.7 825.4h1.8v1.8h-1.8zM440.9 788.2h1.8v1.8h-1.8zM440.9 815.4h1.8v1.8h-1.8zM399.7 818.1h1.8v1.8h-1.8zM414.3 831.2h1.8v1.8h-1.8zM400.7 816.5h1.8v1.8h-1.8zM406.1 822.1h1.8v1.8h-1.8zM420.3 754.5h1.8v1.8h-1.8zM409.0 777.2h1.8v1.8h-1.8zM429.9 826.4h1.8v1.8h-1.8zM398.6 826.0h1.8v1.8h-1.8zM395.2 835.1h1.8v1.8h-1.8zM396.0 826.9h1.8v1.8h-1.8zM394.3 810.2h1.8v1.8h-1.8zM413.7 708.3h1.8v1.8h-1.8zM433.2 797.2h1.8v1.8h-1.8zM448.7 829.5h1.8v1.8h-1.8zM424.6 817.9h1.8v1.8h-1.8zM423.6 779.5h1.8v1.8h-1.8zM405.3 825.1h1.8v1.8h-1.8zM427.2 760.4h1.8v1.8h-1.8zM394.9 831.3h1.8v1.8h-1.8zM467.6 788.2h1.8v1.8h-1.8zM427.8 776.6h1.8v1.8h-1.8zM451.2 797.8h1.8v1.8h-1.8zM408.1 830.3h1.8v1.8h-1.8zM406.6 805.3h1.8v1.8h-1.8zM395.6 820.5h1.8v1.8h-1.8zM401.0 747.6h1.8v1.8h-1.8zM403.5 833.1h1.8v1.8h-1.8zM443.9 782.2h1.8v1.8h-1.8zM420.3 714.0h1.8v1.8h-1.8zM394.2 827.7h1.8v1.8h-1.8zM450.2 639.5h1.8v1.8h-1.8zM401.7 833.0h1.8v1.8h-1.8zM394.5 787.5h1.8v1.8h-1.8zM409.8 813.7h1.8v1.8h-1.8zM397.7 817.0h1.8v1.8h-1.8zM397.4 805.2h1.8v1.8h-1.8zM407.2 804.5h1.8v1.8h-1.8zM446.5 751.9h1.8v1.8h-1.8zM405.5 783.1h1.8v1.8h-1.8zM417.6 824.2h1.8v1.8h-1.8zM425.8 798.1h1.8v1.8h-1.8zM406.2 832.7h1.8v1.8h-1.8zM423.6 777.9h1.8v1.8h-1.8zM407.3 834.0h1.8v1.8h-1.8zM396.5 786.8h1.8v1.8h-1.8zM403.8 829.2h1.8v1.8h-1.8zM393.8 767.5h1.8v1.8h-1.8zM422.1 777.8h1.8v1.8h-1.8zM400.7 811.3h1.8v1.8h-1.8zM445.9 785.5h1.8v1.8h-1.8zM446.5 804.4h1.8v1.8h-1.8zM407.0 796.0h1.8v1.8h-1.8zM419.5 801.2h1.8v1.8h-1.8zM441.3 827.5h1.8v1.8h-1.8zM401.1 801.3h1.8v1.8h-1.8zM402.6 808.7h1.8v1.8h-1.8zM402.7 814.3h1.8v1.8h-1.8zM441.8 818.2h1.8v1.8h-1.8zM428.5 765.7h1.8v1.8h-1.8zM428.3 766.5h1.8v1.8h-1.8zM417.9 743.3h1.8v1.8h-1.8zM395.2 824.4h1.8v1.8h-1.8zM401.4 832.4h1.8v1.8h-1.8zM521.4 800.9h1.8v1.8h-1.8zM474.0 780.0h1.8v1.8h-1.8zM412.2 818.4h1.8v1.8h-1.8zM402.1 762.6h1.8v1.8h-1.8zM426.6 800.7h1.8v1.8h-1.8zM394.6 823.1h1.8v1.8h-1.8zM412.2 812.7h1.8v1.8h-1.8zM405.9 829.5h1.8v1.8h-1.8zM395.4 834.3h1.8v1.8h-1.8zM410.4 732.8h1.8v1.8h-1.8zM409.7 767.5h1.8v1.8h-1.8zM415.6 827.0h1.8v1.8h-1.8zM437.6 690.4h1.8v1.8h-1.8zM418.2 792.3h1.8v1.8h-1.8zM438.8 793.7h1.8v1.8h-1.8zM400.7 830.9h1.8v1.8h-1.8zM421.3 826.4h1.8v1.8h-1.8zM395.9 817.1h1.8v1.8h-1.8zM424.2 830.1h1.8v1.8h-1.8zM413.8 746.8h1.8v1.8h-1.8zM399.5 816.6h1.8v1.8h-1.8zM405.0 826.2h1.8v1.8h-1.8zM442.1 809.7h1.8v1.8h-1.8zM413.6 811.4h1.8v1.8h-1.8zM413.2 827.9h1.8v1.8h-1.8zM395.8 832.1h1.8v1.8h-1.8zM417.1 824.0h1.8v1.8h-1.8zM395.4 786.2h1.8v1.8h-1.8zM413.4 789.3h1.8v1.8h-1.8zM401.3 733.2h1.8v1.8h-1.8zM403.1 796.3h1.8v1.8h-1.8zM409.0 806.6h1.8v1.8h-1.8zM419.4 822.0h1.8v1.8h-1.8zM410.8 831.9h1.8v1.8h-1.8zM409.5 743.7h1.8v1.8h-1.8zM435.7 761.5h1.8v1.8h-1.8zM407.4 785.0h1.8v1.8h-1.8zM415.3 775.0h1.8v1.8h-1.8zM408.5 830.2h1.8v1.8h-1.8zM404.7 816.9h1.8v1.8h-1.8zM398.1 810.3h1.8v1.8h-1.8zM413.4 833.9h1.8v1.8h-1.8zM408.4 830.8h1.8v1.8h-1.8zM398.8 811.3h1.8v1.8h-1.8zM396.1 831.9h1.8v1.8h-1.8zM446.5 816.8h1.8v1.8h-1.8zM393.1 832.1h1.8v1.8h-1.8zM434.3 789.5h1.8v1.8h-1.8zM396.7 816.9h1.8v1.8h-1.8zM429.9 692.1h1.8v1.8h-1.8zM427.3 806.3h1.8v1.8h-1.8zM415.3 765.3h1.8v1.8h-1.8zM430.9 796.7h1.8v1.8h-1.8zM458.9 804.6h1.8v1.8h-1.8zM413.9 792.6h1.8v1.8h-1.8zM418.3 809.4h1.8v1.8h-1.8zM406.1 823.5h1.8v1.8h-1.8zM402.2 832.4h1.8v1.8h-1.8zM422.1 831.2h1.8v1.8h-1.8zM400.1 804.6h1.8v1.8h-1.8zM444.5 831.1h1.8v1.8h-1.8zM409.7 824.4h1.8v1.8h-1.8zM468.8 776.6h1.8v1.8h-1.8zM404.3 810.1h1.8v1.8h-1.8zM459.4 808.7h1.8v1.8h-1.8zM406.5 813.5h1.8v1.8h-1.8zM442.4 808.1h1.8v1.8h-1.8zM454.0 831.7h1.8v1.8h-1.8zM393.9 833.6h1.8v1.8h-1.8zM402.9 790.8h1.8v1.8h-1.8zM395.2 812.2h1.8v1.8h-1.8zM419.8 795.3h1.8v1.8h-1.8zM409.6 830.2h1.8v1.8h-1.8zM442.7 811.8h1.8v1.8h-1.8zM472.5 738.4h1.8v1.8h-1.8zM418.2 777.7h1.8v1.8h-1.8zM428.2 814.9h1.8v1.8h-1.8zM401.6 776.1h1.8v1.8h-1.8zM399.7 812.5h1.8v1.8h-1.8zM394.0 787.6h1.8v1.8h-1.8zM445.2 823.2h1.8v1.8h-1.8zM419.3 794.9h1.8v1.8h-1.8zM394.1 775.0h1.8v1.8h-1.8zM445.0 787.5h1.8v1.8h-1.8zM452.6 831.1h1.8v1.8h-1.8zM410.2 774.7h1.8v1.8h-1.8zM414.2 823.1h1.8v1.8h-1.8zM436.9 813.3h1.8v1.8h-1.8zM449.1 747.2h1.8v1.8h-1.8zM415.4 755.5h1.8v1.8h-1.8zM430.5 827.6h1.8v1.8h-1.8zM412.3 796.8h1.8v1.8h-1.8zM418.8 720.9h1.8v1.8h-1.8zM402.0 791.2h1.8v1.8h-1.8zM395.2 816.7h1.8v1.8h-1.8zM412.7 791.5h1.8v1.8h-1.8zM472.2 762.7h1.8v1.8h-1.8zM446.2 831.3h1.8v1.8h-1.8zM404.1 817.1h1.8v1.8h-1.8zM394.7 761.9h1.8v1.8h-1.8zM460.8 809.7h1.8v1.8h-1.8zM399.6 801.7h1.8v1.8h-1.8zM453.0 827.1h1.8v1.8h-1.8zM405.6 833.1h1.8v1.8h-1.8zM394.6 797.9h1.8v1.8h-1.8zM395.1 830.2h1.8v1.8h-1.8zM395.5 821.5h1.8v1.8h-1.8zM423.4 823.3h1.8v1.8h-1.8zM407.2 725.1h1.8v1.8h-1.8zM403.6 834.6h1.8v1.8h-1.8zM431.1 832.7h1.8v1.8h-1.8zM404.4 831.9h1.8v1.8h-1.8zM397.6 829.1h1.8v1.8h-1.8zM431.5 788.2h1.8v1.8h-1.8zM418.0 752.2h1.8v1.8h-1.8zM397.0 794.0h1.8v1.8h-1.8zM405.8 811.0h1.8v1.8h-1.8zM398.1 769.2h1.8v1.8h-1.8zM396.7 786.5h1.8v1.8h-1.8zM396.0 816.9h1.8v1.8h-1.8zM416.1 824.6h1.8v1.8h-1.8zM396.6 823.3h1.8v1.8h-1.8zM468.6 822.1h1.8v1.8h-1.8zM411.2 773.1h1.8v1.8h-1.8zM434.5 588.4h1.8v1.8h-1.8zM459.6 813.0h1.8v1.8h-1.8zM415.1 818.0h1.8v1.8h-1.8zM424.5 832.6h1.8v1.8h-1.8zM434.7 833.5h1.8v1.8h-1.8zM422.1 818.7h1.8v1.8h-1.8zM412.1 816.1h1.8v1.8h-1.8zM404.1 796.8h1.8v1.8h-1.8zM395.8 826.9h1.8v1.8h-1.8zM398.3 801.5h1.8v1.8h-1.8zM402.0 822.0h1.8v1.8h-1.8zM435.5 808.9h1.8v1.8h-1.8zM415.4 774.4h1.8v1.8h-1.8zM397.4 796.8h1.8v1.8h-1.8zM403.8 823.0h1.8v1.8h-1.8zM398.7 810.5h1.8v1.8h-1.8zM398.2 810.2h1.8v1.8h-1.8zM394.0 826.2h1.8v1.8h-1.8zM414.5 806.7h1.8v1.8h-1.8zM398.4 827.2h1.8v1.8h-1.8zM475.5 783.9h1.8v1.8h-1.8zM449.1 634.4h1.8v1.8h-1.8zM440.1 813.1h1.8v1.8h-1.8zM397.6 812.3h1.8v1.8h-1.8zM410.1 813.3h1.8v1.8h-1.8zM408.4 829.3h1.8v1.8h-1.8zM398.3 815.8h1.8v1.8h-1.8zM426.3 825.5h1.8v1.8h-1.8zM423.0 829.8h1.8v1.8h-1.8zM408.5 805.3h1.8v1.8h-1.8zM439.4 830.0h1.8v1.8h-1.8zM404.1 812.1h1.8v1.8h-1.8zM419.5 646.9h1.8v1.8h-1.8zM407.2 823.7h1.8v1.8h-1.8zM393.3 820.3h1.8v1.8h-1.8zM430.7 723.8h1.8v1.8h-1.8zM398.5 786.6h1.8v1.8h-1.8zM461.7 803.2h1.8v1.8h-1.8zM400.3 833.3h1.8v1.8h-1.8zM407.5 810.9h1.8v1.8h-1.8zM401.7 817.4h1.8v1.8h-1.8zM399.8 832.2h1.8v1.8h-1.8zM417.1 757.7h1.8v1.8h-1.8zM417.4 830.1h1.8v1.8h-1.8zM393.1 825.2h1.8v1.8h-1.8zM394.9 764.8h1.8v1.8h-1.8zM518.1 810.6h1.8v1.8h-1.8zM413.3 813.4h1.8v1.8h-1.8zM428.4 800.5h1.8v1.8h-1.8zM399.6 816.8h1.8v1.8h-1.8zM401.5 823.2h1.8v1.8h-1.8zM394.1 835.1h1.8v1.8h-1.8zM426.1 821.5h1.8v1.8h-1.8zM400.7 803.6h1.8v1.8h-1.8zM438.4 763.4h1.8v1.8h-1.8zM405.6 835.5h1.8v1.8h-1.8zM418.0 799.2h1.8v1.8h-1.8zM446.2 745.1h1.8v1.8h-1.8zM397.3 820.7h1.8v1.8h-1.8zM415.5 829.1h1.8v1.8h-1.8zM488.3 790.7h1.8v1.8h-1.8zM424.8 794.4h1.8v1.8h-1.8zM458.6 822.0h1.8v1.8h-1.8zM414.9 795.0h1.8v1.8h-1.8zM403.8 795.2h1.8v1.8h-1.8zM393.6 818.5h1.8v1.8h-1.8zM401.1 775.7h1.8v1.8h-1.8zM411.2 798.7h1.8v1.8h-1.8zM397.4 834.6h1.8v1.8h-1.8zM401.8 828.0h1.8v1.8h-1.8zM409.5 831.9h1.8v1.8h-1.8zM405.3 799.5h1.8v1.8h-1.8zM399.0 811.7h1.8v1.8h-1.8zM398.6 794.6h1.8v1.8h-1.8zM408.3 754.4h1.8v1.8h-1.8zM398.6 805.1h1.8v1.8h-1.8zM394.5 831.6h1.8v1.8h-1.8zM458.2 815.3h1.8v1.8h-1.8zM407.5 832.6h1.8v1.8h-1.8zM410.3 802.0h1.8v1.8h-1.8zM398.0 803.9h1.8v1.8h-1.8zM505.4 829.6h1.8v1.8h-1.8zM419.4 778.0h1.8v1.8h-1.8zM397.5 825.8h1.8v1.8h-1.8zM397.4 808.2h1.8v1.8h-1.8zM425.8 790.7h1.8v1.8h-1.8zM393.5 821.7h1.8v1.8h-1.8zM441.0 785.9h1.8v1.8h-1.8zM446.3 791.6h1.8v1.8h-1.8zM418.9 810.8h1.8v1.8h-1.8zM458.3 770.4h1.8v1.8h-1.8zM400.7 819.1h1.8v1.8h-1.8zM393.2 824.6h1.8v1.8h-1.8zM414.1 834.2h1.8v1.8h-1.8zM415.1 798.8h1.8v1.8h-1.8zM405.7 830.5h1.8v1.8h-1.8zM420.9 804.8h1.8v1.8h-1.8zM422.4 741.7h1.8v1.8h-1.8zM398.9 815.4h1.8v1.8h-1.8zM401.5 830.8h1.8v1.8h-1.8zM393.9 832.7h1.8v1.8h-1.8zM423.1 791.7h1.8v1.8h-1.8zM405.3 821.8h1.8v1.8h-1.8zM405.9 798.7h1.8v1.8h-1.8zM401.1 764.2h1.8v1.8h-1.8zM429.3 760.5h1.8v1.8h-1.8zM395.3 827.3h1.8v1.8h-1.8zM449.8 828.6h1.8v1.8h-1.8zM426.6 798.9h1.8v1.8h-1.8zM403.7 829.4h1.8v1.8h-1.8zM400.2 812.8h1.8v1.8h-1.8zM400.3 829.8h1.8v1.8h-1.8zM395.9 800.0h1.8v1.8h-1.8zM519.8 764.8h1.8v1.8h-1.8zM423.5 716.7h1.8v1.8h-1.8zM489.2 780.7h1.8v1.8h-1.8zM398.8 816.9h1.8v1.8h-1.8zM418.9 831.3h1.8v1.8h-1.8zM410.3 831.8h1.8v1.8h-1.8zM401.3 815.1h1.8v1.8h-1.8zM430.8 784.3h1.8v1.8h-1.8zM431.8 806.1h1.8v1.8h-1.8zM409.2 817.5h1.8v1.8h-1.8zM393.6 818.2h1.8v1.8h-1.8zM473.8 803.9h1.8v1.8h-1.8zM396.2 814.1h1.8v1.8h-1.8zM421.1 826.6h1.8v1.8h-1.8zM408.9 822.7h1.8v1.8h-1.8zM410.0 741.3h1.8v1.8h-1.8zM398.8 819.1h1.8v1.8h-1.8zM407.0 769.3h1.8v1.8h-1.8zM401.2 835.2h1.8v1.8h-1.8zM407.5 797.1h1.8v1.8h-1.8zM421.0 829.8h1.8v1.8h-1.8zM405.4 832.2h1.8v1.8h-1.8zM432.6 821.1h1.8v1.8h-1.8zM405.5 753.9h1.8v1.8h-1.8zM467.6 816.3h1.8v1.8h-1.8zM403.9 806.6h1.8v1.8h-1.8zM419.4 803.8h1.8v1.8h-1.8zM393.9 833.1h1.8v1.8h-1.8zM449.3 823.3h1.8v1.8h-1.8zM394.2 824.3h1.8v1.8h-1.8zM457.6 815.7h1.8v1.8h-1.8zM396.0 834.8h1.8v1.8h-1.8zM435.0 805.6h1.8v1.8h-1.8zM397.0 835.6h1.8v1.8h-1.8zM395.2 804.2h1.8v1.8h-1.8zM420.4 802.5h1.8v1.8h-1.8zM438.4 779.2h1.8v1.8h-1.8zM419.9 823.5h1.8v1.8h-1.8zM411.2 815.7h1.8v1.8h-1.8zM397.6 819.7h1.8v1.8h-1.8zM393.8 833.9h1.8v1.8h-1.8zM440.0 815.7h1.8v1.8h-1.8zM427.9 797.6h1.8v1.8h-1.8zM404.2 680.2h1.8v1.8h-1.8zM401.0 817.9h1.8v1.8h-1.8zM395.4 796.2h1.8v1.8h-1.8zM438.5 823.5h1.8v1.8h-1.8zM403.2 826.2h1.8v1.8h-1.8zM414.9 816.4h1.8v1.8h-1.8zM427.3 801.5h1.8v1.8h-1.8zM407.8 812.5h1.8v1.8h-1.8zM394.4 815.4h1.8v1.8h-1.8zM443.3 718.9h1.8v1.8h-1.8zM397.4 832.5h1.8v1.8h-1.8zM393.6 833.7h1.8v1.8h-1.8zM513.2 802.2h1.8v1.8h-1.8zM403.9 819.0h1.8v1.8h-1.8zM396.2 799.7h1.8v1.8h-1.8zM413.4 789.7h1.8v1.8h-1.8zM397.6 830.7h1.8v1.8h-1.8zM407.4 816.5h1.8v1.8h-1.8zM397.9 792.0h1.8v1.8h-1.8zM410.8 822.3h1.8v1.8h-1.8zM393.8 786.9h1.8v1.8h-1.8zM480.7 789.8h1.8v1.8h-1.8zM413.3 783.7h1.8v1.8h-1.8zM403.6 824.9h1.8v1.8h-1.8zM402.2 828.4h1.8v1.8h-1.8zM397.8 829.2h1.8v1.8h-1.8zM397.9 818.6h1.8v1.8h-1.8zM446.8 831.3h1.8v1.8h-1.8zM402.9 806.6h1.8v1.8h-1.8zM426.3 811.2h1.8v1.8h-1.8zM423.3 832.9h1.8v1.8h-1.8zM400.2 831.3h1.8v1.8h-1.8zM415.8 768.2h1.8v1.8h-1.8zM394.2 831.9h1.8v1.8h-1.8zM467.2 819.7h1.8v1.8h-1.8zM413.8 826.8h1.8v1.8h-1.8zM397.2 768.5h1.8v1.8h-1.8zM408.1 768.3h1.8v1.8h-1.8zM411.3 808.7h1.8v1.8h-1.8zM417.8 791.6h1.8v1.8h-1.8zM443.5 808.6h1.8v1.8h-1.8zM434.0 687.7h1.8v1.8h-1.8zM410.8 826.5h1.8v1.8h-1.8zM413.2 832.4h1.8v1.8h-1.8zM402.5 767.5h1.8v1.8h-1.8zM396.3 815.3h1.8v1.8h-1.8zM420.3 808.0h1.8v1.8h-1.8zM405.4 827.8h1.8v1.8h-1.8zM441.9 727.8h1.8v1.8h-1.8zM406.1 829.2h1.8v1.8h-1.8zM430.8 785.9h1.8v1.8h-1.8zM419.8 773.9h1.8v1.8h-1.8zM488.8 826.9h1.8v1.8h-1.8zM399.1 773.3h1.8v1.8h-1.8zM410.2 813.0h1.8v1.8h-1.8zM412.5 807.7h1.8v1.8h-1.8zM432.3 799.2h1.8v1.8h-1.8zM430.5 777.0h1.8v1.8h-1.8zM444.3 831.3h1.8v1.8h-1.8zM393.5 789.4h1.8v1.8h-1.8zM416.7 829.8h1.8v1.8h-1.8zM411.9 726.7h1.8v1.8h-1.8zM401.2 814.8h1.8v1.8h-1.8zM393.8 828.8h1.8v1.8h-1.8zM424.8 790.8h1.8v1.8h-1.8zM447.0 811.4h1.8v1.8h-1.8zM452.9 801.3h1.8v1.8h-1.8zM396.1 825.5h1.8v1.8h-1.8zM400.4 779.9h1.8v1.8h-1.8zM473.7 818.5h1.8v1.8h-1.8zM452.6 825.7h1.8v1.8h-1.8zM400.1 793.5h1.8v1.8h-1.8zM411.8 790.1h1.8v1.8h-1.8zM419.9 799.0h1.8v1.8h-1.8zM397.8 833.5h1.8v1.8h-1.8zM404.2 834.1h1.8v1.8h-1.8zM422.9 763.8h1.8v1.8h-1.8zM435.8 737.2h1.8v1.8h-1.8zM500.6 727.1h1.8v1.8h-1.8zM415.6 813.3h1.8v1.8h-1.8zM440.0 792.9h1.8v1.8h-1.8zM406.8 833.8h1.8v1.8h-1.8zM401.7 799.2h1.8v1.8h-1.8zM396.1 828.7h1.8v1.8h-1.8zM438.0 831.2h1.8v1.8h-1.8zM403.3 813.1h1.8v1.8h-1.8zM398.8 831.8h1.8v1.8h-1.8zM398.3 817.2h1.8v1.8h-1.8zM398.0 804.9h1.8v1.8h-1.8zM399.0 830.3h1.8v1.8h-1.8zM401.4 823.6h1.8v1.8h-1.8zM441.1 820.0h1.8v1.8h-1.8zM416.6 761.0h1.8v1.8h-1.8zM408.3 833.6h1.8v1.8h-1.8zM393.7 818.8h1.8v1.8h-1.8zM487.6 761.1h1.8v1.8h-1.8zM455.8 817.5h1.8v1.8h-1.8zM462.0 801.1h1.8v1.8h-1.8zM434.4 822.9h1.8v1.8h-1.8zM409.0 806.5h1.8v1.8h-1.8zM395.9 827.1h1.8v1.8h-1.8zM418.8 818.0h1.8v1.8h-1.8zM396.5 823.1h1.8v1.8h-1.8zM408.9 787.3h1.8v1.8h-1.8zM404.8 780.5h1.8v1.8h-1.8zM401.8 796.8h1.8v1.8h-1.8zM397.9 805.9h1.8v1.8h-1.8zM420.6 795.3h1.8v1.8h-1.8zM400.6 806.1h1.8v1.8h-1.8zM393.5 831.7h1.8v1.8h-1.8zM398.1 813.9h1.8v1.8h-1.8zM404.0 834.4h1.8v1.8h-1.8zM414.1 767.8h1.8v1.8h-1.8zM404.2 825.0h1.8v1.8h-1.8zM393.3 808.8h1.8v1.8h-1.8zM421.7 783.3h1.8v1.8h-1.8zM396.7 818.1h1.8v1.8h-1.8zM400.7 826.9h1.8v1.8h-1.8zM405.7 814.1h1.8v1.8h-1.8zM446.0 779.3h1.8v1.8h-1.8zM395.7 830.4h1.8v1.8h-1.8zM395.8 833.7h1.8v1.8h-1.8zM408.4 790.6h1.8v1.8h-1.8zM467.5 829.1h1.8v1.8h-1.8zM397.1 832.6h1.8v1.8h-1.8zM435.0 812.6h1.8v1.8h-1.8zM420.6 818.4h1.8v1.8h-1.8zM397.7 832.4h1.8v1.8h-1.8zM428.8 803.4h1.8v1.8h-1.8zM440.5 831.8h1.8v1.8h-1.8zM403.9 835.4h1.8v1.8h-1.8zM404.4 815.2h1.8v1.8h-1.8zM431.1 810.6h1.8v1.8h-1.8zM493.3 814.8h1.8v1.8h-1.8zM405.1 835.3h1.8v1.8h-1.8zM418.2 829.2h1.8v1.8h-1.8zM410.3 780.2h1.8v1.8h-1.8zM401.5 832.7h1.8v1.8h-1.8zM429.1 789.5h1.8v1.8h-1.8zM414.0 806.8h1.8v1.8h-1.8zM407.5 831.8h1.8v1.8h-1.8zM402.7 824.8h1.8v1.8h-1.8zM428.7 796.7h1.8v1.8h-1.8zM467.6 771.3h1.8v1.8h-1.8zM418.7 805.1h1.8v1.8h-1.8zM424.8 766.0h1.8v1.8h-1.8zM410.1 822.3h1.8v1.8h-1.8zM402.8 816.5h1.8v1.8h-1.8zM412.0 812.4h1.8v1.8h-1.8zM428.9 786.1h1.8v1.8h-1.8zM471.5 818.3h1.8v1.8h-1.8zM430.7 811.6h1.8v1.8h-1.8zM410.2 809.7h1.8v1.8h-1.8zM430.5 750.7h1.8v1.8h-1.8zM458.7 808.5h1.8v1.8h-1.8zM413.3 809.4h1.8v1.8h-1.8zM456.3 826.9h1.8v1.8h-1.8zM430.7 727.8h1.8v1.8h-1.8zM400.1 789.1h1.8v1.8h-1.8zM404.7 833.8h1.8v1.8h-1.8zM435.9 790.5h1.8v1.8h-1.8zM435.8 736.5h1.8v1.8h-1.8zM393.1 832.5h1.8v1.8h-1.8zM395.2 802.3h1.8v1.8h-1.8zM436.3 745.4h1.8v1.8h-1.8zM424.5 806.1h1.8v1.8h-1.8zM452.4 828.6h1.8v1.8h-1.8zM459.0 805.9h1.8v1.8h-1.8zM398.2 812.7h1.8v1.8h-1.8zM401.9 818.1h1.8v1.8h-1.8zM403.0 821.0h1.8v1.8h-1.8zM401.9 758.4h1.8v1.8h-1.8zM401.0 819.9h1.8v1.8h-1.8zM394.1 828.6h1.8v1.8h-1.8zM456.0 815.1h1.8v1.8h-1.8zM426.6 811.7h1.8v1.8h-1.8zM438.6 831.9h1.8v1.8h-1.8zM394.7 820.4h1.8v1.8h-1.8zM416.8 802.3h1.8v1.8h-1.8zM399.5 817.7h1.8v1.8h-1.8zM429.6 702.8h1.8v1.8h-1.8zM446.9 761.7h1.8v1.8h-1.8zM395.7 808.4h1.8v1.8h-1.8zM399.7 800.0h1.8v1.8h-1.8zM453.0 783.9h1.8v1.8h-1.8zM414.8 812.1h1.8v1.8h-1.8zM411.0 797.2h1.8v1.8h-1.8zM440.3 832.0h1.8v1.8h-1.8zM405.2 807.4h1.8v1.8h-1.8zM414.8 776.2h1.8v1.8h-1.8zM413.1 826.8h1.8v1.8h-1.8zM415.1 803.8h1.8v1.8h-1.8zM404.5 824.1h1.8v1.8h-1.8zM398.4 796.1h1.8v1.8h-1.8zM431.4 804.7h1.8v1.8h-1.8zM416.6 829.8h1.8v1.8h-1.8zM397.8 808.0h1.8v1.8h-1.8zM477.6 742.0h1.8v1.8h-1.8zM410.6 810.8h1.8v1.8h-1.8zM442.2 822.4h1.8v1.8h-1.8zM398.0 809.1h1.8v1.8h-1.8zM400.0 804.9h1.8v1.8h-1.8zM414.2 747.4h1.8v1.8h-1.8zM400.6 835.7h1.8v1.8h-1.8zM406.9 819.5h1.8v1.8h-1.8zM410.8 777.4h1.8v1.8h-1.8zM398.0 757.9h1.8v1.8h-1.8zM404.8 797.6h1.8v1.8h-1.8zM412.9 834.1h1.8v1.8h-1.8zM481.4 787.7h1.8v1.8h-1.8zM398.0 829.0h1.8v1.8h-1.8zM465.5 826.1h1.8v1.8h-1.8zM403.7 811.7h1.8v1.8h-1.8zM406.5 806.7h1.8v1.8h-1.8zM412.5 757.0h1.8v1.8h-1.8zM443.6 834.4h1.8v1.8h-1.8zM447.0 670.6h1.8v1.8h-1.8zM414.4 787.9h1.8v1.8h-1.8zM436.6 815.4h1.8v1.8h-1.8zM403.2 810.2h1.8v1.8h-1.8zM400.2 812.6h1.8v1.8h-1.8zM399.2 827.8h1.8v1.8h-1.8zM408.1 812.8h1.8v1.8h-1.8zM468.1 735.0h1.8v1.8h-1.8zM454.4 797.9h1.8v1.8h-1.8zM398.9 826.0h1.8v1.8h-1.8zM444.3 710.5h1.8v1.8h-1.8zM395.7 833.2h1.8v1.8h-1.8zM412.1 831.3h1.8v1.8h-1.8zM430.0 768.1h1.8v1.8h-1.8zM396.9 828.3h1.8v1.8h-1.8zM421.1 814.9h1.8v1.8h-1.8zM415.5 832.2h1.8v1.8h-1.8zM403.3 833.2h1.8v1.8h-1.8zM399.4 831.9h1.8v1.8h-1.8zM394.7 828.7h1.8v1.8h-1.8zM424.3 806.8h1.8v1.8h-1.8zM405.7 832.3h1.8v1.8h-1.8zM446.0 793.3h1.8v1.8h-1.8zM481.4 798.4h1.8v1.8h-1.8zM395.6 826.0h1.8v1.8h-1.8zM477.5 756.7h1.8v1.8h-1.8zM421.0 818.8h1.8v1.8h-1.8zM411.2 825.8h1.8v1.8h-1.8zM406.9 820.5h1.8v1.8h-1.8zM398.0 817.6h1.8v1.8h-1.8zM402.8 803.2h1.8v1.8h-1.8zM427.8 812.9h1.8v1.8h-1.8zM413.8 824.5h1.8v1.8h-1.8zM451.1 740.4h1.8v1.8h-1.8zM398.8 830.0h1.8v1.8h-1.8zM394.0 793.3h1.8v1.8h-1.8zM440.8 833.6h1.8v1.8h-1.8zM393.8 832.2h1.8v1.8h-1.8zM395.6 825.7h1.8v1.8h-1.8zM437.7 781.2h1.8v1.8h-1.8zM420.7 822.3h1.8v1.8h-1.8zM395.4 834.2h1.8v1.8h-1.8zM408.1 832.9h1.8v1.8h-1.8zM395.0 802.2h1.8v1.8h-1.8zM394.4 815.9h1.8v1.8h-1.8zM399.0 784.4h1.8v1.8h-1.8zM438.3 711.6h1.8v1.8h-1.8zM405.9 816.8h1.8v1.8h-1.8zM393.5 821.2h1.8v1.8h-1.8zM403.0 786.1h1.8v1.8h-1.8zM417.1 811.1h1.8v1.8h-1.8zM447.2 733.7h1.8v1.8h-1.8zM401.5 792.8h1.8v1.8h-1.8zM410.1 835.0h1.8v1.8h-1.8zM415.7 718.5h1.8v1.8h-1.8zM477.6 820.7h1.8v1.8h-1.8zM403.8 809.1h1.8v1.8h-1.8zM457.8 822.5h1.8v1.8h-1.8zM435.9 806.4h1.8v1.8h-1.8zM414.2 824.4h1.8v1.8h-1.8zM405.8 810.1h1.8v1.8h-1.8zM464.8 733.5h1.8v1.8h-1.8zM447.8 804.7h1.8v1.8h-1.8zM433.0 655.3h1.8v1.8h-1.8zM412.8 830.1h1.8v1.8h-1.8zM406.6 813.9h1.8v1.8h-1.8zM397.8 817.6h1.8v1.8h-1.8zM456.4 788.1h1.8v1.8h-1.8zM426.3 802.7h1.8v1.8h-1.8zM399.0 814.6h1.8v1.8h-1.8zM401.5 796.3h1.8v1.8h-1.8zM393.6 809.7h1.8v1.8h-1.8zM397.5 805.3h1.8v1.8h-1.8zM474.1 834.4h1.8v1.8h-1.8zM398.6 818.3h1.8v1.8h-1.8zM405.1 824.1h1.8v1.8h-1.8zM407.9 833.5h1.8v1.8h-1.8zM399.2 811.0h1.8v1.8h-1.8zM406.0 799.1h1.8v1.8h-1.8zM405.7 805.7h1.8v1.8h-1.8zM394.4 823.0h1.8v1.8h-1.8zM397.2 808.7h1.8v1.8h-1.8zM409.4 823.6h1.8v1.8h-1.8zM421.3 738.4h1.8v1.8h-1.8zM421.5 829.5h1.8v1.8h-1.8zM460.6 814.0h1.8v1.8h-1.8zM395.9 813.3h1.8v1.8h-1.8zM398.6 771.8h1.8v1.8h-1.8zM462.2 834.4h1.8v1.8h-1.8zM411.6 793.9h1.8v1.8h-1.8zM409.5 805.0h1.8v1.8h-1.8zM425.1 765.4h1.8v1.8h-1.8zM453.4 825.0h1.8v1.8h-1.8zM448.4 823.0h1.8v1.8h-1.8zM414.0 784.2h1.8v1.8h-1.8zM418.7 817.9h1.8v1.8h-1.8zM401.4 800.5h1.8v1.8h-1.8zM427.2 772.0h1.8v1.8h-1.8zM398.5 823.7h1.8v1.8h-1.8zM396.1 830.1h1.8v1.8h-1.8zM395.2 835.3h1.8v1.8h-1.8zM419.7 770.6h1.8v1.8h-1.8zM411.1 721.6h1.8v1.8h-1.8zM398.5 779.3h1.8v1.8h-1.8zM448.7 828.2h1.8v1.8h-1.8zM418.1 835.8h1.8v1.8h-1.8zM394.6 831.8h1.8v1.8h-1.8zM403.0 830.2h1.8v1.8h-1.8zM450.4 827.0h1.8v1.8h-1.8zM483.4 820.9h1.8v1.8h-1.8zM393.8 835.3h1.8v1.8h-1.8zM420.7 795.8h1.8v1.8h-1.8zM451.9 751.5h1.8v1.8h-1.8zM486.7 713.2h1.8v1.8h-1.8zM399.1 822.2h1.8v1.8h-1.8zM395.9 762.1h1.8v1.8h-1.8zM399.5 834.1h1.8v1.8h-1.8zM417.1 831.5h1.8v1.8h-1.8zM409.8 800.1h1.8v1.8h-1.8zM408.1 812.0h1.8v1.8h-1.8zM418.0 776.1h1.8v1.8h-1.8zM394.1 826.0h1.8v1.8h-1.8zM420.3 822.8h1.8v1.8h-1.8zM423.1 829.2h1.8v1.8h-1.8zM407.5 826.3h1.8v1.8h-1.8zM412.9 725.9h1.8v1.8h-1.8zM404.9 785.9h1.8v1.8h-1.8zM393.7 821.3h1.8v1.8h-1.8zM403.7 793.4h1.8v1.8h-1.8zM399.1 827.9h1.8v1.8h-1.8zM412.8 825.8h1.8v1.8h-1.8zM397.3 764.3h1.8v1.8h-1.8zM425.5 777.9h1.8v1.8h-1.8zM443.4 719.1h1.8v1.8h-1.8zM399.1 831.7h1.8v1.8h-1.8zM421.7 767.0h1.8v1.8h-1.8zM426.8 762.1h1.8v1.8h-1.8zM414.2 821.2h1.8v1.8h-1.8zM413.7 834.8h1.8v1.8h-1.8zM417.2 699.2h1.8v1.8h-1.8zM396.7 830.4h1.8v1.8h-1.8zM394.1 834.7h1.8v1.8h-1.8zM419.7 697.5h1.8v1.8h-1.8zM429.8 830.0h1.8v1.8h-1.8zM415.8 814.8h1.8v1.8h-1.8zM427.6 832.0h1.8v1.8h-1.8zM417.9 834.0h1.8v1.8h-1.8zM416.9 793.0h1.8v1.8h-1.8zM401.1 809.4h1.8v1.8h-1.8zM394.5 798.1h1.8v1.8h-1.8zM394.7 782.9h1.8v1.8h-1.8zM406.7 816.3h1.8v1.8h-1.8zM400.3 832.5h1.8v1.8h-1.8zM416.5 697.0h1.8v1.8h-1.8zM406.3 732.7h1.8v1.8h-1.8zM402.0 803.5h1.8v1.8h-1.8zM486.8 815.8h1.8v1.8h-1.8zM404.8 787.6h1.8v1.8h-1.8zM426.0 835.8h1.8v1.8h-1.8zM424.2 826.5h1.8v1.8h-1.8zM472.3 696.1h1.8v1.8h-1.8zM406.5 829.2h1.8v1.8h-1.8zM394.3 833.5h1.8v1.8h-1.8zM393.4 828.1h1.8v1.8h-1.8zM512.1 740.4h1.8v1.8h-1.8zM433.0 824.7h1.8v1.8h-1.8zM490.3 706.9h1.8v1.8h-1.8zM409.5 809.1h1.8v1.8h-1.8zM435.6 814.8h1.8v1.8h-1.8zM397.4 800.7h1.8v1.8h-1.8zM411.9 797.5h1.8v1.8h-1.8zM396.2 821.4h1.8v1.8h-1.8zM401.6 829.6h1.8v1.8h-1.8zM422.1 804.6h1.8v1.8h-1.8zM443.3 720.2h1.8v1.8h-1.8zM416.8 733.9h1.8v1.8h-1.8zM409.5 816.2h1.8v1.8h-1.8zM407.6 828.5h1.8v1.8h-1.8zM396.0 817.1h1.8v1.8h-1.8zM410.5 796.5h1.8v1.8h-1.8zM414.3 781.4h1.8v1.8h-1.8zM452.0 811.0h1.8v1.8h-1.8zM397.1 833.0h1.8v1.8h-1.8zM394.1 826.1h1.8v1.8h-1.8zM405.2 782.9h1.8v1.8h-1.8zM395.8 774.2h1.8v1.8h-1.8zM396.0 811.0h1.8v1.8h-1.8zM438.8 776.2h1.8v1.8h-1.8zM408.7 818.3h1.8v1.8h-1.8zM458.9 800.5h1.8v1.8h-1.8zM458.0 824.8h1.8v1.8h-1.8zM416.3 782.5h1.8v1.8h-1.8zM492.4 732.6h1.8v1.8h-1.8zM424.1 829.9h1.8v1.8h-1.8zM459.9 796.1h1.8v1.8h-1.8zM437.1 817.7h1.8v1.8h-1.8zM419.5 822.2h1.8v1.8h-1.8zM399.0 820.7h1.8v1.8h-1.8zM436.0 816.5h1.8v1.8h-1.8zM443.9 797.9h1.8v1.8h-1.8zM428.0 819.2h1.8v1.8h-1.8zM414.3 735.9h1.8v1.8h-1.8zM405.0 771.9h1.8v1.8h-1.8zM398.3 833.6h1.8v1.8h-1.8zM459.9 747.2h1.8v1.8h-1.8zM414.2 824.5h1.8v1.8h-1.8zM526.5 760.0h1.8v1.8h-1.8zM443.6 799.5h1.8v1.8h-1.8zM396.3 824.5h1.8v1.8h-1.8zM399.6 827.9h1.8v1.8h-1.8zM395.6 833.0h1.8v1.8h-1.8zM400.3 785.5h1.8v1.8h-1.8zM415.2 803.8h1.8v1.8h-1.8zM422.3 812.6h1.8v1.8h-1.8zM402.3 823.1h1.8v1.8h-1.8zM417.6 766.5h1.8v1.8h-1.8zM423.0 715.0h1.8v1.8h-1.8zM412.6 807.5h1.8v1.8h-1.8zM441.5 806.6h1.8v1.8h-1.8zM500.8 811.2h1.8v1.8h-1.8zM425.7 788.7h1.8v1.8h-1.8zM399.6 809.2h1.8v1.8h-1.8zM405.1 763.7h1.8v1.8h-1.8zM402.7 824.8h1.8v1.8h-1.8zM399.3 828.3h1.8v1.8h-1.8zM438.0 827.8h1.8v1.8h-1.8zM428.0 834.3h1.8v1.8h-1.8zM425.9 768.7h1.8v1.8h-1.8zM394.5 801.4h1.8v1.8h-1.8zM422.4 832.0h1.8v1.8h-1.8zM407.6 829.8h1.8v1.8h-1.8zM404.7 833.1h1.8v1.8h-1.8zM394.2 743.4h1.8v1.8h-1.8zM394.7 809.4h1.8v1.8h-1.8zM395.4 792.5h1.8v1.8h-1.8zM402.1 823.7h1.8v1.8h-1.8zM399.7 787.6h1.8v1.8h-1.8zM408.3 819.6h1.8v1.8h-1.8zM430.3 831.6h1.8v1.8h-1.8zM395.6 814.8h1.8v1.8h-1.8zM412.1 790.5h1.8v1.8h-1.8zM445.8 827.5h1.8v1.8h-1.8zM413.3 827.5h1.8v1.8h-1.8zM448.3 793.7h1.8v1.8h-1.8zM425.0 732.6h1.8v1.8h-1.8zM402.3 751.4h1.8v1.8h-1.8zM400.8 834.6h1.8v1.8h-1.8zM440.2 805.1h1.8v1.8h-1.8zM479.1 832.8h1.8v1.8h-1.8zM504.2 805.1h1.8v1.8h-1.8zM507.0 833.9h1.8v1.8h-1.8zM428.5 757.9h1.8v1.8h-1.8zM420.9 832.9h1.8v1.8h-1.8zM473.4 826.9h1.8v1.8h-1.8zM409.0 818.5h1.8v1.8h-1.8zM397.2 834.0h1.8v1.8h-1.8zM419.0 830.9h1.8v1.8h-1.8zM412.4 802.5h1.8v1.8h-1.8zM400.1 830.4h1.8v1.8h-1.8zM407.8 815.3h1.8v1.8h-1.8zM406.0 769.4h1.8v1.8h-1.8zM393.4 814.1h1.8v1.8h-1.8zM463.6 800.8h1.8v1.8h-1.8zM415.0 773.3h1.8v1.8h-1.8zM398.5 832.1h1.8v1.8h-1.8zM421.1 823.9h1.8v1.8h-1.8zM474.9 647.4h1.8v1.8h-1.8zM396.6 826.3h1.8v1.8h-1.8zM399.4 827.3h1.8v1.8h-1.8zM440.0 822.1h1.8v1.8h-1.8zM455.8 770.3h1.8v1.8h-1.8zM522.2 812.0h1.8v1.8h-1.8zM400.1 786.7h1.8v1.8h-1.8zM397.5 824.3h1.8v1.8h-1.8zM408.5 804.5h1.8v1.8h-1.8zM435.8 832.7h1.8v1.8h-1.8zM460.3 799.4h1.8v1.8h-1.8zM429.4 798.8h1.8v1.8h-1.8zM431.6 764.1h1.8v1.8h-1.8zM426.4 782.4h1.8v1.8h-1.8zM396.8 832.5h1.8v1.8h-1.8zM414.6 816.1h1.8v1.8h-1.8zM450.1 823.5h1.8v1.8h-1.8zM393.1 833.3h1.8v1.8h-1.8zM437.4 830.6h1.8v1.8h-1.8zM438.0 749.5h1.8v1.8h-1.8zM397.0 830.6h1.8v1.8h-1.8zM422.4 757.0h1.8v1.8h-1.8zM418.8 800.3h1.8v1.8h-1.8zM395.3 722.6h1.8v1.8h-1.8zM417.2 797.1h1.8v1.8h-1.8zM396.0 810.0h1.8v1.8h-1.8zM394.2 821.3h1.8v1.8h-1.8zM403.8 824.6h1.8v1.8h-1.8zM419.5 772.0h1.8v1.8h-1.8zM394.1 832.9h1.8v1.8h-1.8zM416.3 820.0h1.8v1.8h-1.8zM415.8 835.5h1.8v1.8h-1.8zM439.0 741.1h1.8v1.8h-1.8zM498.7 821.0h1.8v1.8h-1.8zM403.2 812.7h1.8v1.8h-1.8zM457.8 782.4h1.8v1.8h-1.8zM424.0 742.6h1.8v1.8h-1.8zM411.3 823.4h1.8v1.8h-1.8zM402.3 745.9h1.8v1.8h-1.8zM406.1 820.8h1.8v1.8h-1.8zM398.6 822.8h1.8v1.8h-1.8zM396.2 834.9h1.8v1.8h-1.8zM422.7 778.9h1.8v1.8h-1.8zM451.7 816.4h1.8v1.8h-1.8zM462.9 713.6h1.8v1.8h-1.8zM398.0 826.7h1.8v1.8h-1.8zM432.6 784.9h1.8v1.8h-1.8zM413.8 806.2h1.8v1.8h-1.8zM396.7 835.7h1.8v1.8h-1.8zM428.5 812.4h1.8v1.8h-1.8zM411.9 827.1h1.8v1.8h-1.8zM415.1 831.2h1.8v1.8h-1.8zM396.1 834.3h1.8v1.8h-1.8zM415.7 824.2h1.8v1.8h-1.8zM424.4 784.1h1.8v1.8h-1.8zM408.4 762.6h1.8v1.8h-1.8zM405.5 831.0h1.8v1.8h-1.8zM408.0 809.1h1.8v1.8h-1.8zM393.2 823.0h1.8v1.8h-1.8zM434.2 835.4h1.8v1.8h-1.8zM400.8 825.2h1.8v1.8h-1.8zM564.0 797.5h1.8v1.8h-1.8zM489.5 759.2h1.8v1.8h-1.8zM466.0 788.2h1.8v1.8h-1.8zM398.8 778.8h1.8v1.8h-1.8zM418.4 794.8h1.8v1.8h-1.8zM400.8 809.2h1.8v1.8h-1.8zM399.2 833.9h1.8v1.8h-1.8zM455.8 835.0h1.8v1.8h-1.8zM406.3 796.3h1.8v1.8h-1.8zM448.1 813.2h1.8v1.8h-1.8zM416.7 758.3h1.8v1.8h-1.8zM415.2 706.5h1.8v1.8h-1.8zM452.0 688.2h1.8v1.8h-1.8zM397.7 814.3h1.8v1.8h-1.8zM406.0 830.7h1.8v1.8h-1.8zM394.2 804.9h1.8v1.8h-1.8zM424.2 762.7h1.8v1.8h-1.8zM480.4 650.9h1.8v1.8h-1.8zM400.3 826.1h1.8v1.8h-1.8zM448.9 813.2h1.8v1.8h-1.8zM407.6 834.6h1.8v1.8h-1.8zM417.1 750.2h1.8v1.8h-1.8zM431.5 758.7h1.8v1.8h-1.8zM400.4 822.3h1.8v1.8h-1.8zM407.4 824.8h1.8v1.8h-1.8zM397.7 833.2h1.8v1.8h-1.8zM424.7 806.7h1.8v1.8h-1.8zM441.1 793.0h1.8v1.8h-1.8zM437.0 790.6h1.8v1.8h-1.8zM409.2 828.6h1.8v1.8h-1.8zM411.8 823.7h1.8v1.8h-1.8zM457.0 814.0h1.8v1.8h-1.8zM411.0 822.1h1.8v1.8h-1.8zM409.0 826.9h1.8v1.8h-1.8zM398.9 816.9h1.8v1.8h-1.8zM403.5 747.1h1.8v1.8h-1.8zM393.8 834.6h1.8v1.8h-1.8zM421.5 755.2h1.8v1.8h-1.8zM439.4 768.9h1.8v1.8h-1.8zM463.8 749.1h1.8v1.8h-1.8zM416.4 798.5h1.8v1.8h-1.8zM394.2 812.5h1.8v1.8h-1.8zM411.8 833.5h1.8v1.8h-1.8zM408.5 780.6h1.8v1.8h-1.8zM416.4 725.3h1.8v1.8h-1.8zM394.1 833.6h1.8v1.8h-1.8zM399.4 811.6h1.8v1.8h-1.8zM419.9 754.5h1.8v1.8h-1.8zM442.4 649.7h1.8v1.8h-1.8zM404.0 811.6h1.8v1.8h-1.8zM393.8 771.1h1.8v1.8h-1.8zM436.1 822.3h1.8v1.8h-1.8zM430.9 819.4h1.8v1.8h-1.8zM407.6 691.5h1.8v1.8h-1.8zM419.1 834.6h1.8v1.8h-1.8zM461.5 720.3h1.8v1.8h-1.8zM405.7 780.9h1.8v1.8h-1.8zM409.6 829.2h1.8v1.8h-1.8zM395.4 800.5h1.8v1.8h-1.8zM396.2 829.5h1.8v1.8h-1.8zM401.6 814.6h1.8v1.8h-1.8zM395.1 825.9h1.8v1.8h-1.8zM426.5 818.5h1.8v1.8h-1.8zM400.0 832.4h1.8v1.8h-1.8zM435.6 810.2h1.8v1.8h-1.8zM406.9 826.1h1.8v1.8h-1.8zM394.6 831.4h1.8v1.8h-1.8zM398.5 822.4h1.8v1.8h-1.8zM429.4 831.3h1.8v1.8h-1.8zM409.1 832.2h1.8v1.8h-1.8zM395.5 833.8h1.8v1.8h-1.8zM393.5 835.7h1.8v1.8h-1.8zM394.2 825.3h1.8v1.8h-1.8zM406.1 821.6h1.8v1.8h-1.8zM441.3 823.9h1.8v1.8h-1.8zM463.1 831.1h1.8v1.8h-1.8zM397.6 833.6h1.8v1.8h-1.8zM444.8 789.6h1.8v1.8h-1.8zM407.7 808.9h1.8v1.8h-1.8zM395.5 817.5h1.8v1.8h-1.8zM402.7 828.3h1.8v1.8h-1.8zM422.9 823.3h1.8v1.8h-1.8zM413.5 766.3h1.8v1.8h-1.8zM398.1 810.3h1.8v1.8h-1.8zM452.1 738.9h1.8v1.8h-1.8zM401.6 816.5h1.8v1.8h-1.8zM472.9 738.0h1.8v1.8h-1.8zM403.5 794.7h1.8v1.8h-1.8zM517.2 814.6h1.8v1.8h-1.8zM394.8 830.7h1.8v1.8h-1.8zM394.2 813.3h1.8v1.8h-1.8zM416.7 825.2h1.8v1.8h-1.8zM416.1 729.1h1.8v1.8h-1.8zM423.0 745.9h1.8v1.8h-1.8zM410.1 816.2h1.8v1.8h-1.8zM488.6 804.4h1.8v1.8h-1.8zM420.8 769.2h1.8v1.8h-1.8zM467.6 760.8h1.8v1.8h-1.8zM414.0 826.3h1.8v1.8h-1.8zM431.3 730.3h1.8v1.8h-1.8zM397.3 835.6h1.8v1.8h-1.8zM415.4 823.3h1.8v1.8h-1.8zM396.5 822.9h1.8v1.8h-1.8zM397.8 791.5h1.8v1.8h-1.8zM422.5 830.2h1.8v1.8h-1.8zM435.9 828.0h1.8v1.8h-1.8zM401.3 826.1h1.8v1.8h-1.8zM401.9 814.0h1.8v1.8h-1.8zM411.3 807.3h1.8v1.8h-1.8zM425.3 830.9h1.8v1.8h-1.8zM405.4 806.0h1.8v1.8h-1.8zM393.4 833.3h1.8v1.8h-1.8zM421.1 818.8h1.8v1.8h-1.8zM419.4 811.0h1.8v1.8h-1.8zM400.3 834.7h1.8v1.8h-1.8zM398.4 827.2h1.8v1.8h-1.8zM414.3 820.6h1.8v1.8h-1.8zM427.3 816.7h1.8v1.8h-1.8zM400.6 809.2h1.8v1.8h-1.8zM404.7 810.4h1.8v1.8h-1.8zM404.7 827.8h1.8v1.8h-1.8zM412.4 834.2h1.8v1.8h-1.8zM401.2 810.4h1.8v1.8h-1.8zM478.0 799.2h1.8v1.8h-1.8zM407.4 821.6h1.8v1.8h-1.8zM456.9 722.4h1.8v1.8h-1.8zM432.6 817.6h1.8v1.8h-1.8zM414.4 821.2h1.8v1.8h-1.8zM399.8 776.8h1.8v1.8h-1.8zM418.2 834.7h1.8v1.8h-1.8zM427.6 682.3h1.8v1.8h-1.8zM470.0 809.3h1.8v1.8h-1.8zM396.7 791.3h1.8v1.8h-1.8zM437.1 824.4h1.8v1.8h-1.8zM402.3 816.1h1.8v1.8h-1.8zM401.6 805.8h1.8v1.8h-1.8zM398.3 811.0h1.8v1.8h-1.8zM427.2 816.1h1.8v1.8h-1.8zM397.0 832.0h1.8v1.8h-1.8zM398.7 763.7h1.8v1.8h-1.8zM396.9 812.9h1.8v1.8h-1.8zM514.1 818.1h1.8v1.8h-1.8zM488.9 825.2h1.8v1.8h-1.8zM404.8 817.5h1.8v1.8h-1.8zM434.2 654.5h1.8v1.8h-1.8zM405.2 833.1h1.8v1.8h-1.8zM463.7 830.6h1.8v1.8h-1.8zM455.6 809.5h1.8v1.8h-1.8zM426.0 794.2h1.8v1.8h-1.8zM454.3 654.8h1.8v1.8h-1.8zM460.6 805.2h1.8v1.8h-1.8zM398.4 829.2h1.8v1.8h-1.8zM410.1 807.7h1.8v1.8h-1.8zM431.7 797.6h1.8v1.8h-1.8zM423.9 783.5h1.8v1.8h-1.8zM418.5 830.6h1.8v1.8h-1.8zM410.4 835.2h1.8v1.8h-1.8zM424.6 797.8h1.8v1.8h-1.8zM436.5 829.7h1.8v1.8h-1.8zM437.2 775.9h1.8v1.8h-1.8zM446.4 830.6h1.8v1.8h-1.8zM398.2 824.0h1.8v1.8h-1.8zM428.0 800.1h1.8v1.8h-1.8zM410.6 835.3h1.8v1.8h-1.8zM441.9 799.0h1.8v1.8h-1.8zM396.7 835.0h1.8v1.8h-1.8zM395.3 824.1h1.8v1.8h-1.8zM399.4 835.2h1.8v1.8h-1.8zM395.8 815.2h1.8v1.8h-1.8zM395.0 825.6h1.8v1.8h-1.8zM410.1 659.5h1.8v1.8h-1.8zM412.6 785.6h1.8v1.8h-1.8zM411.0 789.5h1.8v1.8h-1.8zM405.8 812.5h1.8v1.8h-1.8zM407.8 795.1h1.8v1.8h-1.8zM396.3 831.4h1.8v1.8h-1.8zM407.6 835.8h1.8v1.8h-1.8zM446.1 693.0h1.8v1.8h-1.8zM408.5 771.5h1.8v1.8h-1.8zM420.0 829.2h1.8v1.8h-1.8zM393.6 818.8h1.8v1.8h-1.8zM414.7 756.0h1.8v1.8h-1.8zM414.5 831.6h1.8v1.8h-1.8zM400.8 813.7h1.8v1.8h-1.8zM409.0 703.8h1.8v1.8h-1.8zM397.8 800.7h1.8v1.8h-1.8zM417.6 799.5h1.8v1.8h-1.8zM395.6 818.5h1.8v1.8h-1.8zM397.9 825.6h1.8v1.8h-1.8zM402.0 812.5h1.8v1.8h-1.8zM403.4 812.8h1.8v1.8h-1.8zM454.7 787.2h1.8v1.8h-1.8zM406.4 826.6h1.8v1.8h-1.8zM446.9 785.4h1.8v1.8h-1.8zM484.2 784.1h1.8v1.8h-1.8zM428.9 736.1h1.8v1.8h-1.8zM394.7 835.2h1.8v1.8h-1.8zM394.3 834.4h1.8v1.8h-1.8zM477.9 775.2h1.8v1.8h-1.8zM398.9 823.7h1.8v1.8h-1.8zM427.9 820.3h1.8v1.8h-1.8zM401.3 797.9h1.8v1.8h-1.8zM439.9 807.2h1.8v1.8h-1.8zM400.8 826.0h1.8v1.8h-1.8zM420.1 834.3h1.8v1.8h-1.8zM396.1 799.1h1.8v1.8h-1.8zM405.8 795.2h1.8v1.8h-1.8zM408.1 781.1h1.8v1.8h-1.8zM457.3 770.4h1.8v1.8h-1.8zM415.5 829.7h1.8v1.8h-1.8zM394.0 831.0h1.8v1.8h-1.8zM421.9 835.5h1.8v1.8h-1.8zM397.1 835.1h1.8v1.8h-1.8zM417.2 788.7h1.8v1.8h-1.8zM415.4 813.0h1.8v1.8h-1.8zM408.0 802.0h1.8v1.8h-1.8zM402.0 835.9h1.8v1.8h-1.8zM427.0 806.8h1.8v1.8h-1.8zM395.2 810.9h1.8v1.8h-1.8zM396.5 831.7h1.8v1.8h-1.8zM425.8 776.0h1.8v1.8h-1.8zM436.4 741.4h1.8v1.8h-1.8zM406.5 799.5h1.8v1.8h-1.8zM429.2 761.1h1.8v1.8h-1.8zM440.2 804.9h1.8v1.8h-1.8zM395.7 835.9h1.8v1.8h-1.8zM465.8 828.8h1.8v1.8h-1.8zM405.0 799.9h1.8v1.8h-1.8zM402.6 819.8h1.8v1.8h-1.8zM407.1 809.0h1.8v1.8h-1.8zM441.8 819.3h1.8v1.8h-1.8zM401.1 828.4h1.8v1.8h-1.8zM405.4 832.5h1.8v1.8h-1.8zM395.8 834.1h1.8v1.8h-1.8zM420.2 835.2h1.8v1.8h-1.8zM399.9 776.8h1.8v1.8h-1.8zM400.0 814.3h1.8v1.8h-1.8zM405.9 788.4h1.8v1.8h-1.8zM403.6 827.1h1.8v1.8h-1.8zM398.2 813.6h1.8v1.8h-1.8zM406.1 785.1h1.8v1.8h-1.8zM393.8 834.4h1.8v1.8h-1.8zM413.5 801.1h1.8v1.8h-1.8zM397.6 819.7h1.8v1.8h-1.8zM398.1 825.8h1.8v1.8h-1.8zM420.4 790.8h1.8v1.8h-1.8zM514.8 828.0h1.8v1.8h-1.8zM398.5 835.7h1.8v1.8h-1.8zM471.8 820.6h1.8v1.8h-1.8zM421.1 814.4h1.8v1.8h-1.8zM398.4 832.2h1.8v1.8h-1.8zM397.6 825.8h1.8v1.8h-1.8zM440.7 796.2h1.8v1.8h-1.8zM472.9 789.7h1.8v1.8h-1.8zM429.6 783.7h1.8v1.8h-1.8zM420.4 833.1h1.8v1.8h-1.8zM420.9 824.6h1.8v1.8h-1.8zM432.4 742.9h1.8v1.8h-1.8zM430.6 824.2h1.8v1.8h-1.8zM474.6 760.2h1.8v1.8h-1.8zM459.6 834.1h1.8v1.8h-1.8zM444.8 808.2h1.8v1.8h-1.8zM393.5 819.5h1.8v1.8h-1.8zM400.1 805.6h1.8v1.8h-1.8zM446.3 781.8h1.8v1.8h-1.8zM416.4 822.7h1.8v1.8h-1.8zM396.5 816.4h1.8v1.8h-1.8zM416.4 812.6h1.8v1.8h-1.8zM431.4 797.7h1.8v1.8h-1.8zM397.0 814.9h1.8v1.8h-1.8zM395.3 834.8h1.8v1.8h-1.8zM435.1 819.2h1.8v1.8h-1.8zM454.4 682.3h1.8v1.8h-1.8zM416.0 820.9h1.8v1.8h-1.8zM415.2 834.2h1.8v1.8h-1.8zM401.2 828.6h1.8v1.8h-1.8zM433.0 814.8h1.8v1.8h-1.8zM405.8 795.8h1.8v1.8h-1.8zM409.5 829.2h1.8v1.8h-1.8zM405.1 814.6h1.8v1.8h-1.8zM414.4 792.2h1.8v1.8h-1.8zM407.9 811.3h1.8v1.8h-1.8zM443.1 822.4h1.8v1.8h-1.8zM439.6 781.3h1.8v1.8h-1.8zM406.6 655.7h1.8v1.8h-1.8zM414.9 811.9h1.8v1.8h-1.8zM431.6 830.6h1.8v1.8h-1.8zM443.2 721.6h1.8v1.8h-1.8zM449.6 821.6h1.8v1.8h-1.8zM485.2 835.7h1.8v1.8h-1.8zM562.2 704.7h1.8v1.8h-1.8zM530.2 811.2h1.8v1.8h-1.8zM405.7 819.8h1.8v1.8h-1.8zM440.8 818.0h1.8v1.8h-1.8zM430.2 817.4h1.8v1.8h-1.8zM460.6 770.3h1.8v1.8h-1.8zM475.4 825.1h1.8v1.8h-1.8zM538.9 785.6h1.8v1.8h-1.8zM449.1 764.6h1.8v1.8h-1.8zM476.9 823.4h1.8v1.8h-1.8zM458.0 668.5h1.8v1.8h-1.8zM488.3 828.6h1.8v1.8h-1.8zM411.2 820.0h1.8v1.8h-1.8zM417.3 757.5h1.8v1.8h-1.8zM423.3 755.5h1.8v1.8h-1.8zM447.4 833.5h1.8v1.8h-1.8zM431.7 835.7h1.8v1.8h-1.8zM430.3 822.4h1.8v1.8h-1.8zM525.3 798.9h1.8v1.8h-1.8zM408.2 835.2h1.8v1.8h-1.8zM489.9 818.5h1.8v1.8h-1.8zM453.2 822.7h1.8v1.8h-1.8zM476.6 711.8h1.8v1.8h-1.8zM443.4 806.2h1.8v1.8h-1.8zM467.1 822.2h1.8v1.8h-1.8zM568.1 811.6h1.8v1.8h-1.8zM440.0 684.2h1.8v1.8h-1.8zM445.7 740.0h1.8v1.8h-1.8zM447.1 727.1h1.8v1.8h-1.8zM417.4 816.4h1.8v1.8h-1.8zM516.8 835.3h1.8v1.8h-1.8zM433.2 693.1h1.8v1.8h-1.8zM486.8 786.6h1.8v1.8h-1.8zM417.4 807.5h1.8v1.8h-1.8zM455.0 819.2h1.8v1.8h-1.8zM475.2 831.5h1.8v1.8h-1.8zM495.5 803.9h1.8v1.8h-1.8zM415.6 793.9h1.8v1.8h-1.8zM496.7 829.9h1.8v1.8h-1.8zM406.2 796.8h1.8v1.8h-1.8zM429.2 814.3h1.8v1.8h-1.8zM534.3 771.7h1.8v1.8h-1.8zM450.4 814.5h1.8v1.8h-1.8zM523.4 832.6h1.8v1.8h-1.8zM507.0 782.9h1.8v1.8h-1.8zM409.6 801.7h1.8v1.8h-1.8zM414.7 800.2h1.8v1.8h-1.8zM532.4 811.4h1.8v1.8h-1.8zM451.4 778.9h1.8v1.8h-1.8zM462.9 818.2h1.8v1.8h-1.8zM488.0 741.8h1.8v1.8h-1.8zM439.7 774.3h1.8v1.8h-1.8zM530.3 768.9h1.8v1.8h-1.8zM522.5 830.5h1.8v1.8h-1.8zM450.2 760.6h1.8v1.8h-1.8zM465.5 774.5h1.8v1.8h-1.8zM411.6 810.0h1.8v1.8h-1.8zM506.8 814.4h1.8v1.8h-1.8zM403.8 834.1h1.8v1.8h-1.8zM394.3 832.5h1.8v1.8h-1.8zM432.0 760.5h1.8v1.8h-1.8zM580.0 760.7h1.8v1.8h-1.8zM414.3 790.6h1.8v1.8h-1.8zM437.7 769.3h1.8v1.8h-1.8zM460.2 810.0h1.8v1.8h-1.8zM531.8 800.9h1.8v1.8h-1.8zM435.8 772.2h1.8v1.8h-1.8zM464.1 776.9h1.8v1.8h-1.8zM455.7 797.0h1.8v1.8h-1.8zM419.1 778.6h1.8v1.8h-1.8zM465.6 825.9h1.8v1.8h-1.8zM423.2 789.4h1.8v1.8h-1.8zM464.5 831.5h1.8v1.8h-1.8zM532.1 809.8h1.8v1.8h-1.8zM495.6 822.7h1.8v1.8h-1.8zM434.7 794.2h1.8v1.8h-1.8zM427.8 819.1h1.8v1.8h-1.8zM452.3 775.2h1.8v1.8h-1.8zM427.0 797.8h1.8v1.8h-1.8zM400.5 828.4h1.8v1.8h-1.8zM438.0 743.0h1.8v1.8h-1.8zM403.4 813.2h1.8v1.8h-1.8zM533.1 832.1h1.8v1.8h-1.8zM484.2 823.2h1.8v1.8h-1.8zM476.2 776.5h1.8v1.8h-1.8zM449.3 814.8h1.8v1.8h-1.8zM423.8 825.3h1.8v1.8h-1.8zM516.7 800.6h1.8v1.8h-1.8zM443.5 777.2h1.8v1.8h-1.8zM494.8 830.2h1.8v1.8h-1.8zM452.2 831.9h1.8v1.8h-1.8zM474.7 795.0h1.8v1.8h-1.8zM464.6 788.3h1.8v1.8h-1.8zM415.8 807.6h1.8v1.8h-1.8zM415.8 675.8h1.8v1.8h-1.8zM453.9 713.2h1.8v1.8h-1.8zM410.8 721.5h1.8v1.8h-1.8zM432.1 832.0h1.8v1.8h-1.8zM438.3 782.8h1.8v1.8h-1.8zM460.5 787.8h1.8v1.8h-1.8zM442.1 834.4h1.8v1.8h-1.8zM504.8 817.1h1.8v1.8h-1.8zM448.3 823.5h1.8v1.8h-1.8zM406.4 805.2h1.8v1.8h-1.8zM428.1 822.8h1.8v1.8h-1.8zM405.3 835.0h1.8v1.8h-1.8zM464.7 834.2h1.8v1.8h-1.8zM551.1 795.3h1.8v1.8h-1.8zM434.7 820.7h1.8v1.8h-1.8zM480.9 783.4h1.8v1.8h-1.8zM532.2 783.6h1.8v1.8h-1.8zM440.0 755.3h1.8v1.8h-1.8zM503.0 831.4h1.8v1.8h-1.8zM505.9 699.1h1.8v1.8h-1.8zM487.3 787.8h1.8v1.8h-1.8zM488.1 804.5h1.8v1.8h-1.8zM470.8 806.5h1.8v1.8h-1.8zM404.6 832.9h1.8v1.8h-1.8zM412.2 830.0h1.8v1.8h-1.8zM429.2 797.8h1.8v1.8h-1.8zM425.1 767.3h1.8v1.8h-1.8zM510.0 717.8h1.8v1.8h-1.8zM493.0 722.8h1.8v1.8h-1.8zM457.1 788.1h1.8v1.8h-1.8zM482.2 816.4h1.8v1.8h-1.8zM443.6 794.0h1.8v1.8h-1.8zM437.5 827.5h1.8v1.8h-1.8zM431.5 660.2h1.8v1.8h-1.8zM444.1 758.7h1.8v1.8h-1.8zM418.4 749.0h1.8v1.8h-1.8zM438.2 670.3h1.8v1.8h-1.8zM517.4 784.6h1.8v1.8h-1.8zM398.7 816.9h1.8v1.8h-1.8zM432.2 789.8h1.8v1.8h-1.8zM481.6 827.2h1.8v1.8h-1.8zM456.2 808.1h1.8v1.8h-1.8zM427.1 832.1h1.8v1.8h-1.8zM431.9 805.4h1.8v1.8h-1.8zM554.3 824.9h1.8v1.8h-1.8zM521.3 833.8h1.8v1.8h-1.8zM514.7 823.5h1.8v1.8h-1.8zM506.2 819.1h1.8v1.8h-1.8zM458.4 813.6h1.8v1.8h-1.8zM434.8 810.8h1.8v1.8h-1.8zM396.9 820.7h1.8v1.8h-1.8zM427.3 746.2h1.8v1.8h-1.8zM403.8 819.9h1.8v1.8h-1.8zM469.4 738.2h1.8v1.8h-1.8zM537.4 775.2h1.8v1.8h-1.8zM512.2 747.1h1.8v1.8h-1.8zM409.1 832.2h1.8v1.8h-1.8zM402.2 826.7h1.8v1.8h-1.8zM442.9 818.4h1.8v1.8h-1.8zM460.7 818.8h1.8v1.8h-1.8zM429.0 833.0h1.8v1.8h-1.8zM466.3 703.5h1.8v1.8h-1.8zM423.4 806.0h1.8v1.8h-1.8zM462.3 816.4h1.8v1.8h-1.8zM519.6 639.0h1.8v1.8h-1.8zM459.2 830.7h1.8v1.8h-1.8zM452.5 833.6h1.8v1.8h-1.8zM440.4 814.9h1.8v1.8h-1.8zM510.4 773.1h1.8v1.8h-1.8zM424.4 769.8h1.8v1.8h-1.8zM449.5 817.9h1.8v1.8h-1.8zM430.7 821.3h1.8v1.8h-1.8zM436.8 735.7h1.8v1.8h-1.8zM443.6 816.8h1.8v1.8h-1.8zM402.7 833.6h1.8v1.8h-1.8zM482.4 760.0h1.8v1.8h-1.8zM539.9 832.4h1.8v1.8h-1.8zM548.6 774.0h1.8v1.8h-1.8zM565.7 817.0h1.8v1.8h-1.8zM398.7 817.1h1.8v1.8h-1.8zM442.0 762.8h1.8v1.8h-1.8zM482.5 830.0h1.8v1.8h-1.8zM439.8 827.0h1.8v1.8h-1.8zM453.0 820.1h1.8v1.8h-1.8zM417.6 826.5h1.8v1.8h-1.8zM515.3 818.5h1.8v1.8h-1.8zM415.5 768.2h1.8v1.8h-1.8zM454.1 804.2h1.8v1.8h-1.8zM609.5 824.2h1.8v1.8h-1.8zM461.0 813.8h1.8v1.8h-1.8zM438.6 776.2h1.8v1.8h-1.8zM519.9 801.1h1.8v1.8h-1.8zM498.8 772.0h1.8v1.8h-1.8zM445.8 755.7h1.8v1.8h-1.8zM473.2 831.5h1.8v1.8h-1.8zM556.5 779.4h1.8v1.8h-1.8zM434.8 819.8h1.8v1.8h-1.8zM479.6 833.4h1.8v1.8h-1.8zM427.3 819.9h1.8v1.8h-1.8zM404.9 796.1h1.8v1.8h-1.8zM472.3 814.1h1.8v1.8h-1.8zM417.8 831.2h1.8v1.8h-1.8zM442.6 822.8h1.8v1.8h-1.8zM506.9 829.6h1.8v1.8h-1.8zM418.4 830.4h1.8v1.8h-1.8zM444.3 817.3h1.8v1.8h-1.8zM440.3 831.8h1.8v1.8h-1.8zM411.1 730.3h1.8v1.8h-1.8zM450.3 818.4h1.8v1.8h-1.8zM479.7 737.8h1.8v1.8h-1.8zM406.0 832.1h1.8v1.8h-1.8zM433.2 804.3h1.8v1.8h-1.8zM466.4 761.0h1.8v1.8h-1.8zM479.6 757.9h1.8v1.8h-1.8zM464.0 747.0h1.8v1.8h-1.8zM612.2 827.1h1.8v1.8h-1.8zM489.6 771.7h1.8v1.8h-1.8zM495.7 813.8h1.8v1.8h-1.8zM435.2 763.5h1.8v1.8h-1.8zM475.6 722.6h1.8v1.8h-1.8zM497.9 813.9h1.8v1.8h-1.8zM454.6 773.0h1.8v1.8h-1.8zM436.4 832.9h1.8v1.8h-1.8zM523.9 834.6h1.8v1.8h-1.8zM432.3 750.8h1.8v1.8h-1.8zM422.0 722.2h1.8v1.8h-1.8zM462.1 771.1h1.8v1.8h-1.8zM476.3 731.9h1.8v1.8h-1.8zM445.9 805.3h1.8v1.8h-1.8zM427.3 829.5h1.8v1.8h-1.8zM471.2 787.8h1.8v1.8h-1.8zM434.3 791.7h1.8v1.8h-1.8zM432.4 731.4h1.8v1.8h-1.8zM437.9 822.1h1.8v1.8h-1.8zM405.8 680.8h1.8v1.8h-1.8zM421.2 796.1h1.8v1.8h-1.8zM413.0 835.3h1.8v1.8h-1.8zM486.7 786.0h1.8v1.8h-1.8zM477.0 793.8h1.8v1.8h-1.8zM403.6 830.2h1.8v1.8h-1.8zM417.5 790.9h1.8v1.8h-1.8zM446.1 835.5h1.8v1.8h-1.8zM568.3 695.8h1.8v1.8h-1.8zM454.7 786.5h1.8v1.8h-1.8zM439.9 831.1h1.8v1.8h-1.8zM497.1 832.0h1.8v1.8h-1.8zM453.5 756.6h1.8v1.8h-1.8zM436.6 637.2h1.8v1.8h-1.8zM403.9 783.8h1.8v1.8h-1.8zM496.7 807.0h1.8v1.8h-1.8zM537.9 770.1h1.8v1.8h-1.8zM452.9 787.1h1.8v1.8h-1.8zM467.4 785.7h1.8v1.8h-1.8zM420.4 818.3h1.8v1.8h-1.8zM488.5 816.3h1.8v1.8h-1.8zM441.2 811.7h1.8v1.8h-1.8zM428.2 748.6h1.8v1.8h-1.8zM545.0 826.4h1.8v1.8h-1.8zM475.3 822.8h1.8v1.8h-1.8zM509.8 735.8h1.8v1.8h-1.8zM473.6 742.5h1.8v1.8h-1.8zM412.8 826.5h1.8v1.8h-1.8zM402.3 794.0h1.8v1.8h-1.8zM421.3 826.5h1.8v1.8h-1.8zM477.2 773.6h1.8v1.8h-1.8zM438.4 808.6h1.8v1.8h-1.8zM441.2 804.7h1.8v1.8h-1.8zM457.4 809.6h1.8v1.8h-1.8zM432.7 731.3h1.8v1.8h-1.8zM430.7 806.3h1.8v1.8h-1.8zM434.1 828.2h1.8v1.8h-1.8zM440.8 823.7h1.8v1.8h-1.8zM412.2 759.5h1.8v1.8h-1.8zM475.3 772.8h1.8v1.8h-1.8zM444.3 812.5h1.8v1.8h-1.8zM454.3 781.6h1.8v1.8h-1.8zM429.0 782.3h1.8v1.8h-1.8zM498.5 802.2h1.8v1.8h-1.8zM404.2 814.5h1.8v1.8h-1.8zM432.5 686.3h1.8v1.8h-1.8zM502.2 767.1h1.8v1.8h-1.8zM461.2 817.0h1.8v1.8h-1.8zM458.5 793.7h1.8v1.8h-1.8zM415.3 824.1h1.8v1.8h-1.8zM410.7 834.7h1.8v1.8h-1.8zM455.7 813.5h1.8v1.8h-1.8zM450.7 808.2h1.8v1.8h-1.8zM520.5 782.3h1.8v1.8h-1.8zM424.4 826.3h1.8v1.8h-1.8zM435.4 816.5h1.8v1.8h-1.8zM430.8 822.5h1.8v1.8h-1.8zM429.5 798.5h1.8v1.8h-1.8zM441.1 736.4h1.8v1.8h-1.8zM451.9 787.7h1.8v1.8h-1.8zM447.2 767.0h1.8v1.8h-1.8zM471.2 747.5h1.8v1.8h-1.8zM527.1 816.2h1.8v1.8h-1.8zM447.7 752.3h1.8v1.8h-1.8zM431.4 793.7h1.8v1.8h-1.8zM528.8 810.7h1.8v1.8h-1.8zM432.0 833.2h1.8v1.8h-1.8zM441.7 823.7h1.8v1.8h-1.8zM442.0 661.3h1.8v1.8h-1.8zM456.9 817.5h1.8v1.8h-1.8zM535.1 827.3h1.8v1.8h-1.8zM558.9 829.7h1.8v1.8h-1.8zM485.3 804.3h1.8v1.8h-1.8zM438.4 822.0h1.8v1.8h-1.8zM555.3 794.4h1.8v1.8h-1.8zM422.3 793.1h1.8v1.8h-1.8zM453.9 780.1h1.8v1.8h-1.8zM561.4 752.5h1.8v1.8h-1.8zM462.4 679.5h1.8v1.8h-1.8zM409.8 767.2h1.8v1.8h-1.8zM457.2 682.3h1.8v1.8h-1.8zM462.4 802.5h1.8v1.8h-1.8zM500.1 798.4h1.8v1.8h-1.8zM410.2 770.5h1.8v1.8h-1.8zM548.9 757.7h1.8v1.8h-1.8zM416.0 835.1h1.8v1.8h-1.8zM496.7 810.3h1.8v1.8h-1.8zM414.7 794.8h1.8v1.8h-1.8zM422.6 802.9h1.8v1.8h-1.8zM465.0 820.2h1.8v1.8h-1.8zM425.2 823.2h1.8v1.8h-1.8zM443.7 803.8h1.8v1.8h-1.8zM514.1 835.1h1.8v1.8h-1.8zM441.9 826.8h1.8v1.8h-1.8zM415.9 821.8h1.8v1.8h-1.8zM508.4 752.2h1.8v1.8h-1.8zM442.9 635.4h1.8v1.8h-1.8zM403.2 789.8h1.8v1.8h-1.8zM463.9 760.1h1.8v1.8h-1.8zM456.8 819.2h1.8v1.8h-1.8zM420.9 825.4h1.8v1.8h-1.8zM456.4 767.9h1.8v1.8h-1.8zM450.7 828.5h1.8v1.8h-1.8zM445.7 693.6h1.8v1.8h-1.8zM440.6 767.3h1.8v1.8h-1.8zM405.1 798.5h1.8v1.8h-1.8zM473.1 769.7h1.8v1.8h-1.8zM456.9 797.3h1.8v1.8h-1.8zM415.8 802.6h1.8v1.8h-1.8zM468.7 826.1h1.8v1.8h-1.8zM542.9 832.0h1.8v1.8h-1.8zM413.8 781.1h1.8v1.8h-1.8zM469.8 639.7h1.8v1.8h-1.8zM398.5 829.8h1.8v1.8h-1.8zM446.6 797.8h1.8v1.8h-1.8zM533.4 775.9h1.8v1.8h-1.8zM414.6 779.5h1.8v1.8h-1.8zM413.0 823.1h1.8v1.8h-1.8zM467.7 817.7h1.8v1.8h-1.8zM461.8 826.5h1.8v1.8h-1.8zM428.8 809.2h1.8v1.8h-1.8zM479.4 753.6h1.8v1.8h-1.8zM422.9 813.9h1.8v1.8h-1.8zM478.5 758.8h1.8v1.8h-1.8zM541.2 828.7h1.8v1.8h-1.8zM414.0 833.9h1.8v1.8h-1.8zM516.9 746.9h1.8v1.8h-1.8zM530.2 746.8h1.8v1.8h-1.8zM435.4 828.3h1.8v1.8h-1.8zM519.0 816.8h1.8v1.8h-1.8zM437.2 809.1h1.8v1.8h-1.8zM483.1 828.4h1.8v1.8h-1.8zM576.9 791.7h1.8v1.8h-1.8zM472.1 817.9h1.8v1.8h-1.8zM475.2 751.7h1.8v1.8h-1.8zM420.9 828.0h1.8v1.8h-1.8zM409.9 835.6h1.8v1.8h-1.8zM437.3 831.7h1.8v1.8h-1.8zM432.7 828.4h1.8v1.8h-1.8zM469.1 740.1h1.8v1.8h-1.8zM399.1 825.9h1.8v1.8h-1.8zM481.7 758.4h1.8v1.8h-1.8zM419.7 831.9h1.8v1.8h-1.8zM421.1 823.8h1.8v1.8h-1.8zM561.5 829.0h1.8v1.8h-1.8zM420.1 787.9h1.8v1.8h-1.8zM414.5 775.5h1.8v1.8h-1.8zM561.2 829.9h1.8v1.8h-1.8zM410.9 823.4h1.8v1.8h-1.8zM490.2 819.8h1.8v1.8h-1.8zM492.6 825.3h1.8v1.8h-1.8zM422.8 773.6h1.8v1.8h-1.8zM498.1 828.0h1.8v1.8h-1.8zM418.9 808.8h1.8v1.8h-1.8zM435.8 759.6h1.8v1.8h-1.8zM503.3 790.9h1.8v1.8h-1.8zM497.8 797.9h1.8v1.8h-1.8zM454.7 822.1h1.8v1.8h-1.8zM449.5 830.0h1.8v1.8h-1.8zM402.8 835.4h1.8v1.8h-1.8zM447.6 825.4h1.8v1.8h-1.8zM463.0 718.3h1.8v1.8h-1.8zM427.2 788.1h1.8v1.8h-1.8zM413.8 776.4h1.8v1.8h-1.8zM543.7 792.1h1.8v1.8h-1.8zM463.9 801.8h1.8v1.8h-1.8zM461.6 818.0h1.8v1.8h-1.8zM403.0 826.8h1.8v1.8h-1.8zM518.0 835.3h1.8v1.8h-1.8zM460.8 828.2h1.8v1.8h-1.8zM434.7 741.0h1.8v1.8h-1.8zM418.4 802.7h1.8v1.8h-1.8zM456.4 833.2h1.8v1.8h-1.8zM440.9 799.8h1.8v1.8h-1.8zM479.4 748.6h1.8v1.8h-1.8zM478.7 835.3h1.8v1.8h-1.8zM508.5 791.0h1.8v1.8h-1.8zM441.7 649.6h1.8v1.8h-1.8zM538.9 834.1h1.8v1.8h-1.8zM416.8 834.0h1.8v1.8h-1.8zM450.4 718.9h1.8v1.8h-1.8zM425.2 809.5h1.8v1.8h-1.8zM426.2 818.8h1.8v1.8h-1.8zM438.5 823.6h1.8v1.8h-1.8zM547.0 803.1h1.8v1.8h-1.8zM399.4 806.4h1.8v1.8h-1.8zM418.5 819.3h1.8v1.8h-1.8zM427.9 746.9h1.8v1.8h-1.8zM451.1 786.6h1.8v1.8h-1.8zM496.9 801.7h1.8v1.8h-1.8zM480.9 759.0h1.8v1.8h-1.8zM432.3 753.1h1.8v1.8h-1.8zM422.9 778.9h1.8v1.8h-1.8zM415.8 819.9h1.8v1.8h-1.8zM532.3 831.3h1.8v1.8h-1.8zM519.0 785.5h1.8v1.8h-1.8zM419.2 821.2h1.8v1.8h-1.8zM562.1 829.2h1.8v1.8h-1.8zM490.6 828.5h1.8v1.8h-1.8zM454.6 829.4h1.8v1.8h-1.8zM447.9 752.5h1.8v1.8h-1.8zM457.5 835.4h1.8v1.8h-1.8zM528.6 833.4h1.8v1.8h-1.8zM403.3 781.0h1.8v1.8h-1.8zM498.6 787.6h1.8v1.8h-1.8zM477.8 811.8h1.8v1.8h-1.8zM453.6 807.7h1.8v1.8h-1.8zM423.9 722.2h1.8v1.8h-1.8zM456.4 775.8h1.8v1.8h-1.8zM423.0 716.3h1.8v1.8h-1.8zM438.6 770.5h1.8v1.8h-1.8zM405.6 787.6h1.8v1.8h-1.8zM445.7 788.3h1.8v1.8h-1.8zM398.1 765.7h1.8v1.8h-1.8zM446.5 797.9h1.8v1.8h-1.8zM410.8 776.8h1.8v1.8h-1.8zM437.1 787.4h1.8v1.8h-1.8zM443.5 757.2h1.8v1.8h-1.8zM477.5 834.4h1.8v1.8h-1.8zM424.4 828.6h1.8v1.8h-1.8zM412.4 714.0h1.8v1.8h-1.8zM433.8 819.8h1.8v1.8h-1.8zM486.7 829.4h1.8v1.8h-1.8zM489.5 834.3h1.8v1.8h-1.8zM510.5 795.4h1.8v1.8h-1.8zM503.0 817.7h1.8v1.8h-1.8zM488.1 832.4h1.8v1.8h-1.8zM410.8 750.3h1.8v1.8h-1.8zM585.5 770.0h1.8v1.8h-1.8zM471.1 812.1h1.8v1.8h-1.8zM431.7 810.2h1.8v1.8h-1.8zM413.3 757.1h1.8v1.8h-1.8zM447.2 822.2h1.8v1.8h-1.8zM410.1 808.7h1.8v1.8h-1.8zM435.7 801.5h1.8v1.8h-1.8zM493.0 808.0h1.8v1.8h-1.8zM469.0 832.7h1.8v1.8h-1.8zM498.2 820.8h1.8v1.8h-1.8zM393.8 831.1h1.8v1.8h-1.8zM474.1 819.9h1.8v1.8h-1.8zM525.9 802.2h1.8v1.8h-1.8zM454.3 811.3h1.8v1.8h-1.8zM464.6 812.6h1.8v1.8h-1.8zM430.2 792.5h1.8v1.8h-1.8zM459.4 818.3h1.8v1.8h-1.8zM485.4 814.8h1.8v1.8h-1.8zM420.4 765.1h1.8v1.8h-1.8zM451.8 805.2h1.8v1.8h-1.8zM455.0 669.9h1.8v1.8h-1.8zM430.6 824.3h1.8v1.8h-1.8zM423.7 781.4h1.8v1.8h-1.8zM586.6 803.2h1.8v1.8h-1.8zM451.1 757.4h1.8v1.8h-1.8zM414.4 813.1h1.8v1.8h-1.8zM457.4 804.7h1.8v1.8h-1.8zM469.1 798.0h1.8v1.8h-1.8zM485.0 778.7h1.8v1.8h-1.8zM516.8 794.0h1.8v1.8h-1.8zM448.0 816.2h1.8v1.8h-1.8zM521.1 822.3h1.8v1.8h-1.8zM509.2 775.9h1.8v1.8h-1.8zM490.0 829.6h1.8v1.8h-1.8zM442.5 741.3h1.8v1.8h-1.8zM563.5 799.7h1.8v1.8h-1.8zM432.3 822.9h1.8v1.8h-1.8zM439.3 784.3h1.8v1.8h-1.8zM441.8 795.9h1.8v1.8h-1.8zM458.8 789.4h1.8v1.8h-1.8zM514.9 764.3h1.8v1.8h-1.8zM467.4 561.3h1.8v1.8h-1.8zM434.4 825.5h1.8v1.8h-1.8zM504.7 821.6h1.8v1.8h-1.8zM427.6 811.7h1.8v1.8h-1.8zM433.2 759.0h1.8v1.8h-1.8zM461.1 804.6h1.8v1.8h-1.8zM474.2 726.7h1.8v1.8h-1.8zM438.5 672.4h1.8v1.8h-1.8zM426.6 790.5h1.8v1.8h-1.8zM420.9 820.6h1.8v1.8h-1.8zM439.6 814.3h1.8v1.8h-1.8zM444.9 824.8h1.8v1.8h-1.8zM433.3 806.3h1.8v1.8h-1.8zM443.9 787.7h1.8v1.8h-1.8zM436.0 811.0h1.8v1.8h-1.8zM464.7 794.3h1.8v1.8h-1.8zM612.6 806.3h1.8v1.8h-1.8zM442.0 785.1h1.8v1.8h-1.8zM409.4 783.0h1.8v1.8h-1.8zM483.7 774.8h1.8v1.8h-1.8zM536.0 787.1h1.8v1.8h-1.8zM437.6 824.3h1.8v1.8h-1.8zM514.6 781.9h1.8v1.8h-1.8zM434.6 802.7h1.8v1.8h-1.8zM438.3 662.3h1.8v1.8h-1.8zM402.9 796.0h1.8v1.8h-1.8zM424.9 737.9h1.8v1.8h-1.8zM505.5 822.7h1.8v1.8h-1.8zM562.7 824.0h1.8v1.8h-1.8zM578.1 816.2h1.8v1.8h-1.8zM429.5 826.2h1.8v1.8h-1.8zM414.6 813.2h1.8v1.8h-1.8zM438.9 788.2h1.8v1.8h-1.8zM427.4 831.9h1.8v1.8h-1.8zM433.6 776.9h1.8v1.8h-1.8zM460.6 701.1h1.8v1.8h-1.8zM412.6 801.4h1.8v1.8h-1.8zM421.5 798.7h1.8v1.8h-1.8zM472.4 753.9h1.8v1.8h-1.8zM474.0 799.0h1.8v1.8h-1.8zM473.3 828.8h1.8v1.8h-1.8zM409.1 819.1h1.8v1.8h-1.8zM459.4 773.3h1.8v1.8h-1.8zM509.8 798.3h1.8v1.8h-1.8zM440.6 798.4h1.8v1.8h-1.8zM417.1 760.2h1.8v1.8h-1.8zM433.6 812.3h1.8v1.8h-1.8zM514.4 828.7h1.8v1.8h-1.8zM505.8 831.3h1.8v1.8h-1.8zM417.7 793.6h1.8v1.8h-1.8zM423.2 790.7h1.8v1.8h-1.8zM462.4 797.8h1.8v1.8h-1.8zM523.3 818.8h1.8v1.8h-1.8zM534.9 749.4h1.8v1.8h-1.8zM396.8 774.3h1.8v1.8h-1.8zM442.8 706.5h1.8v1.8h-1.8zM430.0 692.6h1.8v1.8h-1.8zM456.6 784.4h1.8v1.8h-1.8zM571.6 820.6h1.8v1.8h-1.8zM462.2 796.6h1.8v1.8h-1.8zM422.0 831.0h1.8v1.8h-1.8zM555.9 823.7h1.8v1.8h-1.8zM509.2 786.9h1.8v1.8h-1.8zM466.5 814.2h1.8v1.8h-1.8zM487.6 707.9h1.8v1.8h-1.8zM441.2 693.4h1.8v1.8h-1.8zM462.2 823.7h1.8v1.8h-1.8zM411.9 826.3h1.8v1.8h-1.8zM521.7 699.0h1.8v1.8h-1.8zM466.5 822.5h1.8v1.8h-1.8zM427.1 815.0h1.8v1.8h-1.8zM538.0 815.8h1.8v1.8h-1.8zM528.9 814.8h1.8v1.8h-1.8zM520.9 791.7h1.8v1.8h-1.8zM458.7 825.0h1.8v1.8h-1.8zM484.4 821.5h1.8v1.8h-1.8zM417.7 808.3h1.8v1.8h-1.8zM432.8 828.0h1.8v1.8h-1.8zM418.3 816.0h1.8v1.8h-1.8zM491.9 689.4h1.8v1.8h-1.8zM432.7 811.5h1.8v1.8h-1.8zM460.1 778.8h1.8v1.8h-1.8zM438.7 756.3h1.8v1.8h-1.8zM460.9 832.5h1.8v1.8h-1.8zM428.5 792.6h1.8v1.8h-1.8zM427.2 744.0h1.8v1.8h-1.8zM415.7 812.9h1.8v1.8h-1.8zM454.4 789.8h1.8v1.8h-1.8zM476.9 825.4h1.8v1.8h-1.8zM408.3 818.8h1.8v1.8h-1.8zM506.0 714.7h1.8v1.8h-1.8zM543.0 827.7h1.8v1.8h-1.8zM422.7 833.3h1.8v1.8h-1.8zM439.0 818.0h1.8v1.8h-1.8zM418.2 826.2h1.8v1.8h-1.8zM513.0 789.7h1.8v1.8h-1.8zM569.9 822.6h1.8v1.8h-1.8zM461.7 787.9h1.8v1.8h-1.8zM400.4 830.3h1.8v1.8h-1.8zM538.4 765.7h1.8v1.8h-1.8zM403.3 818.8h1.8v1.8h-1.8zM470.6 802.0h1.8v1.8h-1.8zM464.1 833.4h1.8v1.8h-1.8zM443.3 827.5h1.8v1.8h-1.8zM436.0 718.6h1.8v1.8h-1.8zM422.1 782.1h1.8v1.8h-1.8zM433.1 827.3h1.8v1.8h-1.8zM500.7 826.0h1.8v1.8h-1.8zM469.1 805.2h1.8v1.8h-1.8zM435.5 784.0h1.8v1.8h-1.8zM419.9 774.3h1.8v1.8h-1.8zM417.1 809.5h1.8v1.8h-1.8zM432.3 807.0h1.8v1.8h-1.8zM481.5 795.3h1.8v1.8h-1.8zM474.5 825.8h1.8v1.8h-1.8zM459.7 658.6h1.8v1.8h-1.8zM432.7 829.4h1.8v1.8h-1.8zM427.5 822.9h1.8v1.8h-1.8zM445.0 651.3h1.8v1.8h-1.8zM480.7 803.6h1.8v1.8h-1.8zM408.5 834.1h1.8v1.8h-1.8zM413.5 779.5h1.8v1.8h-1.8zM454.5 813.5h1.8v1.8h-1.8zM410.1 705.9h1.8v1.8h-1.8zM497.3 692.4h1.8v1.8h-1.8zM505.7 805.8h1.8v1.8h-1.8zM432.7 825.9h1.8v1.8h-1.8zM480.1 728.7h1.8v1.8h-1.8zM415.4 804.1h1.8v1.8h-1.8zM412.1 808.8h1.8v1.8h-1.8zM453.9 816.6h1.8v1.8h-1.8zM536.7 823.8h1.8v1.8h-1.8zM502.5 763.7h1.8v1.8h-1.8zM469.7 721.9h1.8v1.8h-1.8zM458.3 721.6h1.8v1.8h-1.8zM416.5 833.4h1.8v1.8h-1.8zM455.7 820.7h1.8v1.8h-1.8zM440.5 826.4h1.8v1.8h-1.8zM474.4 767.0h1.8v1.8h-1.8zM410.0 813.5h1.8v1.8h-1.8zM437.4 710.0h1.8v1.8h-1.8zM403.0 808.6h1.8v1.8h-1.8zM506.2 800.3h1.8v1.8h-1.8zM401.6 816.9h1.8v1.8h-1.8zM588.1 762.3h1.8v1.8h-1.8zM516.4 739.4h1.8v1.8h-1.8zM432.0 805.0h1.8v1.8h-1.8zM460.3 802.4h1.8v1.8h-1.8zM587.6 821.1h1.8v1.8h-1.8zM398.4 800.8h1.8v1.8h-1.8zM473.1 801.6h1.8v1.8h-1.8zM548.6 834.5h1.8v1.8h-1.8zM480.8 784.9h1.8v1.8h-1.8zM467.0 827.2h1.8v1.8h-1.8zM442.8 833.9h1.8v1.8h-1.8zM421.1 833.5h1.8v1.8h-1.8zM442.3 802.7h1.8v1.8h-1.8zM448.2 769.2h1.8v1.8h-1.8zM475.6 748.2h1.8v1.8h-1.8zM468.0 793.1h1.8v1.8h-1.8zM488.5 831.6h1.8v1.8h-1.8zM448.6 764.6h1.8v1.8h-1.8zM455.5 829.6h1.8v1.8h-1.8zM453.5 766.3h1.8v1.8h-1.8zM430.4 832.7h1.8v1.8h-1.8zM429.6 813.0h1.8v1.8h-1.8zM407.9 819.1h1.8v1.8h-1.8zM412.0 833.0h1.8v1.8h-1.8zM408.7 768.3h1.8v1.8h-1.8zM457.7 765.5h1.8v1.8h-1.8zM402.9 826.1h1.8v1.8h-1.8zM454.4 830.2h1.8v1.8h-1.8zM407.2 830.4h1.8v1.8h-1.8zM416.7 786.5h1.8v1.8h-1.8zM446.9 810.2h1.8v1.8h-1.8zM444.2 684.7h1.8v1.8h-1.8zM479.7 734.2h1.8v1.8h-1.8zM459.5 796.4h1.8v1.8h-1.8zM426.5 765.7h1.8v1.8h-1.8zM438.9 820.8h1.8v1.8h-1.8zM482.2 824.4h1.8v1.8h-1.8zM448.3 797.5h1.8v1.8h-1.8zM497.1 698.6h1.8v1.8h-1.8zM420.1 825.5h1.8v1.8h-1.8zM421.2 826.7h1.8v1.8h-1.8zM409.9 835.8h1.8v1.8h-1.8zM493.8 774.8h1.8v1.8h-1.8zM540.1 825.9h1.8v1.8h-1.8zM430.3 833.3h1.8v1.8h-1.8z" fill="#f42424" opacity="0.92"/>
<g stroke="#a0a0a0" stroke-width="1.6" stroke-dasharray="6 4" fill="none"><line x1="322" y1="476" x2="322" y2="849"/><line x1="394.2" y1="476" x2="394.2" y2="849"/><line x1="69" y1="838.3" x2="647" y2="838.3"/></g>
<line x1="68.2" y1="475.0" x2="68.2" y2="851.0" stroke="#000" stroke-width="2.8"/>
<line x1="60.0" y1="850.4" x2="649.5" y2="850.4" stroke="#000" stroke-width="2.6"/>
<line x1="60.0" y1="568.9" x2="68.0" y2="568.9" stroke="#000" stroke-width="2.4"/>
<text x="56.0" y="575.2" font-size="18" text-anchor="end">30</text>
<line x1="60.0" y1="662.4" x2="68.0" y2="662.4" stroke="#000" stroke-width="2.4"/>
<text x="56.0" y="668.7" font-size="18" text-anchor="end">20</text>
<line x1="60.0" y1="755.9" x2="68.0" y2="755.9" stroke="#000" stroke-width="2.4"/>
<text x="56.0" y="762.2" font-size="18" text-anchor="end">10</text>
<line x1="60.0" y1="849.4" x2="68.0" y2="849.4" stroke="#000" stroke-width="2.4"/>
<text x="56.0" y="855.7" font-size="18" text-anchor="end">0</text>
<line x1="104.2" y1="850.0" x2="104.2" y2="858.5" stroke="#000" stroke-width="2.6"/>
<line x1="188.8" y1="850.0" x2="188.8" y2="856.0" stroke="#000" stroke-width="1.8"/>
<line x1="273.4" y1="850.0" x2="273.4" y2="856.0" stroke="#000" stroke-width="1.8"/>
<line x1="358.0" y1="850.0" x2="358.0" y2="856.0" stroke="#000" stroke-width="1.8"/>
<line x1="442.6" y1="850.0" x2="442.6" y2="856.0" stroke="#000" stroke-width="1.8"/>
<line x1="527.2" y1="850.0" x2="527.2" y2="856.0" stroke="#000" stroke-width="1.8"/>
<line x1="611.8" y1="850.0" x2="611.8" y2="858.5" stroke="#000" stroke-width="2.6"/>
<text x="106.5" y="872.6" font-size="19" text-anchor="middle">-6</text>
<text x="189.5" y="872.6" font-size="19" text-anchor="middle">-4</text>
<text x="273.8" y="872.6" font-size="19" text-anchor="middle">-2</text>
<text x="357.6" y="872.6" font-size="19" text-anchor="middle">0</text>
<text x="435.8" y="872.6" font-size="19" text-anchor="middle">2</text>
<text x="511.4" y="872.6" font-size="19" text-anchor="middle">4</text>
<text x="595.8" y="872.6" font-size="19" text-anchor="middle">6</text>
<text x="0" y="0" font-size="22.5" transform="translate(20.3,651) rotate(-90)" text-anchor="middle">-Log<tspan font-size="13" dy="4">10</tspan><tspan dy="-4">P-value</tspan></text>
<text x="353.5" y="897" font-size="22" text-anchor="middle">Log<tspan font-size="14" dy="3.5">2</tspan><tspan dy="-3.5">FC (sh</tspan><tspan font-style="italic">DDX18</tspan>/sh<tspan font-style="italic">Luc</tspan>)</text>
<text x="197.5" y="505.4" font-size="22" text-anchor="middle" fill="#17a84f">789</text>
<text x="197.5" y="531.6" font-size="22" text-anchor="middle" fill="#17a84f">Downregulated Genes</text>
<text x="528.0" y="505.4" font-size="22" text-anchor="middle" fill="#c0121d">1903</text>
<text x="528.0" y="531.6" font-size="22" text-anchor="middle" fill="#c0121d">Upregulated Genes</text>
<line x1="270.6" y1="687.0" x2="283.8" y2="729.5" stroke="#000" stroke-width="1.7"/>
<line x1="145.8" y1="729.5" x2="178.8" y2="754.3" stroke="#000" stroke-width="1.7"/>
<line x1="253.0" y1="741.6" x2="297.6" y2="786.0" stroke="#000" stroke-width="1.7"/>
<line x1="184.3" y1="796.6" x2="309.0" y2="803.8" stroke="#000" stroke-width="1.7"/>
<line x1="222.8" y1="824.0" x2="297.0" y2="827.4" stroke="#000" stroke-width="1.7"/>
<ellipse cx="284.4" cy="730.6" rx="4.3999999999999995" ry="3.8" fill="#16894a"/>
<ellipse cx="179.9" cy="754.3" rx="4.3999999999999995" ry="3.8" fill="#16894a"/>
<ellipse cx="299" cy="787" rx="4.3999999999999995" ry="3.8" fill="#16894a"/>
<ellipse cx="309.7" cy="804" rx="4.3999999999999995" ry="3.8" fill="#16894a"/>
<ellipse cx="297" cy="828" rx="4.3999999999999995" ry="3.8" fill="#16894a"/>
<circle cx="274" cy="778" r="6.8" fill="#16894a"/>
<ellipse cx="520" cy="651" rx="4.3" ry="3.6" fill="#b40c0c"/>
<ellipse cx="474.7" cy="721.3" rx="4.3" ry="3.6" fill="#b40c0c"/>
<ellipse cx="456.5" cy="761.4" rx="4.3" ry="3.6" fill="#b40c0c"/>
<ellipse cx="487.9" cy="778" rx="4.3" ry="3.6" fill="#b40c0c"/>
<ellipse cx="444.4" cy="802" rx="4.3" ry="3.6" fill="#b40c0c"/>
<ellipse cx="500.5" cy="812" rx="4.3" ry="3.6" fill="#b40c0c"/>
<text x="492.0" y="643.5" font-size="21" font-style="italic">TGFB2</text>
<text x="224.4" y="683.5" font-size="21" font-style="italic">PRDM14</text>
<text x="113.9" y="726.5" font-size="21" font-style="italic">FGF4</text>
<text x="209.0" y="735.0" font-size="21" font-style="italic">SOX2</text>
<text x="103.4" y="804.5" font-size="21" font-style="italic">NANOG</text>
<text x="139.0" y="832.0" font-size="21" font-style="italic">POU5F1</text>
<text x="440.0" y="716.5" font-size="21" font-style="italic">GATA3</text>
<text x="422.4" y="756.0" font-size="21" font-style="italic">GATA4</text>
<text x="496.7" y="786.4" font-size="21" font-style="italic">CXCR4</text>
<text x="408.0" y="799.0" font-size="21" font-style="italic">SOX17</text>
<text x="519.8" y="822.0" font-size="21" font-style="italic">HOXA11</text>
<text x="185.4" y="781.1" font-size="23" font-weight="bold" font-style="italic">DDX18</text>
<rect x="995.6" y="467.3" width="181.9" height="174.7" fill="none" stroke="#000" stroke-width="1.6"/>
<rect x="995.6" y="478.2" width="49.4" height="14.2" fill="#03a84f" stroke="#000" stroke-width="1.3"/>
<text x="985.5" y="487.2" font-size="20.2" text-anchor="end">DNA repair</text>
<rect x="995.6" y="513" width="55.9" height="14.2" fill="#03a84f" stroke="#000" stroke-width="1.3"/>
<text x="985.5" y="522.0" font-size="20.2" text-anchor="end">rRNA processing</text>
<rect x="995.6" y="548.2" width="67.6" height="14.2" fill="#03a84f" stroke="#000" stroke-width="1.3"/>
<text x="985.5" y="557.2" font-size="20.2" text-anchor="end">Stem cell population maintenance</text>
<rect x="995.6" y="582.6" width="86.1" height="14.2" fill="#03a84f" stroke="#000" stroke-width="1.3"/>
<text x="985.5" y="592.1" font-size="20.2" text-anchor="end">Translational initiation</text>
<rect x="995.6" y="617.6" width="117.6" height="14.2" fill="#03a84f" stroke="#000" stroke-width="1.3"/>
<text x="985.5" y="627.6" font-size="20.2" text-anchor="end">Double-strand break repair</text>
<text x="976.8" y="658.5" font-size="20" text-anchor="end">-Log<tspan font-size="13" dy="2.2">10</tspan><tspan dy="-2.2">P value</tspan></text>
<text x="995.3" y="661.5" font-size="19.5" text-anchor="middle">0</text>
<text x="1177.5" y="661.5" font-size="19.5" text-anchor="middle">15</text>
<rect x="998.6" y="689.5" width="177.8" height="171.8" fill="none" stroke="#000" stroke-width="1.6"/>
<rect x="998.6" y="699.7" width="25.1" height="14.2" fill="#fb0808" stroke="#000" stroke-width="1.3"/>
<text x="983.5" y="711.7" font-size="20.2" text-anchor="end">Heart development</text>
<rect x="998.6" y="735" width="59.7" height="14.2" fill="#fb0808" stroke="#000" stroke-width="1.3"/>
<text x="983.5" y="747.0" font-size="20.2" text-anchor="end">Skeletal system development</text>
<rect x="998.6" y="769.75" width="79.0" height="14.2" fill="#fb0808" stroke="#000" stroke-width="1.3"/>
<text x="983.5" y="782.2" font-size="20.2" text-anchor="end">Palate development</text>
<rect x="998.6" y="804" width="121.4" height="14.2" fill="#fb0808" stroke="#000" stroke-width="1.3"/>
<text x="983.5" y="817.5" font-size="20.2" text-anchor="end">Post-embryonic development</text>
<rect x="998.6" y="838.8" width="122.7" height="14.2" fill="#fb0808" stroke="#000" stroke-width="1.3"/>
<text x="983.5" y="853.0" font-size="20.2" text-anchor="end">Mesodermal cell differentiation</text>
<text x="983" y="884" font-size="20" text-anchor="end">-Log<tspan font-size="13" dy="2.2">10</tspan><tspan dy="-2.2">P value</tspan></text>
<text x="998.3" y="885.5" font-size="19.5" text-anchor="middle">0</text>
<text x="1176.0" y="885.5" font-size="19.5" text-anchor="middle">20</text>
<text x="56.2" y="960.5" font-size="20.5">NES=-2.68</text>
<text x="56.2" y="984.4" font-size="20.5">p-value=0</text>
<text x="56.2" y="1008.3" font-size="20.5">FDR=0</text>
<text x="294.0" y="957.4" font-size="20.5">NES=-3.34</text>
<text x="294.0" y="981.3" font-size="20.5">p-value=0</text>
<text x="294.0" y="1005.2" font-size="20.5">FDR=0</text>
<text x="516.3" y="957.4" font-size="20.5">NES=2.02</text>
<text x="516.3" y="981.3" font-size="20.5">p-value=0</text>
<text x="516.3" y="1005.2" font-size="20.5">FDR=0.002</text>
<text x="122.7" y="1233.0" font-size="20.2" text-anchor="middle">Cytoplasmic translation</text>
<text x="361.4" y="1236.9" font-size="20.2" text-anchor="middle">Ribosome biogenesis</text>
<text x="581.4" y="1230.5" font-size="20.2" text-anchor="middle">Embryonic organ</text>
<text x="580.9" y="1253.7" font-size="20.2" text-anchor="middle">development</text>
<rect x="14.6" y="1020.8" width="217.0" height="186.70000000000005" fill="#efefef"/>
<rect x="41.6" y="1025.5" width="185.6" height="127.5" fill="#fff" stroke="#c9c9c9" stroke-width="0.8"/>
<rect x="41.6" y="1153" width="185.6" height="51.799999999999955" fill="#fff" stroke="#c9c9c9" stroke-width="0.8"/>
<path d="M63.6 1025.5V1153M86.6 1025.5V1153M109.6 1025.5V1153M132.6 1025.5V1153M155.6 1025.5V1153M178.6 1025.5V1153M201.6 1025.5V1153M224.6 1025.5V1153M41.6 1033.2H227.2M41.6 1053.0H227.2M41.6 1072.8H227.2M41.6 1092.6H227.2M41.6 1112.4H227.2M41.6 1132.2H227.2" stroke="#e2e2e2" stroke-width="0.7" stroke-dasharray="1.5 1.5" fill="none"/>
<line x1="41.6" y1="1033.2" x2="227.2" y2="1033.2" stroke="#9a9a9a" stroke-width="1"/>
<text x="39.1" y="1035.8" font-size="7.5" fill="#6a6a6a" text-anchor="end">0.0</text>
<text x="39.1" y="1055.6" font-size="7.5" fill="#6a6a6a" text-anchor="end">-0.1</text>
<text x="39.1" y="1075.4" font-size="7.5" fill="#6a6a6a" text-anchor="end">-0.2</text>
<text x="39.1" y="1095.2" font-size="7.5" fill="#6a6a6a" text-anchor="end">-0.3</text>
<text x="39.1" y="1115.0" font-size="7.5" fill="#6a6a6a" text-anchor="end">-0.4</text>
<text x="39.1" y="1134.8" font-size="7.5" fill="#6a6a6a" text-anchor="end">-0.5</text>
<text x="0" y="0" font-size="7.6" fill="#6a6a6a" font-weight="bold" text-anchor="middle" transform="translate(26.1,1089.2) rotate(-90)">Enrichment score (ES)</text>
<text x="0" y="0" font-size="7" fill="#6a6a6a" text-anchor="middle" transform="translate(25.6,1197.2) rotate(-90)">(oise)</text>
<path d="M45.5 1153V1193.5M61.4 1153V1193.5M97.2 1153V1193.5M108.7 1153V1193.5M151.8 1153V1193.5M169.1 1153V1193.5M171.0 1153V1193.5M174.8 1153V1193.5M186.3 1153V1193.5M187.4 1153V1193.5M188.5 1153V1193.5M190.5 1153V1193.5M191.7 1153V1193.5M194.5 1153V1193.5M196.2 1153V1193.5M198.3 1153V1193.5M204.2 1153V1193.5M206.7 1153V1193.5M211.3 1153V1193.5M213.2 1153V1193.5" stroke="#000" stroke-width="1" fill="none" opacity="0.95"/>
<path d="M60.2 1153V1193.5M92.4 1153V1193.5M109.7 1153V1193.5M110.6 1153V1193.5M118.3 1153V1193.5M141.3 1153V1193.5M170.1 1153V1193.5M172.0 1153V1193.5M173.9 1153V1193.5M178.7 1153V1193.5M195.1 1153V1193.5M200.8 1153V1193.5M201.7 1153V1193.5M203.1 1153V1193.5M209.4 1153V1193.5" stroke="#000" stroke-width="1" fill="none" opacity="0.65"/>
<path d="M80.9 1153V1193.5M90.5 1153V1193.5M133.6 1153V1193.5M172.9 1153V1193.5M177.7 1153V1193.5M197.3 1153V1193.5M205.7 1153V1193.5M212.4 1153V1193.5" stroke="#000" stroke-width="1" fill="none" opacity="0.35"/>
<path d="M117.3 1153V1193.5M120.2 1153V1193.5M124.1 1153V1193.5M149.0 1153V1193.5M162.4 1153V1193.5M166.2 1153V1193.5M180.6 1153V1193.5M205.0 1153V1193.5M215.1 1153V1193.5M218.0 1153V1193.5" stroke="#000" stroke-width="1" fill="none" opacity="0.5"/>
<path d="M136.5 1153V1193.5M149.9 1153V1193.5M153.8 1153V1193.5M154.7 1153V1193.5M158.6 1153V1193.5M183.5 1153V1193.5M189.8 1153V1193.5M193.1 1153V1193.5M199.8 1153V1193.5M207.1 1153V1193.5M208.2 1153V1193.5" stroke="#000" stroke-width="1" fill="none" opacity="0.8"/>
<rect x="187" y="1153" width="22" height="40.5" fill="#111" opacity="0.3"/>
<rect x="41.6" y="1194.2" width="176.4" height="9.599999999999909" fill="url(#cbg1)"/>
<polyline points="41.6,1032.6 45.5,1037.6 47.4,1030.7 51.2,1033.8 53.4,1036.8 55.5,1039.4 57.6,1042.3 59.8,1045.2 62.7,1042.8 64.7,1044.8 66.7,1048.3 68.8,1049.8 70.8,1052.5 72.8,1053.5 74.8,1056.4 76.9,1059.0 78.9,1060.4 80.9,1063.7 83.3,1066.0 85.7,1067.0 88.1,1069.4 90.5,1072.6 93.1,1075.1 95.6,1076.2 98.2,1077.8 100.5,1080.5 102.8,1082.1 105.1,1084.8 107.4,1087.4 109.7,1089.8 112.2,1091.9 114.8,1094.4 117.3,1097.0 119.5,1099.4 121.7,1101.2 123.9,1102.8 126.1,1106.2 128.3,1107.8 130.5,1110.0 132.7,1111.3 134.9,1115.0 137.1,1117.3 139.3,1118.6 141.4,1121.4 143.6,1124.4 145.8,1126.9 148.0,1129.7 150.6,1130.5 153.1,1132.7 155.7,1134.1 158.2,1135.4 160.8,1137.8 163.3,1140.2 166.2,1142.1 169.1,1143.4 171.7,1143.2 174.2,1142.1 176.8,1142.1 179.7,1144.4 182.5,1145.2 186.0,1145.4 187.3,1133.9 189.7,1131.3 192.1,1128.4 194.5,1121.2 196.9,1114.6 199.8,1095.5 201.7,1078.7 203.6,1066.8 207.4,1053.1 210.3,1051.4 213.2,1037.2 217.0,1038.3 218.0,1033.2" fill="none" stroke="#22e822" stroke-width="1.9" stroke-linejoin="round"/>
<rect x="14.6" y="1020.8" width="217.0" height="186.70000000000005" fill="none" stroke="#000" stroke-width="2"/>
<rect x="246.2" y="1020.8" width="217.60000000000002" height="183.70000000000005" fill="#efefef"/>
<rect x="273" y="1022.7" width="185.5" height="128.79999999999995" fill="#fff" stroke="#c9c9c9" stroke-width="0.8"/>
<rect x="273" y="1151.5" width="185.5" height="52.700000000000045" fill="#fff" stroke="#c9c9c9" stroke-width="0.8"/>
<path d="M295.0 1022.7V1151.5M318.0 1022.7V1151.5M341.0 1022.7V1151.5M364.0 1022.7V1151.5M387.0 1022.7V1151.5M410.0 1022.7V1151.5M433.0 1022.7V1151.5M456.0 1022.7V1151.5M273 1028.0H458.5M273 1047.1H458.5M273 1066.2H458.5M273 1085.3H458.5M273 1104.4H458.5M273 1123.5H458.5M273 1142.6H458.5" stroke="#e2e2e2" stroke-width="0.7" stroke-dasharray="1.5 1.5" fill="none"/>
<line x1="273" y1="1028" x2="458.5" y2="1028" stroke="#9a9a9a" stroke-width="1"/>
<text x="270.5" y="1030.6" font-size="7.5" fill="#6a6a6a" text-anchor="end">0.0</text>
<text x="270.5" y="1049.7" font-size="7.5" fill="#6a6a6a" text-anchor="end">-0.1</text>
<text x="270.5" y="1068.8" font-size="7.5" fill="#6a6a6a" text-anchor="end">-0.2</text>
<text x="270.5" y="1087.9" font-size="7.5" fill="#6a6a6a" text-anchor="end">-0.3</text>
<text x="270.5" y="1107.0" font-size="7.5" fill="#6a6a6a" text-anchor="end">-0.4</text>
<text x="270.5" y="1126.1" font-size="7.5" fill="#6a6a6a" text-anchor="end">-0.5</text>
<text x="270.5" y="1145.2" font-size="7.5" fill="#6a6a6a" text-anchor="end">-0.6</text>
<text x="0" y="0" font-size="7.6" fill="#6a6a6a" font-weight="bold" text-anchor="middle" transform="translate(257.7,1087.1) rotate(-90)">Enrichment score (ES)</text>
<text x="0" y="0" font-size="7" fill="#6a6a6a" text-anchor="middle" transform="translate(257.2,1195.9) rotate(-90)">(oise)</text>
<path d="M279.3 1151.5V1192.3M322.8 1151.5V1192.3M329.1 1151.5V1192.3M330.1 1151.5V1192.3M344.5 1151.5V1192.3M346.4 1151.5V1192.3M356.7 1151.5V1192.3M359.7 1151.5V1192.3M363.7 1151.5V1192.3M365.0 1151.5V1192.3M374.6 1151.5V1192.3M378.9 1151.5V1192.3M382.3 1151.5V1192.3M384.0 1151.5V1192.3M391.1 1151.5V1192.3M392.6 1151.5V1192.3M399.5 1151.5V1192.3M400.3 1151.5V1192.3M403.7 1151.5V1192.3M407.4 1151.5V1192.3M410.0 1151.5V1192.3M416.8 1151.5V1192.3M422.0 1151.5V1192.3M422.7 1151.5V1192.3M424.1 1151.5V1192.3M425.2 1151.5V1192.3M428.8 1151.5V1192.3M432.5 1151.5V1192.3M434.7 1151.5V1192.3M438.4 1151.5V1192.3M440.8 1151.5V1192.3M443.5 1151.5V1192.3M445.4 1151.5V1192.3M447.9 1151.5V1192.3" stroke="#000" stroke-width="1" fill="none" opacity="0.5"/>
<path d="M287.0 1151.5V1192.3M290.2 1151.5V1192.3M321.5 1151.5V1192.3M325.3 1151.5V1192.3M339.7 1151.5V1192.3M353.7 1151.5V1192.3M369.4 1151.5V1192.3M370.9 1151.5V1192.3M380.6 1151.5V1192.3M381.2 1151.5V1192.3M385.6 1151.5V1192.3M388.1 1151.5V1192.3M388.9 1151.5V1192.3M395.1 1151.5V1192.3M398.8 1151.5V1192.3M404.6 1151.5V1192.3M404.8 1151.5V1192.3M408.3 1151.5V1192.3M416.0 1151.5V1192.3M418.0 1151.5V1192.3M419.1 1151.5V1192.3M421.5 1151.5V1192.3M426.9 1151.5V1192.3M430.1 1151.5V1192.3M439.8 1151.5V1192.3M447.3 1151.5V1192.3" stroke="#000" stroke-width="1" fill="none" opacity="0.95"/>
<path d="M304.8 1151.5V1192.3M338.7 1151.5V1192.3M352.8 1151.5V1192.3M354.7 1151.5V1192.3M373.6 1151.5V1192.3M376.0 1151.5V1192.3M377.5 1151.5V1192.3M385.2 1151.5V1192.3M397.6 1151.5V1192.3M401.1 1151.5V1192.3M410.3 1151.5V1192.3M412.4 1151.5V1192.3M423.6 1151.5V1192.3M429.8 1151.5V1192.3M435.3 1151.5V1192.3M436.5 1151.5V1192.3M438.7 1151.5V1192.3M439.3 1151.5V1192.3M444.5 1151.5V1192.3M449.0 1151.5V1192.3" stroke="#000" stroke-width="1" fill="none" opacity="0.8"/>
<path d="M320.1 1151.5V1192.3M343.5 1151.5V1192.3M358.0 1151.5V1192.3M360.4 1151.5V1192.3M372.2 1151.5V1192.3M374.2 1151.5V1192.3M384.6 1151.5V1192.3M386.1 1151.5V1192.3M387.5 1151.5V1192.3M402.0 1151.5V1192.3M408.7 1151.5V1192.3M409.1 1151.5V1192.3M411.6 1151.5V1192.3M412.1 1151.5V1192.3M412.7 1151.5V1192.3M419.9 1151.5V1192.3M420.7 1151.5V1192.3M426.0 1151.5V1192.3M431.6 1151.5V1192.3M437.6 1151.5V1192.3M440.5 1151.5V1192.3M443.0 1151.5V1192.3M446.1 1151.5V1192.3" stroke="#000" stroke-width="1" fill="none" opacity="0.65"/>
<path d="M352.1 1151.5V1192.3M361.8 1151.5V1192.3M371.8 1151.5V1192.3M381.8 1151.5V1192.3M386.6 1151.5V1192.3M390.5 1151.5V1192.3M393.9 1151.5V1192.3M396.2 1151.5V1192.3M405.6 1151.5V1192.3M406.6 1151.5V1192.3M410.9 1151.5V1192.3M413.9 1151.5V1192.3M414.8 1151.5V1192.3M427.9 1151.5V1192.3M429.3 1151.5V1192.3M430.4 1151.5V1192.3M433.7 1151.5V1192.3M441.8 1151.5V1192.3" stroke="#000" stroke-width="1" fill="none" opacity="0.35"/>
<rect x="410" y="1151.5" width="39" height="40.799999999999955" fill="#111" opacity="0.45"/>
<rect x="375" y="1151.5" width="35" height="40.799999999999955" fill="#111" opacity="0.15"/>
<rect x="273" y="1192.9" width="176.3" height="10.299999999999955" fill="url(#cbg2)"/>
<polyline points="273.0,1028.6 275.6,1031.2 278.3,1032.6 280.9,1034.6 283.4,1037.5 286.0,1039.3 288.9,1041.1 291.8,1042.5 294.1,1045.4 296.4,1047.9 298.7,1050.4 301.0,1052.3 303.3,1055.2 305.5,1057.3 307.7,1060.0 309.9,1062.5 312.0,1064.7 314.2,1066.3 316.4,1068.3 318.6,1070.3 321.0,1071.4 323.4,1072.8 325.8,1074.8 328.2,1076.0 330.6,1079.0 333.0,1082.6 335.4,1085.0 337.8,1087.9 340.2,1089.4 342.6,1091.0 344.9,1093.3 347.3,1095.0 349.5,1097.9 351.6,1101.0 353.8,1102.9 356.0,1104.7 358.1,1108.1 360.3,1110.3 362.4,1112.6 364.6,1115.3 366.8,1117.0 369.1,1118.9 371.3,1120.2 373.5,1123.0 375.8,1124.9 378.0,1125.7 380.2,1128.2 382.4,1129.8 384.6,1131.1 386.7,1132.8 388.9,1134.4 391.1,1136.7 393.3,1137.7 395.9,1139.1 398.4,1139.4 401.0,1141.1 403.9,1142.4 406.8,1142.9 409.6,1141.4 412.5,1140.2 415.1,1137.3 417.6,1134.4 420.2,1131.5 423.0,1127.9 425.9,1124.6 428.8,1117.1 431.7,1111.4 433.6,1101.0 437.4,1082.7 440.3,1058.8 444.1,1046.3 446.7,1036.9 449.3,1027.5" fill="none" stroke="#22e822" stroke-width="1.9" stroke-linejoin="round"/>
<rect x="246.2" y="1020.8" width="217.60000000000002" height="183.70000000000005" fill="none" stroke="#000" stroke-width="2"/>
<rect x="475.2" y="1020" width="217.09999999999997" height="187.79999999999995" fill="#efefef"/>
<rect x="501.6" y="1026.3" width="186.0" height="129.4000000000001" fill="#fff" stroke="#c9c9c9" stroke-width="0.8"/>
<rect x="501.6" y="1155.7" width="186.0" height="51.799999999999955" fill="#fff" stroke="#c9c9c9" stroke-width="0.8"/>
<path d="M523.6 1026.3V1155.7M546.6 1026.3V1155.7M569.6 1026.3V1155.7M592.6 1026.3V1155.7M615.6 1026.3V1155.7M638.6 1026.3V1155.7M661.6 1026.3V1155.7M684.6 1026.3V1155.7M501.6 1032.6H687.6M501.6 1057.7H687.6M501.6 1082.8H687.6M501.6 1107.9H687.6M501.6 1133.0H687.6" stroke="#e2e2e2" stroke-width="0.7" stroke-dasharray="1.5 1.5" fill="none"/>
<line x1="501.6" y1="1133" x2="687.6" y2="1133" stroke="#9a9a9a" stroke-width="1"/>
<text x="499.1" y="1035.2" font-size="7.5" fill="#6a6a6a" text-anchor="end">0.4</text>
<text x="499.1" y="1060.3" font-size="7.5" fill="#6a6a6a" text-anchor="end">0.3</text>
<text x="499.1" y="1085.4" font-size="7.5" fill="#6a6a6a" text-anchor="end">0.2</text>
<text x="499.1" y="1110.5" font-size="7.5" fill="#6a6a6a" text-anchor="end">0.1</text>
<text x="499.1" y="1135.6" font-size="7.5" fill="#6a6a6a" text-anchor="end">0.0</text>
<text x="0" y="0" font-size="7.6" fill="#6a6a6a" font-weight="bold" text-anchor="middle" transform="translate(486.7,1091.0) rotate(-90)">Enrichment score (ES)</text>
<text x="0" y="0" font-size="7" fill="#6a6a6a" text-anchor="middle" transform="translate(486.2,1199.3) rotate(-90)">(oise)</text>
<path d="M502.6 1155.7V1196M506.2 1155.7V1196M510.5 1155.7V1196M511.9 1155.7V1196M515.3 1155.7V1196M523.1 1155.7V1196M524.0 1155.7V1196M526.6 1155.7V1196M530.4 1155.7V1196M534.2 1155.7V1196M535.9 1155.7V1196M542.7 1155.7V1196M545.2 1155.7V1196M559.7 1155.7V1196M563.3 1155.7V1196M629.4 1155.7V1196M632.7 1155.7V1196M641.6 1155.7V1196M658.8 1155.7V1196M661.4 1155.7V1196M675.0 1155.7V1196" stroke="#000" stroke-width="1" fill="none" opacity="0.65"/>
<path d="M502.9 1155.7V1196M506.7 1155.7V1196M513.5 1155.7V1196M514.9 1155.7V1196M515.7 1155.7V1196M517.0 1155.7V1196M518.3 1155.7V1196M521.6 1155.7V1196M525.4 1155.7V1196M527.8 1155.7V1196M533.2 1155.7V1196M540.2 1155.7V1196M541.7 1155.7V1196M550.5 1155.7V1196M582.3 1155.7V1196M584.9 1155.7V1196M588.9 1155.7V1196M590.7 1155.7V1196M598.3 1155.7V1196M603.0 1155.7V1196M604.9 1155.7V1196M606.1 1155.7V1196M607.6 1155.7V1196M618.4 1155.7V1196M627.0 1155.7V1196M627.9 1155.7V1196M643.5 1155.7V1196M645.6 1155.7V1196M649.2 1155.7V1196M651.1 1155.7V1196M665.2 1155.7V1196M671.4 1155.7V1196M672.7 1155.7V1196" stroke="#000" stroke-width="1" fill="none" opacity="0.35"/>
<path d="M503.4 1155.7V1196M505.7 1155.7V1196M512.7 1155.7V1196M519.7 1155.7V1196M522.2 1155.7V1196M527.3 1155.7V1196M531.9 1155.7V1196M548.0 1155.7V1196M551.8 1155.7V1196M558.8 1155.7V1196M567.4 1155.7V1196M569.8 1155.7V1196M581.2 1155.7V1196M583.8 1155.7V1196M587.7 1155.7V1196M591.3 1155.7V1196M596.1 1155.7V1196M601.7 1155.7V1196M613.8 1155.7V1196M615.4 1155.7V1196M625.3 1155.7V1196M625.8 1155.7V1196M655.0 1155.7V1196M656.6 1155.7V1196M664.6 1155.7V1196M675.6 1155.7V1196" stroke="#000" stroke-width="1" fill="none" opacity="0.95"/>
<path d="M504.2 1155.7V1196M507.9 1155.7V1196M511.0 1155.7V1196M517.7 1155.7V1196M519.0 1155.7V1196M530.8 1155.7V1196M538.6 1155.7V1196M546.6 1155.7V1196M560.7 1155.7V1196M565.3 1155.7V1196M572.4 1155.7V1196M574.4 1155.7V1196M593.0 1155.7V1196M594.4 1155.7V1196M597.2 1155.7V1196M599.9 1155.7V1196M600.7 1155.7V1196M604.4 1155.7V1196M610.8 1155.7V1196M622.1 1155.7V1196M628.8 1155.7V1196M630.1 1155.7V1196M646.8 1155.7V1196M647.8 1155.7V1196M657.6 1155.7V1196M660.3 1155.7V1196M662.8 1155.7V1196M663.9 1155.7V1196M666.7 1155.7V1196M670.0 1155.7V1196M673.3 1155.7V1196" stroke="#000" stroke-width="1" fill="none" opacity="0.5"/>
<path d="M505.2 1155.7V1196M508.4 1155.7V1196M509.5 1155.7V1196M521.0 1155.7V1196M529.1 1155.7V1196M534.7 1155.7V1196M537.0 1155.7V1196M537.6 1155.7V1196M539.1 1155.7V1196M539.5 1155.7V1196M540.9 1155.7V1196M543.9 1155.7V1196M552.9 1155.7V1196M554.9 1155.7V1196M556.7 1155.7V1196M568.3 1155.7V1196M577.2 1155.7V1196M586.5 1155.7V1196M588.3 1155.7V1196M592.1 1155.7V1196M605.5 1155.7V1196M609.0 1155.7V1196M632.0 1155.7V1196M642.5 1155.7V1196M668.2 1155.7V1196M676.7 1155.7V1196" stroke="#000" stroke-width="1" fill="none" opacity="0.8"/>
<rect x="503" y="1155.7" width="46" height="40.299999999999955" fill="#111" opacity="0.45"/>
<rect x="501.6" y="1196.3" width="176.39999999999998" height="10.200000000000045" fill="url(#cbg3)"/>
<polyline points="501.6,1130.4 504.5,1122.2 507.4,1099.9 511.2,1086.9 513.1,1077.3 517.0,1070.6 520.8,1057.1 522.7,1050.8 525.1,1047.0 527.5,1044.1 530.4,1041.4 533.3,1036.8 536.1,1037.3 539.0,1036.8 541.6,1035.4 544.1,1033.0 546.7,1032.2 550.5,1034.6 552.8,1036.1 555.1,1038.6 557.4,1040.6 559.7,1041.7 562.0,1044.9 564.6,1046.9 567.1,1048.6 569.7,1050.4 571.9,1054.7 574.1,1056.9 576.3,1060.2 578.4,1063.3 580.6,1065.9 582.8,1069.1 585.0,1071.1 587.1,1074.6 589.3,1076.8 591.4,1080.3 593.5,1083.0 595.7,1084.5 597.8,1087.4 599.9,1090.3 602.1,1094.3 604.2,1096.2 606.4,1099.4 608.5,1101.7 610.6,1104.9 612.8,1107.6 615.0,1110.4 617.1,1113.7 619.2,1116.6 621.4,1119.9 623.5,1121.8 625.6,1124.5 627.6,1126.6 629.7,1129.0 631.8,1130.7 633.9,1132.2 636.1,1135.8 638.4,1138.5 640.6,1140.9 643.5,1140.3 646.4,1140.3 649.2,1140.5 652.1,1142.4 654.2,1143.3 656.4,1144.1 658.6,1145.0 660.7,1147.6 662.9,1147.1 665.0,1144.9 667.1,1145.4 669.3,1144.1 672.2,1136.9 676.0,1141.0 678.0,1132.7" fill="none" stroke="#22e822" stroke-width="1.9" stroke-linejoin="round"/>
<rect x="475.2" y="1020" width="217.09999999999997" height="187.79999999999995" fill="none" stroke="#000" stroke-width="2"/>
<text x="125.0" y="1300.9" font-size="20.3">HOXA cluster genes</text>
<rect x="125" y="1309" width="1060" height="170.5" fill="#f7f7f7" stroke="#000" stroke-width="2"/>
<line x1="126.0" y1="1356.5" x2="1184.0" y2="1356.5" stroke="#9a9a9a" stroke-width="1.1"/>
<line x1="126.0" y1="1416.0" x2="1184.0" y2="1416.0" stroke="#9a9a9a" stroke-width="1.1"/>
<line x1="126.0" y1="1475.5" x2="1184.0" y2="1475.5" stroke="#9a9a9a" stroke-width="1.1"/>
<text x="112.0" y="1341.7" font-size="21.5" text-anchor="end">sh<tspan font-style="italic">Luc</tspan></text>
<text x="112.3" y="1399.6" font-size="21.5" text-anchor="end">sh<tspan font-style="italic">DDX18</tspan>#1</text>
<text x="112.3" y="1457.1" font-size="21.5" text-anchor="end">sh<tspan font-style="italic">DDX18</tspan>#3</text>
<text x="1108.0" y="1333.2" font-size="16">[ 0 - 1.0 ]</text>
<text x="1108.0" y="1385.0" font-size="16">[ 0 - 1.0 ]</text>
<text x="1108.0" y="1447.0" font-size="16">[ 0 - 1.0 ]</text>
<path d="M183.0 1356.0v-8.0h1.5v8.0zM186.2 1356.0v-7.6h1.5v7.6zM187.8 1356.0v-4.7h1.5v4.7zM189.4 1356.0v-8.7h1.5v8.7zM191.0 1356.0v-3.8h1.5v3.8zM192.6 1356.0v-3.8h1.5v3.8zM195.8 1356.0v-3.4h1.5v3.4zM200.6 1356.0v-8.5h1.5v8.5zM202.2 1356.0v-3.1h1.5v3.1zM203.8 1356.0v-3.5h1.5v3.5zM205.4 1356.0v-5.2h1.5v5.2zM207.0 1356.0v-7.2h1.5v7.2zM208.6 1356.0v-10.6h1.5v10.6zM210.2 1356.0v-8.8h1.5v8.8zM211.8 1356.0v-9.0h1.5v9.0zM213.4 1356.0v-5.5h1.5v5.5zM219.8 1356.0v-5.8h1.5v5.8zM221.4 1356.0v-5.6h1.5v5.6zM223.0 1356.0v-9.9h1.5v9.9zM224.6 1356.0v-10.6h1.5v10.6zM226.2 1356.0v-11.6h1.5v11.6zM229.4 1356.0v-4.9h1.5v4.9zM232.6 1356.0v-11.8h1.5v11.8zM234.2 1356.0v-3.7h1.5v3.7zM235.8 1356.0v-10.0h1.5v10.0zM237.4 1356.0v-3.8h1.5v3.8zM239.0 1356.0v-11.7h1.5v11.7zM291.6 1356.0v-2.5h1.5v2.5zM293.2 1356.0v-2.1h1.5v2.1zM296.4 1356.0v-3.1h1.5v3.1zM299.6 1356.0v-3.5h1.5v3.5zM352.0 1356.0v-4.6h1.5v4.6zM353.6 1356.0v-4.4h1.5v4.4zM584.0 1356.0v-2.3h1.5v2.3zM585.6 1356.0v-2.8h1.5v2.8zM600.0 1356.0v-3.9h1.5v3.9zM601.6 1356.0v-3.4h1.5v3.4zM693.6 1356.0v-4.6h1.5v4.6zM696.8 1356.0v-5.5h1.5v5.5zM706.0 1356.0v-2.3h1.5v2.3zM707.6 1356.0v-2.1h1.5v2.1zM760.0 1356.0v-3.2h1.5v3.2zM761.6 1356.0v-3.2h1.5v3.2zM763.2 1356.0v-2.9h1.5v2.9zM766.4 1356.0v-3.1h1.5v3.1zM769.6 1356.0v-2.3h1.5v2.3zM779.2 1356.0v-2.6h1.5v2.6zM784.0 1356.0v-4.9h1.5v4.9zM788.8 1356.0v-2.3h1.5v2.3zM790.4 1356.0v-4.9h1.5v4.9zM792.0 1356.0v-4.1h1.5v4.1zM793.6 1356.0v-4.5h1.5v4.5zM796.8 1356.0v-2.5h1.5v2.5zM809.0 1356.0v-2.1h1.5v2.1zM810.6 1356.0v-2.6h1.5v2.6zM830.6 1356.0v-6.7h1.5v6.7zM833.8 1356.0v-5.1h1.5v5.1zM845.0 1356.0v-2.4h1.5v2.4zM846.6 1356.0v-2.2h1.5v2.2zM918.0 1356.0v-3.7h1.5v3.7zM919.6 1356.0v-3.1h1.5v3.1zM943.0 1356.0v-4.2h1.5v4.2zM944.6 1356.0v-3.1h1.5v3.1zM962.0 1356.0v-3.9h1.5v3.9zM963.6 1356.0v-4.0h1.5v4.0zM972.0 1356.0v-3.3h1.5v3.3zM973.6 1356.0v-3.5h1.5v3.5zM1024.0 1356.0v-3.0h1.5v3.0zM1025.6 1356.0v-2.5h1.5v2.5zM1069.0 1356.0v-3.9h1.5v3.9zM1070.6 1356.0v-3.7h1.5v3.7zM665.0 1356.0v-2.9h1.5v2.9zM666.6 1356.0v-2.7h1.5v2.7zM184.0 1356.0v-12.0h1.5v12.0zM190.0 1356.0v-13.0h1.5v13.0zM230.0 1356.0v-13.0h1.5v13.0z" fill="#2a2a2a"/>
<path d="M183.0 1415.5v-9.3h1.5v9.3zM184.6 1415.5v-5.1h1.5v5.1zM186.2 1415.5v-7.0h1.5v7.0zM187.8 1415.5v-10.5h1.5v10.5zM189.4 1415.5v-8.8h1.5v8.8zM191.0 1415.5v-9.3h1.5v9.3zM192.6 1415.5v-7.5h1.5v7.5zM194.2 1415.5v-11.2h1.5v11.2zM195.8 1415.5v-10.6h1.5v10.6zM197.4 1415.5v-9.5h1.5v9.5zM199.0 1415.5v-7.2h1.5v7.2zM200.6 1415.5v-4.1h1.5v4.1zM202.2 1415.5v-11.3h1.5v11.3zM203.8 1415.5v-4.7h1.5v4.7zM208.6 1415.5v-7.4h1.5v7.4zM210.2 1415.5v-6.5h1.5v6.5zM211.8 1415.5v-5.3h1.5v5.3zM213.4 1415.5v-4.4h1.5v4.4zM215.0 1415.5v-10.5h1.5v10.5zM216.6 1415.5v-7.4h1.5v7.4zM218.2 1415.5v-7.8h1.5v7.8zM219.8 1415.5v-4.2h1.5v4.2zM221.4 1415.5v-11.7h1.5v11.7zM224.6 1415.5v-6.9h1.5v6.9zM226.2 1415.5v-9.5h1.5v9.5zM227.8 1415.5v-4.9h1.5v4.9zM229.4 1415.5v-6.9h1.5v6.9zM231.0 1415.5v-10.5h1.5v10.5zM232.6 1415.5v-4.2h1.5v4.2zM234.2 1415.5v-7.4h1.5v7.4zM235.8 1415.5v-5.8h1.5v5.8zM237.4 1415.5v-7.1h1.5v7.1zM239.0 1415.5v-4.8h1.5v4.8zM240.6 1415.5v-5.4h1.5v5.4zM242.2 1415.5v-4.3h1.5v4.3zM243.8 1415.5v-6.8h1.5v6.8zM257.0 1415.5v-4.1h1.5v4.1zM301.0 1415.5v-3.6h1.5v3.6zM302.6 1415.5v-4.4h1.5v4.4zM305.8 1415.5v-5.9h1.5v5.9zM307.4 1415.5v-5.8h1.5v5.8zM309.0 1415.5v-3.6h1.5v3.6zM317.6 1415.5v-3.8h1.5v3.8zM320.8 1415.5v-3.7h1.5v3.7zM322.4 1415.5v-3.1h1.5v3.1zM423.8 1415.5v-4.0h1.5v4.0zM425.4 1415.5v-5.6h1.5v5.6zM478.2 1415.5v-4.6h1.5v4.6zM479.8 1415.5v-4.9h1.5v4.9zM481.4 1415.5v-5.8h1.5v5.8zM484.6 1415.5v-3.9h1.5v3.9zM579.6 1415.5v-17.2h1.5v17.2zM581.2 1415.5v-13.7h1.5v13.7zM582.8 1415.5v-7.0h1.5v7.0zM584.4 1415.5v-7.6h1.5v7.6zM586.0 1415.5v-13.7h1.5v13.7zM587.6 1415.5v-16.4h1.5v16.4zM596.0 1415.5v-6.4h1.5v6.4zM597.6 1415.5v-13.8h1.5v13.8zM599.2 1415.5v-10.2h1.5v10.2zM611.6 1415.5v-4.8h1.5v4.8zM618.0 1415.5v-4.1h1.5v4.1zM633.6 1415.5v-4.4h1.5v4.4zM659.8 1415.5v-3.3h1.5v3.3zM661.4 1415.5v-3.9h1.5v3.9zM683.0 1415.5v-6.7h1.5v6.7zM684.6 1415.5v-6.2h1.5v6.2zM687.8 1415.5v-4.5h1.5v4.5zM689.4 1415.5v-4.9h1.5v4.9zM692.6 1415.5v-3.5h1.5v3.5zM694.2 1415.5v-7.2h1.5v7.2zM700.6 1415.5v-3.2h1.5v3.2zM702.2 1415.5v-5.7h1.5v5.7zM703.8 1415.5v-7.0h1.5v7.0zM705.4 1415.5v-4.4h1.5v4.4zM707.0 1415.5v-8.7h1.5v8.7zM708.6 1415.5v-5.2h1.5v5.2zM710.2 1415.5v-4.2h1.5v4.2zM711.8 1415.5v-4.3h1.5v4.3zM759.6 1415.5v-13.8h1.5v13.8zM761.2 1415.5v-10.5h1.5v10.5zM762.8 1415.5v-15.8h1.5v15.8zM764.4 1415.5v-10.4h1.5v10.4zM769.2 1415.5v-11.5h1.5v11.5zM770.8 1415.5v-9.5h1.5v9.5zM772.4 1415.5v-13.3h1.5v13.3zM775.6 1415.5v-13.5h1.5v13.5zM777.2 1415.5v-14.3h1.5v14.3zM778.8 1415.5v-11.0h1.5v11.0zM780.4 1415.5v-8.3h1.5v8.3zM782.0 1415.5v-7.2h1.5v7.2zM783.6 1415.5v-7.5h1.5v7.5zM785.2 1415.5v-15.3h1.5v15.3zM786.8 1415.5v-17.1h1.5v17.1zM788.4 1415.5v-9.4h1.5v9.4zM793.2 1415.5v-3.9h1.5v3.9zM794.8 1415.5v-8.9h1.5v8.9zM796.4 1415.5v-8.5h1.5v8.5zM798.0 1415.5v-7.3h1.5v7.3zM799.6 1415.5v-5.8h1.5v5.8zM801.2 1415.5v-5.7h1.5v5.7zM802.8 1415.5v-8.7h1.5v8.7zM804.4 1415.5v-4.4h1.5v4.4zM806.0 1415.5v-9.8h1.5v9.8zM807.6 1415.5v-3.4h1.5v3.4zM814.0 1415.5v-8.1h1.5v8.1zM815.6 1415.5v-4.0h1.5v4.0zM820.4 1415.5v-9.2h1.5v9.2zM822.0 1415.5v-5.2h1.5v5.2zM823.6 1415.5v-4.2h1.5v4.2zM825.2 1415.5v-8.0h1.5v8.0zM828.0 1415.5v-8.7h1.5v8.7zM829.6 1415.5v-10.4h1.5v10.4zM832.8 1415.5v-7.4h1.5v7.4zM834.4 1415.5v-13.5h1.5v13.5zM836.0 1415.5v-13.4h1.5v13.4zM837.6 1415.5v-17.2h1.5v17.2zM839.2 1415.5v-14.9h1.5v14.9zM843.0 1415.5v-4.9h1.5v4.9zM844.6 1415.5v-4.2h1.5v4.2zM849.4 1415.5v-5.8h1.5v5.8zM851.0 1415.5v-5.6h1.5v5.6zM857.4 1415.5v-4.2h1.5v4.2zM876.2 1415.5v-3.2h1.5v3.2zM877.8 1415.5v-3.3h1.5v3.3zM879.4 1415.5v-3.0h1.5v3.0zM881.0 1415.5v-3.3h1.5v3.3zM899.6 1415.5v-5.8h1.5v5.8zM902.8 1415.5v-5.7h1.5v5.7zM906.0 1415.5v-8.3h1.5v8.3zM914.0 1415.5v-9.9h1.5v9.9zM915.6 1415.5v-15.7h1.5v15.7zM920.4 1415.5v-20.9h1.5v20.9zM922.0 1415.5v-10.8h1.5v10.8zM938.0 1415.5v-18.7h1.5v18.7zM939.6 1415.5v-10.3h1.5v10.3zM941.2 1415.5v-19.9h1.5v19.9zM944.4 1415.5v-12.5h1.5v12.5zM946.0 1415.5v-22.4h1.5v22.4zM951.6 1415.5v-5.5h1.5v5.5zM954.8 1415.5v-3.9h1.5v3.9zM956.4 1415.5v-5.4h1.5v5.4zM958.0 1415.5v-5.2h1.5v5.2zM962.8 1415.5v-4.7h1.5v4.7zM964.4 1415.5v-5.9h1.5v5.9zM967.6 1415.5v-5.2h1.5v5.2zM972.4 1415.5v-4.2h1.5v4.2zM974.0 1415.5v-7.0h1.5v7.0zM975.6 1415.5v-5.0h1.5v5.0zM978.8 1415.5v-4.6h1.5v4.6zM980.4 1415.5v-4.3h1.5v4.3zM982.0 1415.5v-4.4h1.5v4.4zM985.2 1415.5v-4.3h1.5v4.3zM988.4 1415.5v-5.1h1.5v5.1zM991.6 1415.5v-5.7h1.5v5.7zM993.2 1415.5v-4.0h1.5v4.0zM999.6 1415.5v-4.8h1.5v4.8zM1001.2 1415.5v-6.4h1.5v6.4zM1002.8 1415.5v-3.8h1.5v3.8zM1025.6 1415.5v-10.5h1.5v10.5zM1027.2 1415.5v-6.7h1.5v6.7zM1028.8 1415.5v-8.7h1.5v8.7zM1032.0 1415.5v-7.2h1.5v7.2zM1035.2 1415.5v-8.3h1.5v8.3zM1040.0 1415.5v-5.5h1.5v5.5zM1041.6 1415.5v-10.1h1.5v10.1zM1044.8 1415.5v-10.7h1.5v10.7zM1048.0 1415.5v-9.7h1.5v9.7zM1049.6 1415.5v-5.5h1.5v5.5zM1051.2 1415.5v-6.3h1.5v6.3zM1052.8 1415.5v-3.4h1.5v3.4zM1054.4 1415.5v-5.5h1.5v5.5zM1056.0 1415.5v-4.0h1.5v4.0zM1059.2 1415.5v-6.9h1.5v6.9zM1064.0 1415.5v-4.8h1.5v4.8zM1070.4 1415.5v-5.9h1.5v5.9zM1072.0 1415.5v-10.3h1.5v10.3zM1099.0 1415.5v-3.6h1.5v3.6zM1100.6 1415.5v-3.3h1.5v3.3zM1108.0 1415.5v-3.9h1.5v3.9zM1109.6 1415.5v-3.6h1.5v3.6zM1120.0 1415.5v-3.8h1.5v3.8zM1121.6 1415.5v-3.6h1.5v3.6zM187.0 1415.5v-42.0h1.5v42.0zM767.0 1415.5v-48.0h1.5v48.0zM776.4 1415.5v-48.0h1.5v48.0zM831.0 1415.5v-48.0h1.5v48.0zM835.0 1415.5v-42.0h1.5v42.0zM918.0 1415.5v-45.0h1.5v45.0zM921.0 1415.5v-33.0h1.5v33.0zM940.5 1415.5v-48.0h1.5v48.0zM944.0 1415.5v-48.0h1.5v48.0zM336.0 1415.5v-13.0h1.5v13.0zM600.0 1415.5v-27.0h1.5v27.0zM1040.0 1415.5v-22.0h1.5v22.0zM586.0 1415.5v-18.0h1.5v18.0z" fill="#1f9a9e"/>
<path d="M183.0 1475.0v-16.6h1.5v16.6zM184.6 1475.0v-19.4h1.5v19.4zM186.2 1475.0v-8.9h1.5v8.9zM187.8 1475.0v-8.8h1.5v8.8zM189.4 1475.0v-7.2h1.5v7.2zM191.0 1475.0v-8.6h1.5v8.6zM192.6 1475.0v-12.3h1.5v12.3zM194.2 1475.0v-15.3h1.5v15.3zM195.8 1475.0v-9.7h1.5v9.7zM197.4 1475.0v-19.8h1.5v19.8zM199.0 1475.0v-18.7h1.5v18.7zM200.6 1475.0v-17.7h1.5v17.7zM203.8 1475.0v-9.4h1.5v9.4zM205.4 1475.0v-13.3h1.5v13.3zM207.0 1475.0v-14.6h1.5v14.6zM208.6 1475.0v-11.2h1.5v11.2zM210.2 1475.0v-10.3h1.5v10.3zM211.8 1475.0v-18.9h1.5v18.9zM213.4 1475.0v-21.8h1.5v21.8zM215.0 1475.0v-14.4h1.5v14.4zM216.6 1475.0v-7.3h1.5v7.3zM218.2 1475.0v-12.5h1.5v12.5zM219.8 1475.0v-8.4h1.5v8.4zM221.4 1475.0v-9.3h1.5v9.3zM223.0 1475.0v-15.3h1.5v15.3zM224.6 1475.0v-7.2h1.5v7.2zM226.2 1475.0v-9.0h1.5v9.0zM227.8 1475.0v-8.3h1.5v8.3zM229.4 1475.0v-6.2h1.5v6.2zM231.0 1475.0v-21.2h1.5v21.2zM232.6 1475.0v-17.2h1.5v17.2zM235.8 1475.0v-7.4h1.5v7.4zM237.4 1475.0v-19.2h1.5v19.2zM239.0 1475.0v-7.7h1.5v7.7zM240.6 1475.0v-19.8h1.5v19.8zM257.0 1475.0v-4.8h1.5v4.8zM301.0 1475.0v-4.7h1.5v4.7zM302.6 1475.0v-4.4h1.5v4.4zM304.2 1475.0v-4.9h1.5v4.9zM305.8 1475.0v-4.4h1.5v4.4zM338.0 1475.0v-4.6h1.5v4.6zM422.0 1475.0v-4.6h1.5v4.6zM423.6 1475.0v-4.7h1.5v4.7zM440.0 1475.0v-4.3h1.5v4.3zM441.6 1475.0v-4.7h1.5v4.7zM452.0 1475.0v-4.2h1.5v4.2zM453.6 1475.0v-4.6h1.5v4.6zM455.2 1475.0v-4.5h1.5v4.5zM480.0 1475.0v-4.4h1.5v4.4zM481.6 1475.0v-4.1h1.5v4.1zM580.0 1475.0v-5.0h1.5v5.0zM581.6 1475.0v-3.6h1.5v3.6zM583.2 1475.0v-4.2h1.5v4.2zM584.8 1475.0v-3.9h1.5v3.9zM586.4 1475.0v-4.7h1.5v4.7zM588.0 1475.0v-3.7h1.5v3.7zM589.6 1475.0v-4.9h1.5v4.9zM591.2 1475.0v-3.9h1.5v3.9zM594.4 1475.0v-3.1h1.5v3.1zM596.0 1475.0v-4.8h1.5v4.8zM599.2 1475.0v-4.4h1.5v4.4zM602.4 1475.0v-4.2h1.5v4.2zM604.0 1475.0v-3.5h1.5v3.5zM605.6 1475.0v-3.4h1.5v3.4zM607.2 1475.0v-3.1h1.5v3.1zM608.8 1475.0v-3.2h1.5v3.2zM612.0 1475.0v-3.0h1.5v3.0zM615.2 1475.0v-4.0h1.5v4.0zM616.8 1475.0v-3.7h1.5v3.7zM618.4 1475.0v-3.9h1.5v3.9zM620.0 1475.0v-4.7h1.5v4.7zM621.6 1475.0v-4.6h1.5v4.6zM642.0 1475.0v-3.3h1.5v3.3zM643.6 1475.0v-3.0h1.5v3.0zM645.2 1475.0v-3.4h1.5v3.4zM646.8 1475.0v-3.9h1.5v3.9zM650.0 1475.0v-3.5h1.5v3.5zM651.6 1475.0v-3.8h1.5v3.8zM683.0 1475.0v-7.5h1.5v7.5zM684.6 1475.0v-3.6h1.5v3.6zM686.2 1475.0v-4.2h1.5v4.2zM689.4 1475.0v-5.4h1.5v5.4zM691.0 1475.0v-4.7h1.5v4.7zM694.2 1475.0v-6.6h1.5v6.6zM699.0 1475.0v-7.6h1.5v7.6zM700.6 1475.0v-5.9h1.5v5.9zM707.0 1475.0v-3.7h1.5v3.7zM708.6 1475.0v-7.1h1.5v7.1zM710.2 1475.0v-4.5h1.5v4.5zM713.4 1475.0v-3.4h1.5v3.4zM715.0 1475.0v-3.2h1.5v3.2zM759.6 1475.0v-10.4h1.5v10.4zM766.0 1475.0v-9.6h1.5v9.6zM770.8 1475.0v-10.9h1.5v10.9zM772.4 1475.0v-6.8h1.5v6.8zM775.6 1475.0v-6.4h1.5v6.4zM778.8 1475.0v-4.0h1.5v4.0zM780.4 1475.0v-6.3h1.5v6.3zM782.0 1475.0v-12.4h1.5v12.4zM783.6 1475.0v-11.7h1.5v11.7zM786.8 1475.0v-12.9h1.5v12.9zM790.0 1475.0v-6.4h1.5v6.4zM791.6 1475.0v-12.1h1.5v12.1zM793.2 1475.0v-5.7h1.5v5.7zM794.8 1475.0v-8.3h1.5v8.3zM796.4 1475.0v-9.2h1.5v9.2zM798.0 1475.0v-11.4h1.5v11.4zM799.6 1475.0v-4.9h1.5v4.9zM801.2 1475.0v-6.8h1.5v6.8zM804.4 1475.0v-8.7h1.5v8.7zM807.6 1475.0v-10.7h1.5v10.7zM809.2 1475.0v-7.9h1.5v7.9zM812.4 1475.0v-11.8h1.5v11.8zM814.0 1475.0v-11.6h1.5v11.6zM815.6 1475.0v-4.5h1.5v4.5zM817.2 1475.0v-12.3h1.5v12.3zM818.8 1475.0v-8.4h1.5v8.4zM820.4 1475.0v-6.2h1.5v6.2zM822.0 1475.0v-4.1h1.5v4.1zM823.6 1475.0v-10.8h1.5v10.8zM830.0 1475.0v-8.2h1.5v8.2zM831.6 1475.0v-13.0h1.5v13.0zM833.2 1475.0v-15.1h1.5v15.1zM834.8 1475.0v-7.0h1.5v7.0zM854.0 1475.0v-3.3h1.5v3.3zM858.8 1475.0v-4.3h1.5v4.3zM866.8 1475.0v-4.6h1.5v4.6zM900.0 1475.0v-7.3h1.5v7.3zM903.2 1475.0v-11.6h1.5v11.6zM904.8 1475.0v-9.4h1.5v9.4zM914.6 1475.0v-7.0h1.5v7.0zM916.2 1475.0v-7.8h1.5v7.8zM917.8 1475.0v-10.5h1.5v10.5zM922.6 1475.0v-7.3h1.5v7.3zM924.2 1475.0v-10.0h1.5v10.0zM925.8 1475.0v-5.7h1.5v5.7zM927.4 1475.0v-6.6h1.5v6.6zM929.0 1475.0v-11.7h1.5v11.7zM930.6 1475.0v-11.5h1.5v11.5zM932.2 1475.0v-5.6h1.5v5.6zM935.4 1475.0v-4.9h1.5v4.9zM937.0 1475.0v-4.5h1.5v4.5zM938.6 1475.0v-5.7h1.5v5.7zM940.2 1475.0v-4.1h1.5v4.1zM941.8 1475.0v-4.4h1.5v4.4zM943.4 1475.0v-8.5h1.5v8.5zM969.6 1475.0v-3.2h1.5v3.2zM977.6 1475.0v-5.1h1.5v5.1zM979.2 1475.0v-4.3h1.5v4.3zM980.8 1475.0v-3.8h1.5v3.8zM987.2 1475.0v-5.1h1.5v5.1zM988.8 1475.0v-5.0h1.5v5.0zM990.4 1475.0v-5.6h1.5v5.6zM993.6 1475.0v-5.4h1.5v5.4zM995.2 1475.0v-3.9h1.5v3.9zM996.8 1475.0v-4.3h1.5v4.3zM998.4 1475.0v-5.1h1.5v5.1zM1001.6 1475.0v-5.1h1.5v5.1zM1003.2 1475.0v-4.0h1.5v4.0zM1004.8 1475.0v-3.0h1.5v3.0zM1008.0 1475.0v-3.3h1.5v3.3zM1020.6 1475.0v-4.7h1.5v4.7zM1022.2 1475.0v-3.0h1.5v3.0zM1023.8 1475.0v-4.0h1.5v4.0zM1025.4 1475.0v-6.6h1.5v6.6zM1027.0 1475.0v-4.4h1.5v4.4zM1031.8 1475.0v-6.0h1.5v6.0zM1033.4 1475.0v-5.5h1.5v5.5zM1038.2 1475.0v-6.1h1.5v6.1zM1039.8 1475.0v-5.2h1.5v5.2zM1044.6 1475.0v-3.1h1.5v3.1zM1047.8 1475.0v-4.7h1.5v4.7zM1049.4 1475.0v-5.2h1.5v5.2zM1051.0 1475.0v-6.3h1.5v6.3zM1052.6 1475.0v-5.2h1.5v5.2zM1055.8 1475.0v-5.1h1.5v5.1zM1063.8 1475.0v-5.2h1.5v5.2zM1065.4 1475.0v-4.0h1.5v4.0zM1067.0 1475.0v-5.0h1.5v5.0zM192.0 1475.0v-30.0h1.5v30.0zM204.0 1475.0v-26.0h1.5v26.0zM212.0 1475.0v-20.0h1.5v20.0zM543.0 1475.0v-15.0h1.5v15.0zM778.0 1475.0v-25.0h1.5v25.0zM834.0 1475.0v-28.0h1.5v28.0zM836.0 1475.0v-22.0h1.5v22.0zM944.0 1475.0v-30.0h1.5v30.0zM1053.0 1475.0v-23.0h1.5v23.0zM1055.0 1475.0v-16.0h1.5v16.0z" fill="#3cc9cb"/>
<rect x="110" y="1492" width="1061.7" height="22.5" fill="#f1f1f1"/>
<line x1="165.0" y1="1502.4" x2="1116.0" y2="1502.4" stroke="#222" stroke-width="0.9"/>
<path d="M165.7 1497.9h14.3v9h-14.3zM183.0 1495.9h7.0v13h-7.0zM192.0 1497.9h1.0v9h-1.0zM215.0 1498.9h1.7v7h-1.7zM221.7 1497.9h2.3v9h-2.3zM226.0 1497.9h2.3v9h-2.3zM230.0 1495.9h13.3v13h-13.3zM242.7 1495.9h3.0v13h-3.0zM275.0 1497.9h11.0v9h-11.0zM286.0 1495.9h10.7v13h-10.7zM307.3 1495.9h5.4v13h-5.4zM386.7 1498.9h0.8v7h-0.8zM406.0 1498.9h1.0v7h-1.0zM410.0 1496.4h2.3v12h-2.3zM419.3 1498.4h1.0v8h-1.0zM447.7 1498.9h0.8v7h-0.8zM458.3 1497.9h8.4v9h-8.4zM466.7 1495.9h5.0v13h-5.0zM475.0 1495.9h4.3v13h-4.3zM560.7 1498.9h0.8v7h-0.8zM565.9 1497.9h7.7v9h-7.7zM581.4 1496.4h5.2v12h-5.2zM599.5 1496.4h5.2v12h-5.2zM612.4 1496.4h7.6v12h-7.6zM655.0 1498.4h1.0v8h-1.0zM657.5 1497.9h25.9v9h-25.9zM683.4 1496.4h7.6v12h-7.6zM691.0 1497.9h3.0v9h-3.0zM742.8 1497.9h10.3v9h-10.3zM761.9 1495.9h6.7v13h-6.7zM799.6 1498.9h0.8v7h-0.8zM802.0 1497.9h2.0v9h-2.0zM811.0 1497.9h12.0v9h-12.0zM833.2 1495.9h8.8v13h-8.8zM886.5 1497.9h5.1v9h-5.1zM898.9 1497.9h14.4v9h-14.4zM926.3 1495.9h6.2v13h-6.2zM932.5 1497.9h7.7v9h-7.7zM961.4 1497.9h5.2v9h-5.2zM1009.0 1497.9h32.5v9h-32.5zM1047.7 1495.9h8.8v13h-8.8zM1059.6 1497.9h17.6v9h-17.6zM1094.2 1497.9h21.8v9h-21.8z" fill="#000"/>
<path d="M204.5 1500L207.5 1502.4L204.5 1504.8M330.5 1500L327.5 1502.4L330.5 1504.8M358.2 1500L355.2 1502.4L358.2 1504.8M386.5 1500L383.5 1502.4L386.5 1504.8M429.5 1500L426.5 1502.4L429.5 1504.8M431.5 1500L434.5 1502.4L431.5 1504.8M627.5 1500L630.5 1502.4L627.5 1504.8M780.5 1500L777.5 1502.4L780.5 1504.8M808.9 1500L805.9 1502.4L808.9 1504.8M839.9 1500L836.9 1502.4L839.9 1504.8M863.5 1500L860.5 1502.4L863.5 1504.8M868.3 1500L865.3 1502.4L868.3 1504.8M951.5 1500L954.5 1502.4L951.5 1504.8M1089.1 1500L1092.1 1502.4L1089.1 1504.8" stroke="#3a3ad8" stroke-width="0.9" fill="none"/>
<text x="150.7" y="1529.8" font-size="16">HOXA1</text>
<text x="215.0" y="1529.8" font-size="16">HOXA2</text>
<text x="302.7" y="1529.8" font-size="16">HOXA3</text>
<text x="406.0" y="1529.8" font-size="16">HOXA-AS2</text>
<text x="572.5" y="1529.8" font-size="16">HOXA-AS3</text>
<text x="670.4" y="1529.8" font-size="16">HOXA7</text>
<text x="745.4" y="1529.8" font-size="16">HOXA9</text>
<text x="887.5" y="1529.8" font-size="16">HOXA11</text>
<text x="996.0" y="1529.8" font-size="16">HOXA13</text>
<text x="1071.0" y="1529.8" font-size="16">HOTTIP</text>
<text x="826" y="1006" font-size="20.5" transform="rotate(-58 826 1006)">sh<tspan font-style="italic">Luc</tspan></text>
<text x="859.5" y="1006" font-size="20.5" transform="rotate(-58 859.5 1006)">sh#1</text>
<text x="882.5" y="1006" font-size="20.5" transform="rotate(-58 882.5 1006)">sh#3</text>
<text x="910.5" y="1006" font-size="20.5" transform="rotate(-58 910.5 1006)">sh#1+WT</text>
<text x="938.5" y="1006" font-size="20.5" transform="rotate(-58 938.5 1006)">sh#1+DQAD</text>
<text x="1026.5" y="1006" font-size="20.5" transform="rotate(-58 1026.5 1006)">sh<tspan font-style="italic">Luc</tspan></text>
<text x="1056.5" y="1006" font-size="20.5" transform="rotate(-58 1056.5 1006)">sh#1</text>
<text x="1080.5" y="1006" font-size="20.5" transform="rotate(-58 1080.5 1006)">sh#3</text>
<text x="1107.5" y="1006" font-size="20.5" transform="rotate(-58 1107.5 1006)">sh#1+WT</text>
<text x="1135" y="1006" font-size="20.5" transform="rotate(-58 1135 1006)">sh#1+DQAD</text>
<rect x="811.5" y="1014.4" width="149.3" height="228" fill="url(#cg)"/>
<g filter="url(#gblur)">
<rect x="813" y="1032" width="146" height="3.6" fill="#3f86cc" opacity="0.12"/>
<rect x="813" y="1040" width="146" height="2.5" fill="#3f86cc" opacity="0.18"/>
<rect x="813" y="1051" width="146" height="2.2" fill="#3f86cc" opacity="0.14"/>
<rect x="813" y="1060" width="146" height="3.1" fill="#3f86cc" opacity="0.15"/>
<rect x="813" y="1072" width="146" height="2.3" fill="#3f86cc" opacity="0.16"/>
<rect x="813" y="1084" width="146" height="3.0" fill="#3f86cc" opacity="0.18"/>
<rect x="813" y="1090" width="146" height="2.1" fill="#3f86cc" opacity="0.19"/>
<rect x="813" y="1100" width="146" height="2.3" fill="#3f86cc" opacity="0.18"/>
<rect x="813" y="1112" width="146" height="3.0" fill="#3f86cc" opacity="0.18"/>
<rect x="813" y="1124" width="146" height="2.4" fill="#3f86cc" opacity="0.12"/>
<rect x="813" y="1131" width="146" height="2.2" fill="#3f86cc" opacity="0.17"/>
<rect x="813" y="1143" width="146" height="3.1" fill="#3f86cc" opacity="0.10"/>
<rect x="813" y="1150" width="146" height="2.4" fill="#3f86cc" opacity="0.09"/>
<rect x="813" y="1160" width="146" height="2.4" fill="#3f86cc" opacity="0.15"/>
<rect x="813" y="1172" width="146" height="2.9" fill="#3f86cc" opacity="0.16"/>
<rect x="813" y="1185" width="146" height="2.2" fill="#3f86cc" opacity="0.18"/>
<rect x="813" y="1196" width="146" height="4.0" fill="#3f86cc" opacity="0.17"/>
<rect x="813" y="1206" width="146" height="3.5" fill="#3f86cc" opacity="0.18"/>
<rect x="813" y="1218.5" width="144" height="4" fill="#1f6cc8" opacity="0.55"/>
<rect x="813" y="1225.5" width="144" height="3.5" fill="#1f6cc8" opacity="0.45"/>
</g>
<g filter="url(#gblur)" opacity="0.55">
<rect x="810.5" y="1016" width="4.5" height="225" fill="#b4cfe6"/>
<rect x="836.5" y="1016" width="4.5" height="225" fill="#b4cfe6"/>
<rect x="865.7" y="1016" width="4.5" height="225" fill="#b4cfe6"/>
<rect x="894.9" y="1016" width="4.5" height="225" fill="#b4cfe6"/>
<rect x="923" y="1016" width="4.5" height="225" fill="#b4cfe6"/>
<rect x="951" y="1016" width="4.5" height="225" fill="#b4cfe6"/>
</g>
<rect x="811.5" y="1014.4" width="149.3" height="228" fill="none" stroke="#1a1a1a" stroke-width="1.6"/>
<text x="801.0" y="1035.3" font-size="12.5" text-anchor="end">250 KD</text>
<line x1="800.5" y1="1031.0" x2="811.0" y2="1031.0" stroke="#000" stroke-width="2"/>
<text x="801.0" y="1054.1" font-size="12.5" text-anchor="end">150 KD</text>
<line x1="800.5" y1="1049.8" x2="811.0" y2="1049.8" stroke="#000" stroke-width="2"/>
<text x="801.0" y="1093.7" font-size="12.5" text-anchor="end">75 KD</text>
<line x1="800.5" y1="1089.4" x2="811.0" y2="1089.4" stroke="#000" stroke-width="2"/>
<text x="801.0" y="1133.7" font-size="12.5" text-anchor="end">50 KD</text>
<line x1="800.5" y1="1129.4" x2="811.0" y2="1129.4" stroke="#000" stroke-width="2"/>
<text x="801.0" y="1162.8" font-size="12.5" text-anchor="end">37 KD</text>
<line x1="800.5" y1="1158.5" x2="811.0" y2="1158.5" stroke="#000" stroke-width="2"/>
<text x="801.0" y="1202.6" font-size="12.5" text-anchor="end">25 KD</text>
<line x1="800.5" y1="1198.3" x2="811.0" y2="1198.3" stroke="#000" stroke-width="2"/>
<text x="981.5" y="1122.7" font-size="22" text-anchor="middle" transform="rotate(-90 981.5 1122.7)" letter-spacing="-0.9">Coomassie Blue</text>
<rect x="1001.2" y="1014.3" width="149" height="228" fill="#f3f3f3"/>
<g filter="url(#pblur)">
<rect x="1014" y="1021" width="23.0" height="215" fill="rgb(138,138,138)"/>
<rect x="1014" y="1022.5" width="23.0" height="3.7" fill="rgb(106,106,106)"/>
<rect x="1014" y="1028.5" width="23.0" height="4.7" fill="rgb(47,47,47)"/>
<rect x="1014" y="1034.5" width="23.0" height="4.0" fill="rgb(25,25,25)"/>
<rect x="1014" y="1041.5" width="23.0" height="3.2" fill="rgb(81,81,81)"/>
<rect x="1014" y="1048.5" width="23.0" height="4.2" fill="rgb(101,101,101)"/>
<rect x="1014" y="1055.5" width="23.0" height="3.8" fill="rgb(130,130,130)"/>
<rect x="1014" y="1062.5" width="23.0" height="3.9" fill="rgb(92,92,92)"/>
<rect x="1014" y="1069.5" width="23.0" height="3.3" fill="rgb(91,91,91)"/>
<rect x="1014" y="1076.5" width="23.0" height="3.2" fill="rgb(118,118,118)"/>
<rect x="1014" y="1082.5" width="23.0" height="4.8" fill="rgb(36,36,36)"/>
<rect x="1014" y="1089.5" width="23.0" height="4.5" fill="rgb(98,98,98)"/>
<rect x="1014" y="1096.5" width="23.0" height="4.5" fill="rgb(25,25,25)"/>
<rect x="1014" y="1103.5" width="23.0" height="3.6" fill="rgb(126,126,126)"/>
<rect x="1014" y="1110.5" width="23.0" height="4.5" fill="rgb(94,94,94)"/>
<rect x="1014" y="1117.5" width="23.0" height="3.2" fill="rgb(108,108,108)"/>
<rect x="1014" y="1124.5" width="23.0" height="3.4" fill="rgb(117,117,117)"/>
<rect x="1014" y="1131.5" width="23.0" height="4.6" fill="rgb(116,116,116)"/>
<rect x="1014" y="1138.5" width="23.0" height="4.8" fill="rgb(47,47,47)"/>
<rect x="1014" y="1145.5" width="23.0" height="3.1" fill="rgb(82,82,82)"/>
<rect x="1014" y="1151.5" width="23.0" height="4.0" fill="rgb(58,58,58)"/>
<rect x="1014" y="1158.5" width="23.0" height="3.8" fill="rgb(131,131,131)"/>
<rect x="1014" y="1165.5" width="23.0" height="3.2" fill="rgb(36,36,36)"/>
<rect x="1014" y="1172.5" width="23.0" height="3.2" fill="rgb(25,25,25)"/>
<rect x="1014" y="1179.5" width="23.0" height="4.8" fill="rgb(47,47,47)"/>
<rect x="1014" y="1186.5" width="23.0" height="3.0" fill="rgb(120,120,120)"/>
<rect x="1014" y="1193.5" width="23.0" height="4.1" fill="rgb(127,127,127)"/>
<rect x="1014" y="1200.5" width="23.0" height="3.2" fill="rgb(131,131,131)"/>
<rect x="1014" y="1207.5" width="23.0" height="4.8" fill="rgb(104,104,104)"/>
<rect x="1014" y="1214.5" width="23.0" height="3.8" fill="rgb(108,108,108)"/>
<rect x="1014" y="1220.5" width="23.0" height="3.2" fill="rgb(25,25,25)"/>
<rect x="1014" y="1227.5" width="23.0" height="3.3" fill="rgb(99,99,99)"/>
<rect x="1042" y="1021" width="20.4" height="215" fill="rgb(216,216,216)"/>
<rect x="1042" y="1022.5" width="20.4" height="4.9" fill="rgb(196,196,196)"/>
<rect x="1042" y="1028.5" width="20.4" height="4.1" fill="rgb(171,171,171)"/>
<rect x="1042" y="1034.5" width="20.4" height="3.3" fill="rgb(160,160,160)"/>
<rect x="1042" y="1041.5" width="20.4" height="5.0" fill="rgb(205,205,205)"/>
<rect x="1042" y="1048.5" width="20.4" height="3.2" fill="rgb(185,185,185)"/>
<rect x="1042" y="1055.5" width="20.4" height="4.9" fill="rgb(193,193,193)"/>
<rect x="1042" y="1062.5" width="20.4" height="4.2" fill="rgb(206,206,206)"/>
<rect x="1042" y="1069.5" width="20.4" height="3.7" fill="rgb(211,211,211)"/>
<rect x="1042" y="1076.5" width="20.4" height="4.2" fill="rgb(194,194,194)"/>
<rect x="1042" y="1082.5" width="20.4" height="3.2" fill="rgb(165,165,165)"/>
<rect x="1042" y="1089.5" width="20.4" height="4.7" fill="rgb(203,203,203)"/>
<rect x="1042" y="1096.5" width="20.4" height="3.9" fill="rgb(160,160,160)"/>
<rect x="1042" y="1103.5" width="20.4" height="5.0" fill="rgb(201,201,201)"/>
<rect x="1042" y="1110.5" width="20.4" height="3.0" fill="rgb(197,197,197)"/>
<rect x="1042" y="1117.5" width="20.4" height="3.7" fill="rgb(190,190,190)"/>
<rect x="1042" y="1124.5" width="20.4" height="3.4" fill="rgb(201,201,201)"/>
<rect x="1042" y="1131.5" width="20.4" height="3.6" fill="rgb(200,200,200)"/>
<rect x="1042" y="1138.5" width="20.4" height="4.3" fill="rgb(171,171,171)"/>
<rect x="1042" y="1145.5" width="20.4" height="4.6" fill="rgb(210,210,210)"/>
<rect x="1042" y="1151.5" width="20.4" height="4.6" fill="rgb(176,176,176)"/>
<rect x="1042" y="1158.5" width="20.4" height="4.0" fill="rgb(190,190,190)"/>
<rect x="1042" y="1165.5" width="20.4" height="3.5" fill="rgb(165,165,165)"/>
<rect x="1042" y="1172.5" width="20.4" height="3.9" fill="rgb(160,160,160)"/>
<rect x="1042" y="1179.5" width="20.4" height="4.9" fill="rgb(171,171,171)"/>
<rect x="1042" y="1186.5" width="20.4" height="3.7" fill="rgb(201,201,201)"/>
<rect x="1042" y="1193.5" width="20.4" height="3.7" fill="rgb(189,189,189)"/>
<rect x="1042" y="1200.5" width="20.4" height="3.3" fill="rgb(194,194,194)"/>
<rect x="1042" y="1207.5" width="20.4" height="3.5" fill="rgb(189,189,189)"/>
<rect x="1042" y="1214.5" width="20.4" height="5.0" fill="rgb(211,211,211)"/>
<rect x="1042" y="1220.5" width="20.4" height="4.9" fill="rgb(160,160,160)"/>
<rect x="1042" y="1227.5" width="20.4" height="4.2" fill="rgb(185,185,185)"/>
<rect x="1068" y="1021" width="20.4" height="215" fill="rgb(198,198,198)"/>
<rect x="1068" y="1022.5" width="20.4" height="3.1" fill="rgb(193,193,193)"/>
<rect x="1068" y="1028.5" width="20.4" height="3.8" fill="rgb(135,135,135)"/>
<rect x="1068" y="1034.5" width="20.4" height="4.9" fill="rgb(120,120,120)"/>
<rect x="1068" y="1041.5" width="20.4" height="3.3" fill="rgb(180,180,180)"/>
<rect x="1068" y="1048.5" width="20.4" height="3.3" fill="rgb(172,172,172)"/>
<rect x="1068" y="1055.5" width="20.4" height="4.1" fill="rgb(190,190,190)"/>
<rect x="1068" y="1062.5" width="20.4" height="3.1" fill="rgb(166,166,166)"/>
<rect x="1068" y="1069.5" width="20.4" height="4.4" fill="rgb(176,176,176)"/>
<rect x="1068" y="1076.5" width="20.4" height="3.8" fill="rgb(164,164,164)"/>
<rect x="1068" y="1082.5" width="20.4" height="3.3" fill="rgb(127,127,127)"/>
<rect x="1068" y="1089.5" width="20.4" height="4.5" fill="rgb(166,166,166)"/>
<rect x="1068" y="1096.5" width="20.4" height="4.0" fill="rgb(120,120,120)"/>
<rect x="1068" y="1103.5" width="20.4" height="3.1" fill="rgb(190,190,190)"/>
<rect x="1068" y="1110.5" width="20.4" height="3.3" fill="rgb(173,173,173)"/>
<rect x="1068" y="1117.5" width="20.4" height="3.2" fill="rgb(169,169,169)"/>
<rect x="1068" y="1124.5" width="20.4" height="3.4" fill="rgb(163,163,163)"/>
<rect x="1068" y="1131.5" width="20.4" height="3.4" fill="rgb(193,193,193)"/>
<rect x="1068" y="1138.5" width="20.4" height="4.1" fill="rgb(135,135,135)"/>
<rect x="1068" y="1145.5" width="20.4" height="3.3" fill="rgb(178,178,178)"/>
<rect x="1068" y="1151.5" width="20.4" height="4.9" fill="rgb(143,143,143)"/>
<rect x="1068" y="1158.5" width="20.4" height="4.9" fill="rgb(173,173,173)"/>
<rect x="1068" y="1165.5" width="20.4" height="5.0" fill="rgb(127,127,127)"/>
<rect x="1068" y="1172.5" width="20.4" height="4.1" fill="rgb(120,120,120)"/>
<rect x="1068" y="1179.5" width="20.4" height="4.1" fill="rgb(135,135,135)"/>
<rect x="1068" y="1186.5" width="20.4" height="3.1" fill="rgb(158,158,158)"/>
<rect x="1068" y="1193.5" width="20.4" height="4.1" fill="rgb(169,169,169)"/>
<rect x="1068" y="1200.5" width="20.4" height="4.4" fill="rgb(182,182,182)"/>
<rect x="1068" y="1207.5" width="20.4" height="3.2" fill="rgb(165,165,165)"/>
<rect x="1068" y="1214.5" width="20.4" height="3.9" fill="rgb(166,166,166)"/>
<rect x="1068" y="1220.5" width="20.4" height="4.3" fill="rgb(120,120,120)"/>
<rect x="1068" y="1227.5" width="20.4" height="4.2" fill="rgb(192,192,192)"/>
<rect x="1095" y="1021" width="23.0" height="215" fill="rgb(128,128,128)"/>
<rect x="1095" y="1022.5" width="23.0" height="4.8" fill="rgb(98,98,98)"/>
<rect x="1095" y="1028.5" width="23.0" height="4.6" fill="rgb(29,29,29)"/>
<rect x="1095" y="1034.5" width="23.0" height="4.2" fill="rgb(5,5,5)"/>
<rect x="1095" y="1041.5" width="23.0" height="3.1" fill="rgb(67,67,67)"/>
<rect x="1095" y="1048.5" width="23.0" height="4.2" fill="rgb(85,85,85)"/>
<rect x="1095" y="1055.5" width="23.0" height="3.8" fill="rgb(80,80,80)"/>
<rect x="1095" y="1062.5" width="23.0" height="3.4" fill="rgb(117,117,117)"/>
<rect x="1095" y="1069.5" width="23.0" height="3.4" fill="rgb(84,84,84)"/>
<rect x="1095" y="1076.5" width="23.0" height="3.7" fill="rgb(117,117,117)"/>
<rect x="1095" y="1082.5" width="23.0" height="4.1" fill="rgb(17,17,17)"/>
<rect x="1095" y="1089.5" width="23.0" height="4.6" fill="rgb(120,120,120)"/>
<rect x="1095" y="1096.5" width="23.0" height="4.6" fill="rgb(5,5,5)"/>
<rect x="1095" y="1103.5" width="23.0" height="4.9" fill="rgb(121,121,121)"/>
<rect x="1095" y="1110.5" width="23.0" height="5.0" fill="rgb(85,85,85)"/>
<rect x="1095" y="1117.5" width="23.0" height="4.7" fill="rgb(61,61,61)"/>
<rect x="1095" y="1124.5" width="23.0" height="3.7" fill="rgb(115,115,115)"/>
<rect x="1095" y="1131.5" width="23.0" height="4.6" fill="rgb(107,107,107)"/>
<rect x="1095" y="1138.5" width="23.0" height="3.4" fill="rgb(29,29,29)"/>
<rect x="1095" y="1145.5" width="23.0" height="3.2" fill="rgb(115,115,115)"/>
<rect x="1095" y="1151.5" width="23.0" height="5.0" fill="rgb(41,41,41)"/>
<rect x="1095" y="1158.5" width="23.0" height="4.5" fill="rgb(98,98,98)"/>
<rect x="1095" y="1165.5" width="23.0" height="4.0" fill="rgb(17,17,17)"/>
<rect x="1095" y="1172.5" width="23.0" height="4.3" fill="rgb(5,5,5)"/>
<rect x="1095" y="1179.5" width="23.0" height="3.5" fill="rgb(29,29,29)"/>
<rect x="1095" y="1186.5" width="23.0" height="3.4" fill="rgb(90,90,90)"/>
<rect x="1095" y="1193.5" width="23.0" height="4.9" fill="rgb(94,94,94)"/>
<rect x="1095" y="1200.5" width="23.0" height="3.2" fill="rgb(120,120,120)"/>
<rect x="1095" y="1207.5" width="23.0" height="3.1" fill="rgb(72,72,72)"/>
<rect x="1095" y="1214.5" width="23.0" height="4.7" fill="rgb(106,106,106)"/>
<rect x="1095" y="1220.5" width="23.0" height="3.4" fill="rgb(5,5,5)"/>
<rect x="1095" y="1227.5" width="23.0" height="3.6" fill="rgb(118,118,118)"/>
<rect x="1123" y="1021" width="20.4" height="215" fill="rgb(224,224,224)"/>
<rect x="1123" y="1022.5" width="20.4" height="4.6" fill="rgb(216,216,216)"/>
<rect x="1123" y="1028.5" width="20.4" height="4.6" fill="rgb(192,192,192)"/>
<rect x="1123" y="1034.5" width="20.4" height="4.9" fill="rgb(185,185,185)"/>
<rect x="1123" y="1041.5" width="20.4" height="4.8" fill="rgb(204,204,204)"/>
<rect x="1123" y="1048.5" width="20.4" height="3.2" fill="rgb(203,203,203)"/>
<rect x="1123" y="1055.5" width="20.4" height="3.5" fill="rgb(215,215,215)"/>
<rect x="1123" y="1062.5" width="20.4" height="4.0" fill="rgb(210,210,210)"/>
<rect x="1123" y="1069.5" width="20.4" height="4.7" fill="rgb(215,215,215)"/>
<rect x="1123" y="1076.5" width="20.4" height="3.4" fill="rgb(214,214,214)"/>
<rect x="1123" y="1082.5" width="20.4" height="3.9" fill="rgb(188,188,188)"/>
<rect x="1123" y="1089.5" width="20.4" height="4.1" fill="rgb(210,210,210)"/>
<rect x="1123" y="1096.5" width="20.4" height="3.4" fill="rgb(185,185,185)"/>
<rect x="1123" y="1103.5" width="20.4" height="3.7" fill="rgb(214,214,214)"/>
<rect x="1123" y="1110.5" width="20.4" height="4.1" fill="rgb(218,218,218)"/>
<rect x="1123" y="1117.5" width="20.4" height="4.4" fill="rgb(218,218,218)"/>
<rect x="1123" y="1124.5" width="20.4" height="3.3" fill="rgb(209,209,209)"/>
<rect x="1123" y="1131.5" width="20.4" height="3.7" fill="rgb(209,209,209)"/>
<rect x="1123" y="1138.5" width="20.4" height="4.2" fill="rgb(192,192,192)"/>
<rect x="1123" y="1145.5" width="20.4" height="4.8" fill="rgb(207,207,207)"/>
<rect x="1123" y="1151.5" width="20.4" height="3.4" fill="rgb(196,196,196)"/>
<rect x="1123" y="1158.5" width="20.4" height="3.7" fill="rgb(211,211,211)"/>
<rect x="1123" y="1165.5" width="20.4" height="4.1" fill="rgb(188,188,188)"/>
<rect x="1123" y="1172.5" width="20.4" height="4.7" fill="rgb(185,185,185)"/>
<rect x="1123" y="1179.5" width="20.4" height="4.7" fill="rgb(192,192,192)"/>
<rect x="1123" y="1186.5" width="20.4" height="3.2" fill="rgb(212,212,212)"/>
<rect x="1123" y="1193.5" width="20.4" height="3.6" fill="rgb(208,208,208)"/>
<rect x="1123" y="1200.5" width="20.4" height="3.1" fill="rgb(211,211,211)"/>
<rect x="1123" y="1207.5" width="20.4" height="4.8" fill="rgb(221,221,221)"/>
<rect x="1123" y="1214.5" width="20.4" height="3.3" fill="rgb(221,221,221)"/>
<rect x="1123" y="1220.5" width="20.4" height="3.2" fill="rgb(185,185,185)"/>
<rect x="1123" y="1227.5" width="20.4" height="5.0" fill="rgb(205,205,205)"/>
</g>
<rect x="1001.2" y="1014.3" width="149" height="228" fill="none" stroke="#1a1a1a" stroke-width="1.6"/>
<text x="1173.0" y="1126.5" font-size="22" text-anchor="middle" transform="rotate(-90 1173.0 1126.5)" letter-spacing="-0.7">Anti Puromycin</text>
<rect x="813" y="1250.4" width="148.5" height="31" fill="#e2e2e2" stroke="#1a1a1a" stroke-width="1.8"/>
<g filter="url(#pblur)">
<rect x="826" y="1267.3" width="15.7" height="3.4" rx="1.5" fill="#1a1a1a"/>
<rect x="826" y="1262" width="15.7" height="2.5" rx="1.2" fill="#9a9a9a"/>
<rect x="851" y="1267.3" width="14.6" height="3.4" rx="1.5" fill="#1a1a1a"/>
<rect x="851" y="1262" width="14.6" height="2.5" rx="1.2" fill="#9a9a9a"/>
<rect x="876" y="1267.3" width="12.5" height="3.4" rx="1.5" fill="#1a1a1a"/>
<rect x="876" y="1262" width="12.5" height="2.5" rx="1.2" fill="#9a9a9a"/>
<rect x="900" y="1267.3" width="16.7" height="3.4" rx="1.5" fill="#1a1a1a"/>
<rect x="900" y="1262" width="16.7" height="2.5" rx="1.2" fill="#9a9a9a"/>
<rect x="926.7" y="1267.3" width="17.0" height="3.4" rx="1.5" fill="#1a1a1a"/>
<rect x="926.7" y="1262" width="17.0" height="2.5" rx="1.2" fill="#9a9a9a"/>
</g>
<text x="802.0" y="1257.0" font-size="12.5" text-anchor="end">150 KD</text>
<line x1="801.5" y1="1252.5" x2="813.0" y2="1252.5" stroke="#000" stroke-width="2"/>
<text x="802.0" y="1285.5" font-size="12.5" text-anchor="end">100 KD</text>
<line x1="801.5" y1="1281.0" x2="813.0" y2="1281.0" stroke="#000" stroke-width="2"/>
<text x="756.0" y="1264.0" font-size="15.5" text-anchor="middle" transform="rotate(-90 756.0 1264.0)">VINCULIN</text>
<rect x="1001.2" y="1250.2" width="149" height="31.8" fill="#f0f0f0" stroke="#1a1a1a" stroke-width="1.8"/>
<g filter="url(#pblur)">
<rect x="1013" y="1264" width="22" height="5" rx="2" fill="rgb(82,82,82)"/>
<rect x="1013" y="1254" width="22" height="9" rx="2" fill="rgb(151,151,151)" opacity="0.7"/>
<rect x="1042" y="1264" width="18" height="5" rx="2" fill="rgb(174,174,174)"/>
<rect x="1042" y="1254" width="18" height="9" rx="2" fill="rgb(197,197,197)" opacity="0.7"/>
<rect x="1066" y="1264" width="19" height="5" rx="2" fill="rgb(128,128,128)"/>
<rect x="1066" y="1254" width="19" height="9" rx="2" fill="rgb(174,174,174)" opacity="0.7"/>
<rect x="1092" y="1264" width="25" height="5" rx="2" fill="rgb(94,94,94)"/>
<rect x="1092" y="1254" width="25" height="9" rx="2" fill="rgb(174,174,174)" opacity="0.7"/>
<rect x="1120" y="1264" width="22" height="5" rx="2" fill="rgb(59,59,59)"/>
<rect x="1120" y="1254" width="22" height="9" rx="2" fill="rgb(163,163,163)" opacity="0.7"/>
</g>
<text x="991.5" y="1267.0" font-size="15.5" text-anchor="middle" transform="rotate(-90 991.5 1267.0)">DDX18</text>
<text x="1160.5" y="1257.5" font-size="12.5">100 KD</text>
<line x1="1150.0" y1="1253.0" x2="1160.0" y2="1253.0" stroke="#000" stroke-width="2"/>
<text x="1162.0" y="1284.5" font-size="12.5">75 KD</text>
<line x1="1150.0" y1="1280.0" x2="1160.0" y2="1280.0" stroke="#000" stroke-width="2"/>
</svg>
</body></html>
